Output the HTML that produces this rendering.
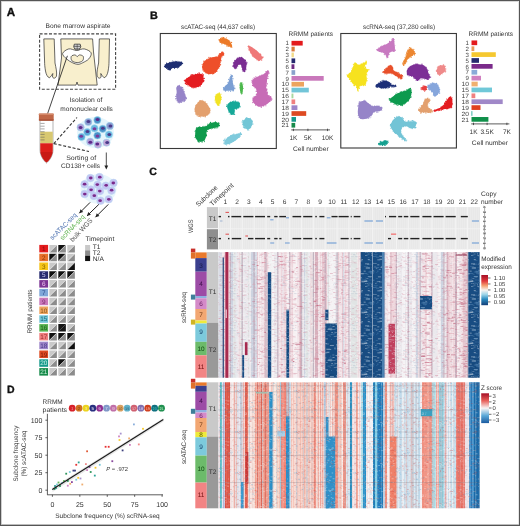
<!DOCTYPE html><html><head><meta charset="utf-8"><title>figure</title><style>html,body{margin:0;padding:0;background:#fff;overflow:hidden}svg{display:block;will-change:transform}text{font-family:"Liberation Sans",sans-serif;text-rendering:geometricPrecision}</style></head><body>
<svg width="520" height="526" viewBox="0 0 520 526">
<rect x="0" y="0" width="520" height="526" fill="#fff" />
<text x="6.7" y="16.3" font-size="11.6" text-anchor="start" fill="#111" font-weight="bold" stroke="#111" stroke-width="0.35" style="">A</text>
<text x="78" y="28.2" font-size="6.6" text-anchor="middle" fill="#333" font-weight="normal" textLength="65" lengthAdjust="spacingAndGlyphs"  style="">Bone marrow aspirate</text>
<path d="M43.8,38.9 L54.2,38.9 L55,63 C56,68 57,72 56.5,76 C55.5,78.5 53.5,78.8 52.5,77 L52.8,73.5 C51.8,75 51,76.5 49.5,77.8 C47.5,77.5 46,74 45.5,71 C44.8,67 44.6,64 44.6,62 Z" fill="#f8efcd" stroke="#2a2a2a" stroke-width="0.7"/>
<path d="M109.5,38.9 L99.3,38.9 L98.6,63 C97.6,68 96.6,72 97.1,76 C98.1,78.5 100.1,78.8 101.1,77 L100.8,73.5 C101.8,75 102.6,76.5 104.1,77.8 C106.1,77.5 107.6,74 108.1,71 C108.8,67 109,64 109,62 Z" fill="#f8efcd" stroke="#2a2a2a" stroke-width="0.7"/>
<path d="M60.8,38.9 L92.6,38.9 L93.5,52 L97.2,85.1 L78,85.1 L77,82 L76,85.1 L58,85.1 L61.5,58 Z" fill="#f8efcd" stroke="#2a2a2a" stroke-width="0.7"/>
<path d="M62.6,53.5C62.98,51.83 66.48,49.42 68.8,48.9C71.12,48.38 73.93,50.4 76.5,50.4C79.07,50.4 81.77,48.5 84.2,48.9C86.63,49.3 90.33,51.13 91.1,52.8C91.87,54.47 90.22,57.23 88.8,58.9C87.38,60.57 84.4,61.9 82.6,62.8C80.8,63.7 79.67,64.3 78,64.3C76.33,64.3 74.52,63.7 72.6,62.8C70.68,61.9 68.17,60.45 66.5,58.9C64.83,57.35 62.22,55.17 62.6,53.5Z" fill="#fff" stroke="#2a2a2a" stroke-width="0.7"/>
<path d="M71.33,56.36C71.85,55.38 74.1,54.88 75.08,54.92C76.05,54.96 76.47,56.6 77.2,56.6C77.93,56.6 78.45,54.96 79.45,54.92C80.45,54.88 82.68,55.38 83.2,56.36C83.72,57.34 83.58,59.76 82.58,60.8C81.58,61.84 78.97,62.6 77.2,62.6C75.43,62.6 72.93,61.84 71.95,60.8C70.97,59.76 70.8,57.34 71.33,56.36Z" fill="#f8efcd" stroke="#2a2a2a" stroke-width="0.7"/>
<path d="M74.3,44.2 L80.2,44.2 L80.8,46.8 L79.2,49.8 L75.3,49.8 L73.7,46.8 Z" fill="#fff" stroke="#2a2a2a" stroke-width="0.8"/>
<line x1="74" y1="46.2" x2="80.5" y2="46.2" stroke="#2a2a2a" stroke-width="0.9" />
<line x1="74.6" y1="48.2" x2="79.9" y2="48.2" stroke="#2a2a2a" stroke-width="0.7" />
<line x1="77.2" y1="44.2" x2="77.2" y2="49.8" stroke="#2a2a2a" stroke-width="0.5" />
<rect x="39.6" y="33.9" width="76" height="55.3" fill="none" stroke="#444" stroke-width="1.1" stroke-dasharray="3,1.7"/>
<line x1="67.4" y1="55.8" x2="47.6" y2="113.6" stroke="#222" stroke-width="0.85" />
<text x="86" y="102.2" font-size="6.6" text-anchor="middle" fill="#333" font-weight="normal" textLength="32.5" lengthAdjust="spacingAndGlyphs"  style="">Isolation of</text>
<text x="86.6" y="110.6" font-size="6.6" text-anchor="middle" fill="#333" font-weight="normal" textLength="52.5" lengthAdjust="spacingAndGlyphs"  style="">mononuclear cells</text>
<path d="M40,120.5 L53,120.5 L53,150 C53,156 49,161 46.5,163 C44,161 40,156 40,150 Z" fill="#fff" stroke="#666" stroke-width="0.5"/>
<rect x="40.25" y="131.7" width="12.5" height="11.5" fill="#d8c870"/>
<path d="M40.25,143.2 L52.75,143.2 L52.75,150 C52.75,156 49,160.6 46.5,162.6 C44,160.6 40.25,156 40.25,150 Z" fill="#dc1f1a"/>
<path d="M40.25,152 C41,157 44,160.6 46.5,162.6 C49,160.6 52,157 52.75,152 Z" fill="#b01510" opacity="0.45"/>
<rect x="38.9" y="113.5" width="14.8" height="7.2" rx="0.8" fill="#c06848"/>
<rect x="38.9" y="113.5" width="14.8" height="1.5" fill="#d89070" opacity="0.8"/>
<rect x="38.9" y="119.2" width="14.8" height="1.5" fill="#a85038" opacity="0.8"/>
<line x1="40.4" y1="123.4" x2="44.6" y2="123.4" stroke="#555" stroke-width="0.5" />
<line x1="40.4" y1="126.2" x2="44.6" y2="126.2" stroke="#555" stroke-width="0.5" />
<line x1="40.4" y1="128.9" x2="44.6" y2="128.9" stroke="#555" stroke-width="0.5" />
<line x1="40.4" y1="131.7" x2="44.6" y2="131.7" stroke="#555" stroke-width="0.5" />
<line x1="40.4" y1="134.4" x2="44.6" y2="134.4" stroke="#555" stroke-width="0.5" />
<line x1="40.4" y1="137.2" x2="44.6" y2="137.2" stroke="#555" stroke-width="0.5" />
<line x1="40.4" y1="139.9" x2="44.6" y2="139.9" stroke="#555" stroke-width="0.5" />
<line x1="53.8" y1="143.6" x2="77" y2="117.5" stroke="#333" stroke-width="1.1" stroke-dasharray="3,1.8"/>
<line x1="53.8" y1="143.6" x2="89" y2="151.5" stroke="#333" stroke-width="1.1" stroke-dasharray="3,1.8"/>
<ellipse cx="95.5" cy="132.5" rx="18.5" ry="15.5" fill="#dff3fb" opacity="0.8"/>
<circle cx="88.3" cy="122" r="3.6" fill="#8a9ad0" stroke="#9ad8f0" stroke-width="0.6"/>
<ellipse cx="88.4" cy="121.5" rx="1.9" ry="1.5" fill="#4a3a8a"/>
<circle cx="97.4" cy="120.1" r="3.6" fill="#4a92c8" stroke="#9ad8f0" stroke-width="0.6"/>
<ellipse cx="97.6" cy="119.5" rx="1.9" ry="1.5" fill="#5a2a8a"/>
<circle cx="80.6" cy="127.3" r="3.6" fill="#b0a0d8" stroke="#9ad8f0" stroke-width="0.6"/>
<ellipse cx="80.6" cy="127.4" rx="1.9" ry="1.5" fill="#5a2a8a"/>
<circle cx="94.5" cy="128.3" r="3.6" fill="#6ab8e0" stroke="#9ad8f0" stroke-width="0.6"/>
<ellipse cx="94.5" cy="128.8" rx="1.9" ry="1.5" fill="#7a3a9a"/>
<circle cx="102.7" cy="128.8" r="3.6" fill="#4a92c8" stroke="#9ad8f0" stroke-width="0.6"/>
<ellipse cx="102.9" cy="128.3" rx="1.9" ry="1.5" fill="#4a3a8a"/>
<circle cx="109.9" cy="125.9" r="3.6" fill="#8a9ad0" stroke="#9ad8f0" stroke-width="0.6"/>
<ellipse cx="110.4" cy="125.9" rx="1.9" ry="1.5" fill="#4a3a8a"/>
<circle cx="87.3" cy="132.1" r="3.6" fill="#5aaad8" stroke="#9ad8f0" stroke-width="0.6"/>
<ellipse cx="87.5" cy="131.5" rx="1.9" ry="1.5" fill="#4a3a8a"/>
<circle cx="81.5" cy="136.9" r="3.6" fill="#5aaad8" stroke="#9ad8f0" stroke-width="0.6"/>
<ellipse cx="81.2" cy="136.2" rx="1.9" ry="1.5" fill="#7a3a9a"/>
<circle cx="97.4" cy="135.5" r="3.6" fill="#4a92c8" stroke="#9ad8f0" stroke-width="0.6"/>
<ellipse cx="97.5" cy="136.1" rx="1.9" ry="1.5" fill="#7a3a9a"/>
<circle cx="108.9" cy="134.5" r="3.6" fill="#6ab8e0" stroke="#9ad8f0" stroke-width="0.6"/>
<ellipse cx="109.3" cy="134.4" rx="1.9" ry="1.5" fill="#4a3a8a"/>
<circle cx="90.2" cy="141.7" r="3.6" fill="#b0a0d8" stroke="#9ad8f0" stroke-width="0.6"/>
<ellipse cx="90.3" cy="142.3" rx="1.9" ry="1.5" fill="#5a2a8a"/>
<circle cx="97.9" cy="144.6" r="3.6" fill="#c4a8d8" stroke="#9ad8f0" stroke-width="0.6"/>
<ellipse cx="97.3" cy="144.1" rx="1.9" ry="1.5" fill="#5a2a8a"/>
<circle cx="106.5" cy="142.7" r="3.6" fill="#c4a8d8" stroke="#9ad8f0" stroke-width="0.6"/>
<ellipse cx="107.2" cy="142.6" rx="1.9" ry="1.5" fill="#4a3a8a"/>
<text x="81.2" y="160.2" font-size="6.6" text-anchor="middle" fill="#333" font-weight="normal" textLength="30" lengthAdjust="spacingAndGlyphs"  style="">Sorting of</text>
<text x="80.6" y="167.8" font-size="6.6" text-anchor="middle" fill="#333" font-weight="normal" textLength="39" lengthAdjust="spacingAndGlyphs"  style="">CD138+ cells</text>
<line x1="106.3" y1="152.5" x2="106.3" y2="167" stroke="#222" stroke-width="0.8" />
<path d="M104.4,165.5 L106.3,169.5 L108.2,165.5 Z" fill="#222"/>
<ellipse cx="98.5" cy="189" rx="18" ry="15" fill="#e4f4fb" opacity="0.8"/>
<circle cx="90.4" cy="178.1" r="3.8" fill="#c4c4f2" stroke="#b8d8f4" stroke-width="0.6"/>
<ellipse cx="90.8" cy="178.0" rx="1.8" ry="1.4" fill="#7a2a8c"/>
<circle cx="99.5" cy="177.1" r="3.8" fill="#c4c4f2" stroke="#b8d8f4" stroke-width="0.6"/>
<ellipse cx="99.8" cy="177.2" rx="1.8" ry="1.4" fill="#7a2a8c"/>
<circle cx="84.6" cy="184.3" r="3.8" fill="#c4c4f2" stroke="#b8d8f4" stroke-width="0.6"/>
<ellipse cx="84.6" cy="184.2" rx="1.8" ry="1.4" fill="#7a2a8c"/>
<circle cx="97.6" cy="184.8" r="3.8" fill="#c4c4f2" stroke="#b8d8f4" stroke-width="0.6"/>
<ellipse cx="97.3" cy="184.6" rx="1.8" ry="1.4" fill="#7a2a8c"/>
<circle cx="105.8" cy="185.8" r="3.8" fill="#c4c4f2" stroke="#b8d8f4" stroke-width="0.6"/>
<ellipse cx="106.2" cy="185.3" rx="1.8" ry="1.4" fill="#7a2a8c"/>
<circle cx="113.5" cy="182.9" r="3.8" fill="#c4c4f2" stroke="#b8d8f4" stroke-width="0.6"/>
<ellipse cx="113.3" cy="183.0" rx="1.8" ry="1.4" fill="#7a2a8c"/>
<circle cx="90.9" cy="189.6" r="3.8" fill="#c4c4f2" stroke="#b8d8f4" stroke-width="0.6"/>
<ellipse cx="91.1" cy="189.8" rx="1.8" ry="1.4" fill="#7a2a8c"/>
<circle cx="100" cy="191.1" r="3.8" fill="#c4c4f2" stroke="#b8d8f4" stroke-width="0.6"/>
<ellipse cx="99.8" cy="191.1" rx="1.8" ry="1.4" fill="#7a2a8c"/>
<circle cx="111.5" cy="190.6" r="3.8" fill="#c4c4f2" stroke="#b8d8f4" stroke-width="0.6"/>
<ellipse cx="111.6" cy="190.2" rx="1.8" ry="1.4" fill="#7a2a8c"/>
<circle cx="84.6" cy="194" r="3.8" fill="#c4c4f2" stroke="#b8d8f4" stroke-width="0.6"/>
<ellipse cx="84.8" cy="194.1" rx="1.8" ry="1.4" fill="#7a2a8c"/>
<circle cx="93.8" cy="195.9" r="3.8" fill="#c4c4f2" stroke="#b8d8f4" stroke-width="0.6"/>
<ellipse cx="94.3" cy="195.7" rx="1.8" ry="1.4" fill="#7a2a8c"/>
<circle cx="100.5" cy="200.7" r="3.8" fill="#c4c4f2" stroke="#b8d8f4" stroke-width="0.6"/>
<ellipse cx="100.1" cy="200.7" rx="1.8" ry="1.4" fill="#7a2a8c"/>
<circle cx="108.7" cy="199.3" r="3.8" fill="#c4c4f2" stroke="#b8d8f4" stroke-width="0.6"/>
<ellipse cx="108.8" cy="199.3" rx="1.8" ry="1.4" fill="#7a2a8c"/>
<line x1="90.1" y1="202.4" x2="79.3" y2="213.2" stroke="#222" stroke-width="1.0" />
<path d="M79.3,213.2 L80.5,209.31 L83.19,212 Z" fill="#222"/>
<line x1="98.8" y1="204.4" x2="87" y2="215.9" stroke="#222" stroke-width="1.0" />
<path d="M87,215.9 L88.25,212.03 L90.9,214.75 Z" fill="#222"/>
<line x1="108.3" y1="204.4" x2="95.5" y2="217.2" stroke="#222" stroke-width="1.0" />
<path d="M95.5,217.2 L96.7,213.31 L99.39,216 Z" fill="#222"/>
<text transform="translate(52.6,240.3) rotate(-45)" font-size="6.8" fill="#4a6fb0" style="font-family:"Liberation Sans", sans-serif" textLength="35" lengthAdjust="spacingAndGlyphs">scATAC-seq</text>
<text transform="translate(62.7,240.5) rotate(-45.8)" font-size="6.8" fill="#5ab04a" style="font-family:"Liberation Sans", sans-serif" textLength="32.5" lengthAdjust="spacingAndGlyphs">scRNA-seq</text>
<text transform="translate(72.8,242.3) rotate(-46.8)" font-size="6.8" fill="#555" style="font-family:"Liberation Sans", sans-serif" textLength="29.5" lengthAdjust="spacingAndGlyphs">bulk WGS</text>
<text x="85.4" y="241" font-size="6.6" text-anchor="start" fill="#333" font-weight="normal" textLength="29" lengthAdjust="spacingAndGlyphs"  style="">Timepoint</text>
<rect x="85.1" y="245" width="5" height="5.35" fill="#c9c9c9" />
<text x="92.8" y="249.2" font-size="6.6" text-anchor="start" fill="#333" font-weight="normal"  style="">T1</text>
<rect x="85.1" y="250.35" width="5" height="5.35" fill="#8c8c8c" />
<text x="92.8" y="254.9" font-size="6.6" text-anchor="start" fill="#333" font-weight="normal"  style="">T2</text>
<rect x="85.1" y="255.7" width="5" height="5.35" fill="#111" />
<text x="92.8" y="260.6" font-size="6.6" text-anchor="start" fill="#333" font-weight="normal"  style="">N/A</text>
<rect x="39.3" y="244.9" width="8.8" height="7.5" fill="#e31a1c" />
<text x="43.7" y="251" font-size="6.4" text-anchor="middle" fill="#8a0a0c" font-weight="normal"  style="">1</text>
<path d="M49.3,244.9 L56.9,244.9 L49.3,252.4 Z" fill="#c9c9c9"/>
<path d="M56.9,244.9 L56.9,252.4 L49.3,252.4 Z" fill="#8c8c8c"/>
<line x1="49.3" y1="252.4" x2="56.9" y2="244.9" stroke="#fff" stroke-width="0.5"/>
<path d="M58.3,244.9 L65.9,244.9 L58.3,252.4 Z" fill="#111"/>
<path d="M65.9,244.9 L65.9,252.4 L58.3,252.4 Z" fill="#8c8c8c"/>
<line x1="58.3" y1="252.4" x2="65.9" y2="244.9" stroke="#fff" stroke-width="0.5"/>
<path d="M67.3,244.9 L74.9,244.9 L67.3,252.4 Z" fill="#c9c9c9"/>
<path d="M74.9,244.9 L74.9,252.4 L67.3,252.4 Z" fill="#8c8c8c"/>
<line x1="67.3" y1="252.4" x2="74.9" y2="244.9" stroke="#fff" stroke-width="0.5"/>
<rect x="39.3" y="253.7" width="8.8" height="7.5" fill="#e8702a" />
<text x="43.7" y="259.8" font-size="6.4" text-anchor="middle" fill="#8a3a0a" font-weight="normal"  style="">2</text>
<path d="M49.3,253.7 L56.9,253.7 L49.3,261.2 Z" fill="#111"/>
<path d="M56.9,253.7 L56.9,261.2 L49.3,261.2 Z" fill="#8c8c8c"/>
<line x1="49.3" y1="261.2" x2="56.9" y2="253.7" stroke="#fff" stroke-width="0.5"/>
<path d="M58.3,253.7 L65.9,253.7 L58.3,261.2 Z" fill="#111"/>
<path d="M65.9,253.7 L65.9,261.2 L58.3,261.2 Z" fill="#8c8c8c"/>
<line x1="58.3" y1="261.2" x2="65.9" y2="253.7" stroke="#fff" stroke-width="0.5"/>
<path d="M67.3,253.7 L74.9,253.7 L67.3,261.2 Z" fill="#c9c9c9"/>
<path d="M74.9,253.7 L74.9,261.2 L67.3,261.2 Z" fill="#8c8c8c"/>
<line x1="67.3" y1="261.2" x2="74.9" y2="253.7" stroke="#fff" stroke-width="0.5"/>
<rect x="39.3" y="262.5" width="8.8" height="7.5" fill="#f6c417" />
<text x="43.7" y="268.6" font-size="6.4" text-anchor="middle" fill="#8a6a00" font-weight="normal"  style="">3</text>
<path d="M49.3,262.5 L56.9,262.5 L49.3,270 Z" fill="#c9c9c9"/>
<path d="M56.9,262.5 L56.9,270 L49.3,270 Z" fill="#8c8c8c"/>
<line x1="49.3" y1="270" x2="56.9" y2="262.5" stroke="#fff" stroke-width="0.5"/>
<path d="M58.3,262.5 L65.9,262.5 L58.3,270 Z" fill="#c9c9c9"/>
<path d="M65.9,262.5 L65.9,270 L58.3,270 Z" fill="#8c8c8c"/>
<line x1="58.3" y1="270" x2="65.9" y2="262.5" stroke="#fff" stroke-width="0.5"/>
<path d="M67.3,262.5 L74.9,262.5 L67.3,270 Z" fill="#c9c9c9"/>
<path d="M74.9,262.5 L74.9,270 L67.3,270 Z" fill="#111"/>
<line x1="67.3" y1="270" x2="74.9" y2="262.5" stroke="#fff" stroke-width="0.5"/>
<rect x="39.3" y="271.3" width="8.8" height="7.5" fill="#262a6e" />
<text x="43.7" y="277.4" font-size="6.4" text-anchor="middle" fill="#c8c8f0" font-weight="normal"  style="">5</text>
<path d="M49.3,271.3 L56.9,271.3 L49.3,278.8 Z" fill="#111"/>
<path d="M56.9,271.3 L56.9,278.8 L49.3,278.8 Z" fill="#8c8c8c"/>
<line x1="49.3" y1="278.8" x2="56.9" y2="271.3" stroke="#fff" stroke-width="0.5"/>
<path d="M58.3,271.3 L65.9,271.3 L58.3,278.8 Z" fill="#111"/>
<path d="M65.9,271.3 L65.9,278.8 L58.3,278.8 Z" fill="#8c8c8c"/>
<line x1="58.3" y1="278.8" x2="65.9" y2="271.3" stroke="#fff" stroke-width="0.5"/>
<path d="M67.3,271.3 L74.9,271.3 L67.3,278.8 Z" fill="#111"/>
<path d="M74.9,271.3 L74.9,278.8 L67.3,278.8 Z" fill="#8c8c8c"/>
<line x1="67.3" y1="278.8" x2="74.9" y2="271.3" stroke="#fff" stroke-width="0.5"/>
<rect x="39.3" y="280.1" width="8.8" height="7.5" fill="#7d3594" />
<text x="43.7" y="286.2" font-size="6.4" text-anchor="middle" fill="#f0c8f0" font-weight="normal"  style="">6</text>
<path d="M49.3,280.1 L56.9,280.1 L49.3,287.6 Z" fill="#c9c9c9"/>
<path d="M56.9,280.1 L56.9,287.6 L49.3,287.6 Z" fill="#8c8c8c"/>
<line x1="49.3" y1="287.6" x2="56.9" y2="280.1" stroke="#fff" stroke-width="0.5"/>
<path d="M58.3,280.1 L65.9,280.1 L58.3,287.6 Z" fill="#c9c9c9"/>
<path d="M65.9,280.1 L65.9,287.6 L58.3,287.6 Z" fill="#8c8c8c"/>
<line x1="58.3" y1="287.6" x2="65.9" y2="280.1" stroke="#fff" stroke-width="0.5"/>
<path d="M67.3,280.1 L74.9,280.1 L67.3,287.6 Z" fill="#c9c9c9"/>
<path d="M74.9,280.1 L74.9,287.6 L67.3,287.6 Z" fill="#8c8c8c"/>
<line x1="67.3" y1="287.6" x2="74.9" y2="280.1" stroke="#fff" stroke-width="0.5"/>
<rect x="39.3" y="288.9" width="8.8" height="7.5" fill="#7ea6d8" />
<text x="43.7" y="295" font-size="6.4" text-anchor="middle" fill="#2a4a8a" font-weight="normal"  style="">7</text>
<path d="M49.3,288.9 L56.9,288.9 L49.3,296.4 Z" fill="#c9c9c9"/>
<path d="M56.9,288.9 L56.9,296.4 L49.3,296.4 Z" fill="#8c8c8c"/>
<line x1="49.3" y1="296.4" x2="56.9" y2="288.9" stroke="#fff" stroke-width="0.5"/>
<path d="M58.3,288.9 L65.9,288.9 L58.3,296.4 Z" fill="#c9c9c9"/>
<path d="M65.9,288.9 L65.9,296.4 L58.3,296.4 Z" fill="#8c8c8c"/>
<line x1="58.3" y1="296.4" x2="65.9" y2="288.9" stroke="#fff" stroke-width="0.5"/>
<path d="M67.3,288.9 L74.9,288.9 L67.3,296.4 Z" fill="#c9c9c9"/>
<path d="M74.9,288.9 L74.9,296.4 L67.3,296.4 Z" fill="#8c8c8c"/>
<line x1="67.3" y1="296.4" x2="74.9" y2="288.9" stroke="#fff" stroke-width="0.5"/>
<rect x="39.3" y="297.7" width="8.8" height="7.5" fill="#c978bb" />
<text x="43.7" y="303.8" font-size="6.4" text-anchor="middle" fill="#7a2a6a" font-weight="normal"  style="">9</text>
<path d="M49.3,297.7 L56.9,297.7 L49.3,305.2 Z" fill="#c9c9c9"/>
<path d="M56.9,297.7 L56.9,305.2 L49.3,305.2 Z" fill="#8c8c8c"/>
<line x1="49.3" y1="305.2" x2="56.9" y2="297.7" stroke="#fff" stroke-width="0.5"/>
<path d="M58.3,297.7 L65.9,297.7 L58.3,305.2 Z" fill="#c9c9c9"/>
<path d="M65.9,297.7 L65.9,305.2 L58.3,305.2 Z" fill="#8c8c8c"/>
<line x1="58.3" y1="305.2" x2="65.9" y2="297.7" stroke="#fff" stroke-width="0.5"/>
<path d="M67.3,297.7 L74.9,297.7 L67.3,305.2 Z" fill="#c9c9c9"/>
<path d="M74.9,297.7 L74.9,305.2 L67.3,305.2 Z" fill="#8c8c8c"/>
<line x1="67.3" y1="305.2" x2="74.9" y2="297.7" stroke="#fff" stroke-width="0.5"/>
<rect x="39.3" y="306.5" width="8.8" height="7.5" fill="#eda45f" />
<text x="43.7" y="312.6" font-size="6.4" text-anchor="middle" fill="#8a5a1a" font-weight="normal"  style="">10</text>
<path d="M49.3,306.5 L56.9,306.5 L49.3,314 Z" fill="#c9c9c9"/>
<path d="M56.9,306.5 L56.9,314 L49.3,314 Z" fill="#8c8c8c"/>
<line x1="49.3" y1="314" x2="56.9" y2="306.5" stroke="#fff" stroke-width="0.5"/>
<path d="M58.3,306.5 L65.9,306.5 L58.3,314 Z" fill="#c9c9c9"/>
<path d="M65.9,306.5 L65.9,314 L58.3,314 Z" fill="#8c8c8c"/>
<line x1="58.3" y1="314" x2="65.9" y2="306.5" stroke="#fff" stroke-width="0.5"/>
<path d="M67.3,306.5 L74.9,306.5 L67.3,314 Z" fill="#c9c9c9"/>
<path d="M74.9,306.5 L74.9,314 L67.3,314 Z" fill="#8c8c8c"/>
<line x1="67.3" y1="314" x2="74.9" y2="306.5" stroke="#fff" stroke-width="0.5"/>
<rect x="39.3" y="315.3" width="8.8" height="7.5" fill="#72c5d8" />
<text x="43.7" y="321.4" font-size="6.4" text-anchor="middle" fill="#1a6a7a" font-weight="normal"  style="">15</text>
<path d="M49.3,315.3 L56.9,315.3 L49.3,322.8 Z" fill="#c9c9c9"/>
<path d="M56.9,315.3 L56.9,322.8 L49.3,322.8 Z" fill="#8c8c8c"/>
<line x1="49.3" y1="322.8" x2="56.9" y2="315.3" stroke="#fff" stroke-width="0.5"/>
<path d="M58.3,315.3 L65.9,315.3 L58.3,322.8 Z" fill="#c9c9c9"/>
<path d="M65.9,315.3 L65.9,322.8 L58.3,322.8 Z" fill="#8c8c8c"/>
<line x1="58.3" y1="322.8" x2="65.9" y2="315.3" stroke="#fff" stroke-width="0.5"/>
<path d="M67.3,315.3 L74.9,315.3 L67.3,322.8 Z" fill="#c9c9c9"/>
<path d="M74.9,315.3 L74.9,322.8 L67.3,322.8 Z" fill="#8c8c8c"/>
<line x1="67.3" y1="322.8" x2="74.9" y2="315.3" stroke="#fff" stroke-width="0.5"/>
<rect x="39.3" y="324.1" width="8.8" height="7.5" fill="#55b24f" />
<text x="43.7" y="330.2" font-size="6.4" text-anchor="middle" fill="#1a5a1a" font-weight="normal"  style="">16</text>
<path d="M49.3,324.1 L56.9,324.1 L49.3,331.6 Z" fill="#c9c9c9"/>
<path d="M56.9,324.1 L56.9,331.6 L49.3,331.6 Z" fill="#8c8c8c"/>
<line x1="49.3" y1="331.6" x2="56.9" y2="324.1" stroke="#fff" stroke-width="0.5"/>
<path d="M58.3,324.1 L65.9,324.1 L58.3,331.6 Z" fill="#161616"/>
<path d="M65.9,324.1 L65.9,331.6 L58.3,331.6 Z" fill="#161616"/>
<path d="M67.3,324.1 L74.9,324.1 L67.3,331.6 Z" fill="#c9c9c9"/>
<path d="M74.9,324.1 L74.9,331.6 L67.3,331.6 Z" fill="#8c8c8c"/>
<line x1="67.3" y1="331.6" x2="74.9" y2="324.1" stroke="#fff" stroke-width="0.5"/>
<rect x="39.3" y="332.9" width="8.8" height="7.5" fill="#ef8080" />
<text x="43.7" y="339" font-size="6.4" text-anchor="middle" fill="#9a2a2a" font-weight="normal"  style="">17</text>
<path d="M49.3,332.9 L56.9,332.9 L49.3,340.4 Z" fill="#111"/>
<path d="M56.9,332.9 L56.9,340.4 L49.3,340.4 Z" fill="#8c8c8c"/>
<line x1="49.3" y1="340.4" x2="56.9" y2="332.9" stroke="#fff" stroke-width="0.5"/>
<path d="M58.3,332.9 L65.9,332.9 L58.3,340.4 Z" fill="#111"/>
<path d="M65.9,332.9 L65.9,340.4 L58.3,340.4 Z" fill="#8c8c8c"/>
<line x1="58.3" y1="340.4" x2="65.9" y2="332.9" stroke="#fff" stroke-width="0.5"/>
<path d="M67.3,332.9 L74.9,332.9 L67.3,340.4 Z" fill="#111"/>
<path d="M74.9,332.9 L74.9,340.4 L67.3,340.4 Z" fill="#8c8c8c"/>
<line x1="67.3" y1="340.4" x2="74.9" y2="332.9" stroke="#fff" stroke-width="0.5"/>
<rect x="39.3" y="341.7" width="8.8" height="7.5" fill="#9d86c9" />
<text x="43.7" y="347.8" font-size="6.4" text-anchor="middle" fill="#4a3a8a" font-weight="normal"  style="">18</text>
<path d="M49.3,341.7 L56.9,341.7 L49.3,349.2 Z" fill="#c9c9c9"/>
<path d="M56.9,341.7 L56.9,349.2 L49.3,349.2 Z" fill="#8c8c8c"/>
<line x1="49.3" y1="349.2" x2="56.9" y2="341.7" stroke="#fff" stroke-width="0.5"/>
<path d="M58.3,341.7 L65.9,341.7 L58.3,349.2 Z" fill="#c9c9c9"/>
<path d="M65.9,341.7 L65.9,349.2 L58.3,349.2 Z" fill="#8c8c8c"/>
<line x1="58.3" y1="349.2" x2="65.9" y2="341.7" stroke="#fff" stroke-width="0.5"/>
<path d="M67.3,341.7 L74.9,341.7 L67.3,349.2 Z" fill="#c9c9c9"/>
<path d="M74.9,341.7 L74.9,349.2 L67.3,349.2 Z" fill="#111"/>
<line x1="67.3" y1="349.2" x2="74.9" y2="341.7" stroke="#fff" stroke-width="0.5"/>
<rect x="39.3" y="350.5" width="8.8" height="7.5" fill="#dd4a22" />
<text x="43.7" y="356.6" font-size="6.4" text-anchor="middle" fill="#7a1a0a" font-weight="normal"  style="">19</text>
<path d="M49.3,350.5 L56.9,350.5 L49.3,358 Z" fill="#c9c9c9"/>
<path d="M56.9,350.5 L56.9,358 L49.3,358 Z" fill="#8c8c8c"/>
<line x1="49.3" y1="358" x2="56.9" y2="350.5" stroke="#fff" stroke-width="0.5"/>
<path d="M58.3,350.5 L65.9,350.5 L58.3,358 Z" fill="#c9c9c9"/>
<path d="M65.9,350.5 L65.9,358 L58.3,358 Z" fill="#8c8c8c"/>
<line x1="58.3" y1="358" x2="65.9" y2="350.5" stroke="#fff" stroke-width="0.5"/>
<path d="M67.3,350.5 L74.9,350.5 L67.3,358 Z" fill="#c9c9c9"/>
<path d="M74.9,350.5 L74.9,358 L67.3,358 Z" fill="#8c8c8c"/>
<line x1="67.3" y1="358" x2="74.9" y2="350.5" stroke="#fff" stroke-width="0.5"/>
<rect x="39.3" y="359.3" width="8.8" height="7.5" fill="#15998a" />
<text x="43.7" y="365.4" font-size="6.4" text-anchor="middle" fill="#c8f0e8" font-weight="normal"  style="">20</text>
<path d="M49.3,359.3 L56.9,359.3 L49.3,366.8 Z" fill="#c9c9c9"/>
<path d="M56.9,359.3 L56.9,366.8 L49.3,366.8 Z" fill="#8c8c8c"/>
<line x1="49.3" y1="366.8" x2="56.9" y2="359.3" stroke="#fff" stroke-width="0.5"/>
<path d="M58.3,359.3 L65.9,359.3 L58.3,366.8 Z" fill="#111"/>
<path d="M65.9,359.3 L65.9,366.8 L58.3,366.8 Z" fill="#8c8c8c"/>
<line x1="58.3" y1="366.8" x2="65.9" y2="359.3" stroke="#fff" stroke-width="0.5"/>
<path d="M67.3,359.3 L74.9,359.3 L67.3,366.8 Z" fill="#c9c9c9"/>
<path d="M74.9,359.3 L74.9,366.8 L67.3,366.8 Z" fill="#8c8c8c"/>
<line x1="67.3" y1="366.8" x2="74.9" y2="359.3" stroke="#fff" stroke-width="0.5"/>
<rect x="39.3" y="368.1" width="8.8" height="7.5" fill="#168a4a" />
<text x="43.7" y="374.2" font-size="6.4" text-anchor="middle" fill="#c8f0d8" font-weight="normal"  style="">21</text>
<path d="M49.3,368.1 L56.9,368.1 L49.3,375.6 Z" fill="#c9c9c9"/>
<path d="M56.9,368.1 L56.9,375.6 L49.3,375.6 Z" fill="#8c8c8c"/>
<line x1="49.3" y1="375.6" x2="56.9" y2="368.1" stroke="#fff" stroke-width="0.5"/>
<path d="M58.3,368.1 L65.9,368.1 L58.3,375.6 Z" fill="#c9c9c9"/>
<path d="M65.9,368.1 L65.9,375.6 L58.3,375.6 Z" fill="#8c8c8c"/>
<line x1="58.3" y1="375.6" x2="65.9" y2="368.1" stroke="#fff" stroke-width="0.5"/>
<path d="M67.3,368.1 L74.9,368.1 L67.3,375.6 Z" fill="#c9c9c9"/>
<path d="M74.9,368.1 L74.9,375.6 L67.3,375.6 Z" fill="#8c8c8c"/>
<line x1="67.3" y1="375.6" x2="74.9" y2="368.1" stroke="#fff" stroke-width="0.5"/>
<text transform="translate(31.8,333.5) rotate(-90)" font-size="6.6" fill="#333" style="font-family:"Liberation Sans", sans-serif" textLength="44" lengthAdjust="spacingAndGlyphs">RRMM patients</text>
<text x="149.9" y="18.5" font-size="10.8" text-anchor="start" fill="#111" font-weight="bold" stroke="#111" stroke-width="0.35" style="">B</text>
<text x="218" y="28.6" font-size="6.6" text-anchor="middle" fill="#333" font-weight="normal" textLength="74" lengthAdjust="spacingAndGlyphs"  style="">scATAC-seq (44,637 cells)</text>
<rect x="160.3" y="33.5" width="116" height="115" fill="#fff" stroke="#383838" stroke-width="1.1"/>
<path d="M219.2,40C219.33,39.15 221.13,38.25 222.3,38C223.47,37.75 224.92,37.92 226.2,38.5C227.48,39.08 229.03,40.35 230,41.5C230.97,42.65 231.75,44.5 232,45.4C232.25,46.3 231.97,46.77 231.5,46.9C231.03,47.03 230.22,46.58 229.2,46.2C228.18,45.82 226.68,45.12 225.4,44.6C224.12,44.08 222.53,43.87 221.5,43.1C220.47,42.33 219.07,40.85 219.2,40Z" fill="#ec7a28" />
<path fill="#ec7a28" d="M218.32 39.65a0.43 0.43 0 1 0 0.86 0a0.43 0.43 0 1 0 -0.86 0zM219.33 39.42a0.5 0.5 0 1 0 1.01 0a0.5 0.5 0 1 0 -1.01 0zM220 38.38a0.52 0.52 0 1 0 1.04 0a0.52 0.52 0 1 0 -1.04 0zM221.09 37.81a0.51 0.51 0 1 0 1.01 0a0.51 0.51 0 1 0 -1.01 0zM222.06 38.31a0.73 0.73 0 1 0 1.46 0a0.73 0.73 0 1 0 -1.46 0zM222.39 37.2a0.51 0.51 0 1 0 1.02 0a0.51 0.51 0 1 0 -1.02 0zM223.01 37.84a0.75 0.75 0 1 0 1.49 0a0.75 0.75 0 1 0 -1.49 0zM225.86 37.83a0.44 0.44 0 1 0 0.87 0a0.44 0.44 0 1 0 -0.87 0zM228.32 40.65a0.36 0.36 0 1 0 0.72 0a0.36 0.36 0 1 0 -0.72 0zM228.08 40.36a0.52 0.52 0 1 0 1.04 0a0.52 0.52 0 1 0 -1.04 0zM229.16 40.65a0.48 0.48 0 1 0 0.96 0a0.48 0.48 0 1 0 -0.96 0zM229.58 41.83a0.43 0.43 0 1 0 0.87 0a0.43 0.43 0 1 0 -0.87 0zM230.95 42.49a0.63 0.63 0 1 0 1.26 0a0.63 0.63 0 1 0 -1.26 0zM231.11 44.94a0.39 0.39 0 1 0 0.78 0a0.39 0.39 0 1 0 -0.78 0zM231.25 45.8a0.41 0.41 0 1 0 0.82 0a0.41 0.41 0 1 0 -0.82 0zM230.81 46.01a0.68 0.68 0 1 0 1.36 0a0.68 0.68 0 1 0 -1.36 0zM230.59 46.34a0.58 0.58 0 1 0 1.17 0a0.58 0.58 0 1 0 -1.17 0zM230.85 46.71a0.68 0.68 0 1 0 1.36 0a0.68 0.68 0 1 0 -1.36 0zM231.64 47.49a0.39 0.39 0 1 0 0.77 0a0.39 0.39 0 1 0 -0.77 0zM230.3 47.12a0.53 0.53 0 1 0 1.06 0a0.53 0.53 0 1 0 -1.06 0zM230.17 46.35a0.7 0.7 0 1 0 1.4 0a0.7 0.7 0 1 0 -1.4 0zM229.46 45.76a0.47 0.47 0 1 0 0.94 0a0.47 0.47 0 1 0 -0.94 0zM228.12 46.2a0.74 0.74 0 1 0 1.47 0a0.74 0.74 0 1 0 -1.47 0zM226.34 45.98a0.72 0.72 0 1 0 1.44 0a0.72 0.72 0 1 0 -1.44 0zM226.44 44.93a0.61 0.61 0 1 0 1.23 0a0.61 0.61 0 1 0 -1.23 0zM224.44 44.04a0.5 0.5 0 1 0 1 0a0.5 0.5 0 1 0 -1 0zM221.29 43.78a0.62 0.62 0 1 0 1.23 0a0.62 0.62 0 1 0 -1.23 0zM219.78 42.27a0.69 0.69 0 1 0 1.39 0a0.69 0.69 0 1 0 -1.39 0zM219.02 41.74a0.56 0.56 0 1 0 1.13 0a0.56 0.56 0 1 0 -1.13 0zM218.62 40.32a0.66 0.66 0 1 0 1.33 0a0.66 0.66 0 1 0 -1.33 0z"/>
<path d="M202.3,66.9C202.18,65.62 202.45,64.25 203.1,63.1C203.75,61.95 204.92,60.9 206.2,60C207.48,59.1 209.27,58.22 210.8,57.7C212.33,57.18 214.12,57.15 215.4,56.9C216.68,56.65 217.73,56.72 218.5,56.2C219.27,55.68 219.37,54.45 220,53.8C220.63,53.15 221.67,52.22 222.3,52.3C222.93,52.38 223.93,53.53 223.8,54.3C223.67,55.07 222,55.82 221.5,56.9C221,57.98 221.18,59.13 220.8,60.8C220.42,62.47 219.97,65.12 219.2,66.9C218.43,68.68 217.35,70.35 216.2,71.5C215.05,72.65 213.72,73.42 212.3,73.8C210.88,74.18 209.12,74.3 207.7,73.8C206.28,73.3 204.7,71.95 203.8,70.8C202.9,69.65 202.42,68.18 202.3,66.9Z" fill="#ee4f2a" />
<path fill="#ee4f2a" d="M201.88 66.6a0.56 0.56 0 1 0 1.12 0a0.56 0.56 0 1 0 -1.12 0zM201.5 64.68a0.36 0.36 0 1 0 0.72 0a0.36 0.36 0 1 0 -0.72 0zM202.46 64.17a0.5 0.5 0 1 0 1 0a0.5 0.5 0 1 0 -1 0zM203.4 63.08a0.65 0.65 0 1 0 1.31 0a0.65 0.65 0 1 0 -1.31 0zM203.2 61.74a0.42 0.42 0 1 0 0.84 0a0.42 0.42 0 1 0 -0.84 0zM203.99 62.13a0.53 0.53 0 1 0 1.06 0a0.53 0.53 0 1 0 -1.06 0zM203.23 61.11a0.73 0.73 0 1 0 1.46 0a0.73 0.73 0 1 0 -1.46 0zM204.79 60.91a0.58 0.58 0 1 0 1.16 0a0.58 0.58 0 1 0 -1.16 0zM206.04 59.97a0.71 0.71 0 1 0 1.41 0a0.71 0.71 0 1 0 -1.41 0zM205.96 59.61a0.38 0.38 0 1 0 0.76 0a0.38 0.38 0 1 0 -0.76 0zM206.75 59.1a0.48 0.48 0 1 0 0.96 0a0.48 0.48 0 1 0 -0.96 0zM208.52 58.3a0.6 0.6 0 1 0 1.21 0a0.6 0.6 0 1 0 -1.21 0zM208.4 57.5a0.59 0.59 0 1 0 1.17 0a0.59 0.59 0 1 0 -1.17 0zM210.13 57.43a0.44 0.44 0 1 0 0.88 0a0.44 0.44 0 1 0 -0.88 0zM210.06 58.13a0.63 0.63 0 1 0 1.26 0a0.63 0.63 0 1 0 -1.26 0zM210.65 57.34a0.42 0.42 0 1 0 0.84 0a0.42 0.42 0 1 0 -0.84 0zM212.3 57.5a0.57 0.57 0 1 0 1.15 0a0.57 0.57 0 1 0 -1.15 0zM213.48 57.58a0.62 0.62 0 1 0 1.24 0a0.62 0.62 0 1 0 -1.24 0zM214.33 57.26a0.38 0.38 0 1 0 0.77 0a0.38 0.38 0 1 0 -0.77 0zM214.5 57.15a0.7 0.7 0 1 0 1.4 0a0.7 0.7 0 1 0 -1.4 0zM215.73 56.93a0.37 0.37 0 1 0 0.74 0a0.37 0.37 0 1 0 -0.74 0zM215.78 56.7a0.42 0.42 0 1 0 0.84 0a0.42 0.42 0 1 0 -0.84 0zM217.63 55.93a0.5 0.5 0 1 0 1 0a0.5 0.5 0 1 0 -1 0zM218.38 56.72a0.53 0.53 0 1 0 1.06 0a0.53 0.53 0 1 0 -1.06 0zM218.61 56.45a0.68 0.68 0 1 0 1.35 0a0.68 0.68 0 1 0 -1.35 0zM218.03 55.24a0.48 0.48 0 1 0 0.95 0a0.48 0.48 0 1 0 -0.95 0zM219.51 55.58a0.41 0.41 0 1 0 0.83 0a0.41 0.41 0 1 0 -0.83 0zM219.11 53.78a0.4 0.4 0 1 0 0.8 0a0.4 0.4 0 1 0 -0.8 0zM218.94 53.84a0.59 0.59 0 1 0 1.19 0a0.59 0.59 0 1 0 -1.19 0zM218.67 54.24a0.68 0.68 0 1 0 1.36 0a0.68 0.68 0 1 0 -1.36 0zM219.24 53.79a0.63 0.63 0 1 0 1.25 0a0.63 0.63 0 1 0 -1.25 0zM220.35 53.58a0.51 0.51 0 1 0 1.02 0a0.51 0.51 0 1 0 -1.02 0zM221.28 52.37a0.56 0.56 0 1 0 1.12 0a0.56 0.56 0 1 0 -1.12 0zM221.09 52.5a0.58 0.58 0 1 0 1.15 0a0.58 0.58 0 1 0 -1.15 0zM222.18 51.87a0.43 0.43 0 1 0 0.86 0a0.43 0.43 0 1 0 -0.86 0zM221.21 52.41a0.75 0.75 0 1 0 1.49 0a0.75 0.75 0 1 0 -1.49 0zM222.4 52.38a0.35 0.35 0 1 0 0.7 0a0.35 0.35 0 1 0 -0.7 0zM222.53 52.53a0.59 0.59 0 1 0 1.17 0a0.59 0.59 0 1 0 -1.17 0zM222.79 53.78a0.55 0.55 0 1 0 1.1 0a0.55 0.55 0 1 0 -1.1 0zM223.02 53.58a0.69 0.69 0 1 0 1.38 0a0.69 0.69 0 1 0 -1.38 0zM222.69 55.06a0.65 0.65 0 1 0 1.29 0a0.65 0.65 0 1 0 -1.29 0zM223.09 54.88a0.61 0.61 0 1 0 1.22 0a0.61 0.61 0 1 0 -1.22 0zM222.38 55.74a0.44 0.44 0 1 0 0.89 0a0.44 0.44 0 1 0 -0.89 0zM221.25 55.45a0.56 0.56 0 1 0 1.12 0a0.56 0.56 0 1 0 -1.12 0zM221.72 55.85a0.43 0.43 0 1 0 0.85 0a0.43 0.43 0 1 0 -0.85 0zM220.69 56.27a0.37 0.37 0 1 0 0.75 0a0.37 0.37 0 1 0 -0.75 0zM221.48 56.97a0.46 0.46 0 1 0 0.91 0a0.46 0.46 0 1 0 -0.91 0zM219.98 57.95a0.64 0.64 0 1 0 1.28 0a0.64 0.64 0 1 0 -1.28 0zM220.3 58.56a0.47 0.47 0 1 0 0.94 0a0.47 0.47 0 1 0 -0.94 0zM220.71 60.11a0.44 0.44 0 1 0 0.89 0a0.44 0.44 0 1 0 -0.89 0zM220.17 60.02a0.49 0.49 0 1 0 0.99 0a0.49 0.49 0 1 0 -0.99 0zM219.47 60.35a0.66 0.66 0 1 0 1.32 0a0.66 0.66 0 1 0 -1.32 0zM220.42 60.87a0.6 0.6 0 1 0 1.2 0a0.6 0.6 0 1 0 -1.2 0zM220.01 62.47a0.4 0.4 0 1 0 0.79 0a0.4 0.4 0 1 0 -0.79 0zM220.15 64.18a0.52 0.52 0 1 0 1.04 0a0.52 0.52 0 1 0 -1.04 0zM219.52 65.11a0.63 0.63 0 1 0 1.27 0a0.63 0.63 0 1 0 -1.27 0zM218.36 65.95a0.72 0.72 0 1 0 1.44 0a0.72 0.72 0 1 0 -1.44 0zM218.67 66.54a0.7 0.7 0 1 0 1.4 0a0.7 0.7 0 1 0 -1.4 0zM217.69 67.9a0.53 0.53 0 1 0 1.06 0a0.53 0.53 0 1 0 -1.06 0zM218.4 67.9a0.5 0.5 0 1 0 1.01 0a0.5 0.5 0 1 0 -1.01 0zM216.07 71.24a0.72 0.72 0 1 0 1.44 0a0.72 0.72 0 1 0 -1.44 0zM214.95 71.2a0.7 0.7 0 1 0 1.4 0a0.7 0.7 0 1 0 -1.4 0zM214.52 72.28a0.72 0.72 0 1 0 1.44 0a0.72 0.72 0 1 0 -1.44 0zM214.08 73.13a0.36 0.36 0 1 0 0.72 0a0.36 0.36 0 1 0 -0.72 0zM212.86 73.55a0.7 0.7 0 1 0 1.41 0a0.7 0.7 0 1 0 -1.41 0zM211.76 73.87a0.67 0.67 0 1 0 1.34 0a0.67 0.67 0 1 0 -1.34 0zM211.85 73.63a0.52 0.52 0 1 0 1.04 0a0.52 0.52 0 1 0 -1.04 0zM207.91 73.8a0.69 0.69 0 1 0 1.37 0a0.69 0.69 0 1 0 -1.37 0zM207.28 73.45a0.46 0.46 0 1 0 0.92 0a0.46 0.46 0 1 0 -0.92 0zM205.63 73.63a0.46 0.46 0 1 0 0.92 0a0.46 0.46 0 1 0 -0.92 0zM205.59 72.68a0.51 0.51 0 1 0 1.01 0a0.51 0.51 0 1 0 -1.01 0zM204.68 71.85a0.75 0.75 0 1 0 1.5 0a0.75 0.75 0 1 0 -1.5 0zM204.23 71.63a0.55 0.55 0 1 0 1.1 0a0.55 0.55 0 1 0 -1.1 0zM203.17 71.24a0.48 0.48 0 1 0 0.96 0a0.48 0.48 0 1 0 -0.96 0zM203.02 69.99a0.57 0.57 0 1 0 1.14 0a0.57 0.57 0 1 0 -1.14 0zM202.16 69.81a0.66 0.66 0 1 0 1.33 0a0.66 0.66 0 1 0 -1.33 0zM202.31 68.32a0.39 0.39 0 1 0 0.77 0a0.39 0.39 0 1 0 -0.77 0zM202.25 68.11a0.72 0.72 0 1 0 1.45 0a0.72 0.72 0 1 0 -1.45 0zM202.11 67.43a0.64 0.64 0 1 0 1.29 0a0.64 0.64 0 1 0 -1.29 0z"/>
<path d="M248.4,46.4C248.63,45.67 249.85,46.1 251.2,46.8C252.55,47.5 254.73,49.03 256.5,50.6C258.27,52.17 260.98,54.7 261.8,56.2C262.62,57.7 262.17,59 261.4,59.6C260.63,60.2 258.57,60.33 257.2,59.8C255.83,59.27 254.43,57.83 253.2,56.4C251.97,54.97 250.6,52.87 249.8,51.2C249,49.53 248.17,47.13 248.4,46.4Z" fill="#ef7878" />
<path fill="#ef7878" d="M247.47 46.65a0.39 0.39 0 1 0 0.79 0a0.39 0.39 0 1 0 -0.79 0zM247.62 46.26a0.48 0.48 0 1 0 0.97 0a0.48 0.48 0 1 0 -0.97 0zM248.25 45.81a0.57 0.57 0 1 0 1.13 0a0.57 0.57 0 1 0 -1.13 0zM249.48 46.68a0.48 0.48 0 1 0 0.96 0a0.48 0.48 0 1 0 -0.96 0zM256.29 50.38a0.36 0.36 0 1 0 0.72 0a0.36 0.36 0 1 0 -0.72 0zM256.88 51.87a0.37 0.37 0 1 0 0.74 0a0.37 0.37 0 1 0 -0.74 0zM259.66 53.69a0.48 0.48 0 1 0 0.96 0a0.48 0.48 0 1 0 -0.96 0zM260.04 54.49a0.62 0.62 0 1 0 1.23 0a0.62 0.62 0 1 0 -1.23 0zM260.42 55.44a0.42 0.42 0 1 0 0.84 0a0.42 0.42 0 1 0 -0.84 0zM261.75 57.34a0.5 0.5 0 1 0 1 0a0.5 0.5 0 1 0 -1 0zM262.15 57.07a0.72 0.72 0 1 0 1.43 0a0.72 0.72 0 1 0 -1.43 0zM262.2 57.59a0.62 0.62 0 1 0 1.24 0a0.62 0.62 0 1 0 -1.24 0zM261.22 58.47a0.44 0.44 0 1 0 0.89 0a0.44 0.44 0 1 0 -0.89 0zM261.23 58.14a0.72 0.72 0 1 0 1.45 0a0.72 0.72 0 1 0 -1.45 0zM260.89 59.97a0.74 0.74 0 1 0 1.48 0a0.74 0.74 0 1 0 -1.48 0zM259.55 59.84a0.56 0.56 0 1 0 1.13 0a0.56 0.56 0 1 0 -1.13 0zM258.84 60.6a0.52 0.52 0 1 0 1.05 0a0.52 0.52 0 1 0 -1.05 0zM257.84 60.34a0.71 0.71 0 1 0 1.42 0a0.71 0.71 0 1 0 -1.42 0zM258.25 60.76a0.47 0.47 0 1 0 0.94 0a0.47 0.47 0 1 0 -0.94 0zM256.46 59.77a0.67 0.67 0 1 0 1.35 0a0.67 0.67 0 1 0 -1.35 0zM255.68 58.26a0.65 0.65 0 1 0 1.29 0a0.65 0.65 0 1 0 -1.29 0zM253.43 56.93a0.61 0.61 0 1 0 1.21 0a0.61 0.61 0 1 0 -1.21 0zM251.97 56.51a0.37 0.37 0 1 0 0.74 0a0.37 0.37 0 1 0 -0.74 0zM252.21 55.8a0.71 0.71 0 1 0 1.41 0a0.71 0.71 0 1 0 -1.41 0zM251.48 54.94a0.47 0.47 0 1 0 0.93 0a0.47 0.47 0 1 0 -0.93 0zM249.88 52.85a0.37 0.37 0 1 0 0.75 0a0.37 0.37 0 1 0 -0.75 0zM250.36 52.88a0.5 0.5 0 1 0 1 0a0.5 0.5 0 1 0 -1 0zM250.18 52.11a0.49 0.49 0 1 0 0.98 0a0.49 0.49 0 1 0 -0.98 0zM249.77 51.25a0.48 0.48 0 1 0 0.96 0a0.48 0.48 0 1 0 -0.96 0zM249.23 50.09a0.52 0.52 0 1 0 1.03 0a0.52 0.52 0 1 0 -1.03 0zM248.37 49.73a0.69 0.69 0 1 0 1.37 0a0.69 0.69 0 1 0 -1.37 0zM247.72 48.47a0.35 0.35 0 1 0 0.7 0a0.35 0.35 0 1 0 -0.7 0zM248.18 47.05a0.71 0.71 0 1 0 1.42 0a0.71 0.71 0 1 0 -1.42 0z"/>
<path d="M233.2,66.5C233.07,65.43 233.48,63.12 234.2,61.8C234.92,60.48 236.33,59.3 237.5,58.6C238.67,57.9 240.02,57.47 241.2,57.6C242.38,57.73 243.73,58.47 244.6,59.4C245.47,60.33 246.13,61.8 246.4,63.2C246.67,64.6 246.43,66.53 246.2,67.8C245.97,69.07 245.53,70.3 245,70.8C244.47,71.3 243.53,71.43 243,70.8C242.47,70.17 242.2,68.03 241.8,67C241.4,65.97 241.13,65.03 240.6,64.6C240.07,64.17 239.2,64.03 238.6,64.4C238,64.77 237.6,66.17 237,66.8C236.4,67.43 235.63,68.25 235,68.2C234.37,68.15 233.33,67.57 233.2,66.5Z" fill="#7a2d92" />
<path fill="#7a2d92" d="M232.25 66.16a0.56 0.56 0 1 0 1.12 0a0.56 0.56 0 1 0 -1.12 0zM233.2 65.87a0.51 0.51 0 1 0 1.02 0a0.51 0.51 0 1 0 -1.02 0zM232.74 65.19a0.41 0.41 0 1 0 0.82 0a0.41 0.41 0 1 0 -0.82 0zM233.41 62.31a0.58 0.58 0 1 0 1.15 0a0.58 0.58 0 1 0 -1.15 0zM232.84 62.98a0.62 0.62 0 1 0 1.23 0a0.62 0.62 0 1 0 -1.23 0zM234.07 62.48a0.4 0.4 0 1 0 0.79 0a0.4 0.4 0 1 0 -0.79 0zM233.97 60.23a0.48 0.48 0 1 0 0.96 0a0.48 0.48 0 1 0 -0.96 0zM234.3 61.08a0.6 0.6 0 1 0 1.2 0a0.6 0.6 0 1 0 -1.2 0zM235.1 60.6a0.45 0.45 0 1 0 0.9 0a0.45 0.45 0 1 0 -0.9 0zM236.02 58.99a0.42 0.42 0 1 0 0.85 0a0.42 0.42 0 1 0 -0.85 0zM236.82 59.12a0.44 0.44 0 1 0 0.87 0a0.44 0.44 0 1 0 -0.87 0zM236.53 59.57a0.73 0.73 0 1 0 1.46 0a0.73 0.73 0 1 0 -1.46 0zM236.71 58.29a0.7 0.7 0 1 0 1.4 0a0.7 0.7 0 1 0 -1.4 0zM238.56 57.43a0.58 0.58 0 1 0 1.15 0a0.58 0.58 0 1 0 -1.15 0zM238.37 58.05a0.53 0.53 0 1 0 1.06 0a0.53 0.53 0 1 0 -1.06 0zM239.28 57.83a0.59 0.59 0 1 0 1.18 0a0.59 0.59 0 1 0 -1.18 0zM240.58 57.51a0.74 0.74 0 1 0 1.47 0a0.74 0.74 0 1 0 -1.47 0zM240.49 58.14a0.55 0.55 0 1 0 1.09 0a0.55 0.55 0 1 0 -1.09 0zM240.85 58.21a0.37 0.37 0 1 0 0.75 0a0.37 0.37 0 1 0 -0.75 0zM241.3 57.86a0.71 0.71 0 1 0 1.43 0a0.71 0.71 0 1 0 -1.43 0zM242.43 59.09a0.59 0.59 0 1 0 1.17 0a0.59 0.59 0 1 0 -1.17 0zM244.43 59.7a0.49 0.49 0 1 0 0.98 0a0.49 0.49 0 1 0 -0.98 0zM244.62 59.36a0.44 0.44 0 1 0 0.88 0a0.44 0.44 0 1 0 -0.88 0zM244.8 60.16a0.35 0.35 0 1 0 0.71 0a0.35 0.35 0 1 0 -0.71 0zM244.66 60.45a0.71 0.71 0 1 0 1.42 0a0.71 0.71 0 1 0 -1.42 0zM246.16 62.08a0.42 0.42 0 1 0 0.83 0a0.42 0.42 0 1 0 -0.83 0zM246.16 62.37a0.7 0.7 0 1 0 1.4 0a0.7 0.7 0 1 0 -1.4 0zM246.3 63.52a0.42 0.42 0 1 0 0.85 0a0.42 0.42 0 1 0 -0.85 0zM246.11 63.65a0.61 0.61 0 1 0 1.22 0a0.61 0.61 0 1 0 -1.22 0zM245.38 64.39a0.56 0.56 0 1 0 1.13 0a0.56 0.56 0 1 0 -1.13 0zM245.3 68.51a0.5 0.5 0 1 0 1 0a0.5 0.5 0 1 0 -1 0zM245.72 69.8a0.48 0.48 0 1 0 0.96 0a0.48 0.48 0 1 0 -0.96 0zM244.58 69.7a0.59 0.59 0 1 0 1.18 0a0.59 0.59 0 1 0 -1.18 0zM244.78 70.98a0.39 0.39 0 1 0 0.77 0a0.39 0.39 0 1 0 -0.77 0zM244.03 70.58a0.51 0.51 0 1 0 1.01 0a0.51 0.51 0 1 0 -1.01 0zM243.93 71.52a0.69 0.69 0 1 0 1.37 0a0.69 0.69 0 1 0 -1.37 0zM242.9 70.96a0.69 0.69 0 1 0 1.37 0a0.69 0.69 0 1 0 -1.37 0zM243.87 70.78a0.46 0.46 0 1 0 0.91 0a0.46 0.46 0 1 0 -0.91 0zM241.97 71.48a0.37 0.37 0 1 0 0.75 0a0.37 0.37 0 1 0 -0.75 0zM242.14 70.29a0.37 0.37 0 1 0 0.75 0a0.37 0.37 0 1 0 -0.75 0zM241.8 69.73a0.48 0.48 0 1 0 0.95 0a0.48 0.48 0 1 0 -0.95 0zM242.23 70.02a0.4 0.4 0 1 0 0.79 0a0.4 0.4 0 1 0 -0.79 0zM242.01 68.79a0.6 0.6 0 1 0 1.21 0a0.6 0.6 0 1 0 -1.21 0zM241.97 69.16a0.41 0.41 0 1 0 0.81 0a0.41 0.41 0 1 0 -0.81 0zM241.44 67.13a0.52 0.52 0 1 0 1.04 0a0.52 0.52 0 1 0 -1.04 0zM241.43 66.28a0.44 0.44 0 1 0 0.88 0a0.44 0.44 0 1 0 -0.88 0zM240.52 64.33a0.57 0.57 0 1 0 1.14 0a0.57 0.57 0 1 0 -1.14 0zM239.02 63.87a0.69 0.69 0 1 0 1.38 0a0.69 0.69 0 1 0 -1.38 0zM239.17 63.74a0.39 0.39 0 1 0 0.77 0a0.39 0.39 0 1 0 -0.77 0zM237.46 63.95a0.5 0.5 0 1 0 1.01 0a0.5 0.5 0 1 0 -1.01 0zM238.44 64.38a0.54 0.54 0 1 0 1.07 0a0.54 0.54 0 1 0 -1.07 0zM237.04 65.08a0.37 0.37 0 1 0 0.73 0a0.37 0.37 0 1 0 -0.73 0zM237.35 66.02a0.48 0.48 0 1 0 0.95 0a0.48 0.48 0 1 0 -0.95 0zM236.61 65.81a0.69 0.69 0 1 0 1.39 0a0.69 0.69 0 1 0 -1.39 0zM236.14 66.88a0.54 0.54 0 1 0 1.08 0a0.54 0.54 0 1 0 -1.08 0zM236.48 66.21a0.42 0.42 0 1 0 0.84 0a0.42 0.42 0 1 0 -0.84 0zM236.29 67.91a0.45 0.45 0 1 0 0.89 0a0.45 0.45 0 1 0 -0.89 0zM235.31 67.91a0.62 0.62 0 1 0 1.24 0a0.62 0.62 0 1 0 -1.24 0zM234.98 68.86a0.4 0.4 0 1 0 0.8 0a0.4 0.4 0 1 0 -0.8 0zM234.38 68.51a0.72 0.72 0 1 0 1.45 0a0.72 0.72 0 1 0 -1.45 0zM234.02 67.93a0.4 0.4 0 1 0 0.81 0a0.4 0.4 0 1 0 -0.81 0zM233.74 66.97a0.44 0.44 0 1 0 0.89 0a0.44 0.44 0 1 0 -0.89 0z"/>
<path d="M164.4,66C164.4,65.1 166.23,63.88 167.5,63.2C168.77,62.52 170.42,62.2 172,61.9C173.58,61.6 175.37,61.38 177,61.4C178.63,61.42 181.05,61.4 181.8,62C182.55,62.6 182.22,64.07 181.5,65C180.78,65.93 179.08,67.07 177.5,67.6C175.92,68.13 173.33,67.9 172,68.2C170.67,68.5 170.25,69.33 169.5,69.4C168.75,69.47 168.35,69.17 167.5,68.6C166.65,68.03 164.4,66.9 164.4,66Z" fill="#1f2f72" />
<path fill="#1f2f72" d="M163.88 66.24a0.36 0.36 0 1 0 0.71 0a0.36 0.36 0 1 0 -0.71 0zM164.63 64.55a0.43 0.43 0 1 0 0.86 0a0.43 0.43 0 1 0 -0.86 0zM165.46 64.31a0.41 0.41 0 1 0 0.82 0a0.41 0.41 0 1 0 -0.82 0zM165.98 63.17a0.62 0.62 0 1 0 1.24 0a0.62 0.62 0 1 0 -1.24 0zM166.39 63.63a0.55 0.55 0 1 0 1.11 0a0.55 0.55 0 1 0 -1.11 0zM167.71 63.37a0.46 0.46 0 1 0 0.92 0a0.46 0.46 0 1 0 -0.92 0zM169.38 62.44a0.6 0.6 0 1 0 1.2 0a0.6 0.6 0 1 0 -1.2 0zM168.84 62.87a0.69 0.69 0 1 0 1.38 0a0.69 0.69 0 1 0 -1.38 0zM171.46 61.92a0.39 0.39 0 1 0 0.77 0a0.39 0.39 0 1 0 -0.77 0zM172.24 61.03a0.5 0.5 0 1 0 1 0a0.5 0.5 0 1 0 -1 0zM173.45 61.51a0.54 0.54 0 1 0 1.09 0a0.54 0.54 0 1 0 -1.09 0zM175.2 61.41a0.58 0.58 0 1 0 1.17 0a0.58 0.58 0 1 0 -1.17 0zM176.11 61.53a0.38 0.38 0 1 0 0.77 0a0.38 0.38 0 1 0 -0.77 0zM175.96 61.65a0.49 0.49 0 1 0 0.98 0a0.49 0.49 0 1 0 -0.98 0zM177.56 61.11a0.41 0.41 0 1 0 0.83 0a0.41 0.41 0 1 0 -0.83 0zM181.18 62.28a0.5 0.5 0 1 0 1.01 0a0.5 0.5 0 1 0 -1.01 0zM181 62.15a0.59 0.59 0 1 0 1.17 0a0.59 0.59 0 1 0 -1.17 0zM181.22 62.87a0.6 0.6 0 1 0 1.2 0a0.6 0.6 0 1 0 -1.2 0zM182.35 63.83a0.39 0.39 0 1 0 0.79 0a0.39 0.39 0 1 0 -0.79 0zM181.87 63.62a0.68 0.68 0 1 0 1.36 0a0.68 0.68 0 1 0 -1.36 0zM180.86 64.71a0.47 0.47 0 1 0 0.93 0a0.47 0.47 0 1 0 -0.93 0zM178.12 66.74a0.65 0.65 0 1 0 1.29 0a0.65 0.65 0 1 0 -1.29 0zM178.02 66.51a0.5 0.5 0 1 0 1 0a0.5 0.5 0 1 0 -1 0zM177.69 67.42a0.44 0.44 0 1 0 0.87 0a0.44 0.44 0 1 0 -0.87 0zM176.84 67.84a0.7 0.7 0 1 0 1.4 0a0.7 0.7 0 1 0 -1.4 0zM175.34 67.2a0.7 0.7 0 1 0 1.39 0a0.7 0.7 0 1 0 -1.39 0zM175.17 67.49a0.45 0.45 0 1 0 0.9 0a0.45 0.45 0 1 0 -0.9 0zM173.87 68.24a0.61 0.61 0 1 0 1.22 0a0.61 0.61 0 1 0 -1.22 0zM170.77 68.2a0.65 0.65 0 1 0 1.3 0a0.65 0.65 0 1 0 -1.3 0zM169.8 68.56a0.48 0.48 0 1 0 0.95 0a0.48 0.48 0 1 0 -0.95 0zM169.67 69.24a0.54 0.54 0 1 0 1.08 0a0.54 0.54 0 1 0 -1.08 0zM169.69 69.83a0.66 0.66 0 1 0 1.33 0a0.66 0.66 0 1 0 -1.33 0zM169.74 69.36a0.68 0.68 0 1 0 1.36 0a0.68 0.68 0 1 0 -1.36 0zM168.53 69.85a0.71 0.71 0 1 0 1.43 0a0.71 0.71 0 1 0 -1.43 0zM168.88 69.37a0.69 0.69 0 1 0 1.38 0a0.69 0.69 0 1 0 -1.38 0zM168.71 69.14a0.47 0.47 0 1 0 0.93 0a0.47 0.47 0 1 0 -0.93 0zM168.28 69.44a0.46 0.46 0 1 0 0.92 0a0.46 0.46 0 1 0 -0.92 0zM167.14 69.16a0.59 0.59 0 1 0 1.18 0a0.59 0.59 0 1 0 -1.18 0zM167.39 68.44a0.64 0.64 0 1 0 1.27 0a0.64 0.64 0 1 0 -1.27 0zM167.57 69.36a0.53 0.53 0 1 0 1.06 0a0.53 0.53 0 1 0 -1.06 0zM165.95 68.52a0.56 0.56 0 1 0 1.12 0a0.56 0.56 0 1 0 -1.12 0zM164.92 67.27a0.72 0.72 0 1 0 1.43 0a0.72 0.72 0 1 0 -1.43 0zM165.57 67.26a0.49 0.49 0 1 0 0.98 0a0.49 0.49 0 1 0 -0.98 0zM164.14 66.66a0.55 0.55 0 1 0 1.1 0a0.55 0.55 0 1 0 -1.1 0z"/>
<path d="M184.8,80.8C184.8,79.55 186.63,78.47 188,77.5C189.37,76.53 191.33,75.62 193,75C194.67,74.38 196.5,73.88 198,73.8C199.5,73.72 201.07,73.8 202,74.5C202.93,75.2 203.52,76.58 203.6,78C203.68,79.42 203.27,81.58 202.5,83C201.73,84.42 200.58,85.72 199,86.5C197.42,87.28 194.83,87.95 193,87.7C191.17,87.45 189.37,86.15 188,85C186.63,83.85 184.8,82.05 184.8,80.8Z" fill="#e41c20" />
<path fill="#e41c20" d="M184.51 80.28a0.5 0.5 0 1 0 1 0a0.5 0.5 0 1 0 -1 0zM183.7 80.36a0.67 0.67 0 1 0 1.34 0a0.67 0.67 0 1 0 -1.34 0zM185.07 80.29a0.52 0.52 0 1 0 1.05 0a0.52 0.52 0 1 0 -1.05 0zM186.42 78.43a0.58 0.58 0 1 0 1.16 0a0.58 0.58 0 1 0 -1.16 0zM188.37 77.4a0.51 0.51 0 1 0 1.02 0a0.51 0.51 0 1 0 -1.02 0zM190.23 75.82a0.38 0.38 0 1 0 0.76 0a0.38 0.38 0 1 0 -0.76 0zM190.36 75.25a0.6 0.6 0 1 0 1.19 0a0.6 0.6 0 1 0 -1.19 0zM190.94 75.03a0.71 0.71 0 1 0 1.42 0a0.71 0.71 0 1 0 -1.42 0zM191.89 75a0.74 0.74 0 1 0 1.47 0a0.74 0.74 0 1 0 -1.47 0zM192.2 74.6a0.7 0.7 0 1 0 1.41 0a0.7 0.7 0 1 0 -1.41 0zM194.69 74.43a0.42 0.42 0 1 0 0.85 0a0.42 0.42 0 1 0 -0.85 0zM194.79 74.38a0.75 0.75 0 1 0 1.5 0a0.75 0.75 0 1 0 -1.5 0zM196.98 73.72a0.37 0.37 0 1 0 0.73 0a0.37 0.37 0 1 0 -0.73 0zM197.11 74.19a0.44 0.44 0 1 0 0.87 0a0.44 0.44 0 1 0 -0.87 0zM197.05 73.95a0.53 0.53 0 1 0 1.06 0a0.53 0.53 0 1 0 -1.06 0zM198.41 73.08a0.67 0.67 0 1 0 1.33 0a0.67 0.67 0 1 0 -1.33 0zM198.86 73.53a0.45 0.45 0 1 0 0.9 0a0.45 0.45 0 1 0 -0.9 0zM199.18 73.61a0.4 0.4 0 1 0 0.8 0a0.4 0.4 0 1 0 -0.8 0zM200.06 74.38a0.69 0.69 0 1 0 1.38 0a0.69 0.69 0 1 0 -1.38 0zM201.73 73.8a0.58 0.58 0 1 0 1.17 0a0.58 0.58 0 1 0 -1.17 0zM201.47 74.61a0.52 0.52 0 1 0 1.04 0a0.52 0.52 0 1 0 -1.04 0zM201.62 75.62a0.66 0.66 0 1 0 1.32 0a0.66 0.66 0 1 0 -1.32 0zM202.82 74.99a0.62 0.62 0 1 0 1.23 0a0.62 0.62 0 1 0 -1.23 0zM203.07 76.6a0.38 0.38 0 1 0 0.77 0a0.38 0.38 0 1 0 -0.77 0zM203.69 78.45a0.57 0.57 0 1 0 1.13 0a0.57 0.57 0 1 0 -1.13 0zM203.16 78.65a0.53 0.53 0 1 0 1.05 0a0.53 0.53 0 1 0 -1.05 0zM202.8 80.21a0.53 0.53 0 1 0 1.06 0a0.53 0.53 0 1 0 -1.06 0zM203.45 80.64a0.55 0.55 0 1 0 1.09 0a0.55 0.55 0 1 0 -1.09 0zM202.84 81.24a0.64 0.64 0 1 0 1.28 0a0.64 0.64 0 1 0 -1.28 0zM203.02 81.71a0.58 0.58 0 1 0 1.16 0a0.58 0.58 0 1 0 -1.16 0zM201.66 82.73a0.56 0.56 0 1 0 1.12 0a0.56 0.56 0 1 0 -1.12 0zM201.21 82.9a0.42 0.42 0 1 0 0.84 0a0.42 0.42 0 1 0 -0.84 0zM201.01 84.46a0.53 0.53 0 1 0 1.06 0a0.53 0.53 0 1 0 -1.06 0zM200.16 85.37a0.39 0.39 0 1 0 0.78 0a0.39 0.39 0 1 0 -0.78 0zM199.65 86.08a0.57 0.57 0 1 0 1.15 0a0.57 0.57 0 1 0 -1.15 0zM198.62 86.12a0.37 0.37 0 1 0 0.75 0a0.37 0.37 0 1 0 -0.75 0zM198.02 86.55a0.62 0.62 0 1 0 1.25 0a0.62 0.62 0 1 0 -1.25 0zM196.03 87.84a0.4 0.4 0 1 0 0.8 0a0.4 0.4 0 1 0 -0.8 0zM194.42 87.74a0.57 0.57 0 1 0 1.14 0a0.57 0.57 0 1 0 -1.14 0zM192.99 88.07a0.47 0.47 0 1 0 0.94 0a0.47 0.47 0 1 0 -0.94 0zM191.29 87.13a0.49 0.49 0 1 0 0.97 0a0.49 0.49 0 1 0 -0.97 0zM191.75 87.88a0.47 0.47 0 1 0 0.94 0a0.47 0.47 0 1 0 -0.94 0zM190.36 86.11a0.5 0.5 0 1 0 1.01 0a0.5 0.5 0 1 0 -1.01 0zM189.48 86.29a0.39 0.39 0 1 0 0.78 0a0.39 0.39 0 1 0 -0.78 0zM187.6 86.05a0.49 0.49 0 1 0 0.98 0a0.49 0.49 0 1 0 -0.98 0zM187.18 84.96a0.38 0.38 0 1 0 0.75 0a0.38 0.38 0 1 0 -0.75 0zM187.48 84.45a0.59 0.59 0 1 0 1.19 0a0.59 0.59 0 1 0 -1.19 0zM185.81 84.18a0.69 0.69 0 1 0 1.39 0a0.69 0.69 0 1 0 -1.39 0zM184.71 83.5a0.72 0.72 0 1 0 1.43 0a0.72 0.72 0 1 0 -1.43 0zM185.19 82.11a0.4 0.4 0 1 0 0.79 0a0.4 0.4 0 1 0 -0.79 0zM184.04 81.72a0.38 0.38 0 1 0 0.75 0a0.38 0.38 0 1 0 -0.75 0z"/>
<path d="M253.1,79.2C254.13,78.18 256.83,76.97 258.5,76.2C260.17,75.43 261.57,75.5 263.1,74.6C264.63,73.7 266.8,71.05 267.7,70.8C268.6,70.55 268.63,71.43 268.5,73.1C268.37,74.77 267.28,78.23 266.9,80.8C266.52,83.37 266.07,86.2 266.2,88.5C266.33,90.8 266.82,93.07 267.7,94.6C268.58,96.13 271.12,96.55 271.5,97.7C271.88,98.85 271.15,100.22 270,101.5C268.85,102.78 266.52,104.62 264.6,105.4C262.68,106.18 260.42,106.72 258.5,106.2C256.58,105.68 254,103.72 253.1,102.3C252.2,100.88 252.47,98.98 253.1,97.7C253.73,96.42 256.38,96.13 256.9,94.6C257.42,93.07 256.83,90.03 256.2,88.5C255.57,86.97 253.75,86.43 253.1,85.4C252.45,84.37 252.3,83.33 252.3,82.3C252.3,81.27 252.07,80.22 253.1,79.2Z" fill="#c76cb6" />
<path fill="#c76cb6" d="M253.46 77.88a0.6 0.6 0 1 0 1.21 0a0.6 0.6 0 1 0 -1.21 0zM254.38 78.41a0.68 0.68 0 1 0 1.37 0a0.68 0.68 0 1 0 -1.37 0zM255.81 76.97a0.45 0.45 0 1 0 0.91 0a0.45 0.45 0 1 0 -0.91 0zM255.21 76.82a0.51 0.51 0 1 0 1.02 0a0.51 0.51 0 1 0 -1.02 0zM259.16 75.36a0.45 0.45 0 1 0 0.9 0a0.45 0.45 0 1 0 -0.9 0zM261.52 75.23a0.59 0.59 0 1 0 1.18 0a0.59 0.59 0 1 0 -1.18 0zM261.45 74.75a0.53 0.53 0 1 0 1.07 0a0.53 0.53 0 1 0 -1.07 0zM265.3 71.63a0.74 0.74 0 1 0 1.49 0a0.74 0.74 0 1 0 -1.49 0zM266.64 71.77a0.45 0.45 0 1 0 0.9 0a0.45 0.45 0 1 0 -0.9 0zM267.24 71.07a0.67 0.67 0 1 0 1.33 0a0.67 0.67 0 1 0 -1.33 0zM266.88 70.94a0.56 0.56 0 1 0 1.12 0a0.56 0.56 0 1 0 -1.12 0zM267.46 70.46a0.37 0.37 0 1 0 0.73 0a0.37 0.37 0 1 0 -0.73 0zM268.2 71.27a0.4 0.4 0 1 0 0.81 0a0.4 0.4 0 1 0 -0.81 0zM268.44 72.01a0.46 0.46 0 1 0 0.92 0a0.46 0.46 0 1 0 -0.92 0zM267.85 72.8a0.57 0.57 0 1 0 1.15 0a0.57 0.57 0 1 0 -1.15 0zM268.51 73.15a0.57 0.57 0 1 0 1.15 0a0.57 0.57 0 1 0 -1.15 0zM267.47 73.71a0.43 0.43 0 1 0 0.85 0a0.43 0.43 0 1 0 -0.85 0zM267.1 74.44a0.58 0.58 0 1 0 1.16 0a0.58 0.58 0 1 0 -1.16 0zM267.83 76.25a0.44 0.44 0 1 0 0.88 0a0.44 0.44 0 1 0 -0.88 0zM267.54 78.24a0.59 0.59 0 1 0 1.19 0a0.59 0.59 0 1 0 -1.19 0zM266.78 78.48a0.55 0.55 0 1 0 1.1 0a0.55 0.55 0 1 0 -1.1 0zM265.64 80.55a0.61 0.61 0 1 0 1.22 0a0.61 0.61 0 1 0 -1.22 0zM265.69 81.64a0.66 0.66 0 1 0 1.31 0a0.66 0.66 0 1 0 -1.31 0zM266.45 82.32a0.37 0.37 0 1 0 0.74 0a0.37 0.37 0 1 0 -0.74 0zM266.34 83.74a0.74 0.74 0 1 0 1.47 0a0.74 0.74 0 1 0 -1.47 0zM265.84 85.16a0.52 0.52 0 1 0 1.05 0a0.52 0.52 0 1 0 -1.05 0zM266.42 86.25a0.41 0.41 0 1 0 0.82 0a0.41 0.41 0 1 0 -0.82 0zM266.06 89.02a0.66 0.66 0 1 0 1.33 0a0.66 0.66 0 1 0 -1.33 0zM265.49 89.56a0.45 0.45 0 1 0 0.89 0a0.45 0.45 0 1 0 -0.89 0zM266.21 89.84a0.68 0.68 0 1 0 1.36 0a0.68 0.68 0 1 0 -1.36 0zM265.77 90.62a0.68 0.68 0 1 0 1.35 0a0.68 0.68 0 1 0 -1.35 0zM266.57 91.89a0.39 0.39 0 1 0 0.79 0a0.39 0.39 0 1 0 -0.79 0zM266.63 92.19a0.72 0.72 0 1 0 1.44 0a0.72 0.72 0 1 0 -1.44 0zM266 92.86a0.53 0.53 0 1 0 1.06 0a0.53 0.53 0 1 0 -1.06 0zM266.66 93.62a0.65 0.65 0 1 0 1.3 0a0.65 0.65 0 1 0 -1.3 0zM267.79 95.62a0.5 0.5 0 1 0 1.01 0a0.5 0.5 0 1 0 -1.01 0zM269.05 95.45a0.38 0.38 0 1 0 0.75 0a0.38 0.38 0 1 0 -0.75 0zM269.93 96.71a0.72 0.72 0 1 0 1.44 0a0.72 0.72 0 1 0 -1.44 0zM270.41 97.67a0.45 0.45 0 1 0 0.89 0a0.45 0.45 0 1 0 -0.89 0zM271.5 99.11a0.52 0.52 0 1 0 1.04 0a0.52 0.52 0 1 0 -1.04 0zM271.09 98.77a0.63 0.63 0 1 0 1.26 0a0.63 0.63 0 1 0 -1.26 0zM270.25 99.47a0.67 0.67 0 1 0 1.35 0a0.67 0.67 0 1 0 -1.35 0zM270.54 100.36a0.64 0.64 0 1 0 1.28 0a0.64 0.64 0 1 0 -1.28 0zM269.1 101.34a0.74 0.74 0 1 0 1.49 0a0.74 0.74 0 1 0 -1.49 0zM268.65 101.36a0.69 0.69 0 1 0 1.38 0a0.69 0.69 0 1 0 -1.38 0zM268.4 101.86a0.43 0.43 0 1 0 0.87 0a0.43 0.43 0 1 0 -0.87 0zM265.26 104.83a0.4 0.4 0 1 0 0.81 0a0.4 0.4 0 1 0 -0.81 0zM265.36 105.74a0.52 0.52 0 1 0 1.05 0a0.52 0.52 0 1 0 -1.05 0zM263.33 105.99a0.49 0.49 0 1 0 0.98 0a0.49 0.49 0 1 0 -0.98 0zM262.74 105.68a0.72 0.72 0 1 0 1.44 0a0.72 0.72 0 1 0 -1.44 0zM260.89 106.08a0.39 0.39 0 1 0 0.79 0a0.39 0.39 0 1 0 -0.79 0zM260.63 107.08a0.69 0.69 0 1 0 1.37 0a0.69 0.69 0 1 0 -1.37 0zM259.33 106.33a0.6 0.6 0 1 0 1.2 0a0.6 0.6 0 1 0 -1.2 0zM257.71 106.22a0.57 0.57 0 1 0 1.13 0a0.57 0.57 0 1 0 -1.13 0zM255.23 104.76a0.49 0.49 0 1 0 0.98 0a0.49 0.49 0 1 0 -0.98 0zM254.99 105.23a0.56 0.56 0 1 0 1.11 0a0.56 0.56 0 1 0 -1.11 0zM254.22 103.18a0.37 0.37 0 1 0 0.74 0a0.37 0.37 0 1 0 -0.74 0zM252.07 102.56a0.63 0.63 0 1 0 1.27 0a0.63 0.63 0 1 0 -1.27 0zM252.48 99.9a0.68 0.68 0 1 0 1.36 0a0.68 0.68 0 1 0 -1.36 0zM252.28 98.47a0.41 0.41 0 1 0 0.82 0a0.41 0.41 0 1 0 -0.82 0zM252.52 97.66a0.36 0.36 0 1 0 0.72 0a0.36 0.36 0 1 0 -0.72 0zM252.94 96.26a0.38 0.38 0 1 0 0.77 0a0.38 0.38 0 1 0 -0.77 0zM254.45 97a0.67 0.67 0 1 0 1.34 0a0.67 0.67 0 1 0 -1.34 0zM254.07 96.79a0.49 0.49 0 1 0 0.98 0a0.49 0.49 0 1 0 -0.98 0zM254.74 96.2a0.44 0.44 0 1 0 0.88 0a0.44 0.44 0 1 0 -0.88 0zM255.77 94.4a0.61 0.61 0 1 0 1.23 0a0.61 0.61 0 1 0 -1.23 0zM256.5 93.76a0.68 0.68 0 1 0 1.36 0a0.68 0.68 0 1 0 -1.36 0zM256.76 91.11a0.52 0.52 0 1 0 1.05 0a0.52 0.52 0 1 0 -1.05 0zM255.53 91.16a0.73 0.73 0 1 0 1.46 0a0.73 0.73 0 1 0 -1.46 0zM256.32 89.7a0.56 0.56 0 1 0 1.12 0a0.56 0.56 0 1 0 -1.12 0zM256.08 88.45a0.58 0.58 0 1 0 1.16 0a0.58 0.58 0 1 0 -1.16 0zM255.72 88.75a0.61 0.61 0 1 0 1.22 0a0.61 0.61 0 1 0 -1.22 0zM255.33 87.41a0.72 0.72 0 1 0 1.45 0a0.72 0.72 0 1 0 -1.45 0zM254.81 87.52a0.7 0.7 0 1 0 1.39 0a0.7 0.7 0 1 0 -1.39 0zM254.23 87.8a0.55 0.55 0 1 0 1.1 0a0.55 0.55 0 1 0 -1.1 0zM253.69 86.36a0.62 0.62 0 1 0 1.24 0a0.62 0.62 0 1 0 -1.24 0zM253.08 86.09a0.59 0.59 0 1 0 1.19 0a0.59 0.59 0 1 0 -1.19 0zM251.97 85.24a0.74 0.74 0 1 0 1.47 0a0.74 0.74 0 1 0 -1.47 0zM252.78 85.41a0.57 0.57 0 1 0 1.14 0a0.57 0.57 0 1 0 -1.14 0zM252.71 85.65a0.71 0.71 0 1 0 1.41 0a0.71 0.71 0 1 0 -1.41 0zM252.38 83.7a0.41 0.41 0 1 0 0.82 0a0.41 0.41 0 1 0 -0.82 0zM251.91 82.95a0.57 0.57 0 1 0 1.14 0a0.57 0.57 0 1 0 -1.14 0zM251.45 82.22a0.4 0.4 0 1 0 0.79 0a0.4 0.4 0 1 0 -0.79 0zM252.06 82.54a0.37 0.37 0 1 0 0.75 0a0.37 0.37 0 1 0 -0.75 0zM251.69 81.44a0.67 0.67 0 1 0 1.33 0a0.67 0.67 0 1 0 -1.33 0zM251.5 80.49a0.58 0.58 0 1 0 1.15 0a0.58 0.58 0 1 0 -1.15 0zM252.1 78.91a0.45 0.45 0 1 0 0.9 0a0.45 0.45 0 1 0 -0.9 0z"/>
<path d="M230.6,76.4C231.27,75.07 231.47,74.55 231.8,75.4C232.13,76.25 232.2,79.27 232.6,81.5C233,83.73 234.3,87.28 234.2,88.8C234.1,90.32 233.6,90.33 232,90.6C230.4,90.87 226,90.77 224.6,90.4C223.2,90.03 223.07,89.57 223.6,88.4C224.13,87.23 226.63,85.4 227.8,83.4C228.97,81.4 229.93,77.73 230.6,76.4Z" fill="#7b9fd4" />
<path fill="#7b9fd4" d="M230.07 76.05a0.41 0.41 0 1 0 0.82 0a0.41 0.41 0 1 0 -0.82 0zM231.49 75.62a0.48 0.48 0 1 0 0.96 0a0.48 0.48 0 1 0 -0.96 0zM230.93 75.4a0.4 0.4 0 1 0 0.8 0a0.4 0.4 0 1 0 -0.8 0zM230.4 74.77a0.46 0.46 0 1 0 0.93 0a0.46 0.46 0 1 0 -0.93 0zM230.53 74.69a0.48 0.48 0 1 0 0.95 0a0.48 0.48 0 1 0 -0.95 0zM231.86 75.4a0.5 0.5 0 1 0 1 0a0.5 0.5 0 1 0 -1 0zM231.33 76.26a0.42 0.42 0 1 0 0.85 0a0.42 0.42 0 1 0 -0.85 0zM231.28 75.91a0.72 0.72 0 1 0 1.45 0a0.72 0.72 0 1 0 -1.45 0zM232.28 76.81a0.46 0.46 0 1 0 0.91 0a0.46 0.46 0 1 0 -0.91 0zM232.23 78.72a0.68 0.68 0 1 0 1.36 0a0.68 0.68 0 1 0 -1.36 0zM232.41 80.73a0.41 0.41 0 1 0 0.82 0a0.41 0.41 0 1 0 -0.82 0zM231.67 81.22a0.55 0.55 0 1 0 1.11 0a0.55 0.55 0 1 0 -1.11 0zM233.5 85.46a0.44 0.44 0 1 0 0.89 0a0.44 0.44 0 1 0 -0.89 0zM233.98 86.06a0.48 0.48 0 1 0 0.96 0a0.48 0.48 0 1 0 -0.96 0zM234.23 87.57a0.39 0.39 0 1 0 0.78 0a0.39 0.39 0 1 0 -0.78 0zM234.14 88.09a0.66 0.66 0 1 0 1.33 0a0.66 0.66 0 1 0 -1.33 0zM234.06 88.65a0.67 0.67 0 1 0 1.34 0a0.67 0.67 0 1 0 -1.34 0zM233.15 89.15a0.39 0.39 0 1 0 0.77 0a0.39 0.39 0 1 0 -0.77 0zM232.66 90.34a0.73 0.73 0 1 0 1.46 0a0.73 0.73 0 1 0 -1.46 0zM232.56 90.97a0.57 0.57 0 1 0 1.15 0a0.57 0.57 0 1 0 -1.15 0zM231.99 90.69a0.42 0.42 0 1 0 0.84 0a0.42 0.42 0 1 0 -0.84 0zM229.93 91.14a0.62 0.62 0 1 0 1.23 0a0.62 0.62 0 1 0 -1.23 0zM227.79 91.34a0.47 0.47 0 1 0 0.94 0a0.47 0.47 0 1 0 -0.94 0zM224.76 90.89a0.73 0.73 0 1 0 1.45 0a0.73 0.73 0 1 0 -1.45 0zM224.61 90.87a0.45 0.45 0 1 0 0.9 0a0.45 0.45 0 1 0 -0.9 0zM223.87 90.02a0.43 0.43 0 1 0 0.86 0a0.43 0.43 0 1 0 -0.86 0zM222.91 90.17a0.39 0.39 0 1 0 0.78 0a0.39 0.39 0 1 0 -0.78 0zM222.84 89.18a0.46 0.46 0 1 0 0.92 0a0.46 0.46 0 1 0 -0.92 0zM223.14 88.73a0.45 0.45 0 1 0 0.9 0a0.45 0.45 0 1 0 -0.9 0zM222.87 87.8a0.71 0.71 0 1 0 1.42 0a0.71 0.71 0 1 0 -1.42 0zM224.43 86.9a0.54 0.54 0 1 0 1.07 0a0.54 0.54 0 1 0 -1.07 0zM224.89 86.48a0.64 0.64 0 1 0 1.27 0a0.64 0.64 0 1 0 -1.27 0zM225.63 85.6a0.74 0.74 0 1 0 1.48 0a0.74 0.74 0 1 0 -1.48 0zM226.78 84.49a0.49 0.49 0 1 0 0.99 0a0.49 0.49 0 1 0 -0.99 0zM227.9 83.85a0.35 0.35 0 1 0 0.71 0a0.35 0.35 0 1 0 -0.71 0zM227.46 82.4a0.59 0.59 0 1 0 1.19 0a0.59 0.59 0 1 0 -1.19 0zM229.25 80.89a0.46 0.46 0 1 0 0.93 0a0.46 0.46 0 1 0 -0.93 0zM228.13 79.51a0.62 0.62 0 1 0 1.23 0a0.62 0.62 0 1 0 -1.23 0zM229.54 79.14a0.38 0.38 0 1 0 0.76 0a0.38 0.38 0 1 0 -0.76 0zM229.27 77.96a0.65 0.65 0 1 0 1.3 0a0.65 0.65 0 1 0 -1.3 0zM230.11 76.45a0.51 0.51 0 1 0 1.02 0a0.51 0.51 0 1 0 -1.02 0z"/>
<path d="M240.8,83.1C241.23,82.45 241.92,83.03 242.3,83.8C242.68,84.57 243.1,86.15 243.1,87.7C243.1,89.25 242.68,92.2 242.3,93.1C241.92,94 241.23,94 240.8,93.1C240.37,92.2 239.7,89.37 239.7,87.7C239.7,86.03 240.37,83.75 240.8,83.1Z" fill="#4cb84c" />
<path fill="#4cb84c" d="M240.6 83.38a0.64 0.64 0 1 0 1.28 0a0.64 0.64 0 1 0 -1.28 0zM240.29 82.62a0.68 0.68 0 1 0 1.36 0a0.68 0.68 0 1 0 -1.36 0zM240.6 82.64a0.55 0.55 0 1 0 1.11 0a0.55 0.55 0 1 0 -1.11 0zM242.22 82.8a0.42 0.42 0 1 0 0.84 0a0.42 0.42 0 1 0 -0.84 0zM242.47 84.03a0.52 0.52 0 1 0 1.05 0a0.52 0.52 0 1 0 -1.05 0zM242.21 86.77a0.48 0.48 0 1 0 0.97 0a0.48 0.48 0 1 0 -0.97 0zM242.65 88.38a0.4 0.4 0 1 0 0.79 0a0.4 0.4 0 1 0 -0.79 0zM243.22 88.43a0.37 0.37 0 1 0 0.73 0a0.37 0.37 0 1 0 -0.73 0zM241.99 89.67a0.35 0.35 0 1 0 0.7 0a0.35 0.35 0 1 0 -0.7 0zM241.57 91.66a0.51 0.51 0 1 0 1.02 0a0.51 0.51 0 1 0 -1.02 0zM241.58 91.4a0.44 0.44 0 1 0 0.88 0a0.44 0.44 0 1 0 -0.88 0zM241.33 93.33a0.61 0.61 0 1 0 1.21 0a0.61 0.61 0 1 0 -1.21 0zM241.73 93.19a0.48 0.48 0 1 0 0.95 0a0.48 0.48 0 1 0 -0.95 0zM241.1 93.96a0.54 0.54 0 1 0 1.08 0a0.54 0.54 0 1 0 -1.08 0zM240.51 93.15a0.37 0.37 0 1 0 0.73 0a0.37 0.37 0 1 0 -0.73 0zM240.44 92.3a0.51 0.51 0 1 0 1.02 0a0.51 0.51 0 1 0 -1.02 0zM240.38 90.32a0.4 0.4 0 1 0 0.8 0a0.4 0.4 0 1 0 -0.8 0zM239.66 87.78a0.61 0.61 0 1 0 1.23 0a0.61 0.61 0 1 0 -1.23 0zM239.65 87.04a0.53 0.53 0 1 0 1.06 0a0.53 0.53 0 1 0 -1.06 0zM238.95 85.21a0.46 0.46 0 1 0 0.92 0a0.46 0.46 0 1 0 -0.92 0zM239.98 83.91a0.66 0.66 0 1 0 1.32 0a0.66 0.66 0 1 0 -1.32 0zM239.64 83.98a0.53 0.53 0 1 0 1.05 0a0.53 0.53 0 1 0 -1.05 0zM239.35 84.09a0.65 0.65 0 1 0 1.3 0a0.65 0.65 0 1 0 -1.3 0z"/>
<path d="M176.3,87.7C176.68,86.58 178.13,85.63 179.2,85.8C180.27,85.97 181.73,87.27 182.7,88.7C183.67,90.13 184.45,92.8 185,94.4C185.55,96 186.32,97.17 186,98.3C185.68,99.43 184.38,100.57 183.1,101.2C181.82,101.83 179.43,102.58 178.3,102.1C177.17,101.62 176.53,99.9 176.3,98.3C176.07,96.7 176.9,94.27 176.9,92.5C176.9,90.73 175.92,88.82 176.3,87.7Z" fill="#9684c8" />
<path fill="#9684c8" d="M176.82 87.13a0.55 0.55 0 1 0 1.1 0a0.55 0.55 0 1 0 -1.1 0zM176.93 86.41a0.54 0.54 0 1 0 1.09 0a0.54 0.54 0 1 0 -1.09 0zM177.44 86.09a0.51 0.51 0 1 0 1.01 0a0.51 0.51 0 1 0 -1.01 0zM178.02 85.6a0.4 0.4 0 1 0 0.8 0a0.4 0.4 0 1 0 -0.8 0zM178.8 85.5a0.57 0.57 0 1 0 1.13 0a0.57 0.57 0 1 0 -1.13 0zM181.09 86.96a0.57 0.57 0 1 0 1.14 0a0.57 0.57 0 1 0 -1.14 0zM180.73 87.75a0.72 0.72 0 1 0 1.45 0a0.72 0.72 0 1 0 -1.45 0zM181.92 87.61a0.69 0.69 0 1 0 1.39 0a0.69 0.69 0 1 0 -1.39 0zM182.71 88.13a0.47 0.47 0 1 0 0.94 0a0.47 0.47 0 1 0 -0.94 0zM183.08 89.75a0.62 0.62 0 1 0 1.24 0a0.62 0.62 0 1 0 -1.24 0zM183.96 91.81a0.53 0.53 0 1 0 1.06 0a0.53 0.53 0 1 0 -1.06 0zM184.03 93.3a0.38 0.38 0 1 0 0.75 0a0.38 0.38 0 1 0 -0.75 0zM184.91 94.18a0.4 0.4 0 1 0 0.8 0a0.4 0.4 0 1 0 -0.8 0zM185.13 95.37a0.36 0.36 0 1 0 0.72 0a0.36 0.36 0 1 0 -0.72 0zM185.14 97.14a0.59 0.59 0 1 0 1.19 0a0.59 0.59 0 1 0 -1.19 0zM185.52 98.06a0.75 0.75 0 1 0 1.5 0a0.75 0.75 0 1 0 -1.5 0zM185.64 98.36a0.51 0.51 0 1 0 1.02 0a0.51 0.51 0 1 0 -1.02 0zM185.56 98.65a0.71 0.71 0 1 0 1.42 0a0.71 0.71 0 1 0 -1.42 0zM184.6 99.95a0.68 0.68 0 1 0 1.37 0a0.68 0.68 0 1 0 -1.37 0zM183.75 100.71a0.72 0.72 0 1 0 1.44 0a0.72 0.72 0 1 0 -1.44 0zM183.31 101.58a0.69 0.69 0 1 0 1.37 0a0.69 0.69 0 1 0 -1.37 0zM182.18 101.36a0.48 0.48 0 1 0 0.96 0a0.48 0.48 0 1 0 -0.96 0zM181.08 102.5a0.56 0.56 0 1 0 1.12 0a0.56 0.56 0 1 0 -1.12 0zM180.93 102.12a0.39 0.39 0 1 0 0.79 0a0.39 0.39 0 1 0 -0.79 0zM179.72 102.45a0.55 0.55 0 1 0 1.1 0a0.55 0.55 0 1 0 -1.1 0zM179.09 101.72a0.37 0.37 0 1 0 0.73 0a0.37 0.37 0 1 0 -0.73 0zM178.58 102.76a0.7 0.7 0 1 0 1.4 0a0.7 0.7 0 1 0 -1.4 0zM177.45 102.15a0.69 0.69 0 1 0 1.38 0a0.69 0.69 0 1 0 -1.38 0zM177.52 101.93a0.45 0.45 0 1 0 0.9 0a0.45 0.45 0 1 0 -0.9 0zM177.45 101.03a0.46 0.46 0 1 0 0.93 0a0.46 0.46 0 1 0 -0.93 0zM175.79 100.69a0.48 0.48 0 1 0 0.97 0a0.48 0.48 0 1 0 -0.97 0zM175.18 98.75a0.59 0.59 0 1 0 1.17 0a0.59 0.59 0 1 0 -1.17 0zM176.36 98.63a0.48 0.48 0 1 0 0.96 0a0.48 0.48 0 1 0 -0.96 0zM175.15 96.43a0.61 0.61 0 1 0 1.23 0a0.61 0.61 0 1 0 -1.23 0zM175.85 96.1a0.66 0.66 0 1 0 1.32 0a0.66 0.66 0 1 0 -1.32 0zM175.94 94.7a0.53 0.53 0 1 0 1.07 0a0.53 0.53 0 1 0 -1.07 0zM176.61 94.5a0.44 0.44 0 1 0 0.89 0a0.44 0.44 0 1 0 -0.89 0zM176.59 93.85a0.75 0.75 0 1 0 1.49 0a0.75 0.75 0 1 0 -1.49 0zM176.49 93.08a0.42 0.42 0 1 0 0.84 0a0.42 0.42 0 1 0 -0.84 0zM176.55 91.93a0.68 0.68 0 1 0 1.37 0a0.68 0.68 0 1 0 -1.37 0z"/>
<path d="M215,97.5C215.32,96.02 216.8,93.95 217.7,93.4C218.6,92.85 219.82,93.23 220.4,94.2C220.98,95.17 221.33,97.57 221.2,99.2C221.07,100.83 220.2,102.93 219.6,104C219,105.07 218.23,105.88 217.6,105.6C216.97,105.32 216.23,103.65 215.8,102.3C215.37,100.95 214.68,98.98 215,97.5Z" fill="#f2e324" />
<path fill="#f2e324" d="M214.71 96.7a0.63 0.63 0 1 0 1.25 0a0.63 0.63 0 1 0 -1.25 0zM215.2 95.12a0.45 0.45 0 1 0 0.89 0a0.45 0.45 0 1 0 -0.89 0zM216.09 94.45a0.62 0.62 0 1 0 1.25 0a0.62 0.62 0 1 0 -1.25 0zM217.27 93.67a0.46 0.46 0 1 0 0.92 0a0.46 0.46 0 1 0 -0.92 0zM218.6 92.79a0.64 0.64 0 1 0 1.28 0a0.64 0.64 0 1 0 -1.28 0zM218.73 93.73a0.66 0.66 0 1 0 1.33 0a0.66 0.66 0 1 0 -1.33 0zM220.35 94.2a0.59 0.59 0 1 0 1.19 0a0.59 0.59 0 1 0 -1.19 0zM220.33 96.68a0.44 0.44 0 1 0 0.89 0a0.44 0.44 0 1 0 -0.89 0zM220.54 97.85a0.54 0.54 0 1 0 1.07 0a0.54 0.54 0 1 0 -1.07 0zM220.3 97.41a0.75 0.75 0 1 0 1.49 0a0.75 0.75 0 1 0 -1.49 0zM220.95 99.47a0.48 0.48 0 1 0 0.97 0a0.48 0.48 0 1 0 -0.97 0zM220.08 99.94a0.42 0.42 0 1 0 0.84 0a0.42 0.42 0 1 0 -0.84 0zM219.58 102.32a0.51 0.51 0 1 0 1.01 0a0.51 0.51 0 1 0 -1.01 0zM219.23 102.82a0.6 0.6 0 1 0 1.19 0a0.6 0.6 0 1 0 -1.19 0zM219.75 103.68a0.46 0.46 0 1 0 0.93 0a0.46 0.46 0 1 0 -0.93 0zM218.41 105a0.61 0.61 0 1 0 1.22 0a0.61 0.61 0 1 0 -1.22 0zM217.6 105a0.73 0.73 0 1 0 1.47 0a0.73 0.73 0 1 0 -1.47 0zM218.19 105.19a0.72 0.72 0 1 0 1.44 0a0.72 0.72 0 1 0 -1.44 0zM217.4 104.98a0.49 0.49 0 1 0 0.97 0a0.49 0.49 0 1 0 -0.97 0zM214.74 102.81a0.48 0.48 0 1 0 0.96 0a0.48 0.48 0 1 0 -0.96 0zM215.4 101.96a0.4 0.4 0 1 0 0.81 0a0.4 0.4 0 1 0 -0.81 0zM214.5 100.73a0.49 0.49 0 1 0 0.97 0a0.49 0.49 0 1 0 -0.97 0zM214.64 99.45a0.39 0.39 0 1 0 0.78 0a0.39 0.39 0 1 0 -0.78 0z"/>
<path d="M197.5,103.1C198.62,101.67 200.02,100.37 201.3,100.2C202.58,100.03 203.92,100.98 205.2,102.1C206.48,103.22 208.2,105.3 209,106.9C209.8,108.5 210.32,110.25 210,111.7C209.68,113.15 208.55,114.8 207.1,115.6C205.65,116.4 203.07,116.67 201.3,116.5C199.53,116.33 197.62,115.88 196.5,114.6C195.38,113.32 194.43,110.72 194.6,108.8C194.77,106.88 196.38,104.53 197.5,103.1Z" fill="#e3a06e" />
<path fill="#e3a06e" d="M197.66 102.42a0.58 0.58 0 1 0 1.16 0a0.58 0.58 0 1 0 -1.16 0zM199.03 100.94a0.61 0.61 0 1 0 1.21 0a0.61 0.61 0 1 0 -1.21 0zM199.82 100.65a0.52 0.52 0 1 0 1.03 0a0.52 0.52 0 1 0 -1.03 0zM199.8 100.64a0.36 0.36 0 1 0 0.72 0a0.36 0.36 0 1 0 -0.72 0zM202.28 100.15a0.49 0.49 0 1 0 0.99 0a0.49 0.49 0 1 0 -0.99 0zM204.59 101.61a0.5 0.5 0 1 0 0.99 0a0.5 0.5 0 1 0 -0.99 0zM204.98 103.71a0.59 0.59 0 1 0 1.18 0a0.59 0.59 0 1 0 -1.18 0zM206.57 103.51a0.47 0.47 0 1 0 0.94 0a0.47 0.47 0 1 0 -0.94 0zM206.48 103.66a0.44 0.44 0 1 0 0.88 0a0.44 0.44 0 1 0 -0.88 0zM208.36 107.97a0.53 0.53 0 1 0 1.05 0a0.53 0.53 0 1 0 -1.05 0zM209.04 108.54a0.45 0.45 0 1 0 0.91 0a0.45 0.45 0 1 0 -0.91 0zM208.88 108.77a0.74 0.74 0 1 0 1.48 0a0.74 0.74 0 1 0 -1.48 0zM209.33 109.75a0.61 0.61 0 1 0 1.23 0a0.61 0.61 0 1 0 -1.23 0zM209.87 110.88a0.43 0.43 0 1 0 0.87 0a0.43 0.43 0 1 0 -0.87 0zM209.32 110.49a0.63 0.63 0 1 0 1.26 0a0.63 0.63 0 1 0 -1.26 0zM209.22 111.32a0.37 0.37 0 1 0 0.73 0a0.37 0.37 0 1 0 -0.73 0zM209.09 112.69a0.65 0.65 0 1 0 1.3 0a0.65 0.65 0 1 0 -1.3 0zM208.48 113.76a0.51 0.51 0 1 0 1.02 0a0.51 0.51 0 1 0 -1.02 0zM207.37 115.7a0.4 0.4 0 1 0 0.81 0a0.4 0.4 0 1 0 -0.81 0zM204.5 115.94a0.71 0.71 0 1 0 1.41 0a0.71 0.71 0 1 0 -1.41 0zM204.47 116.76a0.72 0.72 0 1 0 1.44 0a0.72 0.72 0 1 0 -1.44 0zM203.49 115.86a0.47 0.47 0 1 0 0.94 0a0.47 0.47 0 1 0 -0.94 0zM202.69 116.5a0.5 0.5 0 1 0 0.99 0a0.5 0.5 0 1 0 -0.99 0zM202.6 116.56a0.38 0.38 0 1 0 0.77 0a0.38 0.38 0 1 0 -0.77 0zM199.97 116.78a0.65 0.65 0 1 0 1.3 0a0.65 0.65 0 1 0 -1.3 0zM199.68 115.83a0.43 0.43 0 1 0 0.86 0a0.43 0.43 0 1 0 -0.86 0zM198.76 116.41a0.61 0.61 0 1 0 1.21 0a0.61 0.61 0 1 0 -1.21 0zM198.28 116.29a0.68 0.68 0 1 0 1.37 0a0.68 0.68 0 1 0 -1.37 0zM198.16 116.43a0.58 0.58 0 1 0 1.16 0a0.58 0.58 0 1 0 -1.16 0zM196.93 115.08a0.48 0.48 0 1 0 0.96 0a0.48 0.48 0 1 0 -0.96 0zM196.65 115.8a0.6 0.6 0 1 0 1.21 0a0.6 0.6 0 1 0 -1.21 0zM196 114.65a0.6 0.6 0 1 0 1.2 0a0.6 0.6 0 1 0 -1.2 0zM194.93 113.98a0.55 0.55 0 1 0 1.1 0a0.55 0.55 0 1 0 -1.1 0zM195.18 112.96a0.41 0.41 0 1 0 0.83 0a0.41 0.41 0 1 0 -0.83 0zM194.66 111.45a0.49 0.49 0 1 0 0.99 0a0.49 0.49 0 1 0 -0.99 0zM194.35 111.02a0.39 0.39 0 1 0 0.78 0a0.39 0.39 0 1 0 -0.78 0zM194.52 109.11a0.37 0.37 0 1 0 0.75 0a0.37 0.37 0 1 0 -0.75 0zM195.32 106.11a0.55 0.55 0 1 0 1.09 0a0.55 0.55 0 1 0 -1.09 0zM195.28 105.44a0.55 0.55 0 1 0 1.09 0a0.55 0.55 0 1 0 -1.09 0zM196.23 105.52a0.46 0.46 0 1 0 0.92 0a0.46 0.46 0 1 0 -0.92 0zM196.28 104.59a0.51 0.51 0 1 0 1.02 0a0.51 0.51 0 1 0 -1.02 0z"/>
<path d="M227.3,105C227.78,103.55 229.75,102.68 231.2,102.1C232.65,101.52 234.57,101.18 236,101.5C237.43,101.82 239.38,102.93 239.8,104C240.22,105.07 239.3,107.1 238.5,107.9C237.7,108.7 235.75,107.83 235,108.8C234.25,109.77 234.63,112.8 234,113.7C233.37,114.6 232.15,114.68 231.2,114.2C230.25,113.72 228.95,112.33 228.3,110.8C227.65,109.27 226.82,106.45 227.3,105Z" fill="#16a898" />
<path fill="#16a898" d="M226.35 104.86a0.57 0.57 0 1 0 1.15 0a0.57 0.57 0 1 0 -1.15 0zM227.8 103.34a0.37 0.37 0 1 0 0.75 0a0.37 0.37 0 1 0 -0.75 0zM228.93 103.59a0.69 0.69 0 1 0 1.39 0a0.69 0.69 0 1 0 -1.39 0zM229.31 102.73a0.5 0.5 0 1 0 1 0a0.5 0.5 0 1 0 -1 0zM229.32 103a0.75 0.75 0 1 0 1.5 0a0.75 0.75 0 1 0 -1.5 0zM229.93 102.17a0.65 0.65 0 1 0 1.29 0a0.65 0.65 0 1 0 -1.29 0zM231.67 101.55a0.64 0.64 0 1 0 1.29 0a0.64 0.64 0 1 0 -1.29 0zM232.94 101.23a0.44 0.44 0 1 0 0.87 0a0.44 0.44 0 1 0 -0.87 0zM233.28 101.06a0.58 0.58 0 1 0 1.15 0a0.58 0.58 0 1 0 -1.15 0zM234.72 101.16a0.69 0.69 0 1 0 1.38 0a0.69 0.69 0 1 0 -1.38 0zM235.3 101.39a0.44 0.44 0 1 0 0.88 0a0.44 0.44 0 1 0 -0.88 0zM236.71 101.77a0.38 0.38 0 1 0 0.77 0a0.38 0.38 0 1 0 -0.77 0zM237.15 102.04a0.49 0.49 0 1 0 0.99 0a0.49 0.49 0 1 0 -0.99 0zM237.85 102.04a0.54 0.54 0 1 0 1.08 0a0.54 0.54 0 1 0 -1.08 0zM238.13 102.61a0.68 0.68 0 1 0 1.37 0a0.68 0.68 0 1 0 -1.37 0zM238.89 103.02a0.5 0.5 0 1 0 1.01 0a0.5 0.5 0 1 0 -1.01 0zM238.81 103.77a0.62 0.62 0 1 0 1.24 0a0.62 0.62 0 1 0 -1.24 0zM238.61 105.9a0.62 0.62 0 1 0 1.25 0a0.62 0.62 0 1 0 -1.25 0zM239.01 105.98a0.62 0.62 0 1 0 1.24 0a0.62 0.62 0 1 0 -1.24 0zM239.31 106.78a0.71 0.71 0 1 0 1.42 0a0.71 0.71 0 1 0 -1.42 0zM238.13 107.74a0.63 0.63 0 1 0 1.26 0a0.63 0.63 0 1 0 -1.26 0zM237.51 108a0.56 0.56 0 1 0 1.12 0a0.56 0.56 0 1 0 -1.12 0zM236.84 107.58a0.71 0.71 0 1 0 1.43 0a0.71 0.71 0 1 0 -1.43 0zM236.29 108.69a0.5 0.5 0 1 0 0.99 0a0.5 0.5 0 1 0 -0.99 0zM235.61 108.93a0.71 0.71 0 1 0 1.41 0a0.71 0.71 0 1 0 -1.41 0zM235.6 107.83a0.7 0.7 0 1 0 1.39 0a0.7 0.7 0 1 0 -1.39 0zM235.32 108.71a0.43 0.43 0 1 0 0.86 0a0.43 0.43 0 1 0 -0.86 0zM235.05 108.46a0.61 0.61 0 1 0 1.23 0a0.61 0.61 0 1 0 -1.23 0zM233.35 110.77a0.68 0.68 0 1 0 1.36 0a0.68 0.68 0 1 0 -1.36 0zM233.93 111.04a0.59 0.59 0 1 0 1.19 0a0.59 0.59 0 1 0 -1.19 0zM233.77 112.68a0.46 0.46 0 1 0 0.91 0a0.46 0.46 0 1 0 -0.91 0zM234.19 114.34a0.51 0.51 0 1 0 1.01 0a0.51 0.51 0 1 0 -1.01 0zM233.32 114.16a0.64 0.64 0 1 0 1.29 0a0.64 0.64 0 1 0 -1.29 0zM232.59 113.97a0.62 0.62 0 1 0 1.23 0a0.62 0.62 0 1 0 -1.23 0zM230.93 114.3a0.71 0.71 0 1 0 1.42 0a0.71 0.71 0 1 0 -1.42 0zM231.42 114.29a0.42 0.42 0 1 0 0.84 0a0.42 0.42 0 1 0 -0.84 0zM231.39 113.95a0.73 0.73 0 1 0 1.46 0a0.73 0.73 0 1 0 -1.46 0zM229.65 114.12a0.55 0.55 0 1 0 1.1 0a0.55 0.55 0 1 0 -1.1 0zM228.45 112.12a0.54 0.54 0 1 0 1.07 0a0.54 0.54 0 1 0 -1.07 0zM228.35 111.96a0.71 0.71 0 1 0 1.41 0a0.71 0.71 0 1 0 -1.41 0zM227.69 108.18a0.54 0.54 0 1 0 1.08 0a0.54 0.54 0 1 0 -1.08 0zM227.38 107.37a0.65 0.65 0 1 0 1.31 0a0.65 0.65 0 1 0 -1.31 0zM226.1 106.4a0.52 0.52 0 1 0 1.03 0a0.52 0.52 0 1 0 -1.03 0zM226.39 106a0.6 0.6 0 1 0 1.2 0a0.6 0.6 0 1 0 -1.2 0z"/>
<path d="M195.6,130C196.08,128.23 197.22,127.58 198.5,127.1C199.78,126.62 202.02,127.25 203.3,127.1C204.58,126.95 205.08,126.83 206.2,126.2C207.32,125.57 208.4,124.02 210,123.3C211.6,122.58 214.27,121.75 215.8,121.9C217.33,122.05 218.88,123.33 219.2,124.2C219.52,125.07 218.92,126.38 217.7,127.1C216.48,127.82 213.67,127.95 211.9,128.5C210.13,129.05 208.05,129.18 207.1,130.4C206.15,131.62 206.68,134.1 206.2,135.8C205.72,137.5 205.33,139.65 204.2,140.6C203.07,141.55 200.83,141.98 199.4,141.5C197.97,141.02 196.23,139.62 195.6,137.7C194.97,135.78 195.12,131.77 195.6,130Z" fill="#0f9a4c" />
<path fill="#0f9a4c" d="M195.48 130.23a0.54 0.54 0 1 0 1.09 0a0.54 0.54 0 1 0 -1.09 0zM195.69 128.75a0.56 0.56 0 1 0 1.13 0a0.56 0.56 0 1 0 -1.13 0zM196.24 127.83a0.63 0.63 0 1 0 1.25 0a0.63 0.63 0 1 0 -1.25 0zM198.12 127.38a0.56 0.56 0 1 0 1.11 0a0.56 0.56 0 1 0 -1.11 0zM199.01 127a0.71 0.71 0 1 0 1.43 0a0.71 0.71 0 1 0 -1.43 0zM201.99 126.97a0.72 0.72 0 1 0 1.44 0a0.72 0.72 0 1 0 -1.44 0zM203.14 127.73a0.48 0.48 0 1 0 0.96 0a0.48 0.48 0 1 0 -0.96 0zM203.45 127.32a0.43 0.43 0 1 0 0.86 0a0.43 0.43 0 1 0 -0.86 0zM203.29 127.54a0.55 0.55 0 1 0 1.09 0a0.55 0.55 0 1 0 -1.09 0zM203.35 126.32a0.55 0.55 0 1 0 1.1 0a0.55 0.55 0 1 0 -1.1 0zM204.62 127.25a0.35 0.35 0 1 0 0.7 0a0.35 0.35 0 1 0 -0.7 0zM204.57 127.28a0.45 0.45 0 1 0 0.9 0a0.45 0.45 0 1 0 -0.9 0zM204.56 126.42a0.65 0.65 0 1 0 1.31 0a0.65 0.65 0 1 0 -1.31 0zM205.99 126.79a0.52 0.52 0 1 0 1.04 0a0.52 0.52 0 1 0 -1.04 0zM207.08 125.29a0.47 0.47 0 1 0 0.94 0a0.47 0.47 0 1 0 -0.94 0zM207.37 124.13a0.51 0.51 0 1 0 1.02 0a0.51 0.51 0 1 0 -1.02 0zM209.33 123.36a0.5 0.5 0 1 0 0.99 0a0.5 0.5 0 1 0 -0.99 0zM209.91 122.6a0.7 0.7 0 1 0 1.39 0a0.7 0.7 0 1 0 -1.39 0zM213.78 122.24a0.37 0.37 0 1 0 0.73 0a0.37 0.37 0 1 0 -0.73 0zM215 121.76a0.53 0.53 0 1 0 1.06 0a0.53 0.53 0 1 0 -1.06 0zM217.97 122.9a0.69 0.69 0 1 0 1.37 0a0.69 0.69 0 1 0 -1.37 0zM217.45 123.41a0.36 0.36 0 1 0 0.71 0a0.36 0.36 0 1 0 -0.71 0zM218.46 123.46a0.54 0.54 0 1 0 1.07 0a0.54 0.54 0 1 0 -1.07 0zM218.8 125.47a0.63 0.63 0 1 0 1.25 0a0.63 0.63 0 1 0 -1.25 0zM218.81 126.07a0.4 0.4 0 1 0 0.8 0a0.4 0.4 0 1 0 -0.8 0zM217.51 126.74a0.56 0.56 0 1 0 1.13 0a0.56 0.56 0 1 0 -1.13 0zM217.22 127.68a0.46 0.46 0 1 0 0.91 0a0.46 0.46 0 1 0 -0.91 0zM215.96 128.01a0.41 0.41 0 1 0 0.81 0a0.41 0.41 0 1 0 -0.81 0zM214.27 127.91a0.67 0.67 0 1 0 1.35 0a0.67 0.67 0 1 0 -1.35 0zM213.25 127.33a0.46 0.46 0 1 0 0.92 0a0.46 0.46 0 1 0 -0.92 0zM213.6 128.22a0.36 0.36 0 1 0 0.72 0a0.36 0.36 0 1 0 -0.72 0zM211.77 128.22a0.45 0.45 0 1 0 0.89 0a0.45 0.45 0 1 0 -0.89 0zM211.04 129.11a0.37 0.37 0 1 0 0.74 0a0.37 0.37 0 1 0 -0.74 0zM209.73 128.55a0.44 0.44 0 1 0 0.87 0a0.44 0.44 0 1 0 -0.87 0zM208.29 129.2a0.49 0.49 0 1 0 0.98 0a0.49 0.49 0 1 0 -0.98 0zM208.12 129.04a0.49 0.49 0 1 0 0.98 0a0.49 0.49 0 1 0 -0.98 0zM206.9 131.46a0.47 0.47 0 1 0 0.93 0a0.47 0.47 0 1 0 -0.93 0zM205.82 131.3a0.44 0.44 0 1 0 0.87 0a0.44 0.44 0 1 0 -0.87 0zM205.51 134.41a0.61 0.61 0 1 0 1.23 0a0.61 0.61 0 1 0 -1.23 0zM205.58 135.55a0.62 0.62 0 1 0 1.25 0a0.62 0.62 0 1 0 -1.25 0zM205.62 135.77a0.74 0.74 0 1 0 1.49 0a0.74 0.74 0 1 0 -1.49 0zM204.94 137.34a0.41 0.41 0 1 0 0.81 0a0.41 0.41 0 1 0 -0.81 0zM204.12 140.37a0.46 0.46 0 1 0 0.93 0a0.46 0.46 0 1 0 -0.93 0zM203.85 141.6a0.54 0.54 0 1 0 1.08 0a0.54 0.54 0 1 0 -1.08 0zM202.22 140.76a0.55 0.55 0 1 0 1.11 0a0.55 0.55 0 1 0 -1.11 0zM202.09 142.01a0.44 0.44 0 1 0 0.88 0a0.44 0.44 0 1 0 -0.88 0zM201.22 141.86a0.61 0.61 0 1 0 1.22 0a0.61 0.61 0 1 0 -1.22 0zM200.29 141.35a0.45 0.45 0 1 0 0.9 0a0.45 0.45 0 1 0 -0.9 0zM198.48 142.01a0.64 0.64 0 1 0 1.28 0a0.64 0.64 0 1 0 -1.28 0zM197.49 141.57a0.73 0.73 0 1 0 1.47 0a0.73 0.73 0 1 0 -1.47 0zM198.02 140.17a0.36 0.36 0 1 0 0.73 0a0.36 0.36 0 1 0 -0.73 0zM197.15 139.94a0.59 0.59 0 1 0 1.18 0a0.59 0.59 0 1 0 -1.18 0zM196.92 140.23a0.43 0.43 0 1 0 0.86 0a0.43 0.43 0 1 0 -0.86 0zM195.69 138.71a0.54 0.54 0 1 0 1.08 0a0.54 0.54 0 1 0 -1.08 0zM194.54 137.42a0.6 0.6 0 1 0 1.21 0a0.6 0.6 0 1 0 -1.21 0zM194.94 136.61a0.53 0.53 0 1 0 1.05 0a0.53 0.53 0 1 0 -1.05 0zM194.9 135.4a0.68 0.68 0 1 0 1.35 0a0.68 0.68 0 1 0 -1.35 0zM194.71 131.06a0.53 0.53 0 1 0 1.06 0a0.53 0.53 0 1 0 -1.06 0zM194.56 131.28a0.55 0.55 0 1 0 1.1 0a0.55 0.55 0 1 0 -1.1 0z"/>
<path d="M243.7,120.4C244.5,119.45 246.23,118.27 247.5,118.1C248.77,117.93 250.43,118.53 251.3,119.4C252.17,120.27 252.85,121.85 252.7,123.3C252.55,124.75 251.27,127.05 250.4,128.1C249.53,129.15 248.47,129.77 247.5,129.6C246.53,129.43 245.4,128.07 244.6,127.1C243.8,126.13 242.85,124.92 242.7,123.8C242.55,122.68 242.9,121.35 243.7,120.4Z" fill="#72c6d6" />
<path fill="#72c6d6" d="M243.13 121.09a0.55 0.55 0 1 0 1.09 0a0.55 0.55 0 1 0 -1.09 0zM245.17 118.38a0.73 0.73 0 1 0 1.46 0a0.73 0.73 0 1 0 -1.46 0zM245.87 118.09a0.73 0.73 0 1 0 1.45 0a0.73 0.73 0 1 0 -1.45 0zM246.48 117.65a0.35 0.35 0 1 0 0.7 0a0.35 0.35 0 1 0 -0.7 0zM247.19 118.03a0.43 0.43 0 1 0 0.86 0a0.43 0.43 0 1 0 -0.86 0zM248.42 118.74a0.44 0.44 0 1 0 0.88 0a0.44 0.44 0 1 0 -0.88 0zM248.48 118.53a0.38 0.38 0 1 0 0.76 0a0.38 0.38 0 1 0 -0.76 0zM249 118.72a0.59 0.59 0 1 0 1.18 0a0.59 0.59 0 1 0 -1.18 0zM249.83 118.35a0.51 0.51 0 1 0 1.01 0a0.51 0.51 0 1 0 -1.01 0zM250.4 119.75a0.45 0.45 0 1 0 0.91 0a0.45 0.45 0 1 0 -0.91 0zM250.63 120a0.52 0.52 0 1 0 1.05 0a0.52 0.52 0 1 0 -1.05 0zM251.3 120.93a0.68 0.68 0 1 0 1.37 0a0.68 0.68 0 1 0 -1.37 0zM251.5 121.29a0.7 0.7 0 1 0 1.4 0a0.7 0.7 0 1 0 -1.4 0zM252.83 124.01a0.42 0.42 0 1 0 0.83 0a0.42 0.42 0 1 0 -0.83 0zM251.73 124.16a0.46 0.46 0 1 0 0.91 0a0.46 0.46 0 1 0 -0.91 0zM250.11 127.44a0.48 0.48 0 1 0 0.95 0a0.48 0.48 0 1 0 -0.95 0zM250.35 127.72a0.49 0.49 0 1 0 0.98 0a0.49 0.49 0 1 0 -0.98 0zM249.52 128.01a0.43 0.43 0 1 0 0.86 0a0.43 0.43 0 1 0 -0.86 0zM248.22 129.8a0.46 0.46 0 1 0 0.93 0a0.46 0.46 0 1 0 -0.93 0zM248.34 130.09a0.5 0.5 0 1 0 0.99 0a0.5 0.5 0 1 0 -0.99 0zM247.26 129.53a0.48 0.48 0 1 0 0.96 0a0.48 0.48 0 1 0 -0.96 0zM247.18 130.12a0.5 0.5 0 1 0 1 0a0.5 0.5 0 1 0 -1 0zM244.67 128.12a0.68 0.68 0 1 0 1.37 0a0.68 0.68 0 1 0 -1.37 0zM244.34 127.14a0.39 0.39 0 1 0 0.77 0a0.39 0.39 0 1 0 -0.77 0zM243.68 127.66a0.74 0.74 0 1 0 1.47 0a0.74 0.74 0 1 0 -1.47 0zM242.77 126.98a0.72 0.72 0 1 0 1.44 0a0.72 0.72 0 1 0 -1.44 0zM243.39 125.62a0.73 0.73 0 1 0 1.46 0a0.73 0.73 0 1 0 -1.46 0zM242.16 124.59a0.59 0.59 0 1 0 1.19 0a0.59 0.59 0 1 0 -1.19 0zM242.48 124.74a0.67 0.67 0 1 0 1.34 0a0.67 0.67 0 1 0 -1.34 0zM242.82 124.15a0.64 0.64 0 1 0 1.27 0a0.64 0.64 0 1 0 -1.27 0zM242.42 124.07a0.59 0.59 0 1 0 1.17 0a0.59 0.59 0 1 0 -1.17 0zM241.49 121.92a0.73 0.73 0 1 0 1.47 0a0.73 0.73 0 1 0 -1.47 0zM241.99 122.02a0.5 0.5 0 1 0 1 0a0.5 0.5 0 1 0 -1 0zM242.27 120.58a0.41 0.41 0 1 0 0.83 0a0.41 0.41 0 1 0 -0.83 0zM242.22 120.43a0.67 0.67 0 1 0 1.33 0a0.67 0.67 0 1 0 -1.33 0z"/>
<path d="M224.4,141.5C224.72,140.48 225.85,138.82 227.3,137.7C228.75,136.58 230.85,135.5 233.1,134.8C235.35,134.1 239.85,133.02 240.8,133.5C241.75,133.98 239.93,136.37 238.8,137.7C237.67,139.03 235.6,140.45 234,141.5C232.4,142.55 230.63,143.62 229.2,144C227.77,144.38 226.2,144.22 225.4,143.8C224.6,143.38 224.08,142.52 224.4,141.5Z" fill="#7fcadc" />
<path fill="#7fcadc" d="M223.54 140.96a0.49 0.49 0 1 0 0.97 0a0.49 0.49 0 1 0 -0.97 0zM223.14 140.57a0.74 0.74 0 1 0 1.48 0a0.74 0.74 0 1 0 -1.48 0zM224.43 139.94a0.46 0.46 0 1 0 0.91 0a0.46 0.46 0 1 0 -0.91 0zM224.32 139.16a0.48 0.48 0 1 0 0.95 0a0.48 0.48 0 1 0 -0.95 0zM225.5 138.1a0.37 0.37 0 1 0 0.74 0a0.37 0.37 0 1 0 -0.74 0zM226.95 137.91a0.44 0.44 0 1 0 0.89 0a0.44 0.44 0 1 0 -0.89 0zM227.19 137.73a0.57 0.57 0 1 0 1.15 0a0.57 0.57 0 1 0 -1.15 0zM227.94 137.35a0.61 0.61 0 1 0 1.22 0a0.61 0.61 0 1 0 -1.22 0zM230.01 135.54a0.58 0.58 0 1 0 1.16 0a0.58 0.58 0 1 0 -1.16 0zM230.68 135.81a0.64 0.64 0 1 0 1.27 0a0.64 0.64 0 1 0 -1.27 0zM231.64 134.93a0.7 0.7 0 1 0 1.4 0a0.7 0.7 0 1 0 -1.4 0zM233 134.19a0.68 0.68 0 1 0 1.36 0a0.68 0.68 0 1 0 -1.36 0zM233.61 134.83a0.41 0.41 0 1 0 0.83 0a0.41 0.41 0 1 0 -0.83 0zM234.07 134.05a0.4 0.4 0 1 0 0.8 0a0.4 0.4 0 1 0 -0.8 0zM235.67 134.36a0.64 0.64 0 1 0 1.29 0a0.64 0.64 0 1 0 -1.29 0zM236.68 133.8a0.45 0.45 0 1 0 0.9 0a0.45 0.45 0 1 0 -0.9 0zM238.01 133.85a0.6 0.6 0 1 0 1.21 0a0.6 0.6 0 1 0 -1.21 0zM239.4 133.69a0.73 0.73 0 1 0 1.45 0a0.73 0.73 0 1 0 -1.45 0zM239.67 132.88a0.74 0.74 0 1 0 1.48 0a0.74 0.74 0 1 0 -1.48 0zM239.7 132.88a0.67 0.67 0 1 0 1.34 0a0.67 0.67 0 1 0 -1.34 0zM240.39 134.21a0.57 0.57 0 1 0 1.15 0a0.57 0.57 0 1 0 -1.15 0zM240.83 134.4a0.65 0.65 0 1 0 1.3 0a0.65 0.65 0 1 0 -1.3 0zM240.53 134.07a0.63 0.63 0 1 0 1.25 0a0.63 0.63 0 1 0 -1.25 0zM239.34 136.18a0.68 0.68 0 1 0 1.36 0a0.68 0.68 0 1 0 -1.36 0zM238.52 137.23a0.66 0.66 0 1 0 1.31 0a0.66 0.66 0 1 0 -1.31 0zM237.65 137.54a0.57 0.57 0 1 0 1.14 0a0.57 0.57 0 1 0 -1.14 0zM234.29 140.1a0.67 0.67 0 1 0 1.34 0a0.67 0.67 0 1 0 -1.34 0zM232.77 141.42a0.5 0.5 0 1 0 1.01 0a0.5 0.5 0 1 0 -1.01 0zM228.96 143.98a0.61 0.61 0 1 0 1.23 0a0.61 0.61 0 1 0 -1.23 0zM225.93 144.84a0.69 0.69 0 1 0 1.38 0a0.69 0.69 0 1 0 -1.38 0zM225.46 144.59a0.38 0.38 0 1 0 0.75 0a0.38 0.38 0 1 0 -0.75 0zM224.53 143.86a0.46 0.46 0 1 0 0.92 0a0.46 0.46 0 1 0 -0.92 0zM224.88 144.04a0.71 0.71 0 1 0 1.42 0a0.71 0.71 0 1 0 -1.42 0zM223.58 143.85a0.61 0.61 0 1 0 1.22 0a0.61 0.61 0 1 0 -1.22 0zM223.59 143.74a0.5 0.5 0 1 0 1.01 0a0.5 0.5 0 1 0 -1.01 0zM223.35 143.23a0.72 0.72 0 1 0 1.45 0a0.72 0.72 0 1 0 -1.45 0zM223.7 142.23a0.35 0.35 0 1 0 0.7 0a0.35 0.35 0 1 0 -0.7 0z"/>
<text x="399" y="28.6" font-size="6.6" text-anchor="middle" fill="#333" font-weight="normal" textLength="72" lengthAdjust="spacingAndGlyphs"  style="">scRNA-seq (37,280 cells)</text>
<rect x="340.8" y="33.5" width="115.6" height="114.5" fill="#fff" stroke="#383838" stroke-width="1.1"/>
<path d="M376.9,50.5C376.52,49.47 379.25,47.63 380.8,46.6C382.35,45.57 384.53,45.2 386.2,44.3C387.87,43.4 389.58,42.17 390.8,41.2C392.02,40.23 392.87,37.98 393.5,38.5C394.13,39.02 394.42,42.18 394.6,44.3C394.78,46.42 395.37,49.92 394.6,51.2C393.83,52.48 391.15,50.97 390,52C388.85,53.03 388.33,56.77 387.7,57.4C387.07,58.03 386.97,56.57 386.2,55.8C385.43,55.03 384.65,53.68 383.1,52.8C381.55,51.92 377.28,51.53 376.9,50.5Z" fill="#c779c0" />
<path fill="#c779c0" d="M376.17 49.66a0.67 0.67 0 1 0 1.34 0a0.67 0.67 0 1 0 -1.34 0zM377.53 49.03a0.46 0.46 0 1 0 0.92 0a0.46 0.46 0 1 0 -0.92 0zM378.06 47.85a0.43 0.43 0 1 0 0.86 0a0.43 0.43 0 1 0 -0.86 0zM380.2 46.66a0.52 0.52 0 1 0 1.05 0a0.52 0.52 0 1 0 -1.05 0zM381.29 45.96a0.47 0.47 0 1 0 0.93 0a0.47 0.47 0 1 0 -0.93 0zM383.35 45.85a0.71 0.71 0 1 0 1.42 0a0.71 0.71 0 1 0 -1.42 0zM384.27 45.39a0.36 0.36 0 1 0 0.73 0a0.36 0.36 0 1 0 -0.73 0zM383.82 44.35a0.41 0.41 0 1 0 0.83 0a0.41 0.41 0 1 0 -0.83 0zM388.87 43.05a0.69 0.69 0 1 0 1.38 0a0.69 0.69 0 1 0 -1.38 0zM388.98 41.61a0.71 0.71 0 1 0 1.41 0a0.71 0.71 0 1 0 -1.41 0zM390.65 41.48a0.45 0.45 0 1 0 0.9 0a0.45 0.45 0 1 0 -0.9 0zM391.17 39.52a0.39 0.39 0 1 0 0.77 0a0.39 0.39 0 1 0 -0.77 0zM391.66 38.79a0.46 0.46 0 1 0 0.92 0a0.46 0.46 0 1 0 -0.92 0zM392.49 38.94a0.73 0.73 0 1 0 1.45 0a0.73 0.73 0 1 0 -1.45 0zM392.17 38.93a0.74 0.74 0 1 0 1.49 0a0.74 0.74 0 1 0 -1.49 0zM393.54 39.6a0.58 0.58 0 1 0 1.15 0a0.58 0.58 0 1 0 -1.15 0zM393.81 41.31a0.36 0.36 0 1 0 0.71 0a0.36 0.36 0 1 0 -0.71 0zM394.59 45.64a0.44 0.44 0 1 0 0.88 0a0.44 0.44 0 1 0 -0.88 0zM393.76 47.05a0.46 0.46 0 1 0 0.92 0a0.46 0.46 0 1 0 -0.92 0zM394.44 50.18a0.72 0.72 0 1 0 1.43 0a0.72 0.72 0 1 0 -1.43 0zM394.83 50.4a0.39 0.39 0 1 0 0.78 0a0.39 0.39 0 1 0 -0.78 0zM393.74 51.42a0.39 0.39 0 1 0 0.78 0a0.39 0.39 0 1 0 -0.78 0zM393.94 51.07a0.46 0.46 0 1 0 0.91 0a0.46 0.46 0 1 0 -0.91 0zM393.27 51.44a0.41 0.41 0 1 0 0.81 0a0.41 0.41 0 1 0 -0.81 0zM390.56 50.95a0.64 0.64 0 1 0 1.28 0a0.64 0.64 0 1 0 -1.28 0zM390.35 51.4a0.5 0.5 0 1 0 0.99 0a0.5 0.5 0 1 0 -0.99 0zM389.41 51.7a0.65 0.65 0 1 0 1.29 0a0.65 0.65 0 1 0 -1.29 0zM388.34 54.42a0.65 0.65 0 1 0 1.3 0a0.65 0.65 0 1 0 -1.3 0zM387.77 54.7a0.48 0.48 0 1 0 0.95 0a0.48 0.48 0 1 0 -0.95 0zM387.61 56.1a0.36 0.36 0 1 0 0.72 0a0.36 0.36 0 1 0 -0.72 0zM387.8 57.11a0.45 0.45 0 1 0 0.9 0a0.45 0.45 0 1 0 -0.9 0zM387.09 57.13a0.67 0.67 0 1 0 1.35 0a0.67 0.67 0 1 0 -1.35 0zM386.38 57.72a0.56 0.56 0 1 0 1.11 0a0.56 0.56 0 1 0 -1.11 0zM386.4 57.67a0.45 0.45 0 1 0 0.9 0a0.45 0.45 0 1 0 -0.9 0zM386.07 56.25a0.68 0.68 0 1 0 1.35 0a0.68 0.68 0 1 0 -1.35 0zM385.71 55.73a0.54 0.54 0 1 0 1.08 0a0.54 0.54 0 1 0 -1.08 0zM383.69 54.62a0.65 0.65 0 1 0 1.3 0a0.65 0.65 0 1 0 -1.3 0zM384.75 53.53a0.43 0.43 0 1 0 0.85 0a0.43 0.43 0 1 0 -0.85 0zM382.89 52.12a0.43 0.43 0 1 0 0.86 0a0.43 0.43 0 1 0 -0.86 0zM380.66 52.57a0.49 0.49 0 1 0 0.99 0a0.49 0.49 0 1 0 -0.99 0zM379.07 51.49a0.56 0.56 0 1 0 1.11 0a0.56 0.56 0 1 0 -1.11 0z"/>
<path d="M407.7,51.2C408.28,50.05 409.1,48.45 410,48.2C410.9,47.95 412.33,48.93 413.1,49.7C413.87,50.47 414.73,51.78 414.6,52.8C414.47,53.82 413.2,55.03 412.3,55.8C411.4,56.57 410.1,56.62 409.2,57.4C408.3,58.18 407.67,59.35 406.9,60.5C406.13,61.65 405.18,63.67 404.6,64.3C404.02,64.93 403.45,65.07 403.4,64.3C403.35,63.53 403.78,61.23 404.3,59.7C404.82,58.17 405.93,56.52 406.5,55.1C407.07,53.68 407.12,52.35 407.7,51.2Z" fill="#ec8630" />
<path fill="#ec8630" d="M407.26 51.24a0.53 0.53 0 1 0 1.06 0a0.53 0.53 0 1 0 -1.06 0zM406.99 51.01a0.49 0.49 0 1 0 0.97 0a0.49 0.49 0 1 0 -0.97 0zM407.23 50.28a0.71 0.71 0 1 0 1.42 0a0.71 0.71 0 1 0 -1.42 0zM407.9 49a0.42 0.42 0 1 0 0.85 0a0.42 0.42 0 1 0 -0.85 0zM408.91 47.64a0.53 0.53 0 1 0 1.05 0a0.53 0.53 0 1 0 -1.05 0zM409.82 47.86a0.44 0.44 0 1 0 0.88 0a0.44 0.44 0 1 0 -0.88 0zM410.14 48.42a0.47 0.47 0 1 0 0.93 0a0.47 0.47 0 1 0 -0.93 0zM410.57 47.77a0.4 0.4 0 1 0 0.79 0a0.4 0.4 0 1 0 -0.79 0zM411.45 48.83a0.38 0.38 0 1 0 0.76 0a0.38 0.38 0 1 0 -0.76 0zM411.15 49.28a0.7 0.7 0 1 0 1.41 0a0.7 0.7 0 1 0 -1.41 0zM413.15 49.27a0.64 0.64 0 1 0 1.28 0a0.64 0.64 0 1 0 -1.28 0zM413.11 50.83a0.51 0.51 0 1 0 1.02 0a0.51 0.51 0 1 0 -1.02 0zM413.27 52.18a0.71 0.71 0 1 0 1.43 0a0.71 0.71 0 1 0 -1.43 0zM413.81 51.59a0.48 0.48 0 1 0 0.95 0a0.48 0.48 0 1 0 -0.95 0zM414.05 51.83a0.45 0.45 0 1 0 0.9 0a0.45 0.45 0 1 0 -0.9 0zM414.4 53.41a0.72 0.72 0 1 0 1.44 0a0.72 0.72 0 1 0 -1.44 0zM413.7 53.72a0.69 0.69 0 1 0 1.39 0a0.69 0.69 0 1 0 -1.39 0zM413.32 53.53a0.49 0.49 0 1 0 0.98 0a0.49 0.49 0 1 0 -0.98 0zM413.73 53.52a0.62 0.62 0 1 0 1.23 0a0.62 0.62 0 1 0 -1.23 0zM413.77 54.91a0.61 0.61 0 1 0 1.23 0a0.61 0.61 0 1 0 -1.23 0zM412 54.24a0.72 0.72 0 1 0 1.43 0a0.72 0.72 0 1 0 -1.43 0zM411.82 55.5a0.61 0.61 0 1 0 1.22 0a0.61 0.61 0 1 0 -1.22 0zM410.81 57.13a0.52 0.52 0 1 0 1.03 0a0.52 0.52 0 1 0 -1.03 0zM409.94 56.87a0.6 0.6 0 1 0 1.21 0a0.6 0.6 0 1 0 -1.21 0zM408.22 56.95a0.72 0.72 0 1 0 1.44 0a0.72 0.72 0 1 0 -1.44 0zM409.34 56.85a0.52 0.52 0 1 0 1.05 0a0.52 0.52 0 1 0 -1.05 0zM408.13 57.73a0.48 0.48 0 1 0 0.96 0a0.48 0.48 0 1 0 -0.96 0zM408.28 58.26a0.37 0.37 0 1 0 0.74 0a0.37 0.37 0 1 0 -0.74 0zM408.03 57.99a0.67 0.67 0 1 0 1.34 0a0.67 0.67 0 1 0 -1.34 0zM406.1 61.57a0.59 0.59 0 1 0 1.18 0a0.59 0.59 0 1 0 -1.18 0zM406.13 61.87a0.56 0.56 0 1 0 1.11 0a0.56 0.56 0 1 0 -1.11 0zM404.83 62.32a0.48 0.48 0 1 0 0.97 0a0.48 0.48 0 1 0 -0.97 0zM404.78 63.06a0.68 0.68 0 1 0 1.37 0a0.68 0.68 0 1 0 -1.37 0zM403.94 63.37a0.4 0.4 0 1 0 0.8 0a0.4 0.4 0 1 0 -0.8 0zM404.3 63.85a0.6 0.6 0 1 0 1.21 0a0.6 0.6 0 1 0 -1.21 0zM403.24 65.13a0.62 0.62 0 1 0 1.24 0a0.62 0.62 0 1 0 -1.24 0zM402.88 64.38a0.54 0.54 0 1 0 1.08 0a0.54 0.54 0 1 0 -1.08 0zM402.88 65.24a0.74 0.74 0 1 0 1.49 0a0.74 0.74 0 1 0 -1.49 0zM402.48 64.39a0.74 0.74 0 1 0 1.49 0a0.74 0.74 0 1 0 -1.49 0zM403.54 63.38a0.36 0.36 0 1 0 0.72 0a0.36 0.36 0 1 0 -0.72 0zM402.18 63.17a0.65 0.65 0 1 0 1.3 0a0.65 0.65 0 1 0 -1.3 0zM402.31 63.25a0.63 0.63 0 1 0 1.27 0a0.63 0.63 0 1 0 -1.27 0zM402.91 62.12a0.52 0.52 0 1 0 1.04 0a0.52 0.52 0 1 0 -1.04 0zM403.18 61.24a0.62 0.62 0 1 0 1.23 0a0.62 0.62 0 1 0 -1.23 0zM403.77 60.13a0.53 0.53 0 1 0 1.06 0a0.53 0.53 0 1 0 -1.06 0zM404.45 60.15a0.38 0.38 0 1 0 0.77 0a0.38 0.38 0 1 0 -0.77 0zM404.07 57.35a0.45 0.45 0 1 0 0.9 0a0.45 0.45 0 1 0 -0.9 0zM405.57 56.19a0.42 0.42 0 1 0 0.84 0a0.42 0.42 0 1 0 -0.84 0zM405.42 54.89a0.71 0.71 0 1 0 1.42 0a0.71 0.71 0 1 0 -1.42 0zM406.67 53.53a0.36 0.36 0 1 0 0.71 0a0.36 0.36 0 1 0 -0.71 0zM406.1 53.13a0.52 0.52 0 1 0 1.04 0a0.52 0.52 0 1 0 -1.04 0zM406.16 53.54a0.68 0.68 0 1 0 1.35 0a0.68 0.68 0 1 0 -1.35 0zM406.17 52.07a0.66 0.66 0 1 0 1.32 0a0.66 0.66 0 1 0 -1.32 0z"/>
<path d="M346.9,75.8C347.17,74.77 349.77,73.53 350.8,72C351.83,70.47 352.33,68.13 353.1,66.6C353.87,65.07 354.5,63.05 355.4,62.8C356.3,62.55 357.35,64.98 358.5,65.1C359.65,65.22 360.9,64.02 362.3,63.5C363.7,62.98 366.52,61.35 366.9,62C367.28,62.65 364.33,66.12 364.6,67.4C364.87,68.68 368.23,68.68 368.5,69.7C368.77,70.72 366.47,71.83 366.2,73.5C365.93,75.17 367.17,77.77 366.9,79.7C366.63,81.63 365.75,84.08 364.6,85.1C363.45,86.12 361.15,84.78 360,85.8C358.85,86.82 358.33,91.2 357.7,91.2C357.07,91.2 356.97,86.95 356.2,85.8C355.43,84.65 354.27,85.57 353.1,84.3C351.93,83.03 350.23,79.62 349.2,78.2C348.17,76.78 346.63,76.83 346.9,75.8Z" fill="#f6e21e" />
<path fill="#f6e21e" d="M347.16 75.08a0.37 0.37 0 1 0 0.73 0a0.37 0.37 0 1 0 -0.73 0zM346.49 74.79a0.52 0.52 0 1 0 1.03 0a0.52 0.52 0 1 0 -1.03 0zM348.72 73.56a0.71 0.71 0 1 0 1.41 0a0.71 0.71 0 1 0 -1.41 0zM351.21 71.81a0.38 0.38 0 1 0 0.76 0a0.38 0.38 0 1 0 -0.76 0zM351.1 70.53a0.6 0.6 0 1 0 1.2 0a0.6 0.6 0 1 0 -1.2 0zM351.48 68.73a0.44 0.44 0 1 0 0.88 0a0.44 0.44 0 1 0 -0.88 0zM352.53 67.77a0.44 0.44 0 1 0 0.87 0a0.44 0.44 0 1 0 -0.87 0zM352.78 64.3a0.63 0.63 0 1 0 1.27 0a0.63 0.63 0 1 0 -1.27 0zM353.73 63.85a0.42 0.42 0 1 0 0.85 0a0.42 0.42 0 1 0 -0.85 0zM354.06 63.13a0.67 0.67 0 1 0 1.34 0a0.67 0.67 0 1 0 -1.34 0zM354.54 63.11a0.71 0.71 0 1 0 1.42 0a0.71 0.71 0 1 0 -1.42 0zM356.02 63.79a0.41 0.41 0 1 0 0.82 0a0.41 0.41 0 1 0 -0.82 0zM357.49 64.26a0.37 0.37 0 1 0 0.74 0a0.37 0.37 0 1 0 -0.74 0zM357.35 64.4a0.37 0.37 0 1 0 0.74 0a0.37 0.37 0 1 0 -0.74 0zM358.04 65.04a0.59 0.59 0 1 0 1.18 0a0.59 0.59 0 1 0 -1.18 0zM359.42 64.73a0.47 0.47 0 1 0 0.94 0a0.47 0.47 0 1 0 -0.94 0zM360.46 63.98a0.53 0.53 0 1 0 1.05 0a0.53 0.53 0 1 0 -1.05 0zM361.41 63.48a0.39 0.39 0 1 0 0.78 0a0.39 0.39 0 1 0 -0.78 0zM362.75 62.41a0.36 0.36 0 1 0 0.72 0a0.36 0.36 0 1 0 -0.72 0zM363.51 62.6a0.4 0.4 0 1 0 0.8 0a0.4 0.4 0 1 0 -0.8 0zM365.37 61.22a0.68 0.68 0 1 0 1.36 0a0.68 0.68 0 1 0 -1.36 0zM365.57 62.11a0.7 0.7 0 1 0 1.4 0a0.7 0.7 0 1 0 -1.4 0zM365.66 63.89a0.68 0.68 0 1 0 1.36 0a0.68 0.68 0 1 0 -1.36 0zM363.84 66.72a0.51 0.51 0 1 0 1.02 0a0.51 0.51 0 1 0 -1.02 0zM364.74 67.95a0.54 0.54 0 1 0 1.09 0a0.54 0.54 0 1 0 -1.09 0zM364.79 67.14a0.67 0.67 0 1 0 1.35 0a0.67 0.67 0 1 0 -1.35 0zM365.13 68.09a0.56 0.56 0 1 0 1.12 0a0.56 0.56 0 1 0 -1.12 0zM368.23 69.78a0.66 0.66 0 1 0 1.31 0a0.66 0.66 0 1 0 -1.31 0zM367.41 71.4a0.39 0.39 0 1 0 0.77 0a0.39 0.39 0 1 0 -0.77 0zM366.54 71.58a0.64 0.64 0 1 0 1.27 0a0.64 0.64 0 1 0 -1.27 0zM366.36 72.02a0.5 0.5 0 1 0 1 0a0.5 0.5 0 1 0 -1 0zM365.66 72.12a0.61 0.61 0 1 0 1.21 0a0.61 0.61 0 1 0 -1.21 0zM365.36 73.31a0.58 0.58 0 1 0 1.17 0a0.58 0.58 0 1 0 -1.17 0zM366.37 73.43a0.42 0.42 0 1 0 0.84 0a0.42 0.42 0 1 0 -0.84 0zM365.46 74.6a0.71 0.71 0 1 0 1.43 0a0.71 0.71 0 1 0 -1.43 0zM366.14 74.82a0.65 0.65 0 1 0 1.3 0a0.65 0.65 0 1 0 -1.3 0zM366.38 75.04a0.56 0.56 0 1 0 1.12 0a0.56 0.56 0 1 0 -1.12 0zM366.98 78.41a0.39 0.39 0 1 0 0.79 0a0.39 0.39 0 1 0 -0.79 0zM366.17 80.69a0.73 0.73 0 1 0 1.46 0a0.73 0.73 0 1 0 -1.46 0zM364.94 83.07a0.69 0.69 0 1 0 1.39 0a0.69 0.69 0 1 0 -1.39 0zM364.08 83.8a0.64 0.64 0 1 0 1.28 0a0.64 0.64 0 1 0 -1.28 0zM364.52 84.99a0.75 0.75 0 1 0 1.49 0a0.75 0.75 0 1 0 -1.49 0zM363.55 84.43a0.53 0.53 0 1 0 1.05 0a0.53 0.53 0 1 0 -1.05 0zM362.88 85.61a0.69 0.69 0 1 0 1.38 0a0.69 0.69 0 1 0 -1.38 0zM360.62 85.25a0.68 0.68 0 1 0 1.36 0a0.68 0.68 0 1 0 -1.36 0zM359.51 85.63a0.58 0.58 0 1 0 1.17 0a0.58 0.58 0 1 0 -1.17 0zM358.66 86.7a0.4 0.4 0 1 0 0.81 0a0.4 0.4 0 1 0 -0.81 0zM358.81 87.32a0.48 0.48 0 1 0 0.95 0a0.48 0.48 0 1 0 -0.95 0zM358.98 88.51a0.54 0.54 0 1 0 1.08 0a0.54 0.54 0 1 0 -1.08 0zM357.65 90.96a0.6 0.6 0 1 0 1.2 0a0.6 0.6 0 1 0 -1.2 0zM355.9 87.26a0.73 0.73 0 1 0 1.46 0a0.73 0.73 0 1 0 -1.46 0zM356.55 86.07a0.38 0.38 0 1 0 0.75 0a0.38 0.38 0 1 0 -0.75 0zM355.91 85.21a0.6 0.6 0 1 0 1.19 0a0.6 0.6 0 1 0 -1.19 0zM355.53 85.4a0.39 0.39 0 1 0 0.79 0a0.39 0.39 0 1 0 -0.79 0zM353.33 85.52a0.69 0.69 0 1 0 1.38 0a0.69 0.69 0 1 0 -1.38 0zM353.82 85.51a0.67 0.67 0 1 0 1.34 0a0.67 0.67 0 1 0 -1.34 0zM350.26 81.62a0.69 0.69 0 1 0 1.38 0a0.69 0.69 0 1 0 -1.38 0zM350.96 80.67a0.67 0.67 0 1 0 1.34 0a0.67 0.67 0 1 0 -1.34 0zM348.86 79.24a0.69 0.69 0 1 0 1.37 0a0.69 0.69 0 1 0 -1.37 0zM348.75 78.02a0.46 0.46 0 1 0 0.92 0a0.46 0.46 0 1 0 -0.92 0zM347.86 77.49a0.52 0.52 0 1 0 1.05 0a0.52 0.52 0 1 0 -1.05 0zM347.32 76.07a0.5 0.5 0 1 0 0.99 0a0.5 0.5 0 1 0 -0.99 0zM346.91 76.65a0.5 0.5 0 1 0 1.01 0a0.5 0.5 0 1 0 -1.01 0z"/>
<path d="M383.1,72C383.1,71.23 385.18,69.98 386.2,68.9C387.22,67.82 388.18,65.88 389.2,65.5C390.22,65.12 391.53,65.77 392.3,66.6C393.07,67.43 392.77,69.35 393.8,70.5C394.83,71.65 397.08,72.62 398.5,73.5C399.92,74.38 401.8,75.02 402.3,75.8C402.8,76.58 402.13,77.93 401.5,78.2C400.87,78.47 399.65,77.92 398.5,77.4C397.35,76.88 395.77,75.75 394.6,75.1C393.43,74.45 392.9,73.77 391.5,73.5C390.1,73.23 387.6,73.75 386.2,73.5C384.8,73.25 383.1,72.77 383.1,72Z" fill="#e8502a" />
<path fill="#e8502a" d="M382.15 71.98a0.42 0.42 0 1 0 0.84 0a0.42 0.42 0 1 0 -0.84 0zM382.29 72.33a0.63 0.63 0 1 0 1.27 0a0.63 0.63 0 1 0 -1.27 0zM383.19 71.45a0.47 0.47 0 1 0 0.94 0a0.47 0.47 0 1 0 -0.94 0zM382.89 71.17a0.41 0.41 0 1 0 0.81 0a0.41 0.41 0 1 0 -0.81 0zM384.19 70.19a0.52 0.52 0 1 0 1.03 0a0.52 0.52 0 1 0 -1.03 0zM383.92 69.8a0.59 0.59 0 1 0 1.17 0a0.59 0.59 0 1 0 -1.17 0zM384.59 69.37a0.5 0.5 0 1 0 0.99 0a0.5 0.5 0 1 0 -0.99 0zM385.45 68.97a0.42 0.42 0 1 0 0.83 0a0.42 0.42 0 1 0 -0.83 0zM385.4 68.5a0.7 0.7 0 1 0 1.39 0a0.7 0.7 0 1 0 -1.39 0zM386.12 68.12a0.59 0.59 0 1 0 1.19 0a0.59 0.59 0 1 0 -1.19 0zM387.57 66.34a0.69 0.69 0 1 0 1.39 0a0.69 0.69 0 1 0 -1.39 0zM387.71 66.22a0.5 0.5 0 1 0 0.99 0a0.5 0.5 0 1 0 -0.99 0zM390.05 65.96a0.66 0.66 0 1 0 1.31 0a0.66 0.66 0 1 0 -1.31 0zM389.53 65.28a0.65 0.65 0 1 0 1.31 0a0.65 0.65 0 1 0 -1.31 0zM391.25 66.26a0.58 0.58 0 1 0 1.15 0a0.58 0.58 0 1 0 -1.15 0zM391.15 66.08a0.48 0.48 0 1 0 0.95 0a0.48 0.48 0 1 0 -0.95 0zM391.29 67.06a0.52 0.52 0 1 0 1.05 0a0.52 0.52 0 1 0 -1.05 0zM392.03 68.29a0.69 0.69 0 1 0 1.38 0a0.69 0.69 0 1 0 -1.38 0zM391.87 67.92a0.74 0.74 0 1 0 1.49 0a0.74 0.74 0 1 0 -1.49 0zM391.82 68.32a0.69 0.69 0 1 0 1.39 0a0.69 0.69 0 1 0 -1.39 0zM394.36 71.08a0.41 0.41 0 1 0 0.83 0a0.41 0.41 0 1 0 -0.83 0zM394.44 72.21a0.35 0.35 0 1 0 0.71 0a0.35 0.35 0 1 0 -0.71 0zM395.47 71.71a0.52 0.52 0 1 0 1.05 0a0.52 0.52 0 1 0 -1.05 0zM396 72.71a0.7 0.7 0 1 0 1.4 0a0.7 0.7 0 1 0 -1.4 0zM397.43 72.32a0.54 0.54 0 1 0 1.07 0a0.54 0.54 0 1 0 -1.07 0zM396.53 73.84a0.72 0.72 0 1 0 1.44 0a0.72 0.72 0 1 0 -1.44 0zM398.16 73.15a0.69 0.69 0 1 0 1.38 0a0.69 0.69 0 1 0 -1.38 0zM399.11 73.93a0.41 0.41 0 1 0 0.82 0a0.41 0.41 0 1 0 -0.82 0zM400.58 74.64a0.52 0.52 0 1 0 1.05 0a0.52 0.52 0 1 0 -1.05 0zM401.08 75.17a0.6 0.6 0 1 0 1.19 0a0.6 0.6 0 1 0 -1.19 0zM402.05 75.72a0.46 0.46 0 1 0 0.91 0a0.46 0.46 0 1 0 -0.91 0zM401.86 75.54a0.61 0.61 0 1 0 1.23 0a0.61 0.61 0 1 0 -1.23 0zM401.42 75.87a0.62 0.62 0 1 0 1.24 0a0.62 0.62 0 1 0 -1.24 0zM401.36 75.9a0.6 0.6 0 1 0 1.2 0a0.6 0.6 0 1 0 -1.2 0zM402.55 76.86a0.46 0.46 0 1 0 0.92 0a0.46 0.46 0 1 0 -0.92 0zM402.01 77.89a0.39 0.39 0 1 0 0.78 0a0.39 0.39 0 1 0 -0.78 0zM401.63 77.94a0.46 0.46 0 1 0 0.92 0a0.46 0.46 0 1 0 -0.92 0zM401.11 78.6a0.64 0.64 0 1 0 1.29 0a0.64 0.64 0 1 0 -1.29 0zM400.89 78.57a0.67 0.67 0 1 0 1.33 0a0.67 0.67 0 1 0 -1.33 0zM399.88 77.92a0.46 0.46 0 1 0 0.92 0a0.46 0.46 0 1 0 -0.92 0zM400.12 78.87a0.55 0.55 0 1 0 1.1 0a0.55 0.55 0 1 0 -1.1 0zM399.94 78.07a0.61 0.61 0 1 0 1.22 0a0.61 0.61 0 1 0 -1.22 0zM398.95 78.14a0.46 0.46 0 1 0 0.92 0a0.46 0.46 0 1 0 -0.92 0zM397.64 77.86a0.7 0.7 0 1 0 1.39 0a0.7 0.7 0 1 0 -1.39 0zM396.68 76.49a0.53 0.53 0 1 0 1.06 0a0.53 0.53 0 1 0 -1.06 0zM395.04 75.34a0.74 0.74 0 1 0 1.47 0a0.74 0.74 0 1 0 -1.47 0zM394.18 74.79a0.73 0.73 0 1 0 1.45 0a0.73 0.73 0 1 0 -1.45 0zM394.38 74.77a0.44 0.44 0 1 0 0.88 0a0.44 0.44 0 1 0 -0.88 0zM392.8 74.4a0.4 0.4 0 1 0 0.81 0a0.4 0.4 0 1 0 -0.81 0zM391.27 73.69a0.54 0.54 0 1 0 1.08 0a0.54 0.54 0 1 0 -1.08 0zM388.56 73.14a0.41 0.41 0 1 0 0.81 0a0.41 0.41 0 1 0 -0.81 0zM386.43 73.54a0.58 0.58 0 1 0 1.16 0a0.58 0.58 0 1 0 -1.16 0zM386.24 73.91a0.55 0.55 0 1 0 1.1 0a0.55 0.55 0 1 0 -1.1 0zM384.36 73.72a0.62 0.62 0 1 0 1.24 0a0.62 0.62 0 1 0 -1.24 0zM384.63 73.23a0.52 0.52 0 1 0 1.04 0a0.52 0.52 0 1 0 -1.04 0zM384.33 72.56a0.43 0.43 0 1 0 0.85 0a0.43 0.43 0 1 0 -0.85 0zM383.02 72.75a0.42 0.42 0 1 0 0.84 0a0.42 0.42 0 1 0 -0.84 0z"/>
<path d="M406.9,70.6C407.38,69 409.2,66.87 410.8,65.8C412.4,64.73 414.58,64.37 416.5,64.2C418.42,64.03 420.68,64.22 422.3,64.8C423.92,65.38 425.23,66.42 426.2,67.7C427.17,68.98 427.47,70.9 428.1,72.5C428.73,74.1 430.17,76.18 430,77.3C429.83,78.42 428.55,79.03 427.1,79.2C425.65,79.37 422.73,78.13 421.3,78.3C419.87,78.47 419.45,80.05 418.5,80.2C417.55,80.35 416.57,79.85 415.6,79.2C414.63,78.55 413.98,76.93 412.7,76.3C411.42,75.67 408.87,76.35 407.9,75.4C406.93,74.45 406.42,72.2 406.9,70.6Z" fill="#7c2f96" />
<path fill="#7c2f96" d="M406.71 70.92a0.67 0.67 0 1 0 1.34 0a0.67 0.67 0 1 0 -1.34 0zM407.65 68.85a0.6 0.6 0 1 0 1.19 0a0.6 0.6 0 1 0 -1.19 0zM407.76 68.62a0.7 0.7 0 1 0 1.39 0a0.7 0.7 0 1 0 -1.39 0zM408.69 67a0.46 0.46 0 1 0 0.93 0a0.46 0.46 0 1 0 -0.93 0zM409.96 66.28a0.43 0.43 0 1 0 0.87 0a0.43 0.43 0 1 0 -0.87 0zM412.74 65.25a0.71 0.71 0 1 0 1.42 0a0.71 0.71 0 1 0 -1.42 0zM414.31 64.52a0.48 0.48 0 1 0 0.96 0a0.48 0.48 0 1 0 -0.96 0zM415.05 64.15a0.53 0.53 0 1 0 1.07 0a0.53 0.53 0 1 0 -1.07 0zM415.98 64.28a0.72 0.72 0 1 0 1.45 0a0.72 0.72 0 1 0 -1.45 0zM416.29 64.24a0.45 0.45 0 1 0 0.9 0a0.45 0.45 0 1 0 -0.9 0zM417.21 64.13a0.57 0.57 0 1 0 1.13 0a0.57 0.57 0 1 0 -1.13 0zM421.34 64.25a0.63 0.63 0 1 0 1.26 0a0.63 0.63 0 1 0 -1.26 0zM423.47 65.49a0.43 0.43 0 1 0 0.87 0a0.43 0.43 0 1 0 -0.87 0zM424.74 66.82a0.44 0.44 0 1 0 0.88 0a0.44 0.44 0 1 0 -0.88 0zM425.37 67.36a0.73 0.73 0 1 0 1.46 0a0.73 0.73 0 1 0 -1.46 0zM426.12 68.9a0.56 0.56 0 1 0 1.13 0a0.56 0.56 0 1 0 -1.13 0zM426.43 69.51a0.53 0.53 0 1 0 1.05 0a0.53 0.53 0 1 0 -1.05 0zM427.15 70.47a0.69 0.69 0 1 0 1.38 0a0.69 0.69 0 1 0 -1.38 0zM426.67 71.32a0.68 0.68 0 1 0 1.37 0a0.68 0.68 0 1 0 -1.37 0zM426.86 72a0.62 0.62 0 1 0 1.24 0a0.62 0.62 0 1 0 -1.24 0zM427.65 72.72a0.35 0.35 0 1 0 0.7 0a0.35 0.35 0 1 0 -0.7 0zM427.71 73.22a0.41 0.41 0 1 0 0.81 0a0.41 0.41 0 1 0 -0.81 0zM429.08 74.81a0.55 0.55 0 1 0 1.1 0a0.55 0.55 0 1 0 -1.1 0zM429.08 76.41a0.46 0.46 0 1 0 0.93 0a0.46 0.46 0 1 0 -0.93 0zM428.97 76.33a0.42 0.42 0 1 0 0.85 0a0.42 0.42 0 1 0 -0.85 0zM429.1 77.61a0.48 0.48 0 1 0 0.96 0a0.48 0.48 0 1 0 -0.96 0zM429.84 77.1a0.7 0.7 0 1 0 1.41 0a0.7 0.7 0 1 0 -1.41 0zM428.74 77.92a0.5 0.5 0 1 0 1 0a0.5 0.5 0 1 0 -1 0zM427.6 79.4a0.63 0.63 0 1 0 1.26 0a0.63 0.63 0 1 0 -1.26 0zM426.98 79.34a0.69 0.69 0 1 0 1.37 0a0.69 0.69 0 1 0 -1.37 0zM426.26 79.08a0.38 0.38 0 1 0 0.76 0a0.38 0.38 0 1 0 -0.76 0zM425.44 78.84a0.5 0.5 0 1 0 1 0a0.5 0.5 0 1 0 -1 0zM424.06 79.37a0.38 0.38 0 1 0 0.75 0a0.38 0.38 0 1 0 -0.75 0zM421.44 78.94a0.51 0.51 0 1 0 1.02 0a0.51 0.51 0 1 0 -1.02 0zM419.71 79.17a0.37 0.37 0 1 0 0.74 0a0.37 0.37 0 1 0 -0.74 0zM419.59 80.15a0.39 0.39 0 1 0 0.78 0a0.39 0.39 0 1 0 -0.78 0zM417.33 80.58a0.52 0.52 0 1 0 1.05 0a0.52 0.52 0 1 0 -1.05 0zM417.36 80.07a0.39 0.39 0 1 0 0.79 0a0.39 0.39 0 1 0 -0.79 0zM416.71 80.49a0.62 0.62 0 1 0 1.24 0a0.62 0.62 0 1 0 -1.24 0zM415.98 79.56a0.48 0.48 0 1 0 0.96 0a0.48 0.48 0 1 0 -0.96 0zM415.59 80.27a0.48 0.48 0 1 0 0.95 0a0.48 0.48 0 1 0 -0.95 0zM415.74 79.08a0.48 0.48 0 1 0 0.97 0a0.48 0.48 0 1 0 -0.97 0zM414.8 78.67a0.4 0.4 0 1 0 0.8 0a0.4 0.4 0 1 0 -0.8 0zM413.62 78.09a0.62 0.62 0 1 0 1.24 0a0.62 0.62 0 1 0 -1.24 0zM414.52 78.24a0.36 0.36 0 1 0 0.72 0a0.36 0.36 0 1 0 -0.72 0zM413.57 77.91a0.45 0.45 0 1 0 0.91 0a0.45 0.45 0 1 0 -0.91 0zM412.92 77.68a0.53 0.53 0 1 0 1.06 0a0.53 0.53 0 1 0 -1.06 0zM412.94 76.48a0.56 0.56 0 1 0 1.11 0a0.56 0.56 0 1 0 -1.11 0zM412.86 76.42a0.62 0.62 0 1 0 1.23 0a0.62 0.62 0 1 0 -1.23 0zM410.91 76.12a0.68 0.68 0 1 0 1.36 0a0.68 0.68 0 1 0 -1.36 0zM409.45 75.45a0.57 0.57 0 1 0 1.13 0a0.57 0.57 0 1 0 -1.13 0zM408.62 76.29a0.4 0.4 0 1 0 0.81 0a0.4 0.4 0 1 0 -0.81 0zM406.92 74.65a0.57 0.57 0 1 0 1.15 0a0.57 0.57 0 1 0 -1.15 0zM406.7 74.05a0.7 0.7 0 1 0 1.4 0a0.7 0.7 0 1 0 -1.4 0z"/>
<path d="M436.7,71.5C436.45,70.38 437.05,68.72 437.7,67.7C438.35,66.68 439.48,65.72 440.6,65.4C441.72,65.08 443.6,64.93 444.4,65.8C445.2,66.67 445.72,69.32 445.4,70.6C445.08,71.88 443.53,72.87 442.5,73.5C441.47,74.13 440.17,74.73 439.2,74.4C438.23,74.07 436.95,72.62 436.7,71.5Z" fill="#ef8a8a" />
<path fill="#ef8a8a" d="M435.84 71.13a0.57 0.57 0 1 0 1.13 0a0.57 0.57 0 1 0 -1.13 0zM435.68 70.76a0.43 0.43 0 1 0 0.87 0a0.43 0.43 0 1 0 -0.87 0zM436.19 70.71a0.68 0.68 0 1 0 1.35 0a0.68 0.68 0 1 0 -1.35 0zM436.76 69.54a0.5 0.5 0 1 0 0.99 0a0.5 0.5 0 1 0 -0.99 0zM436.6 69.18a0.43 0.43 0 1 0 0.85 0a0.43 0.43 0 1 0 -0.85 0zM436.91 67.97a0.36 0.36 0 1 0 0.71 0a0.36 0.36 0 1 0 -0.71 0zM436.74 67.44a0.47 0.47 0 1 0 0.95 0a0.47 0.47 0 1 0 -0.95 0zM437.3 66.91a0.65 0.65 0 1 0 1.3 0a0.65 0.65 0 1 0 -1.3 0zM438.3 66.31a0.55 0.55 0 1 0 1.1 0a0.55 0.55 0 1 0 -1.1 0zM438.64 67.07a0.49 0.49 0 1 0 0.97 0a0.49 0.49 0 1 0 -0.97 0zM438.68 66.1a0.53 0.53 0 1 0 1.06 0a0.53 0.53 0 1 0 -1.06 0zM438.47 65.94a0.48 0.48 0 1 0 0.96 0a0.48 0.48 0 1 0 -0.96 0zM439.77 65.71a0.68 0.68 0 1 0 1.37 0a0.68 0.68 0 1 0 -1.37 0zM442.72 65.1a0.75 0.75 0 1 0 1.49 0a0.75 0.75 0 1 0 -1.49 0zM444.09 66.1a0.61 0.61 0 1 0 1.22 0a0.61 0.61 0 1 0 -1.22 0zM443.3 66.72a0.71 0.71 0 1 0 1.43 0a0.71 0.71 0 1 0 -1.43 0zM444.61 66.38a0.59 0.59 0 1 0 1.18 0a0.59 0.59 0 1 0 -1.18 0zM445.1 69.03a0.65 0.65 0 1 0 1.3 0a0.65 0.65 0 1 0 -1.3 0zM444.98 70.53a0.41 0.41 0 1 0 0.81 0a0.41 0.41 0 1 0 -0.81 0zM444.95 71.27a0.54 0.54 0 1 0 1.07 0a0.54 0.54 0 1 0 -1.07 0zM445.18 71.07a0.6 0.6 0 1 0 1.2 0a0.6 0.6 0 1 0 -1.2 0zM445.23 72.21a0.38 0.38 0 1 0 0.75 0a0.38 0.38 0 1 0 -0.75 0zM443.44 72.08a0.47 0.47 0 1 0 0.94 0a0.47 0.47 0 1 0 -0.94 0zM442.29 73.97a0.38 0.38 0 1 0 0.76 0a0.38 0.38 0 1 0 -0.76 0zM439.92 74.14a0.6 0.6 0 1 0 1.2 0a0.6 0.6 0 1 0 -1.2 0zM438.98 75.14a0.64 0.64 0 1 0 1.27 0a0.64 0.64 0 1 0 -1.27 0zM439.24 74.39a0.67 0.67 0 1 0 1.35 0a0.67 0.67 0 1 0 -1.35 0zM438.21 74.82a0.38 0.38 0 1 0 0.76 0a0.38 0.38 0 1 0 -0.76 0zM438.19 73.56a0.6 0.6 0 1 0 1.21 0a0.6 0.6 0 1 0 -1.21 0zM438.1 74.26a0.61 0.61 0 1 0 1.22 0a0.61 0.61 0 1 0 -1.22 0zM436.93 73.82a0.62 0.62 0 1 0 1.24 0a0.62 0.62 0 1 0 -1.24 0zM436.96 72.58a0.53 0.53 0 1 0 1.06 0a0.53 0.53 0 1 0 -1.06 0zM437.19 72.96a0.53 0.53 0 1 0 1.07 0a0.53 0.53 0 1 0 -1.07 0zM436.43 71.34a0.62 0.62 0 1 0 1.24 0a0.62 0.62 0 1 0 -1.24 0z"/>
<path d="M376.2,85.5C376.45,84.78 377.93,83.57 379.2,82.8C380.47,82.03 382.25,81.12 383.8,80.9C385.35,80.68 387.33,80.93 388.5,81.5C389.67,82.07 389.65,83.63 390.8,84.3C391.95,84.97 394.77,85.12 395.4,85.5C396.03,85.88 395.5,86.42 394.6,86.6C393.7,86.78 391.4,86.33 390,86.6C388.6,86.87 387.62,87.93 386.2,88.2C384.78,88.47 382.92,88.38 381.5,88.2C380.08,88.02 378.58,87.55 377.7,87.1C376.82,86.65 375.95,86.22 376.2,85.5Z" fill="#1d2f78" />
<path fill="#1d2f78" d="M375.83 84.94a0.54 0.54 0 1 0 1.07 0a0.54 0.54 0 1 0 -1.07 0zM376.15 85.04a0.69 0.69 0 1 0 1.38 0a0.69 0.69 0 1 0 -1.38 0zM376.92 84.94a0.42 0.42 0 1 0 0.84 0a0.42 0.42 0 1 0 -0.84 0zM377.27 84.22a0.55 0.55 0 1 0 1.1 0a0.55 0.55 0 1 0 -1.1 0zM376.94 84.25a0.48 0.48 0 1 0 0.97 0a0.48 0.48 0 1 0 -0.97 0zM378.15 83.19a0.5 0.5 0 1 0 0.99 0a0.5 0.5 0 1 0 -0.99 0zM379.77 81.59a0.56 0.56 0 1 0 1.13 0a0.56 0.56 0 1 0 -1.13 0zM380.83 80.95a0.47 0.47 0 1 0 0.95 0a0.47 0.47 0 1 0 -0.95 0zM382.62 81.17a0.57 0.57 0 1 0 1.15 0a0.57 0.57 0 1 0 -1.15 0zM382.35 80.44a0.7 0.7 0 1 0 1.4 0a0.7 0.7 0 1 0 -1.4 0zM384.33 80.91a0.67 0.67 0 1 0 1.33 0a0.67 0.67 0 1 0 -1.33 0zM384.55 81.29a0.43 0.43 0 1 0 0.85 0a0.43 0.43 0 1 0 -0.85 0zM386.24 80.54a0.42 0.42 0 1 0 0.84 0a0.42 0.42 0 1 0 -0.84 0zM388.6 82.7a0.66 0.66 0 1 0 1.32 0a0.66 0.66 0 1 0 -1.32 0zM390.1 83.45a0.66 0.66 0 1 0 1.33 0a0.66 0.66 0 1 0 -1.33 0zM389.82 83.89a0.41 0.41 0 1 0 0.82 0a0.41 0.41 0 1 0 -0.82 0zM390.32 84.95a0.39 0.39 0 1 0 0.78 0a0.39 0.39 0 1 0 -0.78 0zM390.03 84.42a0.58 0.58 0 1 0 1.17 0a0.58 0.58 0 1 0 -1.17 0zM392.53 84.97a0.57 0.57 0 1 0 1.15 0a0.57 0.57 0 1 0 -1.15 0zM392.43 85.36a0.73 0.73 0 1 0 1.46 0a0.73 0.73 0 1 0 -1.46 0zM392.72 85.46a0.69 0.69 0 1 0 1.39 0a0.69 0.69 0 1 0 -1.39 0zM394.72 85.21a0.59 0.59 0 1 0 1.18 0a0.59 0.59 0 1 0 -1.18 0zM394.73 86.18a0.53 0.53 0 1 0 1.07 0a0.53 0.53 0 1 0 -1.07 0zM395.25 86.19a0.65 0.65 0 1 0 1.3 0a0.65 0.65 0 1 0 -1.3 0zM394.69 86.36a0.55 0.55 0 1 0 1.1 0a0.55 0.55 0 1 0 -1.1 0zM394.41 86.46a0.64 0.64 0 1 0 1.27 0a0.64 0.64 0 1 0 -1.27 0zM394.75 86.22a0.48 0.48 0 1 0 0.95 0a0.48 0.48 0 1 0 -0.95 0zM394 86.73a0.53 0.53 0 1 0 1.05 0a0.53 0.53 0 1 0 -1.05 0zM392.87 87.32a0.4 0.4 0 1 0 0.79 0a0.4 0.4 0 1 0 -0.79 0zM392.35 86.64a0.54 0.54 0 1 0 1.09 0a0.54 0.54 0 1 0 -1.09 0zM392.14 86.46a0.38 0.38 0 1 0 0.76 0a0.38 0.38 0 1 0 -0.76 0zM391.25 86.93a0.57 0.57 0 1 0 1.14 0a0.57 0.57 0 1 0 -1.14 0zM390.63 85.89a0.4 0.4 0 1 0 0.8 0a0.4 0.4 0 1 0 -0.8 0zM389.37 86.07a0.39 0.39 0 1 0 0.78 0a0.39 0.39 0 1 0 -0.78 0zM388.37 87.21a0.75 0.75 0 1 0 1.49 0a0.75 0.75 0 1 0 -1.49 0zM388.58 87.42a0.45 0.45 0 1 0 0.89 0a0.45 0.45 0 1 0 -0.89 0zM387.65 87.95a0.45 0.45 0 1 0 0.89 0a0.45 0.45 0 1 0 -0.89 0zM386.5 88.19a0.42 0.42 0 1 0 0.85 0a0.42 0.42 0 1 0 -0.85 0zM385.08 88.47a0.38 0.38 0 1 0 0.75 0a0.38 0.38 0 1 0 -0.75 0zM383.11 88.07a0.54 0.54 0 1 0 1.08 0a0.54 0.54 0 1 0 -1.08 0zM381.35 87.65a0.71 0.71 0 1 0 1.41 0a0.71 0.71 0 1 0 -1.41 0zM380.69 88.65a0.38 0.38 0 1 0 0.75 0a0.38 0.38 0 1 0 -0.75 0zM380.61 88.4a0.43 0.43 0 1 0 0.86 0a0.43 0.43 0 1 0 -0.86 0zM377.48 87.21a0.4 0.4 0 1 0 0.79 0a0.4 0.4 0 1 0 -0.79 0zM376.32 86.9a0.74 0.74 0 1 0 1.49 0a0.74 0.74 0 1 0 -1.49 0zM375.98 86.06a0.69 0.69 0 1 0 1.38 0a0.69 0.69 0 1 0 -1.38 0zM375.74 86.91a0.41 0.41 0 1 0 0.81 0a0.41 0.41 0 1 0 -0.81 0zM376.37 86.04a0.61 0.61 0 1 0 1.23 0a0.61 0.61 0 1 0 -1.23 0zM375.26 86.01a0.64 0.64 0 1 0 1.27 0a0.64 0.64 0 1 0 -1.27 0zM375.82 86.32a0.46 0.46 0 1 0 0.93 0a0.46 0.46 0 1 0 -0.93 0z"/>
<path d="M421.3,87.9C421.45,87.17 423.33,86.17 424.2,86C425.07,85.83 426.17,86.27 426.5,86.9C426.83,87.53 426.73,89.22 426.2,89.8C425.67,90.38 424.12,90.72 423.3,90.4C422.48,90.08 421.15,88.63 421.3,87.9Z" fill="#e84040" />
<path fill="#e84040" d="M421.18 87.69a0.35 0.35 0 1 0 0.7 0a0.35 0.35 0 1 0 -0.7 0zM420.45 87.99a0.64 0.64 0 1 0 1.28 0a0.64 0.64 0 1 0 -1.28 0zM421.82 87.45a0.48 0.48 0 1 0 0.95 0a0.48 0.48 0 1 0 -0.95 0zM422.05 86.03a0.41 0.41 0 1 0 0.81 0a0.41 0.41 0 1 0 -0.81 0zM423.09 85.8a0.6 0.6 0 1 0 1.2 0a0.6 0.6 0 1 0 -1.2 0zM423.86 85.76a0.41 0.41 0 1 0 0.82 0a0.41 0.41 0 1 0 -0.82 0zM424.53 86.42a0.72 0.72 0 1 0 1.44 0a0.72 0.72 0 1 0 -1.44 0zM425.59 86.29a0.36 0.36 0 1 0 0.71 0a0.36 0.36 0 1 0 -0.71 0zM425.34 86.86a0.75 0.75 0 1 0 1.49 0a0.75 0.75 0 1 0 -1.49 0zM426.36 87.3a0.68 0.68 0 1 0 1.37 0a0.68 0.68 0 1 0 -1.37 0zM425.51 88.94a0.58 0.58 0 1 0 1.15 0a0.58 0.58 0 1 0 -1.15 0zM426.05 89.49a0.61 0.61 0 1 0 1.22 0a0.61 0.61 0 1 0 -1.22 0zM425.36 89.09a0.38 0.38 0 1 0 0.76 0a0.38 0.38 0 1 0 -0.76 0zM425.89 89.49a0.54 0.54 0 1 0 1.07 0a0.54 0.54 0 1 0 -1.07 0zM425.23 89.34a0.4 0.4 0 1 0 0.8 0a0.4 0.4 0 1 0 -0.8 0zM425.09 89.89a0.57 0.57 0 1 0 1.15 0a0.57 0.57 0 1 0 -1.15 0zM424.07 91.11a0.61 0.61 0 1 0 1.21 0a0.61 0.61 0 1 0 -1.21 0zM424.37 89.81a0.49 0.49 0 1 0 0.99 0a0.49 0.49 0 1 0 -0.99 0zM421.25 89.61a0.57 0.57 0 1 0 1.13 0a0.57 0.57 0 1 0 -1.13 0zM420.35 89.16a0.44 0.44 0 1 0 0.88 0a0.44 0.44 0 1 0 -0.88 0z"/>
<path d="M427.7,86C427.87,85.03 429.98,84.48 431,84C432.02,83.52 432.68,82.93 433.8,83.1C434.92,83.27 436.73,83.88 437.7,85C438.67,86.12 439.6,88.2 439.6,89.8C439.6,91.4 438.5,93.53 437.7,94.6C436.9,95.67 435.6,96.52 434.8,96.2C434,95.88 433.7,93.77 432.9,92.7C432.1,91.63 430.87,90.92 430,89.8C429.13,88.68 427.53,86.97 427.7,86Z" fill="#86a6dc" />
<path fill="#86a6dc" d="M427.5 86.25a0.46 0.46 0 1 0 0.91 0a0.46 0.46 0 1 0 -0.91 0zM427.65 84.82a0.43 0.43 0 1 0 0.85 0a0.43 0.43 0 1 0 -0.85 0zM427.46 85.5a0.74 0.74 0 1 0 1.47 0a0.74 0.74 0 1 0 -1.47 0zM429.51 84.33a0.42 0.42 0 1 0 0.85 0a0.42 0.42 0 1 0 -0.85 0zM429.7 83.84a0.7 0.7 0 1 0 1.41 0a0.7 0.7 0 1 0 -1.41 0zM431.43 83.85a0.42 0.42 0 1 0 0.85 0a0.42 0.42 0 1 0 -0.85 0zM431.59 83.9a0.67 0.67 0 1 0 1.34 0a0.67 0.67 0 1 0 -1.34 0zM431.62 83.05a0.47 0.47 0 1 0 0.93 0a0.47 0.47 0 1 0 -0.93 0zM431.39 83.63a0.49 0.49 0 1 0 0.97 0a0.49 0.49 0 1 0 -0.97 0zM431.94 82.91a0.51 0.51 0 1 0 1.01 0a0.51 0.51 0 1 0 -1.01 0zM433.38 83.36a0.42 0.42 0 1 0 0.84 0a0.42 0.42 0 1 0 -0.84 0zM433.34 83.21a0.54 0.54 0 1 0 1.07 0a0.54 0.54 0 1 0 -1.07 0zM435.22 83.46a0.39 0.39 0 1 0 0.78 0a0.39 0.39 0 1 0 -0.78 0zM435.76 83.65a0.44 0.44 0 1 0 0.88 0a0.44 0.44 0 1 0 -0.88 0zM435.76 83.41a0.71 0.71 0 1 0 1.43 0a0.71 0.71 0 1 0 -1.43 0zM436.7 84.25a0.42 0.42 0 1 0 0.84 0a0.42 0.42 0 1 0 -0.84 0zM436.73 85.12a0.66 0.66 0 1 0 1.31 0a0.66 0.66 0 1 0 -1.31 0zM438.27 84.94a0.35 0.35 0 1 0 0.7 0a0.35 0.35 0 1 0 -0.7 0zM437.48 85.46a0.37 0.37 0 1 0 0.75 0a0.37 0.37 0 1 0 -0.75 0zM437.76 86.05a0.49 0.49 0 1 0 0.98 0a0.49 0.49 0 1 0 -0.98 0zM438.88 87.42a0.39 0.39 0 1 0 0.78 0a0.39 0.39 0 1 0 -0.78 0zM438.39 88.11a0.4 0.4 0 1 0 0.81 0a0.4 0.4 0 1 0 -0.81 0zM438.42 89.04a0.53 0.53 0 1 0 1.06 0a0.53 0.53 0 1 0 -1.06 0zM439.16 89.2a0.44 0.44 0 1 0 0.88 0a0.44 0.44 0 1 0 -0.88 0zM438.98 89.63a0.65 0.65 0 1 0 1.31 0a0.65 0.65 0 1 0 -1.31 0zM438.38 90.13a0.61 0.61 0 1 0 1.22 0a0.61 0.61 0 1 0 -1.22 0zM438.96 91.52a0.57 0.57 0 1 0 1.15 0a0.57 0.57 0 1 0 -1.15 0zM438.74 93.03a0.75 0.75 0 1 0 1.49 0a0.75 0.75 0 1 0 -1.49 0zM437.54 92.68a0.59 0.59 0 1 0 1.17 0a0.59 0.59 0 1 0 -1.17 0zM437.24 93.8a0.36 0.36 0 1 0 0.71 0a0.36 0.36 0 1 0 -0.71 0zM436.62 94.55a0.57 0.57 0 1 0 1.14 0a0.57 0.57 0 1 0 -1.14 0zM435.31 96.21a0.38 0.38 0 1 0 0.75 0a0.38 0.38 0 1 0 -0.75 0zM433.88 95.99a0.57 0.57 0 1 0 1.14 0a0.57 0.57 0 1 0 -1.14 0zM433.78 95.04a0.73 0.73 0 1 0 1.46 0a0.73 0.73 0 1 0 -1.46 0zM432.78 94.95a0.71 0.71 0 1 0 1.43 0a0.71 0.71 0 1 0 -1.43 0zM432.95 94.66a0.61 0.61 0 1 0 1.22 0a0.61 0.61 0 1 0 -1.22 0zM433.46 94.22a0.38 0.38 0 1 0 0.76 0a0.38 0.38 0 1 0 -0.76 0zM433.07 93.64a0.71 0.71 0 1 0 1.43 0a0.71 0.71 0 1 0 -1.43 0zM432.96 92.63a0.62 0.62 0 1 0 1.24 0a0.62 0.62 0 1 0 -1.24 0zM431.18 91.98a0.47 0.47 0 1 0 0.95 0a0.47 0.47 0 1 0 -0.95 0zM431.07 91.4a0.58 0.58 0 1 0 1.17 0a0.58 0.58 0 1 0 -1.17 0zM430.56 90.34a0.46 0.46 0 1 0 0.92 0a0.46 0.46 0 1 0 -0.92 0zM428.85 89.76a0.68 0.68 0 1 0 1.35 0a0.68 0.68 0 1 0 -1.35 0zM428.39 88.76a0.63 0.63 0 1 0 1.26 0a0.63 0.63 0 1 0 -1.26 0zM427.98 88.98a0.73 0.73 0 1 0 1.46 0a0.73 0.73 0 1 0 -1.46 0zM428.17 87.62a0.62 0.62 0 1 0 1.24 0a0.62 0.62 0 1 0 -1.24 0zM426.94 87.49a0.58 0.58 0 1 0 1.16 0a0.58 0.58 0 1 0 -1.16 0z"/>
<path d="M389.2,99.7C389.47,98.8 391.82,97.63 393.1,96.6C394.38,95.57 395.5,94.27 396.9,93.5C398.3,92.73 399.95,92.5 401.5,92C403.05,91.5 404.78,91.02 406.2,90.5C407.62,89.98 409.12,88.52 410,88.9C410.88,89.28 411.5,91.25 411.5,92.8C411.5,94.35 410.88,96.53 410,98.2C409.12,99.87 407.62,101.65 406.2,102.8C404.78,103.95 403.17,104.85 401.5,105.1C399.83,105.35 397.87,104.82 396.2,104.3C394.53,103.78 392.67,102.77 391.5,102C390.33,101.23 388.93,100.6 389.2,99.7Z" fill="#0d9a4e" />
<path fill="#0d9a4e" d="M388.67 98.79a0.71 0.71 0 1 0 1.42 0a0.71 0.71 0 1 0 -1.42 0zM392.45 97.4a0.42 0.42 0 1 0 0.83 0a0.42 0.42 0 1 0 -0.83 0zM392.79 96.67a0.4 0.4 0 1 0 0.81 0a0.4 0.4 0 1 0 -0.81 0zM394.14 95.46a0.45 0.45 0 1 0 0.91 0a0.45 0.45 0 1 0 -0.91 0zM395.19 94.58a0.45 0.45 0 1 0 0.91 0a0.45 0.45 0 1 0 -0.91 0zM394.99 93.96a0.38 0.38 0 1 0 0.75 0a0.38 0.38 0 1 0 -0.75 0zM396.39 92.84a0.45 0.45 0 1 0 0.9 0a0.45 0.45 0 1 0 -0.9 0zM400.32 92.71a0.66 0.66 0 1 0 1.33 0a0.66 0.66 0 1 0 -1.33 0zM399.61 92.02a0.63 0.63 0 1 0 1.26 0a0.63 0.63 0 1 0 -1.26 0zM400.83 91.52a0.5 0.5 0 1 0 1 0a0.5 0.5 0 1 0 -1 0zM402.64 91.49a0.55 0.55 0 1 0 1.09 0a0.55 0.55 0 1 0 -1.09 0zM403.72 91.05a0.67 0.67 0 1 0 1.35 0a0.67 0.67 0 1 0 -1.35 0zM406.17 89.82a0.63 0.63 0 1 0 1.26 0a0.63 0.63 0 1 0 -1.26 0zM407.44 89.67a0.4 0.4 0 1 0 0.8 0a0.4 0.4 0 1 0 -0.8 0zM407.94 89.78a0.54 0.54 0 1 0 1.09 0a0.54 0.54 0 1 0 -1.09 0zM408.83 88.84a0.55 0.55 0 1 0 1.11 0a0.55 0.55 0 1 0 -1.11 0zM408.44 88.8a0.61 0.61 0 1 0 1.22 0a0.61 0.61 0 1 0 -1.22 0zM409.86 88.53a0.63 0.63 0 1 0 1.25 0a0.63 0.63 0 1 0 -1.25 0zM410.2 89.61a0.57 0.57 0 1 0 1.13 0a0.57 0.57 0 1 0 -1.13 0zM411.11 89.95a0.38 0.38 0 1 0 0.76 0a0.38 0.38 0 1 0 -0.76 0zM410.12 90.18a0.75 0.75 0 1 0 1.5 0a0.75 0.75 0 1 0 -1.5 0zM410.82 92.29a0.62 0.62 0 1 0 1.23 0a0.62 0.62 0 1 0 -1.23 0zM410.49 93.93a0.43 0.43 0 1 0 0.86 0a0.43 0.43 0 1 0 -0.86 0zM410.56 96.26a0.49 0.49 0 1 0 0.97 0a0.49 0.49 0 1 0 -0.97 0zM410.33 96.4a0.49 0.49 0 1 0 0.98 0a0.49 0.49 0 1 0 -0.98 0zM410.08 97.39a0.67 0.67 0 1 0 1.34 0a0.67 0.67 0 1 0 -1.34 0zM409.05 98.74a0.6 0.6 0 1 0 1.2 0a0.6 0.6 0 1 0 -1.2 0zM408.5 98.35a0.66 0.66 0 1 0 1.33 0a0.66 0.66 0 1 0 -1.33 0zM407.83 100.73a0.66 0.66 0 1 0 1.32 0a0.66 0.66 0 1 0 -1.32 0zM407.61 101.02a0.59 0.59 0 1 0 1.19 0a0.59 0.59 0 1 0 -1.19 0zM404.42 103.33a0.59 0.59 0 1 0 1.19 0a0.59 0.59 0 1 0 -1.19 0zM403.93 104.36a0.42 0.42 0 1 0 0.83 0a0.42 0.42 0 1 0 -0.83 0zM402.02 104.75a0.65 0.65 0 1 0 1.3 0a0.65 0.65 0 1 0 -1.3 0zM401.45 105.4a0.71 0.71 0 1 0 1.41 0a0.71 0.71 0 1 0 -1.41 0zM400.24 105.5a0.55 0.55 0 1 0 1.09 0a0.55 0.55 0 1 0 -1.09 0zM397.66 105.04a0.54 0.54 0 1 0 1.08 0a0.54 0.54 0 1 0 -1.08 0zM396.69 105.38a0.49 0.49 0 1 0 0.99 0a0.49 0.49 0 1 0 -0.99 0zM395.82 104.75a0.48 0.48 0 1 0 0.96 0a0.48 0.48 0 1 0 -0.96 0zM395.41 103.85a0.71 0.71 0 1 0 1.42 0a0.71 0.71 0 1 0 -1.42 0zM395.62 104.28a0.58 0.58 0 1 0 1.17 0a0.58 0.58 0 1 0 -1.17 0zM394.24 103.94a0.59 0.59 0 1 0 1.19 0a0.59 0.59 0 1 0 -1.19 0zM393.29 104.22a0.36 0.36 0 1 0 0.72 0a0.36 0.36 0 1 0 -0.72 0zM391.45 102.12a0.6 0.6 0 1 0 1.2 0a0.6 0.6 0 1 0 -1.2 0zM390.91 101.39a0.74 0.74 0 1 0 1.47 0a0.74 0.74 0 1 0 -1.47 0zM390.13 101.93a0.7 0.7 0 1 0 1.39 0a0.7 0.7 0 1 0 -1.39 0zM388.64 99.77a0.38 0.38 0 1 0 0.76 0a0.38 0.38 0 1 0 -0.76 0z"/>
<path d="M358.8,104.2C359.43,102.12 360.57,101.78 361.7,101.3C362.83,100.82 364.32,100.82 365.6,101.3C366.88,101.78 368.12,103.38 369.4,104.2C370.68,105.02 371.85,105.93 373.3,106.2C374.75,106.47 376.67,105.48 378.1,105.8C379.53,106.12 381.58,107.23 381.9,108.1C382.22,108.97 381.28,110.37 380,111C378.72,111.63 375.65,111.1 374.2,111.9C372.75,112.7 372.58,114.67 371.3,115.8C370.02,116.93 368.25,118.22 366.5,118.7C364.75,119.18 362.23,119.52 360.8,118.7C359.37,117.88 358.23,116.22 357.9,113.8C357.57,111.38 358.17,106.28 358.8,104.2Z" fill="#9684c8" />
<path fill="#9684c8" d="M358.8 103.98a0.65 0.65 0 1 0 1.29 0a0.65 0.65 0 1 0 -1.29 0zM358.36 103.32a0.7 0.7 0 1 0 1.4 0a0.7 0.7 0 1 0 -1.4 0zM358.74 102.02a0.66 0.66 0 1 0 1.31 0a0.66 0.66 0 1 0 -1.31 0zM360.32 101.42a0.39 0.39 0 1 0 0.78 0a0.39 0.39 0 1 0 -0.78 0zM361.68 101.34a0.36 0.36 0 1 0 0.73 0a0.36 0.36 0 1 0 -0.73 0zM363.16 100.86a0.45 0.45 0 1 0 0.9 0a0.45 0.45 0 1 0 -0.9 0zM363.61 100.44a0.6 0.6 0 1 0 1.2 0a0.6 0.6 0 1 0 -1.2 0zM364.09 101.38a0.61 0.61 0 1 0 1.22 0a0.61 0.61 0 1 0 -1.22 0zM364.81 101.26a0.74 0.74 0 1 0 1.48 0a0.74 0.74 0 1 0 -1.48 0zM367.07 103.57a0.55 0.55 0 1 0 1.1 0a0.55 0.55 0 1 0 -1.1 0zM367.79 103.95a0.72 0.72 0 1 0 1.44 0a0.72 0.72 0 1 0 -1.44 0zM367.87 104.5a0.73 0.73 0 1 0 1.46 0a0.73 0.73 0 1 0 -1.46 0zM369.23 105.06a0.72 0.72 0 1 0 1.44 0a0.72 0.72 0 1 0 -1.44 0zM370.47 105.73a0.35 0.35 0 1 0 0.71 0a0.35 0.35 0 1 0 -0.71 0zM371.98 105.77a0.39 0.39 0 1 0 0.78 0a0.39 0.39 0 1 0 -0.78 0zM373.53 106.52a0.71 0.71 0 1 0 1.42 0a0.71 0.71 0 1 0 -1.42 0zM374.2 106.27a0.62 0.62 0 1 0 1.23 0a0.62 0.62 0 1 0 -1.23 0zM375.96 106.51a0.74 0.74 0 1 0 1.47 0a0.74 0.74 0 1 0 -1.47 0zM375.84 106.43a0.6 0.6 0 1 0 1.2 0a0.6 0.6 0 1 0 -1.2 0zM377.56 106.01a0.4 0.4 0 1 0 0.8 0a0.4 0.4 0 1 0 -0.8 0zM378.72 105.49a0.36 0.36 0 1 0 0.73 0a0.36 0.36 0 1 0 -0.73 0zM380.99 107.35a0.59 0.59 0 1 0 1.17 0a0.59 0.59 0 1 0 -1.17 0zM380.79 107.21a0.54 0.54 0 1 0 1.08 0a0.54 0.54 0 1 0 -1.08 0zM381.35 107.94a0.64 0.64 0 1 0 1.27 0a0.64 0.64 0 1 0 -1.27 0zM380.85 109.13a0.61 0.61 0 1 0 1.22 0a0.61 0.61 0 1 0 -1.22 0zM380.4 109.53a0.74 0.74 0 1 0 1.48 0a0.74 0.74 0 1 0 -1.48 0zM381.49 110.14a0.43 0.43 0 1 0 0.87 0a0.43 0.43 0 1 0 -0.87 0zM380.38 110.22a0.54 0.54 0 1 0 1.08 0a0.54 0.54 0 1 0 -1.08 0zM378.96 110.54a0.6 0.6 0 1 0 1.19 0a0.6 0.6 0 1 0 -1.19 0zM377.33 112.05a0.59 0.59 0 1 0 1.19 0a0.59 0.59 0 1 0 -1.19 0zM376.09 112.07a0.62 0.62 0 1 0 1.24 0a0.62 0.62 0 1 0 -1.24 0zM373.88 111.77a0.66 0.66 0 1 0 1.32 0a0.66 0.66 0 1 0 -1.32 0zM372.42 112.66a0.38 0.38 0 1 0 0.76 0a0.38 0.38 0 1 0 -0.76 0zM371.82 114.19a0.36 0.36 0 1 0 0.73 0a0.36 0.36 0 1 0 -0.73 0zM371.07 114.33a0.62 0.62 0 1 0 1.24 0a0.62 0.62 0 1 0 -1.24 0zM370.88 114.92a0.5 0.5 0 1 0 0.99 0a0.5 0.5 0 1 0 -0.99 0zM370.5 115.22a0.48 0.48 0 1 0 0.97 0a0.48 0.48 0 1 0 -0.97 0zM370.61 116.89a0.45 0.45 0 1 0 0.9 0a0.45 0.45 0 1 0 -0.9 0zM369.41 117.7a0.55 0.55 0 1 0 1.1 0a0.55 0.55 0 1 0 -1.1 0zM368.11 118.19a0.48 0.48 0 1 0 0.95 0a0.48 0.48 0 1 0 -0.95 0zM366.9 117.62a0.43 0.43 0 1 0 0.87 0a0.43 0.43 0 1 0 -0.87 0zM366.55 118.2a0.42 0.42 0 1 0 0.83 0a0.42 0.42 0 1 0 -0.83 0zM362.21 118.6a0.42 0.42 0 1 0 0.84 0a0.42 0.42 0 1 0 -0.84 0zM361.27 118.34a0.59 0.59 0 1 0 1.18 0a0.59 0.59 0 1 0 -1.18 0zM359.76 118.28a0.75 0.75 0 1 0 1.5 0a0.75 0.75 0 1 0 -1.5 0zM358.66 117.62a0.46 0.46 0 1 0 0.93 0a0.46 0.46 0 1 0 -0.93 0zM358.41 117.2a0.4 0.4 0 1 0 0.8 0a0.4 0.4 0 1 0 -0.8 0zM358.75 117.47a0.57 0.57 0 1 0 1.14 0a0.57 0.57 0 1 0 -1.14 0zM357.71 115.5a0.6 0.6 0 1 0 1.2 0a0.6 0.6 0 1 0 -1.2 0zM357.36 106.07a0.66 0.66 0 1 0 1.31 0a0.66 0.66 0 1 0 -1.31 0zM358.04 105.07a0.48 0.48 0 1 0 0.96 0a0.48 0.48 0 1 0 -0.96 0z"/>
<path d="M418.5,110C418.65,109.13 420.5,108.22 421.3,107.1C422.1,105.98 422.65,104.58 423.3,103.3C423.95,102.02 424.4,100.2 425.2,99.4C426,98.6 427.3,98.18 428.1,98.5C428.9,98.82 430.17,100.35 430,101.3C429.83,102.25 427.27,103.07 427.1,104.2C426.93,105.33 428.2,106.98 429,108.1C429.8,109.22 431.9,110.1 431.9,110.9C431.9,111.7 430.28,112.67 429,112.9C427.72,113.13 425.63,112.4 424.2,112.3C422.77,112.2 421.35,112.68 420.4,112.3C419.45,111.92 418.35,110.87 418.5,110Z" fill="#e3a06e" />
<path fill="#e3a06e" d="M418.14 109a0.46 0.46 0 1 0 0.91 0a0.46 0.46 0 1 0 -0.91 0zM418.27 109.31a0.58 0.58 0 1 0 1.17 0a0.58 0.58 0 1 0 -1.17 0zM419.39 107.34a0.61 0.61 0 1 0 1.22 0a0.61 0.61 0 1 0 -1.22 0zM420.97 106.9a0.58 0.58 0 1 0 1.15 0a0.58 0.58 0 1 0 -1.15 0zM421.54 106.29a0.59 0.59 0 1 0 1.19 0a0.59 0.59 0 1 0 -1.19 0zM420.76 105.65a0.61 0.61 0 1 0 1.21 0a0.61 0.61 0 1 0 -1.21 0zM421.88 105.62a0.56 0.56 0 1 0 1.12 0a0.56 0.56 0 1 0 -1.12 0zM421.93 105.48a0.51 0.51 0 1 0 1.02 0a0.51 0.51 0 1 0 -1.02 0zM423.16 103.76a0.36 0.36 0 1 0 0.71 0a0.36 0.36 0 1 0 -0.71 0zM423.22 102.7a0.44 0.44 0 1 0 0.89 0a0.44 0.44 0 1 0 -0.89 0zM423.21 101.98a0.41 0.41 0 1 0 0.83 0a0.41 0.41 0 1 0 -0.83 0zM423.54 102.4a0.65 0.65 0 1 0 1.3 0a0.65 0.65 0 1 0 -1.3 0zM424.58 100.36a0.52 0.52 0 1 0 1.05 0a0.52 0.52 0 1 0 -1.05 0zM424.18 100.29a0.73 0.73 0 1 0 1.46 0a0.73 0.73 0 1 0 -1.46 0zM425.02 99.15a0.68 0.68 0 1 0 1.36 0a0.68 0.68 0 1 0 -1.36 0zM424.52 99.03a0.4 0.4 0 1 0 0.79 0a0.4 0.4 0 1 0 -0.79 0zM425.66 98.89a0.39 0.39 0 1 0 0.78 0a0.39 0.39 0 1 0 -0.78 0zM426.86 98.52a0.67 0.67 0 1 0 1.35 0a0.67 0.67 0 1 0 -1.35 0zM426.84 98.35a0.58 0.58 0 1 0 1.17 0a0.58 0.58 0 1 0 -1.17 0zM427.23 98.24a0.65 0.65 0 1 0 1.3 0a0.65 0.65 0 1 0 -1.3 0zM429.06 99.03a0.57 0.57 0 1 0 1.15 0a0.57 0.57 0 1 0 -1.15 0zM428.71 100.11a0.4 0.4 0 1 0 0.79 0a0.4 0.4 0 1 0 -0.79 0zM429.11 100.24a0.73 0.73 0 1 0 1.46 0a0.73 0.73 0 1 0 -1.46 0zM428.2 101.76a0.44 0.44 0 1 0 0.89 0a0.44 0.44 0 1 0 -0.89 0zM428.56 103.24a0.45 0.45 0 1 0 0.89 0a0.45 0.45 0 1 0 -0.89 0zM426.63 103.48a0.65 0.65 0 1 0 1.29 0a0.65 0.65 0 1 0 -1.29 0zM427.01 104.87a0.61 0.61 0 1 0 1.22 0a0.61 0.61 0 1 0 -1.22 0zM426.43 105.05a0.75 0.75 0 1 0 1.5 0a0.75 0.75 0 1 0 -1.5 0zM425.96 105.71a0.7 0.7 0 1 0 1.4 0a0.7 0.7 0 1 0 -1.4 0zM427.68 106.12a0.39 0.39 0 1 0 0.79 0a0.39 0.39 0 1 0 -0.79 0zM427.55 106.52a0.42 0.42 0 1 0 0.85 0a0.42 0.42 0 1 0 -0.85 0zM429.06 108.56a0.6 0.6 0 1 0 1.2 0a0.6 0.6 0 1 0 -1.2 0zM429.71 109.3a0.36 0.36 0 1 0 0.72 0a0.36 0.36 0 1 0 -0.72 0zM429.18 109.16a0.69 0.69 0 1 0 1.38 0a0.69 0.69 0 1 0 -1.38 0zM430.74 109.53a0.6 0.6 0 1 0 1.21 0a0.6 0.6 0 1 0 -1.21 0zM430.78 110.33a0.57 0.57 0 1 0 1.14 0a0.57 0.57 0 1 0 -1.14 0zM431.47 110.96a0.71 0.71 0 1 0 1.42 0a0.71 0.71 0 1 0 -1.42 0zM431.43 111.86a0.73 0.73 0 1 0 1.47 0a0.73 0.73 0 1 0 -1.47 0zM431.2 111.67a0.59 0.59 0 1 0 1.19 0a0.59 0.59 0 1 0 -1.19 0zM429.97 112.15a0.6 0.6 0 1 0 1.2 0a0.6 0.6 0 1 0 -1.2 0zM430.36 112.72a0.54 0.54 0 1 0 1.08 0a0.54 0.54 0 1 0 -1.08 0zM425.44 113.13a0.48 0.48 0 1 0 0.95 0a0.48 0.48 0 1 0 -0.95 0zM424.72 111.74a0.71 0.71 0 1 0 1.41 0a0.71 0.71 0 1 0 -1.41 0zM423.01 112.23a0.62 0.62 0 1 0 1.23 0a0.62 0.62 0 1 0 -1.23 0zM423.83 111.85a0.47 0.47 0 1 0 0.94 0a0.47 0.47 0 1 0 -0.94 0zM420.99 111.85a0.71 0.71 0 1 0 1.41 0a0.71 0.71 0 1 0 -1.41 0zM420.22 113.14a0.64 0.64 0 1 0 1.27 0a0.64 0.64 0 1 0 -1.27 0zM420.03 111.78a0.71 0.71 0 1 0 1.41 0a0.71 0.71 0 1 0 -1.41 0zM418.07 110.2a0.68 0.68 0 1 0 1.36 0a0.68 0.68 0 1 0 -1.36 0z"/>
<path d="M433.8,110.4C434.43,109.83 437.98,108.8 439.6,108.1C441.22,107.4 442.53,107.17 443.5,106.2C444.47,105.23 444.45,103.75 445.4,102.3C446.35,100.85 448.08,98.13 449.2,97.5C450.32,96.87 451.62,97.05 452.1,98.5C452.58,99.95 452.58,104.53 452.1,106.2C451.62,107.87 450.32,108.03 449.2,108.5C448.08,108.97 446.83,108.82 445.4,109C443.97,109.18 442.2,109.18 440.6,109.6C439,110.02 436.93,111.37 435.8,111.5C434.67,111.63 433.17,110.97 433.8,110.4Z" fill="#e41c20" />
<path fill="#e41c20" d="M433.97 111.02a0.42 0.42 0 1 0 0.83 0a0.42 0.42 0 1 0 -0.83 0zM434.31 109.75a0.39 0.39 0 1 0 0.77 0a0.39 0.39 0 1 0 -0.77 0zM437.56 109.1a0.41 0.41 0 1 0 0.82 0a0.41 0.41 0 1 0 -0.82 0zM440.39 107.39a0.69 0.69 0 1 0 1.37 0a0.69 0.69 0 1 0 -1.37 0zM441.45 107.77a0.5 0.5 0 1 0 0.99 0a0.5 0.5 0 1 0 -0.99 0zM441.03 107.04a0.45 0.45 0 1 0 0.89 0a0.45 0.45 0 1 0 -0.89 0zM441.58 106.77a0.73 0.73 0 1 0 1.46 0a0.73 0.73 0 1 0 -1.46 0zM442.19 106.16a0.63 0.63 0 1 0 1.26 0a0.63 0.63 0 1 0 -1.26 0zM442.09 106.41a0.48 0.48 0 1 0 0.97 0a0.48 0.48 0 1 0 -0.97 0zM442.23 106.47a0.74 0.74 0 1 0 1.48 0a0.74 0.74 0 1 0 -1.48 0zM442.91 105.85a0.72 0.72 0 1 0 1.43 0a0.72 0.72 0 1 0 -1.43 0zM443.71 104.48a0.5 0.5 0 1 0 1.01 0a0.5 0.5 0 1 0 -1.01 0zM444.43 103.76a0.61 0.61 0 1 0 1.23 0a0.61 0.61 0 1 0 -1.23 0zM443.94 103.39a0.69 0.69 0 1 0 1.38 0a0.69 0.69 0 1 0 -1.38 0zM444.17 102.75a0.55 0.55 0 1 0 1.1 0a0.55 0.55 0 1 0 -1.1 0zM445.31 101.74a0.41 0.41 0 1 0 0.83 0a0.41 0.41 0 1 0 -0.83 0zM445.07 101.47a0.64 0.64 0 1 0 1.29 0a0.64 0.64 0 1 0 -1.29 0zM446.07 99.01a0.6 0.6 0 1 0 1.2 0a0.6 0.6 0 1 0 -1.2 0zM448.31 98.05a0.62 0.62 0 1 0 1.24 0a0.62 0.62 0 1 0 -1.24 0zM448.76 97.56a0.7 0.7 0 1 0 1.39 0a0.7 0.7 0 1 0 -1.39 0zM449.53 97.76a0.7 0.7 0 1 0 1.4 0a0.7 0.7 0 1 0 -1.4 0zM449.92 96.99a0.71 0.71 0 1 0 1.42 0a0.71 0.71 0 1 0 -1.42 0zM451.52 97.74a0.51 0.51 0 1 0 1.01 0a0.51 0.51 0 1 0 -1.01 0zM451.61 99.66a0.41 0.41 0 1 0 0.82 0a0.41 0.41 0 1 0 -0.82 0zM452.01 103.91a0.54 0.54 0 1 0 1.09 0a0.54 0.54 0 1 0 -1.09 0zM450.95 107.32a0.67 0.67 0 1 0 1.33 0a0.67 0.67 0 1 0 -1.33 0zM450.63 108.56a0.39 0.39 0 1 0 0.79 0a0.39 0.39 0 1 0 -0.79 0zM447.35 108.88a0.43 0.43 0 1 0 0.86 0a0.43 0.43 0 1 0 -0.86 0zM446.9 108.57a0.64 0.64 0 1 0 1.27 0a0.64 0.64 0 1 0 -1.27 0zM446.34 109.18a0.41 0.41 0 1 0 0.83 0a0.41 0.41 0 1 0 -0.83 0zM446.19 108.4a0.4 0.4 0 1 0 0.8 0a0.4 0.4 0 1 0 -0.8 0zM444.72 108.45a0.48 0.48 0 1 0 0.96 0a0.48 0.48 0 1 0 -0.96 0zM443.23 109.79a0.4 0.4 0 1 0 0.8 0a0.4 0.4 0 1 0 -0.8 0zM441.63 109.28a0.7 0.7 0 1 0 1.4 0a0.7 0.7 0 1 0 -1.4 0zM440.62 110.05a0.68 0.68 0 1 0 1.36 0a0.68 0.68 0 1 0 -1.36 0zM441.35 110.06a0.36 0.36 0 1 0 0.72 0a0.36 0.36 0 1 0 -0.72 0zM439.08 110.26a0.66 0.66 0 1 0 1.32 0a0.66 0.66 0 1 0 -1.32 0zM438.77 110.48a0.35 0.35 0 1 0 0.7 0a0.35 0.35 0 1 0 -0.7 0zM437.82 110.61a0.47 0.47 0 1 0 0.93 0a0.47 0.47 0 1 0 -0.93 0zM434.1 110.97a0.71 0.71 0 1 0 1.42 0a0.71 0.71 0 1 0 -1.42 0zM433.36 110.78a0.51 0.51 0 1 0 1.03 0a0.51 0.51 0 1 0 -1.03 0z"/>
<path d="M390.6,125.4C390.77,123.63 392.38,121.05 393.5,119.6C394.62,118.15 395.87,117.02 397.3,116.7C398.73,116.38 400.82,116.9 402.1,117.7C403.38,118.5 403.55,120.92 405,121.5C406.45,122.08 408.93,121.13 410.8,121.2C412.67,121.27 415.5,120.88 416.2,121.9C416.9,122.92 415.9,126.23 415,127.3C414.1,128.37 412.3,128.47 410.8,128.3C409.3,128.13 407.45,126.47 406,126.3C404.55,126.13 402.9,126.17 402.1,127.3C401.3,128.43 400.72,131.18 401.2,133.1C401.68,135.02 404.2,137.52 405,138.8C405.8,140.08 406.48,140.8 406,140.8C405.52,140.8 403.72,139.93 402.1,138.8C400.48,137.67 397.9,135.43 396.3,134C394.7,132.57 393.45,131.63 392.5,130.2C391.55,128.77 390.43,127.17 390.6,125.4Z" fill="#72c4d6" />
<path fill="#72c4d6" d="M389.78 125.65a0.67 0.67 0 1 0 1.33 0a0.67 0.67 0 1 0 -1.33 0zM390.26 124.83a0.7 0.7 0 1 0 1.39 0a0.7 0.7 0 1 0 -1.39 0zM389.91 124.5a0.63 0.63 0 1 0 1.26 0a0.63 0.63 0 1 0 -1.26 0zM391.36 123.38a0.38 0.38 0 1 0 0.77 0a0.38 0.38 0 1 0 -0.77 0zM392.13 121.55a0.62 0.62 0 1 0 1.25 0a0.62 0.62 0 1 0 -1.25 0zM392.56 120.13a0.42 0.42 0 1 0 0.85 0a0.42 0.42 0 1 0 -0.85 0zM393.95 117.56a0.63 0.63 0 1 0 1.26 0a0.63 0.63 0 1 0 -1.26 0zM396.31 117.07a0.55 0.55 0 1 0 1.1 0a0.55 0.55 0 1 0 -1.1 0zM396.77 117.25a0.58 0.58 0 1 0 1.17 0a0.58 0.58 0 1 0 -1.17 0zM396.35 116.23a0.37 0.37 0 1 0 0.74 0a0.37 0.37 0 1 0 -0.74 0zM398.56 116.1a0.39 0.39 0 1 0 0.78 0a0.39 0.39 0 1 0 -0.78 0zM398.33 116.69a0.73 0.73 0 1 0 1.47 0a0.73 0.73 0 1 0 -1.47 0zM401.55 117.44a0.61 0.61 0 1 0 1.22 0a0.61 0.61 0 1 0 -1.22 0zM402.91 118.83a0.41 0.41 0 1 0 0.83 0a0.41 0.41 0 1 0 -0.83 0zM402.73 118.52a0.58 0.58 0 1 0 1.16 0a0.58 0.58 0 1 0 -1.16 0zM403.03 120.13a0.38 0.38 0 1 0 0.76 0a0.38 0.38 0 1 0 -0.76 0zM403.23 121.15a0.47 0.47 0 1 0 0.93 0a0.47 0.47 0 1 0 -0.93 0zM404.59 121.59a0.46 0.46 0 1 0 0.92 0a0.46 0.46 0 1 0 -0.92 0zM404.95 120.86a0.37 0.37 0 1 0 0.74 0a0.37 0.37 0 1 0 -0.74 0zM406.15 122.27a0.42 0.42 0 1 0 0.83 0a0.42 0.42 0 1 0 -0.83 0zM407.61 121.24a0.64 0.64 0 1 0 1.27 0a0.64 0.64 0 1 0 -1.27 0zM407.54 121.12a0.5 0.5 0 1 0 0.99 0a0.5 0.5 0 1 0 -0.99 0zM408.11 120.81a0.67 0.67 0 1 0 1.35 0a0.67 0.67 0 1 0 -1.35 0zM409.8 120.91a0.39 0.39 0 1 0 0.78 0a0.39 0.39 0 1 0 -0.78 0zM411.38 120.57a0.49 0.49 0 1 0 0.98 0a0.49 0.49 0 1 0 -0.98 0zM411.91 120.6a0.7 0.7 0 1 0 1.4 0a0.7 0.7 0 1 0 -1.4 0zM413.17 121.25a0.64 0.64 0 1 0 1.28 0a0.64 0.64 0 1 0 -1.28 0zM416.23 122.81a0.47 0.47 0 1 0 0.94 0a0.47 0.47 0 1 0 -0.94 0zM415.27 123.15a0.68 0.68 0 1 0 1.36 0a0.68 0.68 0 1 0 -1.36 0zM415.29 123.48a0.58 0.58 0 1 0 1.16 0a0.58 0.58 0 1 0 -1.16 0zM415.11 127.39a0.68 0.68 0 1 0 1.36 0a0.68 0.68 0 1 0 -1.36 0zM414.53 127.89a0.63 0.63 0 1 0 1.26 0a0.63 0.63 0 1 0 -1.26 0zM414.03 127.47a0.43 0.43 0 1 0 0.87 0a0.43 0.43 0 1 0 -0.87 0zM413.35 127.43a0.74 0.74 0 1 0 1.48 0a0.74 0.74 0 1 0 -1.48 0zM412.23 127.64a0.56 0.56 0 1 0 1.13 0a0.56 0.56 0 1 0 -1.13 0zM411.51 128.53a0.61 0.61 0 1 0 1.23 0a0.61 0.61 0 1 0 -1.23 0zM410.72 127.92a0.38 0.38 0 1 0 0.76 0a0.38 0.38 0 1 0 -0.76 0zM410.09 127.82a0.43 0.43 0 1 0 0.86 0a0.43 0.43 0 1 0 -0.86 0zM408.63 127.89a0.43 0.43 0 1 0 0.86 0a0.43 0.43 0 1 0 -0.86 0zM404.81 125.87a0.75 0.75 0 1 0 1.5 0a0.75 0.75 0 1 0 -1.5 0zM404.93 125.67a0.59 0.59 0 1 0 1.18 0a0.59 0.59 0 1 0 -1.18 0zM402.86 126.57a0.75 0.75 0 1 0 1.5 0a0.75 0.75 0 1 0 -1.5 0zM402.88 126.51a0.65 0.65 0 1 0 1.31 0a0.65 0.65 0 1 0 -1.31 0zM401.31 126.68a0.72 0.72 0 1 0 1.43 0a0.72 0.72 0 1 0 -1.43 0zM400.96 128.62a0.51 0.51 0 1 0 1.01 0a0.51 0.51 0 1 0 -1.01 0zM400.77 129.78a0.35 0.35 0 1 0 0.7 0a0.35 0.35 0 1 0 -0.7 0zM399.84 130.28a0.6 0.6 0 1 0 1.2 0a0.6 0.6 0 1 0 -1.2 0zM401.01 131.85a0.39 0.39 0 1 0 0.78 0a0.39 0.39 0 1 0 -0.78 0zM401.06 134.16a0.64 0.64 0 1 0 1.28 0a0.64 0.64 0 1 0 -1.28 0zM402.21 135.99a0.71 0.71 0 1 0 1.43 0a0.71 0.71 0 1 0 -1.43 0zM402.4 135.97a0.58 0.58 0 1 0 1.16 0a0.58 0.58 0 1 0 -1.16 0zM403.23 137.7a0.73 0.73 0 1 0 1.47 0a0.73 0.73 0 1 0 -1.47 0zM404.62 138.82a0.68 0.68 0 1 0 1.35 0a0.68 0.68 0 1 0 -1.35 0zM405.44 140.32a0.4 0.4 0 1 0 0.79 0a0.4 0.4 0 1 0 -0.79 0zM405.9 140.58a0.39 0.39 0 1 0 0.78 0a0.39 0.39 0 1 0 -0.78 0zM406.18 140.05a0.56 0.56 0 1 0 1.12 0a0.56 0.56 0 1 0 -1.12 0zM405.39 140.58a0.38 0.38 0 1 0 0.76 0a0.38 0.38 0 1 0 -0.76 0zM405.51 140.89a0.57 0.57 0 1 0 1.14 0a0.57 0.57 0 1 0 -1.14 0zM404.06 140.63a0.52 0.52 0 1 0 1.04 0a0.52 0.52 0 1 0 -1.04 0zM403.88 139.64a0.68 0.68 0 1 0 1.35 0a0.68 0.68 0 1 0 -1.35 0zM401.5 139.5a0.62 0.62 0 1 0 1.25 0a0.62 0.62 0 1 0 -1.25 0zM398.87 136.92a0.74 0.74 0 1 0 1.47 0a0.74 0.74 0 1 0 -1.47 0zM397.81 136.12a0.53 0.53 0 1 0 1.06 0a0.53 0.53 0 1 0 -1.06 0zM394.68 133.2a0.71 0.71 0 1 0 1.42 0a0.71 0.71 0 1 0 -1.42 0zM393.84 132.35a0.61 0.61 0 1 0 1.21 0a0.61 0.61 0 1 0 -1.21 0zM394.3 132.29a0.43 0.43 0 1 0 0.86 0a0.43 0.43 0 1 0 -0.86 0zM392.66 131.34a0.55 0.55 0 1 0 1.09 0a0.55 0.55 0 1 0 -1.09 0zM390.24 128.28a0.5 0.5 0 1 0 1 0a0.5 0.5 0 1 0 -1 0zM390.37 125.53a0.48 0.48 0 1 0 0.97 0a0.48 0.48 0 1 0 -0.97 0z"/>
<path d="M378.1,143.7C378.1,143.15 380.62,142.25 381.9,141.7C383.18,141.15 384.83,140.23 385.8,140.4C386.77,140.57 387.55,142 387.7,142.7C387.85,143.4 387.67,144.22 386.7,144.6C385.73,144.98 383.33,145.15 381.9,145C380.47,144.85 378.1,144.25 378.1,143.7Z" fill="#14a090" />
<path fill="#14a090" d="M378.11 143.42a0.44 0.44 0 1 0 0.87 0a0.44 0.44 0 1 0 -0.87 0zM378.24 143.76a0.36 0.36 0 1 0 0.72 0a0.36 0.36 0 1 0 -0.72 0zM378.39 143.16a0.45 0.45 0 1 0 0.89 0a0.45 0.45 0 1 0 -0.89 0zM379.61 142.93a0.42 0.42 0 1 0 0.84 0a0.42 0.42 0 1 0 -0.84 0zM379.14 141.78a0.38 0.38 0 1 0 0.76 0a0.38 0.38 0 1 0 -0.76 0zM379.95 142.42a0.43 0.43 0 1 0 0.86 0a0.43 0.43 0 1 0 -0.86 0zM380.06 141.44a0.68 0.68 0 1 0 1.36 0a0.68 0.68 0 1 0 -1.36 0zM380.48 142.13a0.74 0.74 0 1 0 1.48 0a0.74 0.74 0 1 0 -1.48 0zM382.42 142.12a0.45 0.45 0 1 0 0.91 0a0.45 0.45 0 1 0 -0.91 0zM383.45 140.36a0.38 0.38 0 1 0 0.76 0a0.38 0.38 0 1 0 -0.76 0zM384.21 140.49a0.54 0.54 0 1 0 1.08 0a0.54 0.54 0 1 0 -1.08 0zM385.2 140.66a0.45 0.45 0 1 0 0.9 0a0.45 0.45 0 1 0 -0.9 0zM386.02 141.05a0.65 0.65 0 1 0 1.3 0a0.65 0.65 0 1 0 -1.3 0zM387.05 141.95a0.55 0.55 0 1 0 1.09 0a0.55 0.55 0 1 0 -1.09 0zM387.32 141.11a0.62 0.62 0 1 0 1.24 0a0.62 0.62 0 1 0 -1.24 0zM386.69 143.22a0.46 0.46 0 1 0 0.92 0a0.46 0.46 0 1 0 -0.92 0zM387.84 142.54a0.48 0.48 0 1 0 0.96 0a0.48 0.48 0 1 0 -0.96 0zM385.69 144.18a0.49 0.49 0 1 0 0.98 0a0.49 0.49 0 1 0 -0.98 0zM385.18 145.25a0.49 0.49 0 1 0 0.98 0a0.49 0.49 0 1 0 -0.98 0zM383.92 145.16a0.68 0.68 0 1 0 1.37 0a0.68 0.68 0 1 0 -1.37 0zM383.81 144.78a0.54 0.54 0 1 0 1.08 0a0.54 0.54 0 1 0 -1.08 0zM382.41 144.68a0.68 0.68 0 1 0 1.37 0a0.68 0.68 0 1 0 -1.37 0zM381.69 145.45a0.66 0.66 0 1 0 1.32 0a0.66 0.66 0 1 0 -1.32 0zM379.86 144.76a0.66 0.66 0 1 0 1.31 0a0.66 0.66 0 1 0 -1.31 0zM378.58 144.77a0.7 0.7 0 1 0 1.41 0a0.7 0.7 0 1 0 -1.41 0zM377.91 144.34a0.48 0.48 0 1 0 0.96 0a0.48 0.48 0 1 0 -0.96 0z"/>
<text x="288.5" y="36.2" font-size="6.4" text-anchor="start" fill="#333" font-weight="normal" textLength="44.5" lengthAdjust="spacingAndGlyphs"  style="">RRMM patients</text>
<rect x="291.5" y="40.85" width="11.2" height="4.7" fill="#e31a1c" />
<text x="288.9" y="45.4" font-size="6.1" text-anchor="end" fill="#444" font-weight="normal"  style="">1</text>
<rect x="291.5" y="46.71" width="3.2" height="4.7" fill="#d9793a" />
<text x="288.9" y="51.26" font-size="6.1" text-anchor="end" fill="#444" font-weight="normal"  style="">2</text>
<rect x="291.5" y="52.57" width="2.4" height="4.7" fill="#f3dc8a" />
<text x="288.9" y="57.12" font-size="6.1" text-anchor="end" fill="#444" font-weight="normal"  style="">3</text>
<rect x="291.5" y="58.43" width="3.7" height="4.7" fill="#262a6e" />
<text x="288.9" y="62.98" font-size="6.1" text-anchor="end" fill="#444" font-weight="normal"  style="">5</text>
<rect x="291.5" y="64.29" width="2.9" height="4.7" fill="#6e2c82" />
<text x="288.9" y="68.84" font-size="6.1" text-anchor="end" fill="#444" font-weight="normal"  style="">6</text>
<rect x="291.5" y="70.15" width="3.7" height="4.7" fill="#8aa2cc" />
<text x="288.9" y="74.7" font-size="6.1" text-anchor="end" fill="#444" font-weight="normal"  style="">7</text>
<rect x="291.5" y="76.01" width="32.2" height="4.7" fill="#c978bb" />
<text x="288.9" y="80.56" font-size="6.1" text-anchor="end" fill="#444" font-weight="normal"  style="">9</text>
<rect x="291.5" y="81.87" width="12.5" height="4.7" fill="#eda45f" />
<text x="288.9" y="86.42" font-size="6.1" text-anchor="end" fill="#444" font-weight="normal" textLength="7.4" lengthAdjust="spacingAndGlyphs"  style="">10</text>
<rect x="291.5" y="87.73" width="17.3" height="4.7" fill="#72c5d8" />
<text x="288.9" y="92.28" font-size="6.1" text-anchor="end" fill="#444" font-weight="normal" textLength="7.4" lengthAdjust="spacingAndGlyphs"  style="">15</text>
<rect x="291.5" y="93.59" width="1.9" height="4.7" fill="#a8d8a0" />
<text x="288.9" y="98.14" font-size="6.1" text-anchor="end" fill="#444" font-weight="normal" textLength="7.4" lengthAdjust="spacingAndGlyphs"  style="">16</text>
<rect x="291.5" y="99.45" width="3.7" height="4.7" fill="#ef8080" />
<text x="288.9" y="104" font-size="6.1" text-anchor="end" fill="#444" font-weight="normal" textLength="7.4" lengthAdjust="spacingAndGlyphs"  style="">17</text>
<rect x="291.5" y="105.31" width="5.9" height="4.7" fill="#9d86c9" />
<text x="288.9" y="109.86" font-size="6.1" text-anchor="end" fill="#444" font-weight="normal" textLength="7.4" lengthAdjust="spacingAndGlyphs"  style="">18</text>
<rect x="291.5" y="111.17" width="14.7" height="4.7" fill="#dd4a22" />
<text x="288.9" y="115.72" font-size="6.1" text-anchor="end" fill="#444" font-weight="normal" textLength="7.4" lengthAdjust="spacingAndGlyphs"  style="">19</text>
<rect x="291.5" y="117.03" width="4.5" height="4.7" fill="#15998a" />
<text x="288.9" y="121.58" font-size="6.1" text-anchor="end" fill="#444" font-weight="normal" textLength="7.4" lengthAdjust="spacingAndGlyphs"  style="">20</text>
<rect x="291.5" y="122.89" width="3.7" height="4.7" fill="#168a4a" />
<text x="288.9" y="127.44" font-size="6.1" text-anchor="end" fill="#444" font-weight="normal" textLength="7.4" lengthAdjust="spacingAndGlyphs"  style="">21</text>
<line x1="291.2" y1="129.9" x2="330" y2="129.9" stroke="#333" stroke-width="0.8" />
<line x1="293.4" y1="128.7" x2="293.4" y2="131.1" stroke="#333" stroke-width="0.8" />
<text x="293.4" y="139.9" font-size="6.5" text-anchor="middle" fill="#333" font-weight="normal"  style="">1K</text>
<line x1="307.9" y1="128.7" x2="307.9" y2="131.1" stroke="#333" stroke-width="0.8" />
<text x="307.9" y="139.9" font-size="6.5" text-anchor="middle" fill="#333" font-weight="normal"  style="">5K</text>
<line x1="327.5" y1="128.7" x2="327.5" y2="131.1" stroke="#333" stroke-width="0.8" />
<text x="327.5" y="139.9" font-size="6.5" text-anchor="middle" fill="#333" font-weight="normal"  style="">10K</text>
<text x="293" y="150.9" font-size="6.6" text-anchor="start" fill="#333" font-weight="normal" textLength="35.6" lengthAdjust="spacingAndGlyphs"  style="">Cell number</text>
<text x="468.6" y="36.2" font-size="6.4" text-anchor="start" fill="#333" font-weight="normal" textLength="44.4" lengthAdjust="spacingAndGlyphs"  style="">RRMM patients</text>
<rect x="471.5" y="40.45" width="5.7" height="4.7" fill="#e31a1c" />
<text x="468.9" y="45" font-size="6.1" text-anchor="end" fill="#444" font-weight="normal"  style="">1</text>
<rect x="471.5" y="46.34" width="2.8" height="4.7" fill="#e89a5a" />
<text x="468.9" y="50.89" font-size="6.1" text-anchor="end" fill="#444" font-weight="normal"  style="">2</text>
<rect x="471.5" y="52.23" width="24.3" height="4.7" fill="#f5c830" />
<text x="468.9" y="56.78" font-size="6.1" text-anchor="end" fill="#444" font-weight="normal"  style="">3</text>
<rect x="471.5" y="58.12" width="7.5" height="4.7" fill="#262a6e" />
<text x="468.9" y="62.67" font-size="6.1" text-anchor="end" fill="#444" font-weight="normal"  style="">5</text>
<rect x="471.5" y="64.01" width="21.1" height="4.7" fill="#7a2a8a" />
<text x="468.9" y="68.56" font-size="6.1" text-anchor="end" fill="#444" font-weight="normal"  style="">6</text>
<rect x="471.5" y="69.9" width="5.7" height="4.7" fill="#8aaad8" />
<text x="468.9" y="74.45" font-size="6.1" text-anchor="end" fill="#444" font-weight="normal"  style="">7</text>
<rect x="471.5" y="75.79" width="9.5" height="4.7" fill="#d080c0" />
<text x="468.9" y="80.34" font-size="6.1" text-anchor="end" fill="#444" font-weight="normal"  style="">9</text>
<rect x="471.5" y="81.68" width="6.2" height="4.7" fill="#f0b070" />
<text x="468.9" y="86.23" font-size="6.1" text-anchor="end" fill="#444" font-weight="normal" textLength="7.4" lengthAdjust="spacingAndGlyphs"  style="">10</text>
<rect x="471.5" y="87.57" width="20.5" height="4.7" fill="#70c8d8" />
<text x="468.9" y="92.12" font-size="6.1" text-anchor="end" fill="#444" font-weight="normal" textLength="7.4" lengthAdjust="spacingAndGlyphs"  style="">15</text>
<rect x="471.5" y="93.46" width="3.8" height="4.7" fill="#ef8080" />
<text x="468.9" y="98.01" font-size="6.1" text-anchor="end" fill="#444" font-weight="normal" textLength="7.4" lengthAdjust="spacingAndGlyphs"  style="">17</text>
<rect x="471.5" y="99.35" width="31.2" height="4.7" fill="#a088c8" />
<text x="468.9" y="103.9" font-size="6.1" text-anchor="end" fill="#444" font-weight="normal" textLength="7.4" lengthAdjust="spacingAndGlyphs"  style="">18</text>
<rect x="471.5" y="105.24" width="9" height="4.7" fill="#e04020" />
<text x="468.9" y="109.79" font-size="6.1" text-anchor="end" fill="#444" font-weight="normal" textLength="7.4" lengthAdjust="spacingAndGlyphs"  style="">19</text>
<rect x="471.5" y="111.13" width="0.8" height="4.7" fill="#10a090" />
<text x="468.9" y="115.68" font-size="6.1" text-anchor="end" fill="#444" font-weight="normal" textLength="7.4" lengthAdjust="spacingAndGlyphs"  style="">20</text>
<rect x="471.5" y="117.02" width="16.9" height="4.7" fill="#10904a" />
<text x="468.9" y="121.57" font-size="6.1" text-anchor="end" fill="#444" font-weight="normal" textLength="7.4" lengthAdjust="spacingAndGlyphs"  style="">21</text>
<line x1="471.2" y1="123.9" x2="509.4" y2="123.9" stroke="#333" stroke-width="0.8" />
<line x1="473.5" y1="122.7" x2="473.5" y2="125.1" stroke="#333" stroke-width="0.8" />
<text x="473.5" y="133.9" font-size="6.5" text-anchor="middle" fill="#333" font-weight="normal"  style="">1K</text>
<line x1="487.1" y1="122.7" x2="487.1" y2="125.1" stroke="#333" stroke-width="0.8" />
<text x="487.1" y="133.9" font-size="6.5" text-anchor="middle" fill="#333" font-weight="normal"  style="">3.5K</text>
<line x1="506.9" y1="122.7" x2="506.9" y2="125.1" stroke="#333" stroke-width="0.8" />
<text x="506.9" y="133.9" font-size="6.5" text-anchor="middle" fill="#333" font-weight="normal"  style="">7K</text>
<text x="471.8" y="144.9" font-size="6.6" text-anchor="start" fill="#333" font-weight="normal" textLength="36.2" lengthAdjust="spacingAndGlyphs"  style="">Cell number</text>
<text x="149.2" y="174.6" font-size="10.5" text-anchor="start" fill="#111" font-weight="bold" stroke="#111" stroke-width="0.35" style="">C</text>
<text transform="translate(198.6,207) rotate(-44)" font-size="6.8" fill="#333" style="font-family:"Liberation Sans", sans-serif" textLength="27" lengthAdjust="spacingAndGlyphs">Subclone</text>
<text transform="translate(212.3,206.4) rotate(-43)" font-size="6.8" fill="#333" style="font-family:"Liberation Sans", sans-serif" textLength="30" lengthAdjust="spacingAndGlyphs">Timepoint</text>
<text x="225.23" y="204.3" font-size="6.6" text-anchor="middle" fill="#333" font-weight="normal"  style="">1</text>
<text x="237.09" y="204.3" font-size="6.6" text-anchor="middle" fill="#333" font-weight="normal"  style="">2</text>
<text x="248.95" y="204.3" font-size="6.6" text-anchor="middle" fill="#333" font-weight="normal"  style="">3</text>
<text x="260.81" y="204.3" font-size="6.6" text-anchor="middle" fill="#333" font-weight="normal"  style="">4</text>
<text x="272.67" y="204.3" font-size="6.6" text-anchor="middle" fill="#333" font-weight="normal"  style="">5</text>
<text x="284.53" y="204.3" font-size="6.6" text-anchor="middle" fill="#333" font-weight="normal"  style="">6</text>
<text x="296.39" y="204.3" font-size="6.6" text-anchor="middle" fill="#333" font-weight="normal"  style="">7</text>
<text x="308.25" y="204.3" font-size="6.6" text-anchor="middle" fill="#333" font-weight="normal"  style="">8</text>
<text x="320.11" y="204.3" font-size="6.6" text-anchor="middle" fill="#333" font-weight="normal"  style="">9</text>
<text x="331.97" y="204.3" font-size="6.6" text-anchor="middle" fill="#333" font-weight="normal"  style="">10</text>
<text x="343.83" y="204.3" font-size="6.6" text-anchor="middle" fill="#333" font-weight="normal"  style="">11</text>
<text x="355.69" y="204.3" font-size="6.6" text-anchor="middle" fill="#333" font-weight="normal"  style="">12</text>
<text x="367.55" y="204.3" font-size="6.6" text-anchor="middle" fill="#333" font-weight="normal"  style="">13</text>
<text x="379.41" y="204.3" font-size="6.6" text-anchor="middle" fill="#333" font-weight="normal"  style="">14</text>
<text x="391.27" y="204.3" font-size="6.6" text-anchor="middle" fill="#333" font-weight="normal"  style="">15</text>
<text x="403.13" y="204.3" font-size="6.6" text-anchor="middle" fill="#333" font-weight="normal"  style="">16</text>
<text x="414.99" y="204.3" font-size="6.6" text-anchor="middle" fill="#333" font-weight="normal"  style="">17</text>
<text x="426.85" y="204.3" font-size="6.6" text-anchor="middle" fill="#333" font-weight="normal"  style="">18</text>
<text x="438.71" y="204.3" font-size="6.6" text-anchor="middle" fill="#333" font-weight="normal"  style="">19</text>
<text x="450.57" y="204.3" font-size="6.6" text-anchor="middle" fill="#333" font-weight="normal"  style="">20</text>
<text x="462.43" y="204.3" font-size="6.6" text-anchor="middle" fill="#333" font-weight="normal"  style="">21</text>
<text x="474.29" y="204.3" font-size="6.6" text-anchor="middle" fill="#333" font-weight="normal"  style="">22</text>
<text x="481" y="196.3" font-size="6.6" text-anchor="start" fill="#333" font-weight="normal" textLength="15.5" lengthAdjust="spacingAndGlyphs"  style="">Copy</text>
<text x="481" y="204" font-size="6.6" text-anchor="start" fill="#333" font-weight="normal" textLength="22" lengthAdjust="spacingAndGlyphs"  style="">number</text>
<text transform="translate(193,233) rotate(-90)" font-size="6.6" fill="#333" style="font-family:"Liberation Sans", sans-serif" textLength="13.5" lengthAdjust="spacingAndGlyphs">WGS</text>
<rect x="206.9" y="207.1" width="11.4" height="21.2" fill="#c9c9c9" />
<rect x="206.9" y="229.2" width="11.4" height="20.2" fill="#8e8e8e" />
<text x="212.6" y="220.6" font-size="6.6" text-anchor="middle" fill="#333" font-weight="normal"  style="">T1</text>
<text x="212.6" y="241.8" font-size="6.6" text-anchor="middle" fill="#333" font-weight="normal"  style="">T2</text>
<rect x="218.5" y="207.1" width="261.5" height="42.3" fill="#e8e8e8" />
<line x1="218.5" y1="207.1" x2="218.5" y2="249.4" stroke="#efefef" stroke-width="0.5" />
<line x1="220.5" y1="207.1" x2="220.5" y2="249.4" stroke="#efefef" stroke-width="0.5" />
<line x1="222.5" y1="207.1" x2="222.5" y2="249.4" stroke="#efefef" stroke-width="0.5" />
<line x1="224.5" y1="207.1" x2="224.5" y2="249.4" stroke="#efefef" stroke-width="0.5" />
<line x1="226.5" y1="207.1" x2="226.5" y2="249.4" stroke="#efefef" stroke-width="0.5" />
<line x1="228.5" y1="207.1" x2="228.5" y2="249.4" stroke="#efefef" stroke-width="0.5" />
<line x1="230.5" y1="207.1" x2="230.5" y2="249.4" stroke="#efefef" stroke-width="0.5" />
<line x1="232.5" y1="207.1" x2="232.5" y2="249.4" stroke="#efefef" stroke-width="0.5" />
<line x1="234.5" y1="207.1" x2="234.5" y2="249.4" stroke="#efefef" stroke-width="0.5" />
<line x1="236.5" y1="207.1" x2="236.5" y2="249.4" stroke="#efefef" stroke-width="0.5" />
<line x1="238.5" y1="207.1" x2="238.5" y2="249.4" stroke="#efefef" stroke-width="0.5" />
<line x1="240.5" y1="207.1" x2="240.5" y2="249.4" stroke="#efefef" stroke-width="0.5" />
<line x1="242.5" y1="207.1" x2="242.5" y2="249.4" stroke="#efefef" stroke-width="0.5" />
<line x1="244.5" y1="207.1" x2="244.5" y2="249.4" stroke="#efefef" stroke-width="0.5" />
<line x1="246.5" y1="207.1" x2="246.5" y2="249.4" stroke="#efefef" stroke-width="0.5" />
<line x1="248.5" y1="207.1" x2="248.5" y2="249.4" stroke="#efefef" stroke-width="0.5" />
<line x1="250.5" y1="207.1" x2="250.5" y2="249.4" stroke="#efefef" stroke-width="0.5" />
<line x1="252.5" y1="207.1" x2="252.5" y2="249.4" stroke="#efefef" stroke-width="0.5" />
<line x1="254.5" y1="207.1" x2="254.5" y2="249.4" stroke="#efefef" stroke-width="0.5" />
<line x1="256.5" y1="207.1" x2="256.5" y2="249.4" stroke="#efefef" stroke-width="0.5" />
<line x1="258.5" y1="207.1" x2="258.5" y2="249.4" stroke="#efefef" stroke-width="0.5" />
<line x1="260.5" y1="207.1" x2="260.5" y2="249.4" stroke="#efefef" stroke-width="0.5" />
<line x1="262.5" y1="207.1" x2="262.5" y2="249.4" stroke="#efefef" stroke-width="0.5" />
<line x1="264.5" y1="207.1" x2="264.5" y2="249.4" stroke="#efefef" stroke-width="0.5" />
<line x1="266.5" y1="207.1" x2="266.5" y2="249.4" stroke="#efefef" stroke-width="0.5" />
<line x1="268.5" y1="207.1" x2="268.5" y2="249.4" stroke="#efefef" stroke-width="0.5" />
<line x1="270.5" y1="207.1" x2="270.5" y2="249.4" stroke="#efefef" stroke-width="0.5" />
<line x1="272.5" y1="207.1" x2="272.5" y2="249.4" stroke="#efefef" stroke-width="0.5" />
<line x1="274.5" y1="207.1" x2="274.5" y2="249.4" stroke="#efefef" stroke-width="0.5" />
<line x1="276.5" y1="207.1" x2="276.5" y2="249.4" stroke="#efefef" stroke-width="0.5" />
<line x1="278.5" y1="207.1" x2="278.5" y2="249.4" stroke="#efefef" stroke-width="0.5" />
<line x1="280.5" y1="207.1" x2="280.5" y2="249.4" stroke="#efefef" stroke-width="0.5" />
<line x1="282.5" y1="207.1" x2="282.5" y2="249.4" stroke="#efefef" stroke-width="0.5" />
<line x1="284.5" y1="207.1" x2="284.5" y2="249.4" stroke="#efefef" stroke-width="0.5" />
<line x1="286.5" y1="207.1" x2="286.5" y2="249.4" stroke="#efefef" stroke-width="0.5" />
<line x1="288.5" y1="207.1" x2="288.5" y2="249.4" stroke="#efefef" stroke-width="0.5" />
<line x1="290.5" y1="207.1" x2="290.5" y2="249.4" stroke="#efefef" stroke-width="0.5" />
<line x1="292.5" y1="207.1" x2="292.5" y2="249.4" stroke="#efefef" stroke-width="0.5" />
<line x1="294.5" y1="207.1" x2="294.5" y2="249.4" stroke="#efefef" stroke-width="0.5" />
<line x1="296.5" y1="207.1" x2="296.5" y2="249.4" stroke="#efefef" stroke-width="0.5" />
<line x1="298.5" y1="207.1" x2="298.5" y2="249.4" stroke="#efefef" stroke-width="0.5" />
<line x1="300.5" y1="207.1" x2="300.5" y2="249.4" stroke="#efefef" stroke-width="0.5" />
<line x1="302.5" y1="207.1" x2="302.5" y2="249.4" stroke="#efefef" stroke-width="0.5" />
<line x1="304.5" y1="207.1" x2="304.5" y2="249.4" stroke="#efefef" stroke-width="0.5" />
<line x1="306.5" y1="207.1" x2="306.5" y2="249.4" stroke="#efefef" stroke-width="0.5" />
<line x1="308.5" y1="207.1" x2="308.5" y2="249.4" stroke="#efefef" stroke-width="0.5" />
<line x1="310.5" y1="207.1" x2="310.5" y2="249.4" stroke="#efefef" stroke-width="0.5" />
<line x1="312.5" y1="207.1" x2="312.5" y2="249.4" stroke="#efefef" stroke-width="0.5" />
<line x1="314.5" y1="207.1" x2="314.5" y2="249.4" stroke="#efefef" stroke-width="0.5" />
<line x1="316.5" y1="207.1" x2="316.5" y2="249.4" stroke="#efefef" stroke-width="0.5" />
<line x1="318.5" y1="207.1" x2="318.5" y2="249.4" stroke="#efefef" stroke-width="0.5" />
<line x1="320.5" y1="207.1" x2="320.5" y2="249.4" stroke="#efefef" stroke-width="0.5" />
<line x1="322.5" y1="207.1" x2="322.5" y2="249.4" stroke="#efefef" stroke-width="0.5" />
<line x1="324.5" y1="207.1" x2="324.5" y2="249.4" stroke="#efefef" stroke-width="0.5" />
<line x1="326.5" y1="207.1" x2="326.5" y2="249.4" stroke="#efefef" stroke-width="0.5" />
<line x1="328.5" y1="207.1" x2="328.5" y2="249.4" stroke="#efefef" stroke-width="0.5" />
<line x1="330.5" y1="207.1" x2="330.5" y2="249.4" stroke="#efefef" stroke-width="0.5" />
<line x1="332.5" y1="207.1" x2="332.5" y2="249.4" stroke="#efefef" stroke-width="0.5" />
<line x1="334.5" y1="207.1" x2="334.5" y2="249.4" stroke="#efefef" stroke-width="0.5" />
<line x1="336.5" y1="207.1" x2="336.5" y2="249.4" stroke="#efefef" stroke-width="0.5" />
<line x1="338.5" y1="207.1" x2="338.5" y2="249.4" stroke="#efefef" stroke-width="0.5" />
<line x1="340.5" y1="207.1" x2="340.5" y2="249.4" stroke="#efefef" stroke-width="0.5" />
<line x1="342.5" y1="207.1" x2="342.5" y2="249.4" stroke="#efefef" stroke-width="0.5" />
<line x1="344.5" y1="207.1" x2="344.5" y2="249.4" stroke="#efefef" stroke-width="0.5" />
<line x1="346.5" y1="207.1" x2="346.5" y2="249.4" stroke="#efefef" stroke-width="0.5" />
<line x1="348.5" y1="207.1" x2="348.5" y2="249.4" stroke="#efefef" stroke-width="0.5" />
<line x1="350.5" y1="207.1" x2="350.5" y2="249.4" stroke="#efefef" stroke-width="0.5" />
<line x1="352.5" y1="207.1" x2="352.5" y2="249.4" stroke="#efefef" stroke-width="0.5" />
<line x1="354.5" y1="207.1" x2="354.5" y2="249.4" stroke="#efefef" stroke-width="0.5" />
<line x1="356.5" y1="207.1" x2="356.5" y2="249.4" stroke="#efefef" stroke-width="0.5" />
<line x1="358.5" y1="207.1" x2="358.5" y2="249.4" stroke="#efefef" stroke-width="0.5" />
<line x1="360.5" y1="207.1" x2="360.5" y2="249.4" stroke="#efefef" stroke-width="0.5" />
<line x1="362.5" y1="207.1" x2="362.5" y2="249.4" stroke="#efefef" stroke-width="0.5" />
<line x1="364.5" y1="207.1" x2="364.5" y2="249.4" stroke="#efefef" stroke-width="0.5" />
<line x1="366.5" y1="207.1" x2="366.5" y2="249.4" stroke="#efefef" stroke-width="0.5" />
<line x1="368.5" y1="207.1" x2="368.5" y2="249.4" stroke="#efefef" stroke-width="0.5" />
<line x1="370.5" y1="207.1" x2="370.5" y2="249.4" stroke="#efefef" stroke-width="0.5" />
<line x1="372.5" y1="207.1" x2="372.5" y2="249.4" stroke="#efefef" stroke-width="0.5" />
<line x1="374.5" y1="207.1" x2="374.5" y2="249.4" stroke="#efefef" stroke-width="0.5" />
<line x1="376.5" y1="207.1" x2="376.5" y2="249.4" stroke="#efefef" stroke-width="0.5" />
<line x1="378.5" y1="207.1" x2="378.5" y2="249.4" stroke="#efefef" stroke-width="0.5" />
<line x1="380.5" y1="207.1" x2="380.5" y2="249.4" stroke="#efefef" stroke-width="0.5" />
<line x1="382.5" y1="207.1" x2="382.5" y2="249.4" stroke="#efefef" stroke-width="0.5" />
<line x1="384.5" y1="207.1" x2="384.5" y2="249.4" stroke="#efefef" stroke-width="0.5" />
<line x1="386.5" y1="207.1" x2="386.5" y2="249.4" stroke="#efefef" stroke-width="0.5" />
<line x1="388.5" y1="207.1" x2="388.5" y2="249.4" stroke="#efefef" stroke-width="0.5" />
<line x1="390.5" y1="207.1" x2="390.5" y2="249.4" stroke="#efefef" stroke-width="0.5" />
<line x1="392.5" y1="207.1" x2="392.5" y2="249.4" stroke="#efefef" stroke-width="0.5" />
<line x1="394.5" y1="207.1" x2="394.5" y2="249.4" stroke="#efefef" stroke-width="0.5" />
<line x1="396.5" y1="207.1" x2="396.5" y2="249.4" stroke="#efefef" stroke-width="0.5" />
<line x1="398.5" y1="207.1" x2="398.5" y2="249.4" stroke="#efefef" stroke-width="0.5" />
<line x1="400.5" y1="207.1" x2="400.5" y2="249.4" stroke="#efefef" stroke-width="0.5" />
<line x1="402.5" y1="207.1" x2="402.5" y2="249.4" stroke="#efefef" stroke-width="0.5" />
<line x1="404.5" y1="207.1" x2="404.5" y2="249.4" stroke="#efefef" stroke-width="0.5" />
<line x1="406.5" y1="207.1" x2="406.5" y2="249.4" stroke="#efefef" stroke-width="0.5" />
<line x1="408.5" y1="207.1" x2="408.5" y2="249.4" stroke="#efefef" stroke-width="0.5" />
<line x1="410.5" y1="207.1" x2="410.5" y2="249.4" stroke="#efefef" stroke-width="0.5" />
<line x1="412.5" y1="207.1" x2="412.5" y2="249.4" stroke="#efefef" stroke-width="0.5" />
<line x1="414.5" y1="207.1" x2="414.5" y2="249.4" stroke="#efefef" stroke-width="0.5" />
<line x1="416.5" y1="207.1" x2="416.5" y2="249.4" stroke="#efefef" stroke-width="0.5" />
<line x1="418.5" y1="207.1" x2="418.5" y2="249.4" stroke="#efefef" stroke-width="0.5" />
<line x1="420.5" y1="207.1" x2="420.5" y2="249.4" stroke="#efefef" stroke-width="0.5" />
<line x1="422.5" y1="207.1" x2="422.5" y2="249.4" stroke="#efefef" stroke-width="0.5" />
<line x1="424.5" y1="207.1" x2="424.5" y2="249.4" stroke="#efefef" stroke-width="0.5" />
<line x1="426.5" y1="207.1" x2="426.5" y2="249.4" stroke="#efefef" stroke-width="0.5" />
<line x1="428.5" y1="207.1" x2="428.5" y2="249.4" stroke="#efefef" stroke-width="0.5" />
<line x1="430.5" y1="207.1" x2="430.5" y2="249.4" stroke="#efefef" stroke-width="0.5" />
<line x1="432.5" y1="207.1" x2="432.5" y2="249.4" stroke="#efefef" stroke-width="0.5" />
<line x1="434.5" y1="207.1" x2="434.5" y2="249.4" stroke="#efefef" stroke-width="0.5" />
<line x1="436.5" y1="207.1" x2="436.5" y2="249.4" stroke="#efefef" stroke-width="0.5" />
<line x1="438.5" y1="207.1" x2="438.5" y2="249.4" stroke="#efefef" stroke-width="0.5" />
<line x1="440.5" y1="207.1" x2="440.5" y2="249.4" stroke="#efefef" stroke-width="0.5" />
<line x1="442.5" y1="207.1" x2="442.5" y2="249.4" stroke="#efefef" stroke-width="0.5" />
<line x1="444.5" y1="207.1" x2="444.5" y2="249.4" stroke="#efefef" stroke-width="0.5" />
<line x1="446.5" y1="207.1" x2="446.5" y2="249.4" stroke="#efefef" stroke-width="0.5" />
<line x1="448.5" y1="207.1" x2="448.5" y2="249.4" stroke="#efefef" stroke-width="0.5" />
<line x1="450.5" y1="207.1" x2="450.5" y2="249.4" stroke="#efefef" stroke-width="0.5" />
<line x1="452.5" y1="207.1" x2="452.5" y2="249.4" stroke="#efefef" stroke-width="0.5" />
<line x1="454.5" y1="207.1" x2="454.5" y2="249.4" stroke="#efefef" stroke-width="0.5" />
<line x1="456.5" y1="207.1" x2="456.5" y2="249.4" stroke="#efefef" stroke-width="0.5" />
<line x1="458.5" y1="207.1" x2="458.5" y2="249.4" stroke="#efefef" stroke-width="0.5" />
<line x1="460.5" y1="207.1" x2="460.5" y2="249.4" stroke="#efefef" stroke-width="0.5" />
<line x1="462.5" y1="207.1" x2="462.5" y2="249.4" stroke="#efefef" stroke-width="0.5" />
<line x1="464.5" y1="207.1" x2="464.5" y2="249.4" stroke="#efefef" stroke-width="0.5" />
<line x1="466.5" y1="207.1" x2="466.5" y2="249.4" stroke="#efefef" stroke-width="0.5" />
<line x1="468.5" y1="207.1" x2="468.5" y2="249.4" stroke="#efefef" stroke-width="0.5" />
<line x1="470.5" y1="207.1" x2="470.5" y2="249.4" stroke="#efefef" stroke-width="0.5" />
<line x1="472.5" y1="207.1" x2="472.5" y2="249.4" stroke="#efefef" stroke-width="0.5" />
<line x1="474.5" y1="207.1" x2="474.5" y2="249.4" stroke="#efefef" stroke-width="0.5" />
<line x1="476.5" y1="207.1" x2="476.5" y2="249.4" stroke="#efefef" stroke-width="0.5" />
<line x1="478.5" y1="207.1" x2="478.5" y2="249.4" stroke="#efefef" stroke-width="0.5" />
<line x1="218.5" y1="207.1" x2="218.5" y2="249.4" stroke="#f6f6f6" stroke-width="0.8" />
<line x1="230.36" y1="207.1" x2="230.36" y2="249.4" stroke="#f6f6f6" stroke-width="0.8" />
<line x1="242.22" y1="207.1" x2="242.22" y2="249.4" stroke="#f6f6f6" stroke-width="0.8" />
<line x1="254.08" y1="207.1" x2="254.08" y2="249.4" stroke="#f6f6f6" stroke-width="0.8" />
<line x1="265.94" y1="207.1" x2="265.94" y2="249.4" stroke="#f6f6f6" stroke-width="0.8" />
<line x1="277.8" y1="207.1" x2="277.8" y2="249.4" stroke="#f6f6f6" stroke-width="0.8" />
<line x1="289.66" y1="207.1" x2="289.66" y2="249.4" stroke="#f6f6f6" stroke-width="0.8" />
<line x1="301.52" y1="207.1" x2="301.52" y2="249.4" stroke="#f6f6f6" stroke-width="0.8" />
<line x1="313.38" y1="207.1" x2="313.38" y2="249.4" stroke="#f6f6f6" stroke-width="0.8" />
<line x1="325.24" y1="207.1" x2="325.24" y2="249.4" stroke="#f6f6f6" stroke-width="0.8" />
<line x1="337.1" y1="207.1" x2="337.1" y2="249.4" stroke="#f6f6f6" stroke-width="0.8" />
<line x1="348.96" y1="207.1" x2="348.96" y2="249.4" stroke="#f6f6f6" stroke-width="0.8" />
<line x1="360.82" y1="207.1" x2="360.82" y2="249.4" stroke="#f6f6f6" stroke-width="0.8" />
<line x1="372.68" y1="207.1" x2="372.68" y2="249.4" stroke="#f6f6f6" stroke-width="0.8" />
<line x1="384.54" y1="207.1" x2="384.54" y2="249.4" stroke="#f6f6f6" stroke-width="0.8" />
<line x1="396.4" y1="207.1" x2="396.4" y2="249.4" stroke="#f6f6f6" stroke-width="0.8" />
<line x1="408.26" y1="207.1" x2="408.26" y2="249.4" stroke="#f6f6f6" stroke-width="0.8" />
<line x1="420.12" y1="207.1" x2="420.12" y2="249.4" stroke="#f6f6f6" stroke-width="0.8" />
<line x1="431.98" y1="207.1" x2="431.98" y2="249.4" stroke="#f6f6f6" stroke-width="0.8" />
<line x1="443.84" y1="207.1" x2="443.84" y2="249.4" stroke="#f6f6f6" stroke-width="0.8" />
<line x1="455.7" y1="207.1" x2="455.7" y2="249.4" stroke="#f6f6f6" stroke-width="0.8" />
<line x1="467.56" y1="207.1" x2="467.56" y2="249.4" stroke="#f6f6f6" stroke-width="0.8" />
<line x1="218.5" y1="228.75" x2="480" y2="228.75" stroke="#f4f4f4" stroke-width="0.8" />
<rect x="218.6" y="215.9" width="2.4" height="1.4" fill="#222" />
<rect x="228" y="215.9" width="1.5" height="1.4" fill="#222" />
<rect x="231.4" y="215.9" width="9.8" height="1.4" fill="#222" />
<rect x="243.3" y="215.9" width="10.1" height="1.4" fill="#222" />
<rect x="255.1" y="215.9" width="9.9" height="1.4" fill="#222" />
<rect x="267.2" y="215.9" width="3" height="1.4" fill="#222" />
<rect x="274.2" y="215.9" width="3.4" height="1.4" fill="#222" />
<rect x="279.3" y="215.9" width="6.7" height="1.4" fill="#222" />
<rect x="292.5" y="215.9" width="8.7" height="1.4" fill="#222" />
<rect x="303.2" y="215.9" width="9.1" height="1.4" fill="#222" />
<rect x="315.3" y="215.9" width="1.5" height="1.4" fill="#222" />
<rect x="319.4" y="215.9" width="5" height="1.4" fill="#222" />
<rect x="331.5" y="215.9" width="6.1" height="1.4" fill="#222" />
<rect x="338.6" y="215.9" width="10.1" height="1.4" fill="#222" />
<rect x="350.7" y="215.9" width="1" height="1.4" fill="#222" />
<rect x="353.7" y="215.9" width="6.7" height="1.4" fill="#222" />
<rect x="385" y="215.9" width="1" height="1.4" fill="#222" />
<rect x="389" y="215.9" width="7.2" height="1.4" fill="#222" />
<rect x="398.2" y="215.9" width="4" height="1.4" fill="#222" />
<rect x="403.8" y="215.9" width="4.5" height="1.4" fill="#222" />
<rect x="410.3" y="215.9" width="9.1" height="1.4" fill="#222" />
<rect x="422.4" y="215.9" width="9.1" height="1.4" fill="#222" />
<rect x="433.5" y="215.9" width="10.1" height="1.4" fill="#222" />
<rect x="445.6" y="215.9" width="10.1" height="1.4" fill="#222" />
<rect x="460.8" y="215.9" width="7" height="1.4" fill="#222" />
<rect x="225.5" y="211.85" width="3.5" height="1.1" fill="#e05a5a" />
<rect x="220" y="220.55" width="2.5" height="0.9" fill="#9ab0d0" />
<rect x="270.2" y="219.25" width="3.3" height="1.1" fill="#78a2d6" />
<rect x="286" y="217.25" width="3" height="1.1" fill="#78a2d6" />
<rect x="326.8" y="217.25" width="3.7" height="1.1" fill="#78a2d6" />
<rect x="364.4" y="220.4" width="8.5" height="1.2" fill="#78a2d6" />
<rect x="375.9" y="220.4" width="7.1" height="1.2" fill="#78a2d6" />
<rect x="471.9" y="220.4" width="7.1" height="1.2" fill="#78a2d6" />
<rect x="218.6" y="237.9" width="2.4" height="1.4" fill="#222" />
<rect x="228" y="237.9" width="1.5" height="1.4" fill="#222" />
<rect x="231.8" y="237.9" width="9.4" height="1.4" fill="#222" />
<rect x="248" y="237.9" width="5.4" height="1.4" fill="#222" />
<rect x="255.1" y="237.9" width="9.9" height="1.4" fill="#222" />
<rect x="267.2" y="237.9" width="3" height="1.4" fill="#222" />
<rect x="274.2" y="237.9" width="3.4" height="1.4" fill="#222" />
<rect x="279.3" y="237.9" width="2.2" height="1.4" fill="#222" />
<rect x="292.5" y="237.9" width="8.7" height="1.4" fill="#222" />
<rect x="303.2" y="237.9" width="9.1" height="1.4" fill="#222" />
<rect x="315.3" y="237.9" width="1.5" height="1.4" fill="#222" />
<rect x="319.4" y="237.9" width="5" height="1.4" fill="#222" />
<rect x="340.6" y="237.9" width="8.1" height="1.4" fill="#222" />
<rect x="350.7" y="237.9" width="1" height="1.4" fill="#222" />
<rect x="353.7" y="237.9" width="6.7" height="1.4" fill="#222" />
<rect x="388" y="237.9" width="3" height="1.4" fill="#222" />
<rect x="398.2" y="237.9" width="4" height="1.4" fill="#222" />
<rect x="403.8" y="237.9" width="4.5" height="1.4" fill="#222" />
<rect x="410.3" y="237.9" width="9.1" height="1.4" fill="#222" />
<rect x="422.4" y="237.9" width="9.1" height="1.4" fill="#222" />
<rect x="433.5" y="237.9" width="10.1" height="1.4" fill="#222" />
<rect x="445.6" y="237.9" width="10.1" height="1.4" fill="#222" />
<rect x="460.8" y="237.9" width="7" height="1.4" fill="#222" />
<rect x="225.5" y="233.65" width="3.5" height="1.1" fill="#e05a5a" />
<rect x="245.3" y="235.45" width="2.7" height="1.1" fill="#e05a5a" />
<rect x="270.2" y="242.45" width="4" height="1.1" fill="#78a2d6" />
<rect x="285" y="242.45" width="4.7" height="1.1" fill="#78a2d6" />
<rect x="326.8" y="242.4" width="9.7" height="1.2" fill="#78a2d6" />
<rect x="364.4" y="242.4" width="8.5" height="1.2" fill="#78a2d6" />
<rect x="375.9" y="242.4" width="7.1" height="1.2" fill="#78a2d6" />
<rect x="471.9" y="242.4" width="7.1" height="1.2" fill="#78a2d6" />
<rect x="391" y="233.4" width="5.2" height="1.6" fill="#f08a8a" />
<line x1="484.6" y1="206" x2="484.6" y2="249" stroke="#555" stroke-width="0.5" />
<text transform="translate(483.2,207) rotate(90)" font-size="4.3" fill="#444" text-anchor="middle" style="font-family:"Liberation Sans", sans-serif">4</text>
<text transform="translate(483.2,211.9) rotate(90)" font-size="4.3" fill="#444" text-anchor="middle" style="font-family:"Liberation Sans", sans-serif">3</text>
<text transform="translate(483.2,217) rotate(90)" font-size="4.3" fill="#444" text-anchor="middle" style="font-family:"Liberation Sans", sans-serif">2</text>
<text transform="translate(483.2,221.3) rotate(90)" font-size="4.3" fill="#444" text-anchor="middle" style="font-family:"Liberation Sans", sans-serif">1</text>
<text transform="translate(483.2,226.2) rotate(90)" font-size="4.3" fill="#444" text-anchor="middle" style="font-family:"Liberation Sans", sans-serif">0</text>
<text transform="translate(483.2,229.4) rotate(90)" font-size="4.3" fill="#444" text-anchor="middle" style="font-family:"Liberation Sans", sans-serif">4</text>
<text transform="translate(483.2,233.2) rotate(90)" font-size="4.3" fill="#444" text-anchor="middle" style="font-family:"Liberation Sans", sans-serif">3</text>
<text transform="translate(483.2,238.3) rotate(90)" font-size="4.3" fill="#444" text-anchor="middle" style="font-family:"Liberation Sans", sans-serif">2</text>
<text transform="translate(483.2,243.3) rotate(90)" font-size="4.3" fill="#444" text-anchor="middle" style="font-family:"Liberation Sans", sans-serif">1</text>
<text transform="translate(483.2,248.3) rotate(90)" font-size="4.3" fill="#444" text-anchor="middle" style="font-family:"Liberation Sans", sans-serif">0</text>
<rect x="195.3" y="252.4" width="11.5" height="5.7" fill="#ea7a2c" />
<rect x="195.3" y="258.1" width="11.5" height="13.6" fill="#3b3f8e" />
<rect x="195.3" y="271.7" width="11.5" height="24.3" fill="#9c4ca6" />
<rect x="195.3" y="296" width="11.5" height="2.3" fill="#8fb0e0" />
<rect x="195.3" y="298.3" width="11.5" height="10.7" fill="#d48ac8" />
<rect x="195.3" y="309" width="11.5" height="11.5" fill="#f2a772" />
<rect x="195.3" y="320.5" width="11.5" height="3" fill="#eeea3a" />
<rect x="195.3" y="323.5" width="11.5" height="18.3" fill="#7ccadc" />
<rect x="195.3" y="341.8" width="11.5" height="13.5" fill="#6cbb6a" />
<rect x="195.3" y="355.3" width="11.5" height="22.4" fill="#f28484" />
<rect x="190.9" y="248.6" width="4.4" height="3.8" fill="#c8302a" />
<rect x="190.9" y="252.4" width="4.4" height="6.2" fill="#e0702a" />
<rect x="190.9" y="294.6" width="4.4" height="5" fill="#3f7f9a" />
<rect x="190.9" y="319.6" width="4.4" height="5" fill="#d0b424" />
<text x="201.05" y="267.8" font-size="6.4" text-anchor="middle" fill="#1a1c4a" font-weight="normal"  style="">3</text>
<text x="201.05" y="286.3" font-size="6.4" text-anchor="middle" fill="#3e0e4a" font-weight="normal"  style="">4</text>
<text x="201.05" y="306.3" font-size="6.4" text-anchor="middle" fill="#6a2060" font-weight="normal"  style="">6</text>
<text x="201.05" y="316.8" font-size="6.4" text-anchor="middle" fill="#6a3410" font-weight="normal"  style="">7</text>
<text x="201.05" y="334.3" font-size="6.4" text-anchor="middle" fill="#103a66" font-weight="normal"  style="">9</text>
<text x="201.05" y="351.3" font-size="6.4" text-anchor="middle" fill="#104a10" font-weight="normal"  style="">10</text>
<text x="201.05" y="368.8" font-size="6.4" text-anchor="middle" fill="#701010" font-weight="normal"  style="">11</text>
<rect x="206.8" y="252.1" width="11.7" height="70.6" fill="#c9c9c9" />
<rect x="206.8" y="322.7" width="11.7" height="55" fill="#999999" />
<text x="212.6" y="294.3" font-size="6.6" text-anchor="middle" fill="#333" font-weight="normal"  style="">T1</text>
<text x="212.6" y="351.8" font-size="6.6" text-anchor="middle" fill="#333" font-weight="normal"  style="">T2</text>
<rect x="195.3" y="382.4" width="11.5" height="3.4" fill="#ea7a2c" />
<rect x="195.3" y="385.8" width="11.5" height="6" fill="#3b3f8e" />
<rect x="195.3" y="391.8" width="11.5" height="18.2" fill="#9c4ca6" />
<rect x="195.3" y="410" width="11.5" height="2.5" fill="#8fb0e0" />
<rect x="195.3" y="412.5" width="11.5" height="5.5" fill="#d48ac8" />
<rect x="195.3" y="418" width="11.5" height="14" fill="#f2a772" />
<rect x="195.3" y="432" width="11.5" height="5.3" fill="#eeea3a" />
<rect x="195.3" y="437.3" width="11.5" height="18.3" fill="#7ccadc" />
<rect x="195.3" y="455.6" width="11.5" height="27" fill="#6cbb6a" />
<rect x="195.3" y="482.6" width="11.5" height="25.7" fill="#f28484" />
<rect x="190.9" y="378.8" width="4.4" height="3.8" fill="#c8302a" />
<rect x="190.9" y="382.6" width="4.4" height="6" fill="#e0702a" />
<rect x="190.9" y="408.8" width="4.4" height="5" fill="#3f7f9a" />
<text x="201.05" y="403.3" font-size="6.4" text-anchor="middle" fill="#3e0e4a" font-weight="normal"  style="">4</text>
<text x="201.05" y="417.6" font-size="6.4" text-anchor="middle" fill="#6a2060" font-weight="normal"  style="">6</text>
<text x="201.05" y="427.3" font-size="6.4" text-anchor="middle" fill="#6a3410" font-weight="normal"  style="">7</text>
<text x="201.05" y="437.3" font-size="6.4" text-anchor="middle" fill="#5a5a00" font-weight="normal"  style="">8</text>
<text x="201.05" y="448.8" font-size="6.4" text-anchor="middle" fill="#103a66" font-weight="normal"  style="">9</text>
<text x="201.05" y="471.3" font-size="6.4" text-anchor="middle" fill="#104a10" font-weight="normal"  style="">10</text>
<text x="201.05" y="497.3" font-size="6.4" text-anchor="middle" fill="#701010" font-weight="normal"  style="">11</text>
<rect x="206.8" y="382.3" width="11.7" height="54.2" fill="#c9c9c9" />
<rect x="206.8" y="436.5" width="11.7" height="71.8" fill="#999999" />
<text x="212.6" y="410.8" font-size="6.6" text-anchor="middle" fill="#333" font-weight="normal"  style="">T1</text>
<text x="212.6" y="474.3" font-size="6.6" text-anchor="middle" fill="#333" font-weight="normal"  style="">T2</text>
<path fill="#d8dce6"  d="M218.5 252.1h1.52v125.6h-1.52zM220 252.1h2.02v125.6h-2.02zM255 252.1h2.02v125.6h-2.02zM282.5 252.1h1.02v125.6h-1.02zM343 252.1h1.52v125.6h-1.52zM385.5 252.1h1.02v125.6h-1.02z"/>
<path fill="#f2e6ea"  d="M222 252.1h3.02v125.6h-3.02zM259 252.1h1.02v125.6h-1.02zM261 252.1h1.02v125.6h-1.02zM262 252.1h2.02v125.6h-2.02zM278 252.1h3.02v125.6h-3.02zM286.5 252.1h1.02v125.6h-1.02zM289 252.1h1.52v125.6h-1.52zM296.5 252.1h1.02v125.6h-1.02zM297.5 252.1h1.02v125.6h-1.02zM314 252.1h1.02v125.6h-1.02zM318 252.1h2.02v125.6h-2.02zM321 252.1h1.02v125.6h-1.02zM339 252.1h1.02v125.6h-1.02zM340 252.1h2.02v125.6h-2.02zM346.5 252.1h3.02v125.6h-3.02zM386.5 252.1h1.52v125.6h-1.52zM396 252.1h1.02v125.6h-1.02zM422 252.1h3.02v125.6h-3.02zM429 252.1h1.52v125.6h-1.52zM451.5 252.1h1.02v125.6h-1.02zM459 252.1h1.52v125.6h-1.52zM460.5 252.1h1.02v125.6h-1.02zM467.5 252.1h1.52v125.6h-1.52z"/>
<path fill="#e6c8d0"  d="M225 252.1h1.52v125.6h-1.52zM226.5 252.1h3.02v125.6h-3.02zM257 252.1h1.02v125.6h-1.02zM264 252.1h1.52v125.6h-1.52zM290.5 252.1h1.02v125.6h-1.02zM322 252.1h3.02v125.6h-3.02zM325 252.1h2.02v125.6h-2.02zM338 252.1h1.02v125.6h-1.02zM342 252.1h1.02v125.6h-1.02zM390 252.1h2.02v125.6h-2.02zM450.5 252.1h1.02v125.6h-1.02zM462.5 252.1h2.02v125.6h-2.02zM464.5 252.1h1.02v125.6h-1.02z"/>
<path fill="#eed6dc"  d="M229.5 252.1h1.02v125.6h-1.02zM265.5 252.1h3.02v125.6h-3.02zM281 252.1h1.52v125.6h-1.52zM283.5 252.1h2.02v125.6h-2.02zM285.5 252.1h1.02v125.6h-1.02zM291.5 252.1h2.02v125.6h-2.02zM298.5 252.1h1.02v125.6h-1.02zM301 252.1h1.02v125.6h-1.02zM320 252.1h1.02v125.6h-1.02zM344.5 252.1h2.02v125.6h-2.02zM392 252.1h2.02v125.6h-2.02zM394 252.1h2.02v125.6h-2.02zM425 252.1h2.02v125.6h-2.02zM430.5 252.1h2.02v125.6h-2.02zM448.5 252.1h2.02v125.6h-2.02zM452.5 252.1h1.02v125.6h-1.02zM453.5 252.1h2.02v125.6h-2.02zM461.5 252.1h1.02v125.6h-1.02z"/>
<path fill="#cdd3e0"  d="M230.5 252.1h3.02v125.6h-3.02zM235.5 252.1h1.02v125.6h-1.02zM251 252.1h3.02v125.6h-3.02zM254 252.1h1.02v125.6h-1.02zM304 252.1h1.52v125.6h-1.52zM366.5 252.1h3.02v125.6h-3.02zM378 252.1h1.52v125.6h-1.52zM416 252.1h2.02v125.6h-2.02zM440.5 252.1h1.52v125.6h-1.52zM442 252.1h1.52v125.6h-1.52zM478.5 252.1h1.02v125.6h-1.02z"/>
<path fill="#e0e4e4"  d="M233.5 252.1h2.02v125.6h-2.02zM240.5 252.1h1.52v125.6h-1.52zM248 252.1h1.02v125.6h-1.02zM270.5 252.1h1.02v125.6h-1.02zM305.5 252.1h1.02v125.6h-1.02zM306.5 252.1h1.52v125.6h-1.52zM312.5 252.1h1.52v125.6h-1.52zM328 252.1h1.02v125.6h-1.02zM337 252.1h1.02v125.6h-1.02zM350.5 252.1h1.02v125.6h-1.02zM351.5 252.1h3.02v125.6h-3.02zM354.5 252.1h2.02v125.6h-2.02zM356.5 252.1h1.02v125.6h-1.02zM369.5 252.1h1.02v125.6h-1.02zM372.5 252.1h1.02v125.6h-1.02zM375 252.1h1.02v125.6h-1.02zM380.5 252.1h1.02v125.6h-1.02zM472.5 252.1h3.02v125.6h-3.02z"/>
<path fill="#ebe9ed"  d="M236.5 252.1h1.02v125.6h-1.02zM237.5 252.1h1.02v125.6h-1.02zM242 252.1h2.02v125.6h-2.02zM244 252.1h3.02v125.6h-3.02zM247 252.1h1.02v125.6h-1.02zM249 252.1h2.02v125.6h-2.02zM273.5 252.1h1.02v125.6h-1.02zM274.5 252.1h2.02v125.6h-2.02zM276.5 252.1h1.52v125.6h-1.52zM302 252.1h1.02v125.6h-1.02zM303 252.1h1.02v125.6h-1.02zM308 252.1h2.02v125.6h-2.02zM327 252.1h1.02v125.6h-1.02zM334.5 252.1h1.52v125.6h-1.52zM336 252.1h1.02v125.6h-1.02zM349.5 252.1h1.02v125.6h-1.02zM359.5 252.1h1.52v125.6h-1.52zM361 252.1h1.52v125.6h-1.52zM362.5 252.1h1.02v125.6h-1.02zM370.5 252.1h2.02v125.6h-2.02zM373.5 252.1h1.52v125.6h-1.52zM376 252.1h1.02v125.6h-1.02zM379.5 252.1h1.02v125.6h-1.02zM382.5 252.1h2.02v125.6h-2.02zM398 252.1h1.02v125.6h-1.02zM399 252.1h2.02v125.6h-2.02zM401 252.1h1.52v125.6h-1.52zM404.5 252.1h1.02v125.6h-1.02zM405.5 252.1h1.02v125.6h-1.02zM408 252.1h2.02v125.6h-2.02zM410 252.1h2.02v125.6h-2.02zM415 252.1h1.02v125.6h-1.02zM419 252.1h3.02v125.6h-3.02zM432.5 252.1h2.02v125.6h-2.02zM434.5 252.1h1.02v125.6h-1.02zM435.5 252.1h2.02v125.6h-2.02zM443.5 252.1h3.02v125.6h-3.02zM477.5 252.1h1.02v125.6h-1.02zM479.5 252.1h0.12v125.6h-0.12z"/>
<path fill="#ecdce0"  d="M238.5 252.1h2.02v125.6h-2.02zM310 252.1h1.52v125.6h-1.52zM311.5 252.1h1.02v125.6h-1.02zM357.5 252.1h2.02v125.6h-2.02zM364.5 252.1h1.02v125.6h-1.02zM365.5 252.1h1.02v125.6h-1.02zM418 252.1h1.02v125.6h-1.02zM437.5 252.1h1.02v125.6h-1.02zM471.5 252.1h1.02v125.6h-1.02zM475.5 252.1h1.02v125.6h-1.02z"/>
<path fill="#f6f0f2"  d="M258 252.1h1.02v125.6h-1.02zM260 252.1h1.02v125.6h-1.02zM287.5 252.1h1.52v125.6h-1.52zM293.5 252.1h3.02v125.6h-3.02zM388 252.1h2.02v125.6h-2.02zM427 252.1h2.02v125.6h-2.02zM457 252.1h2.02v125.6h-2.02zM466.5 252.1h1.02v125.6h-1.02z"/>
<path fill="#f4f2f4"  d="M268.5 252.1h2.02v125.6h-2.02zM271.5 252.1h2.02v125.6h-2.02zM329 252.1h1.52v125.6h-1.52zM330.5 252.1h1.02v125.6h-1.02zM331.5 252.1h3.02v125.6h-3.02zM363.5 252.1h1.02v125.6h-1.02zM377 252.1h1.02v125.6h-1.02zM381.5 252.1h1.02v125.6h-1.02zM384.5 252.1h1.02v125.6h-1.02zM397 252.1h1.02v125.6h-1.02zM402.5 252.1h2.02v125.6h-2.02zM406.5 252.1h1.52v125.6h-1.52zM412 252.1h3.02v125.6h-3.02zM438.5 252.1h2.02v125.6h-2.02zM469 252.1h1.02v125.6h-1.02zM470 252.1h1.52v125.6h-1.52zM476.5 252.1h1.02v125.6h-1.02z"/>
<path fill="#d8b0bc"  d="M299.5 252.1h1.52v125.6h-1.52zM315 252.1h3.02v125.6h-3.02zM446.5 252.1h2.02v125.6h-2.02zM455.5 252.1h1.52v125.6h-1.52zM465.5 252.1h1.02v125.6h-1.02z"/>
<line x1="230.36" y1="252.1" x2="230.36" y2="377.7" stroke="#b8a4b4" stroke-width="1.3" opacity="0.75"/>
<line x1="242.22" y1="252.1" x2="242.22" y2="377.7" stroke="#b8a4b4" stroke-width="1.3" opacity="0.75"/>
<line x1="254.08" y1="252.1" x2="254.08" y2="377.7" stroke="#b8a4b4" stroke-width="1.3" opacity="0.75"/>
<line x1="265.94" y1="252.1" x2="265.94" y2="377.7" stroke="#b8a4b4" stroke-width="1.3" opacity="0.75"/>
<line x1="277.8" y1="252.1" x2="277.8" y2="377.7" stroke="#b8a4b4" stroke-width="1.3" opacity="0.75"/>
<line x1="289.66" y1="252.1" x2="289.66" y2="377.7" stroke="#b8a4b4" stroke-width="1.3" opacity="0.75"/>
<line x1="301.52" y1="252.1" x2="301.52" y2="377.7" stroke="#b8a4b4" stroke-width="1.3" opacity="0.75"/>
<line x1="313.38" y1="252.1" x2="313.38" y2="377.7" stroke="#b8a4b4" stroke-width="1.3" opacity="0.75"/>
<line x1="325.24" y1="252.1" x2="325.24" y2="377.7" stroke="#b8a4b4" stroke-width="1.3" opacity="0.75"/>
<line x1="337.1" y1="252.1" x2="337.1" y2="377.7" stroke="#b8a4b4" stroke-width="1.3" opacity="0.75"/>
<line x1="348.96" y1="252.1" x2="348.96" y2="377.7" stroke="#b8a4b4" stroke-width="1.3" opacity="0.75"/>
<line x1="360.82" y1="252.1" x2="360.82" y2="377.7" stroke="#b8a4b4" stroke-width="1.3" opacity="0.75"/>
<line x1="372.68" y1="252.1" x2="372.68" y2="377.7" stroke="#b8a4b4" stroke-width="1.3" opacity="0.75"/>
<line x1="384.54" y1="252.1" x2="384.54" y2="377.7" stroke="#b8a4b4" stroke-width="1.3" opacity="0.75"/>
<line x1="396.4" y1="252.1" x2="396.4" y2="377.7" stroke="#b8a4b4" stroke-width="1.3" opacity="0.75"/>
<line x1="408.26" y1="252.1" x2="408.26" y2="377.7" stroke="#b8a4b4" stroke-width="1.3" opacity="0.75"/>
<line x1="420.12" y1="252.1" x2="420.12" y2="377.7" stroke="#b8a4b4" stroke-width="1.3" opacity="0.75"/>
<line x1="431.98" y1="252.1" x2="431.98" y2="377.7" stroke="#b8a4b4" stroke-width="1.3" opacity="0.75"/>
<line x1="443.84" y1="252.1" x2="443.84" y2="377.7" stroke="#b8a4b4" stroke-width="1.3" opacity="0.75"/>
<line x1="455.7" y1="252.1" x2="455.7" y2="377.7" stroke="#b8a4b4" stroke-width="1.3" opacity="0.75"/>
<line x1="467.56" y1="252.1" x2="467.56" y2="377.7" stroke="#b8a4b4" stroke-width="1.3" opacity="0.75"/>
<path fill="#c8768c" opacity="0.75" d="M427.49 370.85h3v0.5h-3zM422.09 348.25h3v0.5h-3zM428.38 375.1h1.5v0.6h-1.5zM420.23 311.12h1.5v0.5h-1.5zM426.87 277.71h1.5v0.5h-1.5zM425.17 255.65h1.5v0.6h-1.5zM421.91 293.98h2v0.6h-2zM424.68 362.09h5v0.8h-5zM425.28 303.49h1.5v0.8h-1.5zM425.76 375.78h1.5v0.6h-1.5zM429.66 352.15h2.32v0.6h-2.32zM421.46 349.51h1.5v0.5h-1.5zM422.24 331.01h2v0.8h-2zM423.38 367.45h2v0.5h-2zM421.43 302.45h1.5v0.5h-1.5zM425.36 346.87h5v0.8h-5zM426.47 365.24h4v0.5h-4zM421.11 259.84h4v0.5h-4zM422.3 298.74h1.5v0.5h-1.5zM424.35 297.05h3v0.6h-3zM426.39 263.95h1.5v0.6h-1.5zM429.56 345.15h2v0.6h-2zM429.41 362.08h2.57v0.6h-2.57zM420.63 286.22h3v0.6h-3zM425.45 314.3h2v0.8h-2zM420.64 276.53h4v0.5h-4zM427.87 255.46h2v0.8h-2zM427.87 258.37h3v0.5h-3zM421.14 353.37h4v0.5h-4zM421.34 359.74h3v0.8h-3zM425.62 376.8h3v0.8h-3zM461.55 326.06h3v0.5h-3zM465.56 314.87h2v0.8h-2zM462.21 253.28h3v0.6h-3zM462.16 264.91h5v0.6h-5zM463.53 366.21h2v0.8h-2zM462.24 298.75h4v0.6h-4zM459.2 313.9h2v0.5h-2zM463.44 300.87h2v0.6h-2zM458.8 349.04h1.5v0.6h-1.5zM465.73 343.32h1.83v0.5h-1.83zM461.3 356.65h5v0.5h-5zM456.63 308.9h3v0.5h-3zM461.04 320.12h5v0.6h-5zM459.79 294.33h3v0.8h-3zM464.34 363.18h3.22v0.8h-3.22zM463.27 290.04h2v0.5h-2zM456.83 275.17h2v0.8h-2zM463.69 263.65h2v0.6h-2zM463.72 350.56h1.5v0.8h-1.5zM464.94 361.36h2.62v0.6h-2.62zM463.09 327.86h2v0.6h-2zM463.38 329.54h4.18v0.8h-4.18zM457.26 348.4h1.5v0.5h-1.5zM461.78 359.27h3v0.5h-3zM460.02 366.69h1.5v0.6h-1.5zM462.61 260.48h1.5v0.8h-1.5zM456.8 301.38h4v0.8h-4zM460.62 288.78h1.5v0.6h-1.5zM464.57 357.66h2v0.8h-2zM465.58 346.47h1.98v0.8h-1.98zM462.23 274.51h2v0.6h-2zM464.37 326.19h1.5v0.5h-1.5zM456.04 375.53h4v0.6h-4zM457.34 347.91h3v0.8h-3zM457.75 368.79h2v0.8h-2zM462.2 276.84h1.5v0.5h-1.5zM460.65 304.29h3v0.6h-3zM465.98 354.29h1.58v0.5h-1.58zM459.46 272.83h5v0.8h-5zM463.86 302.5h3.7v0.8h-3.7zM459.6 292.34h3v0.8h-3zM465.78 311.56h1.5v0.8h-1.5zM464.04 279.82h3.52v0.8h-3.52zM447.2 270h4v0.5h-4zM452.52 296.37h3.18v0.5h-3.18zM450.39 276.04h1.5v0.8h-1.5zM452.95 293.97h2.75v0.6h-2.75zM449.18 374.24h2v0.8h-2zM446.71 332.09h1.5v0.6h-1.5zM448.4 318.14h5v0.5h-5zM444.74 287.74h2v0.5h-2zM446.73 320.61h2v0.5h-2zM450.28 366.65h5v0.6h-5zM451.92 272.75h3.78v0.6h-3.78zM449.01 256.52h5v0.8h-5zM449.77 361.21h2v0.6h-2zM451.33 359.18h1.5v0.5h-1.5zM446.31 270.38h3v0.6h-3zM446.48 272.08h5v0.6h-5zM447.11 310.46h2v0.8h-2zM445.17 346.53h5v0.5h-5zM451.55 317.31h1.5v0.5h-1.5zM315.64 272.15h5v0.8h-5zM321.47 279.02h3v0.5h-3zM318.46 330.43h2v0.6h-2zM317.14 286.41h1.5v0.8h-1.5zM323.08 297.07h2v0.8h-2zM313.59 292.36h4v0.6h-4zM313.95 301.35h2v0.6h-2zM315.32 316.34h2v0.5h-2zM316.62 305.11h5v0.8h-5zM315.72 288.61h3v0.8h-3zM314.83 358.13h4v0.8h-4zM321.34 295.94h2v0.8h-2zM316.04 358.72h3v0.8h-3zM320.83 362.86h1.5v0.5h-1.5zM263.19 299.83h2.75v0.5h-2.75zM264.2 270.83h1.74v0.6h-1.74zM256.23 301.63h2v0.5h-2zM257.91 287.81h5v0.6h-5zM254.5 329.8h4v0.6h-4zM264.32 258.19h1.5v0.5h-1.5zM219.31 274.91h4v0.5h-4zM224.89 355.49h3v0.6h-3zM218.99 359.26h2v0.8h-2zM227.2 303.17h3.16v0.5h-3.16zM224.66 285.18h2v0.8h-2zM219.04 263.94h5v0.5h-5zM228.75 270.62h1.61v0.8h-1.61zM223.7 299.03h5v0.8h-5zM223.36 376.21h5v0.6h-5zM226.13 375.78h4v0.5h-4zM226.3 364.27h1.5v0.5h-1.5zM227.2 333.25h2v0.5h-2zM223.8 376.31h1.5v0.5h-1.5zM225.87 283.44h3v0.6h-3zM286.66 348.45h3v0.5h-3zM284.12 296.79h2v0.5h-2zM281.07 335.96h5v0.5h-5zM287.92 376.18h1.74v0.6h-1.74zM342.01 362.6h4v0.6h-4zM347.45 322.6h1.5v0.8h-1.5zM338.18 269.31h1.5v0.8h-1.5zM343.44 360.08h1.5v0.6h-1.5zM344.48 271.67h4.48v0.8h-4.48zM341.3 313.78h5v0.8h-5zM338.26 366.95h3v0.6h-3zM341.09 333.19h3v0.6h-3zM341.06 292.44h2v0.8h-2zM344.49 256.15h3v0.6h-3zM343.25 265.22h5v0.6h-5zM340.89 326.86h3v0.6h-3zM385.76 346.91h3v0.5h-3zM391.02 366.29h1.5v0.5h-1.5zM389.43 256.02h4v0.6h-4zM392.23 272.91h4.17v0.6h-4.17zM386.96 284.76h4v0.8h-4zM292.32 260.12h3v0.6h-3zM295.55 321.04h3v0.6h-3zM294.29 373.45h3v0.6h-3zM295.98 267.2h2v0.8h-2zM298.98 367.59h2.54v0.6h-2.54zM299.83 265.9h1.69v0.5h-1.69zM295.47 284.93h1.5v0.6h-1.5zM291.32 359.55h2v0.8h-2zM299.18 349h2.34v0.6h-2.34zM290.8 369.66h1.5v0.6h-1.5z"/>
<path fill="#d890a2" opacity="0.75" d="M424.79 286.5h2v0.6h-2zM420.55 340.68h5v0.6h-5zM426.85 322.6h2v0.6h-2zM430.45 272h1.53v0.5h-1.53zM429.78 342.4h2v0.6h-2zM426.01 362.02h3v0.6h-3zM429.44 374.66h2.54v0.8h-2.54zM420.98 307.21h5v0.6h-5zM425.94 272.64h5v0.8h-5zM423.35 299.75h5v0.5h-5zM426.39 255.57h1.5v0.8h-1.5zM427.28 260.34h4.7v0.6h-4.7zM423.41 276.03h5v0.5h-5zM422.17 318.39h4v0.5h-4zM421.51 282.02h1.5v0.6h-1.5zM423.51 310.47h5v0.6h-5zM422.1 325.18h3v0.6h-3zM424.32 342.43h1.5v0.6h-1.5zM426.96 323.3h5v0.5h-5zM427.99 257.74h2v0.6h-2zM424.25 291.15h5v0.6h-5zM426.68 303.2h4v0.5h-4zM426.37 266.49h5v0.6h-5zM460.33 354.86h2v0.6h-2zM456.56 322.63h4v0.8h-4zM463.62 293.09h2v0.5h-2zM464.02 290.2h3v0.5h-3zM459.45 297.8h3v0.8h-3zM461.76 351.62h5v0.6h-5zM458.86 320.28h3v0.5h-3zM457.98 347.77h5v0.6h-5zM465.18 303.43h2.38v0.5h-2.38zM461.13 340.86h1.5v0.6h-1.5zM465.19 282.82h2v0.8h-2zM458.73 373.32h1.5v0.6h-1.5zM463.5 254.25h4v0.5h-4zM461.92 311.09h5v0.5h-5zM461.38 354.24h4v0.6h-4zM456.09 303.74h4v0.5h-4zM458.97 302.78h5v0.6h-5zM458.71 299.1h5v0.8h-5zM458.36 277.09h1.5v0.6h-1.5zM465.49 322.45h2.07v0.6h-2.07zM457.83 270.6h4v0.6h-4zM461.19 284.69h2v0.6h-2zM465.33 297.25h2.23v0.5h-2.23zM464.03 254.14h2v0.6h-2zM456.04 318.08h1.5v0.8h-1.5zM459.12 317.18h4v0.5h-4zM458.23 357.65h2v0.8h-2zM446.94 292.7h1.5v0.6h-1.5zM446.23 290.38h4v0.6h-4zM446.9 367.43h1.5v0.5h-1.5zM451.89 365.81h3v0.8h-3zM450.14 328.17h4v0.8h-4zM449 333.36h5v0.5h-5zM323.7 347.51h1.54v0.5h-1.54zM316 321.09h2v0.6h-2zM321.02 323.03h4.22v0.5h-4.22zM322.29 369.03h2v0.6h-2zM321.6 352.62h3.64v0.5h-3.64zM315.6 310.56h3v0.6h-3zM318.98 304.5h1.5v0.8h-1.5zM318.74 320.62h3v0.8h-3zM320.76 302.76h4v0.8h-4zM314.07 358.72h5v0.8h-5zM316.07 352.04h1.5v0.6h-1.5zM314 300.02h3v0.6h-3zM320.67 279.8h4v0.5h-4zM322.73 267.14h1.5v0.6h-1.5zM313.95 314.04h5v0.6h-5zM316.98 363.57h5v0.6h-5zM258.34 304.05h3v0.5h-3zM261.16 286.21h4v0.6h-4zM262.01 261.98h3.93v0.8h-3.93zM255.73 329.8h4v0.8h-4zM257.29 358.22h5v0.8h-5zM260.66 298.06h3v0.5h-3zM262.69 352.25h2v0.5h-2zM260.52 288.59h2v0.5h-2zM257.04 343.5h1.5v0.6h-1.5zM263.45 356.2h2.49v0.5h-2.49zM254.78 306.95h3v0.5h-3zM261.56 303.12h2v0.8h-2zM261.07 279.17h3v0.5h-3zM255.89 265.49h3v0.6h-3zM259.97 286.32h4v0.6h-4zM256.44 312.37h3v0.8h-3zM228.77 303.17h1.5v0.6h-1.5zM225.49 285.98h1.5v0.8h-1.5zM219.15 310.33h2v0.5h-2zM218.61 318.01h2v0.8h-2zM222.64 352.48h1.5v0.6h-1.5zM224.48 280.5h4v0.8h-4zM223.16 291.12h1.5v0.8h-1.5zM220.63 295.53h2v0.5h-2zM228.73 305.86h1.63v0.6h-1.63zM225.65 308.75h4v0.6h-4zM223.84 256.13h4v0.6h-4zM224.06 360.29h2v0.6h-2zM228.46 281.92h1.5v0.8h-1.5zM226.65 313.44h2v0.5h-2zM286.21 274.42h3v0.5h-3zM287.7 279.55h1.96v0.5h-1.96zM279.68 300.68h5v0.6h-5zM288.1 299.38h1.56v0.8h-1.56zM282.63 268.24h1.5v0.6h-1.5zM284.97 344.13h3v0.6h-3zM279.87 261.03h3v0.6h-3zM279.08 263.98h5v0.8h-5zM280.24 324.51h3v0.5h-3zM287.66 261.87h2v0.5h-2zM281.82 345.01h5v0.5h-5zM277.93 328.43h1.5v0.6h-1.5zM279.17 364.02h3v0.6h-3zM284.61 308.74h2v0.5h-2zM284.53 339.73h1.5v0.5h-1.5zM339.27 298.34h2v0.8h-2zM337.26 359.56h1.5v0.5h-1.5zM341.38 322.24h1.5v0.5h-1.5zM338.44 263.15h5v0.6h-5zM340.75 282.84h5v0.6h-5zM343.31 279.61h1.5v0.6h-1.5zM342.49 317.96h1.5v0.6h-1.5zM343.41 325.78h3v0.5h-3zM386.75 325.78h4v0.8h-4zM388.71 287.82h1.5v0.5h-1.5zM394.74 356.04h1.66v0.5h-1.66zM386.09 271.59h3v0.8h-3zM394.42 322.13h1.98v0.5h-1.98zM387.9 269.6h1.5v0.5h-1.5zM393.27 296.88h3.13v0.5h-3.13zM391.83 301.64h1.5v0.8h-1.5zM291.52 303.82h5v0.6h-5zM292.84 358.03h1.5v0.8h-1.5zM295.23 283.8h3v0.6h-3zM292.61 286.8h5v0.5h-5zM294.08 349.59h5v0.5h-5zM290.72 322.78h1.5v0.5h-1.5z"/>
<path fill="#b85a74" opacity="0.75" d="M426.6 313.83h3v0.8h-3zM424.81 261.43h1.5v0.6h-1.5zM426.65 333.98h3v0.5h-3zM422.17 355.08h3v0.5h-3zM422.94 295.32h5v0.8h-5zM422.16 363.02h1.5v0.6h-1.5zM422.83 341.88h1.5v0.6h-1.5zM430.48 364.67h1.5v0.8h-1.5zM427.97 307.03h4.01v0.6h-4.01zM428.93 373.16h3.05v0.6h-3.05zM425.02 267.97h4v0.6h-4zM421.73 253.58h3v0.6h-3zM423.8 329.57h1.5v0.6h-1.5zM426.15 358.59h5v0.6h-5zM426.68 355.25h5v0.5h-5zM428.94 328.56h2v0.5h-2zM426.62 295.55h2v0.6h-2zM421.13 356.12h4v0.8h-4zM426.02 296.8h3v0.5h-3zM428.44 312.36h1.5v0.5h-1.5zM422.03 277.59h2v0.6h-2zM428.43 340.18h3.55v0.8h-3.55zM424.98 253.42h3v0.8h-3zM428.01 374.61h1.5v0.5h-1.5zM421.24 281.73h4v0.6h-4zM422.8 286.56h3v0.8h-3zM425.38 372.99h5v0.5h-5zM424.72 332.68h5v0.8h-5zM430.17 359.06h1.81v0.8h-1.81zM420.73 370.26h4v0.6h-4zM426.91 322.18h3v0.8h-3zM424.57 311.8h2v0.5h-2zM421.41 307.46h4v0.6h-4zM422.84 324.88h4v0.6h-4zM422.59 266.33h3v0.8h-3zM428.89 286.44h3.09v0.8h-3.09zM462.47 375.75h3v0.6h-3zM463.56 355.37h2v0.6h-2zM459.53 264.23h3v0.5h-3zM465.13 327.56h2.43v0.6h-2.43zM462.51 292.98h1.5v0.6h-1.5zM460.27 326.45h3v0.6h-3zM462.45 352.64h1.5v0.8h-1.5zM463.34 364.48h1.5v0.5h-1.5zM462.47 264.28h4v0.5h-4zM460.81 319.27h1.5v0.8h-1.5zM462.79 292.21h4v0.6h-4zM457.62 287.23h2v0.6h-2zM464.89 366.38h2.67v0.8h-2.67zM457.95 268.89h4v0.8h-4zM463.7 270.19h3.86v0.5h-3.86zM464.22 262.4h3v0.8h-3zM461.17 363.31h4v0.5h-4zM462.47 253.64h4v0.8h-4zM456.66 269.7h1.5v0.5h-1.5zM459.24 355.01h5v0.5h-5zM465.24 329.98h2.32v0.8h-2.32zM458.99 350.69h2v0.8h-2zM462.44 265.38h4v0.5h-4zM459.15 288.78h1.5v0.8h-1.5zM459.35 314.65h2v0.8h-2zM465.79 269.05h1.77v0.8h-1.77zM461.51 322.14h3v0.5h-3zM465.38 252.57h2.18v0.5h-2.18zM460.41 302.52h2v0.6h-2zM464.48 365.41h3.08v0.8h-3.08zM457.5 317.07h3v0.5h-3zM465.35 258.78h1.5v0.8h-1.5zM460.57 303.53h5v0.8h-5zM463.55 346.06h4v0.6h-4zM459.94 306.34h5v0.5h-5zM465.1 289.11h2.46v0.6h-2.46zM461.35 334.21h2v0.5h-2zM465.71 335.31h1.85v0.6h-1.85zM465.06 264.42h2v0.5h-2zM461.67 308.75h3v0.5h-3zM452.29 301.76h3v0.8h-3zM450.42 339.34h5v0.5h-5zM447.01 354.31h3v0.6h-3zM445.59 359.79h1.5v0.8h-1.5zM445.88 274.73h2v0.8h-2zM446.9 286.26h5v0.5h-5zM450.05 287.67h3v0.6h-3zM453.47 314.59h2v0.5h-2zM451.95 316.69h3.75v0.8h-3.75zM454.03 345.15h1.67v0.5h-1.67zM450.77 320.58h3v0.8h-3zM446.28 313.24h2v0.8h-2zM453.24 323.21h2.46v0.8h-2.46zM451.05 354.56h4.65v0.6h-4.65zM448.09 317.8h1.5v0.6h-1.5zM316.47 305.15h1.5v0.5h-1.5zM314.27 280.5h3v0.6h-3zM321.06 316.12h4.18v0.8h-4.18zM315.63 265.03h1.5v0.5h-1.5zM322.23 299.77h3v0.8h-3zM320.28 270.5h2v0.6h-2zM321.76 374.05h3v0.8h-3zM320.29 371.49h3v0.5h-3zM321.08 365.54h2v0.6h-2zM321.83 362.98h3.41v0.6h-3.41zM257.62 364.31h1.5v0.8h-1.5zM263.84 348.53h1.5v0.8h-1.5zM256.75 279.61h5v0.5h-5zM264.23 252.54h1.71v0.6h-1.71zM256.82 265.09h1.5v0.6h-1.5zM260.78 297.38h2v0.8h-2zM255.39 260h1.5v0.5h-1.5zM257.65 301.77h4v0.6h-4zM262.95 277.71h2.99v0.5h-2.99zM264.27 332.26h1.67v0.8h-1.67zM260.15 369.73h2v0.6h-2zM256.89 283.6h4v0.6h-4zM255.33 292.56h1.5v0.6h-1.5zM224.29 271.05h1.5v0.6h-1.5zM226.86 301.59h1.5v0.5h-1.5zM228.23 360.17h2.13v0.8h-2.13zM223.74 286.7h3v0.8h-3zM220.69 345h5v0.6h-5zM222.13 305.94h1.5v0.6h-1.5zM227.62 292.21h2.74v0.5h-2.74zM226.59 363.07h3v0.5h-3zM222.54 367.21h2v0.6h-2zM220.7 329.13h4v0.8h-4zM222.89 373.27h1.5v0.5h-1.5zM224.65 326.42h3v0.5h-3zM278.54 375.58h2v0.8h-2zM281.08 371.73h2v0.8h-2zM286.55 370.34h3.11v0.5h-3.11zM279.97 347.9h2v0.8h-2zM286.3 303.22h3.36v0.5h-3.36zM284.43 297.98h3v0.6h-3zM282.37 371.41h3v0.8h-3zM280.68 264.86h5v0.5h-5zM277.97 255.88h5v0.8h-5zM281.36 364.34h1.5v0.8h-1.5zM279.41 261.17h2v0.6h-2zM343.9 350.88h2v0.8h-2zM338.09 351.43h1.5v0.5h-1.5zM344.31 350.39h3v0.8h-3zM337.66 279.3h4v0.5h-4zM338.59 322.64h2v0.6h-2zM339.47 351.74h1.5v0.8h-1.5zM341.14 289.54h2v0.6h-2zM343.88 362.94h2v0.8h-2zM346.7 264.25h2.26v0.6h-2.26zM337.61 356.56h1.5v0.5h-1.5zM385.13 347.55h1.5v0.6h-1.5zM385.41 269.41h3v0.8h-3zM384.77 368.89h2v0.8h-2zM384.6 344.21h4v0.6h-4zM389.1 346.04h4v0.6h-4zM389.07 266.85h3v0.8h-3zM385.28 266.58h3v0.8h-3zM391.92 339.97h4v0.6h-4zM391.53 368.12h4v0.6h-4zM392.81 316.04h3.59v0.5h-3.59zM384.69 355.01h3v0.6h-3zM392.86 337.57h3.54v0.8h-3.54zM297.08 306.19h4.44v0.5h-4.44zM294.7 281.02h5v0.5h-5zM292.22 271.62h2v0.8h-2zM299.51 341.92h2.01v0.8h-2.01zM295.29 343.84h5v0.8h-5zM294.35 298.41h2v0.8h-2zM292.46 342.93h2v0.5h-2zM292.86 361.11h1.5v0.8h-1.5zM290.36 255.81h5v0.5h-5z"/>
<rect x="456.2" y="254" width="10.86" height="2" fill="#a0506a" opacity="0.7"/>
<defs><pattern id="rnaT" patternUnits="userSpaceOnUse" x="0" y="0" width="61" height="37"><path fill="#c4607c" opacity="1.0" d="M59.43 36.06h2.5v0.8h-2.5zM-1.57 36.06h2.5v0.8h-2.5zM10.34 28.46h1v0.5h-1zM18.17 11.13h0.8v0.6h-0.8zM13.38 14.5h1v0.6h-1zM34.98 0.83h1.5v0.5h-1.5zM31.09 27.36h1v0.8h-1zM25.92 5.86h0.8v0.5h-0.8zM30.06 8.37h1.5v0.6h-1.5zM4.37 6.84h1.5v0.8h-1.5zM20.72 23.64h3v0.8h-3zM39.3 2.39h3v0.5h-3zM17.04 19.33h2v0.5h-2zM35.66 34.59h1.5v0.8h-1.5zM15.41 33.47h2.5v0.5h-2.5zM37.56 1.72h3v0.8h-3zM3.34 17.53h0.8v0.6h-0.8zM41.35 18.67h2v0.8h-2zM17.64 29.82h2v0.8h-2zM16.13 18.1h3v0.8h-3zM19.43 31.6h2v0.6h-2zM30.07 24.75h3v0.8h-3zM51.31 20.1h2.5v0.5h-2.5zM37.49 20.49h0.8v0.8h-0.8zM13.82 21.47h3v0.5h-3zM54.65 21.89h2.5v0.8h-2.5zM11.48 29.47h1v0.5h-1zM54.98 27.45h1.5v0.8h-1.5zM14.47 10.73h3v0.8h-3zM39.24 22.49h1v0.8h-1zM29.55 1.59h2.5v0.5h-2.5zM39.48 5.36h3v0.5h-3zM20.87 36.58h0.8v0.8h-0.8zM25 13.99h3v0.8h-3zM53.77 34.21h0.8v0.8h-0.8zM39.22 23.24h1.5v0.6h-1.5zM33.96 12.56h0.8v0.5h-0.8zM12.38 22.81h1v0.8h-1zM41.15 35.82h0.8v0.6h-0.8zM8.07 5.03h3v0.8h-3zM3.11 34.61h1.5v0.8h-1.5zM5.12 9.42h2v0.5h-2zM34.75 28.82h2v0.5h-2zM56.27 32.12h2.5v0.5h-2.5zM49.28 3.34h2.5v0.8h-2.5zM28.85 28.78h3v0.5h-3zM43.92 28.72h2v0.6h-2zM53.43 35.95h3v0.5h-3zM32.07 20.82h0.8v0.8h-0.8zM25.97 34.86h1.5v0.5h-1.5zM51.18 14.12h1v0.5h-1zM5.34 15.38h2.5v0.5h-2.5zM44.61 12.6h1v0.6h-1zM3.16 10.97h1.5v0.5h-1.5zM21.98 16.42h2.5v0.5h-2.5zM57.85 6.09h2.5v0.6h-2.5zM44.62 2.24h3v0.8h-3zM40.04 10.9h3v0.5h-3zM14.78 29.1h1.5v0.8h-1.5zM36.76 25.92h3v0.8h-3zM28.2 33.2h2v0.8h-2zM46.94 27.15h2v0.6h-2zM0.09 35.65h2.5v0.6h-2.5zM13.75 13.29h1.5v0.5h-1.5zM12.73 0.16h1v0.6h-1zM49.02 22.43h2v0.6h-2zM56.34 10.05h2.5v0.8h-2.5zM41.28 35.24h2.5v0.8h-2.5zM50.22 25.15h3v0.5h-3zM31.03 24.2h0.8v0.5h-0.8zM5.85 27.73h1v0.8h-1zM33.55 6.24h2.5v0.8h-2.5zM31.62 16.8h1v0.8h-1zM16.39 31.83h2.5v0.8h-2.5zM45.33 36.67h0.8v0.5h-0.8zM47.11 12.07h2v0.6h-2zM51.08 31.28h1v0.6h-1zM0.77 27.16h3v0.5h-3zM36.82 19.43h1v0.5h-1zM36.56 35.35h3v0.6h-3zM28.44 13.02h2.5v0.6h-2.5zM0.6 26.82h0.8v0.8h-0.8zM57.03 11.82h3v0.8h-3zM52 12.3h1.5v0.5h-1.5zM29.57 19.72h3v0.6h-3zM39.16 16.4h3v0.8h-3zM17.29 3.17h3v0.8h-3z"/><path fill="#d8a0b0" opacity="1.0" d="M32.15 6.83h2.5v0.8h-2.5zM30.44 7.31h3v0.5h-3zM59.32 20.77h1v0.6h-1zM36.03 25.37h2.5v0.8h-2.5zM13.19 14.63h1v0.6h-1zM22.55 26.75h2.5v0.8h-2.5zM39.75 34.45h2v0.5h-2zM12.9 16.7h1v0.6h-1zM15.12 3.43h3v0.8h-3zM4.26 2.71h2v0.5h-2zM8.31 29.73h1.5v0.5h-1.5zM8.28 25.09h3v0.8h-3zM38.93 3.88h2v0.8h-2zM36.79 31.3h2v0.5h-2zM24.43 1.92h1v0.5h-1zM44.92 7.83h0.8v0.5h-0.8zM48.75 18.47h3v0.5h-3zM11.14 0.56h1.5v0.5h-1.5zM51.72 20.79h3v0.6h-3zM25.43 19.98h2v0.6h-2zM55.74 8.63h2.5v0.8h-2.5zM51.66 21.04h0.8v0.5h-0.8zM38.99 2.28h1v0.5h-1zM59.91 32.24h1.5v0.6h-1.5zM-1.09 32.24h1.5v0.6h-1.5zM38.99 18.2h2v0.8h-2zM47.29 25.69h2.5v0.6h-2.5zM57.48 12.23h0.8v0.5h-0.8zM58.07 22.92h2v0.5h-2zM17.59 34.51h1.5v0.5h-1.5zM57.88 23.67h2v0.5h-2zM14.36 17.53h0.8v0.5h-0.8zM3.54 2.25h0.8v0.6h-0.8zM11.69 1.25h0.8v0.8h-0.8zM12.63 24.52h1v0.6h-1zM40.8 16.1h3v0.6h-3zM23.87 31.08h1.5v0.6h-1.5zM50.53 14.07h1.5v0.5h-1.5zM9.06 11.51h2.5v0.5h-2.5zM21.71 13.32h1v0.6h-1zM0.91 13.48h2v0.8h-2zM11.59 20.17h2.5v0.8h-2.5zM28.58 19.57h2.5v0.5h-2.5zM17.42 7.08h2.5v0.8h-2.5zM56.4 22.35h1v0.6h-1zM58.43 20.67h0.8v0.8h-0.8zM0.41 25.31h2.5v0.6h-2.5zM50.24 9.33h3v0.8h-3zM30.2 35.83h1v0.8h-1zM55.97 24.96h0.8v0.6h-0.8zM7.44 9.38h0.8v0.5h-0.8zM40.15 23.84h3v0.5h-3zM23.4 8.34h2v0.8h-2zM9.01 6.01h0.8v0.5h-0.8zM17.49 7.07h0.8v0.6h-0.8zM0.34 11.37h2.5v0.5h-2.5zM20.48 0.34h2.5v0.6h-2.5zM51.19 24.27h2.5v0.5h-2.5zM30.3 3.33h3v0.5h-3zM35.31 7.71h2.5v0.6h-2.5zM27.3 31.72h0.8v0.6h-0.8zM30.87 22.41h2.5v0.6h-2.5zM10.85 17.13h2v0.8h-2zM2.18 17h1.5v0.8h-1.5zM1.56 8.49h0.8v0.8h-0.8zM52.65 25.06h1.5v0.6h-1.5zM17.45 15.69h1v0.5h-1zM60.42 29.33h1.5v0.5h-1.5zM-0.58 29.33h1.5v0.5h-1.5zM27.09 21.05h0.8v0.8h-0.8zM9.04 24.04h1.5v0.6h-1.5zM47.59 4.04h0.8v0.8h-0.8zM10.89 18.31h1.5v0.6h-1.5zM19.54 26.79h0.8v0.8h-0.8zM51.5 19.05h2.5v0.6h-2.5zM13.66 2.32h2.5v0.5h-2.5zM14.85 15.58h3v0.6h-3zM22.51 6.51h2.5v0.8h-2.5zM50.63 29.35h2v0.6h-2zM51.46 14.28h3v0.5h-3zM49.17 11.3h2v0.5h-2zM14.77 17.29h2v0.6h-2zM31.49 16.22h1.5v0.5h-1.5zM45.48 31.88h1.5v0.5h-1.5zM23.07 33.48h1v0.5h-1zM39.53 24.69h3v0.5h-3zM31.75 7.52h2v0.5h-2zM41.21 3.95h1v0.8h-1zM23.17 5.88h3v0.6h-3zM22.3 15.82h0.8v0.5h-0.8zM48.24 3.09h1v0.6h-1zM46.9 27.26h1.5v0.5h-1.5zM20.07 34.4h1v0.5h-1zM55.13 2.79h2.5v0.8h-2.5zM36.3 30.33h0.8v0.6h-0.8zM3.1 15.26h2.5v0.6h-2.5zM20.48 18.18h2v0.5h-2zM55.4 1.83h2v0.5h-2zM45.99 18.1h3v0.8h-3zM53.88 0.26h1v0.8h-1zM23.27 17.11h2v0.5h-2zM41.01 4.06h1.5v0.6h-1.5zM56.88 36.64h0.8v0.8h-0.8zM58.98 35.94h3v0.8h-3zM-2.02 35.94h3v0.8h-3zM45.84 1.76h2.5v0.8h-2.5zM41.21 24.61h3v0.6h-3zM24.71 34.9h1v0.6h-1zM40.88 26.13h1v0.8h-1zM10.68 3.08h3v0.5h-3zM36.68 22.27h1v0.8h-1zM19.87 13h2.5v0.6h-2.5zM45.39 3.39h2.5v0.6h-2.5zM18.35 12h2.5v0.6h-2.5zM41.98 12.54h2.5v0.8h-2.5zM6.62 16.22h2v0.5h-2zM19.06 35.69h0.8v0.6h-0.8zM4.27 24.76h1.5v0.5h-1.5zM34.29 7.74h3v0.8h-3zM20.09 28.55h2.5v0.5h-2.5zM21.32 28.53h1.5v0.5h-1.5zM58.29 10.95h1v0.5h-1zM8.98 1.06h2v0.8h-2zM53.33 1.86h3v0.5h-3zM41.92 30.82h3v0.5h-3zM3.13 13.65h1v0.5h-1zM6.06 27.36h2v0.5h-2zM3.14 23.35h2v0.8h-2zM11.41 18.24h3v0.5h-3zM12.29 16.47h2v0.6h-2zM29.28 7.71h0.8v0.6h-0.8zM34.83 20.16h0.8v0.5h-0.8zM31.24 17.37h1v0.5h-1zM21.41 12.72h1v0.8h-1zM16.03 7.3h3v0.8h-3zM35.52 9.17h0.8v0.5h-0.8zM40.99 33.14h2v0.6h-2zM19.75 14.03h2.5v0.6h-2.5zM14.81 4.34h1v0.8h-1zM54.33 30.36h0.8v0.8h-0.8zM13.91 10.31h1v0.5h-1zM18.03 17.17h3v0.8h-3zM44.73 21.66h1.5v0.8h-1.5zM30.06 32.98h2.5v0.5h-2.5zM29.28 26.9h3v0.5h-3zM37.83 11.03h0.8v0.5h-0.8zM19.73 35.32h2.5v0.8h-2.5zM33.39 32.09h0.8v0.8h-0.8zM21.01 18.27h2v0.5h-2zM41.57 26.17h1.5v0.6h-1.5zM16.13 32.19h2v0.6h-2zM19.94 25.33h2v0.6h-2zM55.53 24.91h1v0.6h-1zM29.26 4.07h2v0.6h-2zM9.66 27.85h2v0.6h-2zM3.54 22.7h0.8v0.5h-0.8zM16.05 32.59h0.8v0.6h-0.8zM29.42 7.26h3v0.5h-3zM33.09 7.25h1.5v0.8h-1.5zM8.98 25.14h2.5v0.8h-2.5zM43.76 7.35h2v0.8h-2zM26.43 30.18h3v0.6h-3zM0.6 36.37h1.5v0.5h-1.5zM33.62 3.89h2v0.8h-2zM9.52 23.29h0.8v0.6h-0.8zM7.77 0.92h2.5v0.6h-2.5zM11.46 19.4h2.5v0.6h-2.5zM38.8 20.87h3v0.6h-3zM47.1 25.53h2.5v0.8h-2.5zM33.51 22.47h2v0.5h-2zM55.03 0.25h1v0.6h-1zM27.37 16.53h3v0.6h-3zM50.59 15.46h2.5v0.8h-2.5zM47.94 2.78h0.8v0.8h-0.8zM1.17 32.58h0.8v0.6h-0.8zM55.11 27.96h1v0.6h-1zM45.1 24.56h1v0.6h-1zM52.13 20.4h1.5v0.8h-1.5zM44.99 14.9h1v0.8h-1zM14.89 35.22h3v0.6h-3zM44.63 5.75h2v0.6h-2zM20.42 13.39h1v0.5h-1zM16.47 14.2h2v0.6h-2zM27.98 1.03h2.5v0.6h-2.5zM37.95 23.21h2v0.6h-2zM26.63 19.06h3v0.8h-3zM17.21 25.49h0.8v0.6h-0.8zM44.7 22.25h2v0.5h-2zM17.93 4.17h2v0.6h-2zM14.64 11.67h1.5v0.6h-1.5zM53.56 21.39h2.5v0.8h-2.5zM39.82 12.7h3v0.8h-3zM45.21 23.07h2v0.8h-2zM31.35 18.93h3v0.6h-3zM46.05 16.66h3v0.6h-3zM37.54 18.14h2.5v0.5h-2.5zM28.89 4.02h2.5v0.5h-2.5zM10.12 9.87h1v0.5h-1zM59.69 31.13h3v0.5h-3zM-1.31 31.13h3v0.5h-3zM13.61 16.21h1v0.5h-1zM48.08 21.74h1v0.6h-1z"/><path fill="#ffffff" opacity="1.0" d="M29.64 2.91h2v0.5h-2zM56.45 31.77h0.8v0.8h-0.8zM50.61 25.47h2.5v0.8h-2.5zM41.36 22.58h2.5v0.8h-2.5zM13.29 15.33h1v0.6h-1zM18.72 6.77h0.8v0.6h-0.8zM57.59 36.18h0.8v0.6h-0.8zM45.31 6.16h1v0.8h-1zM19.12 20.53h2v0.5h-2zM29.25 4.15h3v0.8h-3zM41.82 24.52h2v0.6h-2zM27.01 3.13h0.8v0.5h-0.8zM24.31 1.54h1v0.8h-1zM26 20.54h0.8v0.6h-0.8zM9.24 11.69h3v0.8h-3zM56.51 23.92h3v0.6h-3zM59.7 33.93h3v0.5h-3zM-1.3 33.93h3v0.5h-3zM43.41 29.96h1v0.5h-1zM18.5 9.03h0.8v0.8h-0.8zM42.35 28.05h3v0.8h-3zM45.69 24.76h2v0.6h-2zM1.4 5.96h1v0.5h-1zM16.65 6.93h3v0.6h-3zM52.61 19.81h2v0.8h-2zM24.3 12.57h1.5v0.6h-1.5zM29.04 15.39h3v0.8h-3zM56.41 18.5h1.5v0.8h-1.5zM60.84 19.53h1v0.5h-1zM-0.16 19.53h1v0.5h-1zM3.47 5.56h2.5v0.6h-2.5zM28.35 22.75h1v0.6h-1zM47.87 9.06h3v0.5h-3zM38.92 12.42h0.8v0.5h-0.8zM43.98 21.35h3v0.6h-3zM12.88 0.86h1.5v0.8h-1.5zM27.76 17.52h2.5v0.6h-2.5zM13.83 8.46h2.5v0.8h-2.5zM46.99 19.95h3v0.6h-3zM11.99 33.77h0.8v0.6h-0.8zM50.1 30.98h2v0.5h-2zM43.44 28.18h3v0.6h-3zM15.35 26.09h2.5v0.6h-2.5zM60.21 5.05h2.5v0.6h-2.5zM-0.79 5.05h2.5v0.6h-2.5zM31.05 0.8h2.5v0.6h-2.5zM30.21 6.18h3v0.6h-3zM34.74 35.28h1.5v0.6h-1.5zM4.6 11.11h3v0.5h-3zM32.78 0.89h1.5v0.6h-1.5zM1.55 33.69h3v0.5h-3zM49.95 31.8h1v0.8h-1zM42.66 12.47h1v0.6h-1zM1.69 33.94h2.5v0.6h-2.5zM60.21 8.27h1v0.8h-1zM-0.79 8.27h1v0.8h-1zM10.71 6.75h2.5v0.8h-2.5zM28.86 22.37h1.5v0.5h-1.5zM2.7 13.06h2v0.8h-2zM41.4 1.99h1.5v0.5h-1.5zM10.56 6.01h0.8v0.6h-0.8zM43.8 9.03h2v0.6h-2zM18.07 14.49h3v0.5h-3zM22.65 34.93h0.8v0.6h-0.8zM15.06 35.93h2.5v0.6h-2.5zM4.61 36.75h0.8v0.5h-0.8zM43.28 2.54h3v0.5h-3zM56.22 22.74h0.8v0.5h-0.8zM2.09 29.52h1v0.5h-1zM45.15 32.8h3v0.6h-3zM19.52 0.26h2v0.6h-2zM9.96 13.47h0.8v0.6h-0.8zM39.06 6.22h1v0.8h-1zM17.44 24.59h1v0.6h-1zM17.35 10.83h0.8v0.8h-0.8zM59.76 27.4h3v0.6h-3zM-1.24 27.4h3v0.6h-3zM38.9 2.41h3v0.5h-3zM19.38 14.71h1.5v0.8h-1.5zM25.25 6.78h3v0.5h-3zM27.79 30.95h0.8v0.5h-0.8zM3.9 19.67h1v0.5h-1zM50.27 12.74h0.8v0.6h-0.8zM44.44 32.71h2.5v0.8h-2.5zM51.98 17.84h2.5v0.5h-2.5zM3.58 4.87h2.5v0.6h-2.5zM30.85 29.75h2v0.8h-2zM55.62 26.95h0.8v0.5h-0.8zM41.18 7.91h2v0.5h-2zM39.24 2.72h1v0.6h-1zM33.67 11.75h1v0.8h-1zM59.75 33.71h1.5v0.5h-1.5zM-1.25 33.71h1.5v0.5h-1.5zM21.5 13.02h1.5v0.8h-1.5zM19.24 3.72h1v0.6h-1zM25.58 3.06h3v0.8h-3zM35.26 33.19h0.8v0.6h-0.8zM32.33 15.3h2.5v0.8h-2.5zM42.03 21.08h2v0.5h-2zM28.39 20.88h1.5v0.8h-1.5zM20.23 31.29h2v0.5h-2zM32.51 21.52h0.8v0.5h-0.8zM46.12 30.27h2.5v0.5h-2.5zM7.78 13.04h1v0.6h-1zM13.65 4.22h1v0.5h-1zM0.92 28.32h1v0.5h-1zM36.66 35.49h0.8v0.5h-0.8zM34.47 10.76h0.8v0.6h-0.8zM1.8 17.78h0.8v0.8h-0.8zM6.19 29.06h2.5v0.8h-2.5zM20.97 27.8h2.5v0.6h-2.5zM50.98 33.07h3v0.5h-3zM28.16 19.74h2.5v0.8h-2.5zM60.31 34.1h2.5v0.8h-2.5zM-0.69 34.1h2.5v0.8h-2.5zM42.26 28.74h0.8v0.6h-0.8zM26.97 9.2h1v0.5h-1zM56.82 33.57h2.5v0.5h-2.5zM12.08 33.79h2v0.8h-2zM15.7 35.19h1v0.5h-1zM7.06 1.38h3v0.6h-3zM45.39 2.18h2v0.5h-2zM39.01 2.51h2v0.8h-2zM50.03 21.86h1v0.8h-1zM60.33 31.43h2.5v0.5h-2.5zM-0.67 31.43h2.5v0.5h-2.5zM36.98 29.9h2v0.6h-2zM3.8 23.86h1.5v0.8h-1.5zM3.94 32.4h2.5v0.6h-2.5zM2.79 23h3v0.5h-3zM47.33 29.71h2.5v0.5h-2.5zM45.2 2.04h1v0.5h-1zM51.23 36.6h2.5v0.5h-2.5zM50.26 3.32h2.5v0.5h-2.5zM31.27 25.47h1v0.8h-1zM35.67 30.53h1v0.5h-1zM41.36 4.31h3v0.5h-3zM9.96 1.82h2.5v0.6h-2.5zM22.45 35.19h1.5v0.6h-1.5zM32.48 3.8h0.8v0.6h-0.8zM9.52 35.78h0.8v0.5h-0.8zM41.64 0.09h1.5v0.5h-1.5zM2.83 35.08h1v0.8h-1zM23.99 29.32h0.8v0.8h-0.8zM32.73 26.45h1v0.8h-1zM59.69 4.62h1.5v0.5h-1.5zM-1.31 4.62h1.5v0.5h-1.5zM5.47 25.67h2v0.5h-2zM39.19 5.07h1v0.5h-1zM39.25 29.63h2.5v0.5h-2.5zM27.54 14.79h2.5v0.5h-2.5zM34.72 2.42h2v0.5h-2zM26.91 2.04h0.8v0.8h-0.8zM4.71 2.72h2v0.8h-2zM9.68 8.05h1.5v0.6h-1.5zM5.66 30.64h2v0.5h-2zM59.65 19.56h3v0.8h-3zM-1.35 19.56h3v0.8h-3zM48.61 1.38h3v0.5h-3zM36.82 34.6h2.5v0.5h-2.5zM39.16 31.97h3v0.5h-3zM47.98 22.06h1.5v0.5h-1.5zM19.05 3.94h1.5v0.5h-1.5zM4.87 19.37h1v0.8h-1zM36.61 23.11h2v0.6h-2zM46.01 7.72h1.5v0.6h-1.5zM8.93 18.65h2.5v0.6h-2.5zM23.46 3.22h0.8v0.6h-0.8zM43.83 22.79h2v0.8h-2zM51.11 24.86h1.5v0.8h-1.5zM52.17 13.67h1.5v0.5h-1.5zM59.96 30.25h0.8v0.8h-0.8zM14.08 12.95h1.5v0.6h-1.5zM28.88 29.44h1v0.5h-1zM60.21 18.38h1.5v0.8h-1.5zM-0.79 18.38h1.5v0.8h-1.5zM35.23 19.35h2.5v0.6h-2.5zM0.95 1.95h1.5v0.5h-1.5zM50.09 22.83h3v0.5h-3zM47.58 3.84h1v0.5h-1zM29.38 18.94h1v0.6h-1zM15.47 14.92h1v0.6h-1zM26.28 25.3h2v0.8h-2zM18.17 35.08h2v0.5h-2zM46.76 2.5h1v0.5h-1zM46.8 8.66h2.5v0.5h-2.5zM51.36 19.67h1v0.5h-1zM6.25 24.46h1v0.8h-1zM17.15 29.97h3v0.6h-3zM3.57 21.49h2.5v0.8h-2.5zM25.6 34.66h3v0.5h-3zM53.28 6.65h1.5v0.8h-1.5zM57.6 17.29h1v0.8h-1zM15.44 4.38h0.8v0.8h-0.8zM19.93 25.19h1.5v0.8h-1.5zM5.7 29.44h1.5v0.6h-1.5zM26.1 36.06h0.8v0.8h-0.8zM21.93 35.86h2v0.5h-2zM35.19 27.61h1v0.6h-1zM45.23 24.33h0.8v0.6h-0.8zM47.59 30.43h3v0.8h-3zM25.57 25.73h1.5v0.5h-1.5zM58.72 24.22h2.5v0.8h-2.5zM-2.28 24.22h2.5v0.8h-2.5zM43.4 16.85h1.5v0.6h-1.5zM53.58 20.14h0.8v0.8h-0.8zM29.86 15.84h2.5v0.5h-2.5zM54.88 25.93h1v0.5h-1zM55.13 2.21h1v0.6h-1zM40.73 34.32h1v0.5h-1zM11.2 11h0.8v0.8h-0.8zM38.83 2.78h1.5v0.8h-1.5zM6.78 1.43h2v0.5h-2zM38.41 8.51h0.8v0.6h-0.8zM4.84 9.53h0.8v0.8h-0.8zM35.08 27.73h2.5v0.6h-2.5zM59.58 17.09h2v0.5h-2zM-1.42 17.09h2v0.5h-2zM30.21 32.22h0.8v0.6h-0.8zM37.8 35.51h2.5v0.8h-2.5z"/><path fill="#a8b8cc" opacity="1.0" d="M13.38 10.08h1v0.8h-1zM40.92 3.07h1.5v0.5h-1.5zM40.9 8.6h1v0.6h-1zM34.3 34.93h0.8v0.6h-0.8zM55.62 1.93h0.8v0.6h-0.8zM22.71 4.45h1.5v0.5h-1.5zM32.96 21.01h2.5v0.6h-2.5zM4.97 8.25h0.8v0.6h-0.8zM56.98 25.05h1v0.5h-1zM31.04 36.43h1.5v0.5h-1.5zM28.73 23.83h3v0.6h-3zM47.91 32.32h2.5v0.6h-2.5zM23.85 17.34h0.8v0.5h-0.8zM51.98 18.01h2.5v0.6h-2.5zM37.43 8.17h2v0.6h-2zM36.96 17.03h2.5v0.8h-2.5zM9.16 35.68h1.5v0.6h-1.5zM23.58 29.34h2v0.5h-2zM18.9 31.89h2.5v0.6h-2.5zM43.61 27.78h2v0.8h-2zM13.22 16.54h2.5v0.6h-2.5zM38.65 24.09h3v0.6h-3zM37.15 20.63h2v0.5h-2zM41.28 21.35h2.5v0.6h-2.5zM0.12 12.14h1.5v0.6h-1.5zM28.24 25.36h1v0.8h-1zM24.28 17.75h1.5v0.5h-1.5zM2.83 14.79h0.8v0.8h-0.8zM24.5 34.06h1v0.5h-1zM46.32 12.46h2v0.8h-2zM5.48 18.71h2.5v0.8h-2.5zM38.81 25.89h3v0.8h-3zM4.11 25.88h1v0.6h-1zM5.65 15.19h1v0.6h-1zM47.4 29.37h2.5v0.8h-2.5zM21.66 17.45h1.5v0.5h-1.5zM17.43 10.82h2v0.6h-2zM28.84 16.1h2.5v0.6h-2.5zM45.56 28.39h2.5v0.6h-2.5zM50.09 20.97h0.8v0.8h-0.8zM50.14 26.49h1v0.5h-1zM56.07 30.91h1v0.5h-1zM29.57 7.32h0.8v0.8h-0.8zM32.63 2.42h1.5v0.6h-1.5zM18.45 22.46h1.5v0.8h-1.5zM42.7 1.45h2.5v0.5h-2.5zM32.07 10.2h1.5v0.8h-1.5zM60.05 6.29h3v0.6h-3zM-0.95 6.29h3v0.6h-3zM9.73 32.88h3v0.6h-3zM8.27 10.13h1.5v0.5h-1.5zM50.12 33.91h2.5v0.8h-2.5zM53.99 0.04h3v0.8h-3zM43.45 6.29h2.5v0.5h-2.5zM5.41 31.78h0.8v0.8h-0.8zM55.42 16.59h3v0.6h-3zM57.95 27.48h0.8v0.6h-0.8zM56.52 3.9h2v0.5h-2zM24.26 3.77h0.8v0.8h-0.8zM11.26 20.77h1.5v0.5h-1.5zM30.89 2.47h2.5v0.8h-2.5zM1.3 20.48h3v0.8h-3zM39.15 19.36h2.5v0.5h-2.5zM46.05 33.98h3v0.5h-3zM0.11 2.24h0.8v0.6h-0.8zM42.19 2.93h3v0.5h-3zM10.92 7.3h2v0.8h-2zM51.47 26.28h2v0.8h-2zM28.42 27.64h3v0.6h-3zM12.62 27.78h0.8v0.5h-0.8z"/></pattern></defs>
<defs><pattern id="bluT" patternUnits="userSpaceOnUse" x="0" y="0" width="53" height="31"><path fill="#0e3e6c" opacity="0.5" d="M11.63 30.72h3v0.5h-3zM25.61 11.37h4v0.8h-4zM10.21 13.48h2v0.8h-2zM4.19 2.43h1v0.6h-1zM16.51 21.78h1v0.6h-1zM9.63 18.95h3v0.5h-3zM29.75 15.69h2v0.8h-2zM24.8 6.2h3v0.6h-3zM26.85 30.67h3v0.6h-3zM47.15 22.4h4v0.8h-4zM39.91 9.11h2v0.6h-2zM19.34 26.26h4v0.8h-4zM52.61 29.71h1v0.8h-1zM-0.39 29.71h1v0.8h-1zM18.51 14.95h3v0.8h-3zM39.03 11.01h4v0.8h-4zM0.81 2.82h1.5v0.8h-1.5zM48.68 25.89h3v0.8h-3zM50.95 19.29h4v0.6h-4zM-2.05 19.29h4v0.6h-4zM28.12 24.66h2v0.8h-2zM30.04 12.01h2v0.6h-2zM16.51 4.78h1v0.6h-1zM37.04 18.11h4v0.5h-4zM39.64 20.07h3v0.8h-3zM48.12 25.72h4v0.8h-4zM52.16 3.12h4v0.8h-4zM-0.84 3.12h4v0.8h-4zM51.61 29.22h2v0.8h-2zM-1.39 29.22h2v0.8h-2zM10.91 3.09h2v0.5h-2zM46.25 7.36h2v0.8h-2zM28.47 11.58h2v0.6h-2zM21.51 23.76h1v0.5h-1zM22.24 27.47h1v0.6h-1zM36.55 24.68h3v0.8h-3zM50.64 14.83h1.5v0.6h-1.5zM47.69 17.27h3v0.6h-3zM36.61 12.47h4v0.6h-4zM19.55 23.1h4v0.8h-4zM17.91 22.12h4v0.6h-4zM29.19 19.47h2v0.8h-2zM11.96 2.32h4v0.8h-4zM29.51 7.82h3v0.8h-3zM42.28 4.57h3v0.8h-3zM22.68 20.19h1.5v0.5h-1.5zM48.81 27.3h1v0.8h-1zM3.88 1.59h1v0.5h-1zM32.73 17h3v0.8h-3zM3.48 16.48h2v0.5h-2zM34.26 29.18h3v0.6h-3zM48.28 5.39h4v0.6h-4zM51.31 18.34h3v0.5h-3zM-1.69 18.34h3v0.5h-3zM37.55 16.01h1v0.6h-1zM44.75 27.66h1.5v0.5h-1.5zM2.04 15.49h2v0.8h-2zM22.65 18.56h2v0.5h-2zM25.58 25.68h2v0.6h-2zM28.95 16.91h3v0.8h-3zM43.01 5.71h1.5v0.6h-1.5zM42.7 10.07h3v0.5h-3z"/><path fill="#ffffff" opacity="0.5" d="M51.47 28.38h2v0.8h-2zM-1.53 28.38h2v0.8h-2zM27.71 9.44h1.5v0.8h-1.5zM48.34 30.57h2v0.6h-2zM49.93 28.4h4v0.6h-4zM-3.07 28.4h4v0.6h-4zM6.16 2.23h3v0.6h-3zM31.53 18.13h3v0.5h-3zM43.4 2.35h3v0.8h-3zM0.77 15.94h1v0.6h-1zM23.79 5.36h2v0.8h-2zM13.47 19.53h4v0.5h-4zM10.18 18.54h4v0.8h-4zM21.19 15.05h2v0.5h-2zM24.77 20.05h1.5v0.6h-1.5zM18.04 3.51h1.5v0.8h-1.5zM42.77 25.22h3v0.5h-3zM6.34 11.52h3v0.8h-3zM16.52 22.14h3v0.5h-3zM18.36 28.87h3v0.6h-3zM35.38 24.96h1v0.5h-1zM41.94 30.27h1v0.8h-1zM14.58 16.05h2v0.6h-2zM9.18 8.03h4v0.8h-4zM7.88 2.69h3v0.5h-3zM42.19 29.06h1.5v0.8h-1.5zM8.23 21.02h1.5v0.6h-1.5zM34.26 13h4v0.5h-4zM12.7 24.41h1v0.5h-1zM13.36 22.35h1.5v0.6h-1.5zM47.05 4.12h1.5v0.5h-1.5zM26.95 25.85h1v0.5h-1zM49.6 5.68h2v0.5h-2zM3.15 18.84h2v0.5h-2zM27.98 12.53h1v0.6h-1zM9.47 19.51h4v0.5h-4zM42.17 22.96h1v0.8h-1zM9.28 10.83h2v0.8h-2zM21.25 0.07h3v0.6h-3zM41.48 29.31h1v0.8h-1zM37.79 10.31h3v0.5h-3zM23.13 11.78h2v0.8h-2zM25.93 3.26h1.5v0.6h-1.5zM47.15 1.44h1.5v0.6h-1.5zM4.07 3.95h1.5v0.6h-1.5zM21.76 28.1h1v0.8h-1zM49.79 11.16h2v0.8h-2zM24.79 24.78h1.5v0.6h-1.5zM14.76 30.98h4v0.8h-4zM47.03 15.41h4v0.8h-4zM42.68 25.72h3v0.5h-3zM38.81 2.41h4v0.5h-4zM0.39 7h1.5v0.8h-1.5zM22.41 17.76h3v0.8h-3zM22.89 26.29h1v0.5h-1zM16.1 6.74h1.5v0.8h-1.5zM42.41 25.51h1v0.6h-1zM1.59 21.92h1.5v0.5h-1.5zM43.36 10.9h1.5v0.8h-1.5zM4.84 19.98h1.5v0.5h-1.5zM48.29 1.07h1v0.5h-1zM18.1 14.32h1v0.5h-1zM8.5 10.69h3v0.6h-3zM36.08 5.99h1.5v0.5h-1.5zM26.58 19.73h1.5v0.8h-1.5zM28.68 18.08h1.5v0.6h-1.5zM29.84 29.84h2v0.6h-2zM47.13 7.29h1.5v0.8h-1.5zM24.12 14.16h3v0.6h-3zM40.87 12.43h2v0.8h-2zM49.12 15.63h2v0.8h-2zM6.94 28.55h3v0.6h-3zM11.87 4.03h4v0.6h-4zM8.15 7.8h4v0.6h-4zM20.61 6.81h2v0.6h-2zM38.9 26.16h1.5v0.6h-1.5zM46.57 1.55h2v0.8h-2zM48.93 4.47h1v0.6h-1zM3.15 30.99h1v0.6h-1zM46.08 2.08h3v0.8h-3zM17.52 14.34h2v0.6h-2zM6.27 16.54h2v0.6h-2zM24.2 4.12h3v0.5h-3zM39.19 10.97h2v0.5h-2zM45.67 22.78h2v0.8h-2zM47.79 19.59h4v0.8h-4zM29.86 29.23h1v0.8h-1zM14.32 13.79h2v0.5h-2zM15.79 26.51h4v0.6h-4zM1.72 14.9h4v0.5h-4zM52.99 5.61h1v0.6h-1zM-0.01 5.61h1v0.6h-1zM42.98 12.48h1.5v0.8h-1.5zM38.78 20.25h1v0.8h-1z"/><path fill="#6a9ac4" opacity="0.5" d="M50.2 28.73h1.5v0.5h-1.5zM50.71 0.74h3v0.5h-3zM-2.29 0.74h3v0.5h-3zM19.04 13.52h1.5v0.5h-1.5zM32.51 16.75h1v0.6h-1zM49.8 15.68h3v0.8h-3zM18.66 4.28h1.5v0.5h-1.5zM50.42 23.59h4v0.8h-4zM-2.58 23.59h4v0.8h-4zM19.84 30.7h1.5v0.5h-1.5zM17.13 17.87h3v0.6h-3zM41.06 14.05h1v0.6h-1zM34.31 0.76h2v0.5h-2zM41.19 15.72h1.5v0.8h-1.5zM45.91 18.51h4v0.5h-4zM21.17 22.36h4v0.5h-4zM7.45 21.57h2v0.5h-2zM49.4 19.25h1.5v0.6h-1.5zM26.94 16.68h1.5v0.6h-1.5zM34.13 13.36h3v0.5h-3zM15.98 21.74h1.5v0.6h-1.5zM51.2 19.34h1v0.6h-1zM19.14 9.58h1v0.5h-1zM0.26 18.9h2v0.5h-2zM1.65 14.81h1v0.8h-1zM25.19 26.64h4v0.6h-4zM49.89 9.3h1.5v0.5h-1.5zM9.38 24.78h3v0.8h-3zM32.65 19.02h4v0.5h-4zM19.99 18.35h1.5v0.8h-1.5zM4.82 29.94h2v0.5h-2zM27.22 30.39h2v0.5h-2zM42.97 0.73h4v0.8h-4zM18.18 15.24h4v0.5h-4zM24.38 24.46h4v0.6h-4zM2.75 6.18h4v0.6h-4zM4.84 2.81h2v0.5h-2zM17.67 5.28h1v0.5h-1zM50.54 19.66h1.5v0.8h-1.5zM12.1 14.67h1v0.8h-1zM6.22 19.24h1.5v0.5h-1.5zM4.95 8.74h3v0.8h-3zM34.66 28.74h2v0.6h-2zM24.99 18.03h2v0.6h-2zM1.45 0.87h2v0.8h-2zM11.56 26.52h1.5v0.5h-1.5zM32.44 0.44h4v0.5h-4zM16.75 23.27h1v0.5h-1zM40.9 16.72h3v0.5h-3zM51.6 23.72h2v0.5h-2zM-1.4 23.72h2v0.5h-2zM17.89 24.79h3v0.6h-3zM18.86 18.19h1.5v0.5h-1.5zM35.42 28.17h3v0.6h-3zM26.38 4.32h1v0.6h-1zM51.7 22.74h1v0.8h-1zM36.47 18.97h3v0.5h-3zM42.08 9.77h2v0.5h-2zM15.69 23.54h1v0.6h-1zM37.86 10.65h1.5v0.6h-1.5zM27.88 7.15h1.5v0.8h-1.5zM40.89 18.28h2v0.8h-2zM47.12 29.74h1v0.5h-1zM0.98 21.72h1v0.8h-1zM48.58 26.44h2v0.5h-2zM46.58 0.48h1.5v0.6h-1.5zM51.11 28.69h2v0.5h-2zM-1.89 28.69h2v0.5h-2zM49.64 27.89h4v0.8h-4zM-3.36 27.89h4v0.8h-4zM11.88 20.19h2v0.6h-2zM39.12 30.72h4v0.8h-4zM50.12 3.74h4v0.8h-4zM-2.88 3.74h4v0.8h-4zM35.94 1.93h3v0.8h-3zM32.9 3.66h1.5v0.5h-1.5zM30.52 12.65h3v0.8h-3zM5.06 19.37h3v0.6h-3zM50.42 12h3v0.6h-3zM-2.58 12h3v0.6h-3zM10.82 16.69h4v0.5h-4zM40.33 29.9h4v0.6h-4zM6 22.64h1.5v0.8h-1.5zM30.95 8.21h4v0.8h-4zM30.44 8.76h3v0.6h-3zM45.3 25.31h4v0.8h-4zM48.32 2.35h2v0.6h-2zM52.02 24.8h4v0.6h-4zM-0.98 24.8h4v0.6h-4zM22.14 28.12h1.5v0.8h-1.5zM28.32 12.43h2v0.6h-2zM20.52 22.16h1v0.5h-1zM38.48 12.94h1v0.5h-1zM19.73 1.2h4v0.5h-4zM9.5 18.85h4v0.6h-4zM27.11 19.12h3v0.8h-3zM26.68 9.35h2v0.5h-2zM24.84 25.48h3v0.6h-3zM13 29.01h1v0.8h-1zM23.26 26.01h1v0.5h-1zM1.53 8.34h4v0.6h-4zM1.66 23.69h2v0.5h-2zM22.46 3.17h1.5v0.8h-1.5zM27.47 0.21h4v0.5h-4zM0.91 3.31h1.5v0.6h-1.5zM16.33 7.9h1.5v0.5h-1.5zM0.6 25.7h1.5v0.5h-1.5zM48.19 6.72h2v0.8h-2zM13.39 23.77h3v0.8h-3zM39.49 26.24h2v0.8h-2zM5.31 24.04h1v0.5h-1zM29.82 16.57h2v0.6h-2zM35.8 24.72h3v0.5h-3zM41.15 15.9h1v0.6h-1zM17.38 6.79h1v0.6h-1zM4.53 7.01h1v0.6h-1zM49.21 16.34h1v0.6h-1zM28.43 24.9h4v0.8h-4zM40.59 2.21h1v0.6h-1zM52.3 23.04h4v0.5h-4zM-0.7 23.04h4v0.5h-4z"/></pattern></defs>
<rect x="218.5" y="252.1" width="261.1" height="125.6" fill="url(#rnaT)" opacity="0.42"/>
<rect x="222.6" y="257.4" width="1.3" height="120.3" fill="#2a4a7a" />
<rect x="224.8" y="252.1" width="4" height="125.6" fill="#d88aa0" />
<rect x="225.6" y="252.1" width="2.4" height="125.6" fill="#a62a4e" />
<rect x="225.6" y="309.5" width="1.2" height="8.5" fill="#f0d0da" />
<rect x="242.3" y="355.1" width="1.8" height="22.6" fill="#184c82" />
<rect x="244.9" y="342.2" width="2.6" height="12.9" fill="#a62a4e" />
<rect x="267.8" y="272.2" width="3.4" height="105.5" fill="#184c82" />
<rect x="286.4" y="309.7" width="2.6" height="68" fill="#184c82" />
<rect x="325.3" y="309.7" width="3.1" height="10.4" fill="#184c82" />
<rect x="325.3" y="323.5" width="11.7" height="54.2" fill="#184c82" />
<rect x="360.8" y="252.1" width="11.3" height="125.6" fill="#184c82" />
<rect x="372.1" y="252.1" width="0.7" height="125.6" fill="#9ab4cc" />
<rect x="372.8" y="252.1" width="9.2" height="125.6" fill="#184c82" />
<rect x="382" y="252.1" width="2.5" height="125.6" fill="#4a80b0" />
<rect x="388.5" y="323.8" width="6.5" height="50" fill="#c0405e" />
<rect x="420" y="296" width="12" height="13.3" fill="#184c82" />
<rect x="468.3" y="252.1" width="11.3" height="125.6" fill="#184c82" />
<rect x="242.3" y="355.1" width="1.8" height="22.6" fill="url(#bluT)" />
<rect x="267.8" y="272.2" width="3.4" height="105.5" fill="url(#bluT)" />
<rect x="286.4" y="309.7" width="2.6" height="68" fill="url(#bluT)" />
<rect x="325.3" y="309.7" width="3.1" height="10.4" fill="url(#bluT)" />
<rect x="325.3" y="323.5" width="11.7" height="54.2" fill="url(#bluT)" />
<rect x="360.8" y="252.1" width="11.3" height="125.6" fill="url(#bluT)" />
<rect x="372.8" y="252.1" width="9.2" height="125.6" fill="url(#bluT)" />
<rect x="420" y="296" width="12" height="13.3" fill="url(#bluT)" />
<rect x="468.3" y="252.1" width="11.3" height="125.6" fill="url(#bluT)" />
<rect x="388.5" y="323.8" width="6.5" height="50" fill="url(#rnaT)" opacity="0.6"/>
<path fill="#eee8ee"  d="M218.5 382.3h0.52v126h-0.52z"/>
<path fill="#e9dbe0"  d="M219 382.3h1.02v126h-1.02z"/>
<path fill="#5bbcc4"  d="M220 382.3h1.02v126h-1.02z"/>
<path fill="#6bc3cb"  d="M221 382.3h1.02v126h-1.02z"/>
<path fill="#e5e5ed"  d="M222 382.3h1.02v126h-1.02z"/>
<path fill="#b8b3d3"  d="M223 382.3h1.02v126h-1.02z"/>
<path fill="#c7c7e3"  d="M224 382.3h1.02v126h-1.02z"/>
<path fill="#dc5242"  d="M225 382.3h1.02v126h-1.02z"/>
<path fill="#e06556"  d="M226 382.3h1.02v126h-1.02z"/>
<path fill="#de5747"  d="M227 382.3h1.02v126h-1.02z"/>
<path fill="#df5d4e"  d="M228 382.3h1.02v126h-1.02z"/>
<path fill="#da5546"  d="M229 382.3h1.02v126h-1.02z"/>
<path fill="#f4dfdf"  d="M230 382.3h1.02v126h-1.02z"/>
<path fill="#f2e3e2"  d="M231 382.3h1.02v126h-1.02z"/>
<path fill="#f4eaea"  d="M232 382.3h1.02v126h-1.02z"/>
<path fill="#f3d9d4"  d="M233 382.3h1.02v126h-1.02z"/>
<path fill="#ebb1aa"  d="M234 382.3h1.02v126h-1.02z"/>
<path fill="#e9dcde"  d="M235 382.3h1.02v126h-1.02z"/>
<path fill="#edc1bc"  d="M236 382.3h1.02v126h-1.02z"/>
<path fill="#e1e1e6"  d="M237 382.3h1.02v126h-1.02z"/>
<path fill="#e2e2ec"  d="M238 382.3h1.02v126h-1.02z"/>
<path fill="#e9e6ed"  d="M239 382.3h1.02v126h-1.02z"/>
<path fill="#c2cedc"  d="M240 382.3h1.02v126h-1.02z"/>
<path fill="#ccc9d1"  d="M241 382.3h1.02v126h-1.02z"/>
<path fill="#e1d6dc"  d="M242 382.3h1.02v126h-1.02z"/>
<path fill="#eeb1ab"  d="M243 382.3h1.02v126h-1.02z"/>
<path fill="#f4d1ce"  d="M244 382.3h1.02v126h-1.02z"/>
<path fill="#e06151"  d="M245 382.3h1.02v126h-1.02z"/>
<path fill="#e06050"  d="M246 382.3h1.02v126h-1.02z"/>
<path fill="#e47365"  d="M247 382.3h1.02v126h-1.02z"/>
<path fill="#f3d8d0"  d="M248 382.3h1.02v126h-1.02z"/>
<path fill="#d2d4db"  d="M249 382.3h1.02v126h-1.02z"/>
<path fill="#f8e7e3"  d="M250 382.3h1.02v126h-1.02z"/>
<path fill="#f8e6e1"  d="M251 382.3h1.02v126h-1.02z"/>
<path fill="#f1d8d1"  d="M252 382.3h1.02v126h-1.02z"/>
<path fill="#f6ded8"  d="M253 382.3h1.02v126h-1.02z"/>
<path fill="#f5dbd3"  d="M254 382.3h1.02v126h-1.02z"/>
<path fill="#f3a494"  d="M255 382.3h1.02v126h-1.02z"/>
<path fill="#f5b4a6"  d="M256 382.3h1.02v126h-1.02z"/>
<path fill="#df7264"  d="M257 382.3h1.02v126h-1.02z"/>
<path fill="#eda89d"  d="M258 382.3h1.02v126h-1.02z"/>
<path fill="#f19b8b"  d="M259 382.3h1.02v126h-1.02z"/>
<path fill="#eda396"  d="M260 382.3h1.02v126h-1.02z"/>
<path fill="#dc6556"  d="M261 382.3h1.02v126h-1.02z"/>
<path fill="#dbbbb8"  d="M262 382.3h1.02v126h-1.02z"/>
<path fill="#f2aa9a"  d="M263 382.3h1.02v126h-1.02z"/>
<path fill="#ed9383"  d="M264 382.3h1.02v126h-1.02z"/>
<path fill="#dd7062"  d="M265 382.3h1.02v126h-1.02z"/>
<path fill="#f09b8b"  d="M266 382.3h1.02v126h-1.02z"/>
<path fill="#e6a096"  d="M267 382.3h1.02v126h-1.02z"/>
<path fill="#eca094"  d="M268 382.3h1.02v126h-1.02z"/>
<path fill="#f9e5e1"  d="M269 382.3h1.02v126h-1.02z"/>
<path fill="#f9e4e0"  d="M270 382.3h1.02v126h-1.02z"/>
<path fill="#f4c7bc"  d="M271 382.3h1.02v126h-1.02z"/>
<path fill="#f0cfc9"  d="M272 382.3h1.02v126h-1.02z"/>
<path fill="#dcd8d8"  d="M273 382.3h1.02v126h-1.02z"/>
<path fill="#f9e8e1"  d="M274 382.3h1.02v126h-1.02z"/>
<path fill="#faeae2"  d="M275 382.3h1.02v126h-1.02z"/>
<path fill="#ded8d8"  d="M276 382.3h1.02v126h-1.02z"/>
<path fill="#f5cfc2"  d="M277 382.3h1.02v126h-1.02z"/>
<path fill="#f6dbcf"  d="M278 382.3h1.02v126h-1.02z"/>
<path fill="#f2c3b6"  d="M279 382.3h1.02v126h-1.02z"/>
<path fill="#a8c8d8"  d="M280 382.3h1.02v126h-1.02z"/>
<path fill="#e58c82"  d="M281 382.3h1.02v126h-1.02z"/>
<path fill="#f3978a"  d="M282 382.3h1.02v126h-1.02z"/>
<path fill="#f39588"  d="M283 382.3h1.02v126h-1.02z"/>
<path fill="#f18879"  d="M284 382.3h1.02v126h-1.02z"/>
<path fill="#f08474"  d="M285 382.3h1.02v126h-1.02z"/>
<path fill="#c3b0b7"  d="M286 382.3h1.02v126h-1.02z"/>
<path fill="#c7c3cb"  d="M287 382.3h1.02v126h-1.02z"/>
<path fill="#c5aab0"  d="M288 382.3h1.02v126h-1.02z"/>
<path fill="#b8d0e3"  d="M289 382.3h1.02v126h-1.02z"/>
<path fill="#d4dfea"  d="M290 382.3h1.02v126h-1.02z"/>
<path fill="#f3c4b9"  d="M291 382.3h1.02v126h-1.02z"/>
<path fill="#f9dcd5"  d="M292 382.3h1.02v126h-1.02z"/>
<path fill="#f5c9be"  d="M293 382.3h1.02v126h-1.02zM305 382.3h1.02v126h-1.02z"/>
<path fill="#f8dad3"  d="M294 382.3h1.02v126h-1.02z"/>
<path fill="#f8dad2"  d="M295 382.3h1.02v126h-1.02zM310 382.3h1.02v126h-1.02z"/>
<path fill="#d5c9cc"  d="M296 382.3h1.02v126h-1.02z"/>
<path fill="#ecc5bf"  d="M297 382.3h1.02v126h-1.02z"/>
<path fill="#f6d1c8"  d="M298 382.3h1.02v126h-1.02z"/>
<path fill="#f6d1c7"  d="M299 382.3h1.02v126h-1.02z"/>
<path fill="#f4bfb2"  d="M300 382.3h1.02v126h-1.02z"/>
<path fill="#f7d3cb"  d="M301 382.3h1.02v126h-1.02z"/>
<path fill="#f4c5b9"  d="M302 382.3h1.02v126h-1.02z"/>
<path fill="#d8c8ca"  d="M303 382.3h1.02v126h-1.02z"/>
<path fill="#f1b5a8"  d="M304 382.3h1.02v126h-1.02z"/>
<path fill="#d6c9cb"  d="M306 382.3h1.02v126h-1.02z"/>
<path fill="#d9c8c9"  d="M307 382.3h1.02v126h-1.02z"/>
<path fill="#f4c3b7"  d="M308 382.3h1.02v126h-1.02z"/>
<path fill="#ebc5bf"  d="M309 382.3h1.02v126h-1.02z"/>
<path fill="#eec5bc"  d="M311 382.3h1.02v126h-1.02z"/>
<path fill="#eac5c0"  d="M312 382.3h1.02v126h-1.02z"/>
<path fill="#f4c4b8"  d="M313 382.3h1.02v126h-1.02z"/>
<path fill="#e9897c"  d="M314 382.3h1.02v126h-1.02z"/>
<path fill="#ef9789"  d="M315 382.3h1.02v126h-1.02z"/>
<path fill="#f6dbd4"  d="M316 382.3h1.02v126h-1.02z"/>
<path fill="#f2d0c9"  d="M317 382.3h1.02v126h-1.02z"/>
<path fill="#eeaea3"  d="M318 382.3h1.02v126h-1.02z"/>
<path fill="#f8e0db"  d="M319 382.3h1.02v126h-1.02z"/>
<path fill="#eca59a"  d="M320 382.3h1.02v126h-1.02z"/>
<path fill="#f5d5ce"  d="M321 382.3h1.02v126h-1.02z"/>
<path fill="#efb4a9"  d="M322 382.3h1.02v126h-1.02z"/>
<path fill="#f1cfc9"  d="M323 382.3h1.02v126h-1.02z"/>
<path fill="#b0c8e0"  d="M324 382.3h1.02v126h-1.02z"/>
<path fill="#c2c3d0"  d="M325 382.3h1.02v126h-1.02z"/>
<path fill="#eebcb5"  d="M326 382.3h1.02v126h-1.02z"/>
<path fill="#f0e1df"  d="M327 382.3h1.02v126h-1.02z"/>
<path fill="#ebd9d9"  d="M328 382.3h1.02v126h-1.02z"/>
<path fill="#dfdde1"  d="M329 382.3h1.02v126h-1.02z"/>
<path fill="#f1cec8"  d="M330 382.3h1.02v126h-1.02z"/>
<path fill="#f7eae7"  d="M331 382.3h1.02v126h-1.02z"/>
<path fill="#eebbb3"  d="M332 382.3h1.02v126h-1.02z"/>
<path fill="#f4d3cc"  d="M333 382.3h1.02v126h-1.02z"/>
<path fill="#f0c6bf"  d="M334 382.3h1.02v126h-1.02z"/>
<path fill="#e99385"  d="M335 382.3h1.02v126h-1.02z"/>
<path fill="#ed907e"  d="M336 382.3h1.02v126h-1.02z"/>
<path fill="#ee9585"  d="M337 382.3h1.02v126h-1.02z"/>
<path fill="#e3d0ce"  d="M338 382.3h1.02v126h-1.02z"/>
<path fill="#f2ccc3"  d="M339 382.3h1.02v126h-1.02z"/>
<path fill="#f3c4b8"  d="M340 382.3h1.02v126h-1.02z"/>
<path fill="#f4d5ce"  d="M341 382.3h1.02v126h-1.02z"/>
<path fill="#f8ebe8"  d="M342 382.3h1.02v126h-1.02z"/>
<path fill="#ee9686"  d="M343 382.3h1.02v126h-1.02z"/>
<path fill="#e0968c"  d="M344 382.3h1.02v126h-1.02z"/>
<path fill="#e89689"  d="M345 382.3h1.02v126h-1.02z"/>
<path fill="#dde9f1"  d="M346 382.3h1.02v126h-1.02z"/>
<path fill="#ddd7dc"  d="M347 382.3h1.02v126h-1.02z"/>
<path fill="#dae7f0"  d="M348 382.3h1.02v126h-1.02z"/>
<path fill="#d6e5ef"  d="M349 382.3h1.02v126h-1.02z"/>
<path fill="#278cbd"  d="M350 382.3h1.02v126h-1.02z"/>
<path fill="#2e93c2"  d="M351 382.3h1.02v126h-1.02z"/>
<path fill="#ecdcdf"  d="M352 382.3h1.02v126h-1.02z"/>
<path fill="#f5e8e9"  d="M353 382.3h1.02v126h-1.02z"/>
<path fill="#eedee1"  d="M354 382.3h1.02v126h-1.02z"/>
<path fill="#f0e2e4"  d="M355 382.3h1.02v126h-1.02z"/>
<path fill="#efa293"  d="M356 382.3h1.02v126h-1.02z"/>
<path fill="#f2ac9e"  d="M357 382.3h1.02v126h-1.02z"/>
<path fill="#f4ecef"  d="M358 382.3h1.02v126h-1.02z"/>
<path fill="#f2d3cf"  d="M359 382.3h1.02v126h-1.02z"/>
<path fill="#f2eaed"  d="M360 382.3h1.02v126h-1.02z"/>
<path fill="#b7e1eb"  d="M361 382.3h1.02v126h-1.02z"/>
<path fill="#b2dee9"  d="M362 382.3h1.02v126h-1.02z"/>
<path fill="#2e93ca"  d="M363 382.3h1.02v126h-1.02z"/>
<path fill="#3a99cd"  d="M364 382.3h1.02v126h-1.02z"/>
<path fill="#288ec6"  d="M365 382.3h1.02v126h-1.02z"/>
<path fill="#ede8eb"  d="M366 382.3h1.02v126h-1.02z"/>
<path fill="#efe6e7"  d="M367 382.3h1.02v126h-1.02z"/>
<path fill="#f5f6f8"  d="M368 382.3h1.02v126h-1.02z"/>
<path fill="#efeaec"  d="M369 382.3h1.02v126h-1.02z"/>
<path fill="#eff0f4"  d="M370 382.3h1.02v126h-1.02z"/>
<path fill="#eff1f5"  d="M371 382.3h1.02v126h-1.02z"/>
<path fill="#f0f2f6"  d="M372 382.3h1.02v126h-1.02z"/>
<path fill="#2885bb"  d="M373 382.3h1.02v126h-1.02z"/>
<path fill="#207db6"  d="M374 382.3h1.02v126h-1.02z"/>
<path fill="#81d0e8"  d="M375 382.3h1.02v126h-1.02z"/>
<path fill="#85d2e9"  d="M376 382.3h1.02v126h-1.02z"/>
<path fill="#4193c9"  d="M377 382.3h1.02v126h-1.02z"/>
<path fill="#207ebe"  d="M378 382.3h1.02v126h-1.02z"/>
<path fill="#1f7cbc"  d="M379 382.3h1.02v126h-1.02z"/>
<path fill="#1f79b9"  d="M380 382.3h1.02v126h-1.02z"/>
<path fill="#4092c9"  d="M381 382.3h1.02v126h-1.02z"/>
<path fill="#1f79b8"  d="M382 382.3h1.02v126h-1.02z"/>
<path fill="#bacddf"  d="M383 382.3h1.02v126h-1.02z"/>
<path fill="#bdcdde"  d="M384 382.3h1.02v126h-1.02z"/>
<path fill="#ed8d7d"  d="M385 382.3h1.02v126h-1.02z"/>
<path fill="#ed9081"  d="M386 382.3h1.02v126h-1.02z"/>
<path fill="#f5ebeb"  d="M387 382.3h1.02v126h-1.02z"/>
<path fill="#f7f0f0"  d="M388 382.3h1.02v126h-1.02z"/>
<path fill="#f1dfde"  d="M389 382.3h1.02v126h-1.02z"/>
<path fill="#edb3ac"  d="M390 382.3h1.02v126h-1.02z"/>
<path fill="#f0cfcc"  d="M391 382.3h1.02v126h-1.02z"/>
<path fill="#eeb6af"  d="M392 382.3h1.02v126h-1.02z"/>
<path fill="#efbeb8"  d="M393 382.3h1.02v126h-1.02z"/>
<path fill="#d9dbe0"  d="M394 382.3h1.02v126h-1.02z"/>
<path fill="#c6dceb"  d="M395 382.3h1.02v126h-1.02z"/>
<path fill="#d8e5ee"  d="M396 382.3h1.02v126h-1.02z"/>
<path fill="#d5d9e1"  d="M397 382.3h1.02v126h-1.02z"/>
<path fill="#e1ebf2"  d="M398 382.3h1.02v126h-1.02z"/>
<path fill="#d1e1ec"  d="M399 382.3h1.02v126h-1.02z"/>
<path fill="#c1daea"  d="M400 382.3h1.02v126h-1.02z"/>
<path fill="#c8ddeb"  d="M401 382.3h1.02v126h-1.02zM407 382.3h1.02v126h-1.02z"/>
<path fill="#e6eef4"  d="M402 382.3h1.02v126h-1.02z"/>
<path fill="#e7eff4"  d="M403 382.3h1.02v126h-1.02z"/>
<path fill="#cadeeb"  d="M404 382.3h1.02v126h-1.02z"/>
<path fill="#d4e1eb"  d="M405 382.3h1.02v126h-1.02z"/>
<path fill="#d7cbd0"  d="M406 382.3h1.02v126h-1.02z"/>
<path fill="#d4e2ec"  d="M408 382.3h1.02v126h-1.02z"/>
<path fill="#d7e4ed"  d="M409 382.3h1.02v126h-1.02z"/>
<path fill="#d6d8e1"  d="M410 382.3h1.02v126h-1.02z"/>
<path fill="#d8c2c5"  d="M411 382.3h1.02v126h-1.02z"/>
<path fill="#c9c8d1"  d="M412 382.3h1.02v126h-1.02z"/>
<path fill="#d0d2d8"  d="M413 382.3h1.02v126h-1.02z"/>
<path fill="#dceaf2"  d="M414 382.3h1.02v126h-1.02z"/>
<path fill="#cad6e3"  d="M415 382.3h1.02v126h-1.02z"/>
<path fill="#c7cfd9"  d="M416 382.3h1.02v126h-1.02z"/>
<path fill="#dbe9f2"  d="M417 382.3h1.02v126h-1.02z"/>
<path fill="#c5d8e5"  d="M418 382.3h1.02v126h-1.02z"/>
<path fill="#bdd9ea"  d="M419 382.3h1.02v126h-1.02z"/>
<path fill="#f2edf1"  d="M420 382.3h1.02v126h-1.02z"/>
<path fill="#f4f0f3"  d="M421 382.3h1.02v126h-1.02z"/>
<path fill="#f09181"  d="M422 382.3h1.02v126h-1.02z"/>
<path fill="#f09080"  d="M423 382.3h1.02v126h-1.02z"/>
<path fill="#f19686"  d="M424 382.3h1.02v126h-1.02zM426 382.3h1.02v126h-1.02z"/>
<path fill="#f19485"  d="M425 382.3h1.02v126h-1.02z"/>
<path fill="#f2a193"  d="M427 382.3h1.02v126h-1.02z"/>
<path fill="#f3a496"  d="M428 382.3h1.02v126h-1.02z"/>
<path fill="#e7988d"  d="M429 382.3h1.02v126h-1.02z"/>
<path fill="#f09182"  d="M430 382.3h1.02v126h-1.02z"/>
<path fill="#e49b91"  d="M431 382.3h1.02v126h-1.02z"/>
<path fill="#afcbd0"  d="M432 382.3h1.02v126h-1.02z"/>
<path fill="#bad2da"  d="M433 382.3h1.02v126h-1.02z"/>
<path fill="#abd9e1"  d="M434 382.3h1.02v126h-1.02z"/>
<path fill="#c0e3e9"  d="M435 382.3h1.02v126h-1.02z"/>
<path fill="#efa9a1"  d="M436 382.3h1.02v126h-1.02z"/>
<path fill="#f5cdc8"  d="M437 382.3h1.02v126h-1.02z"/>
<path fill="#f0b2aa"  d="M438 382.3h1.02v126h-1.02z"/>
<path fill="#93cddc"  d="M439 382.3h1.02v126h-1.02z"/>
<path fill="#9bc8d6"  d="M440 382.3h1.02v126h-1.02z"/>
<path fill="#a9c8d5"  d="M441 382.3h1.02v126h-1.02z"/>
<path fill="#8dc7d6"  d="M442 382.3h1.02v126h-1.02z"/>
<path fill="#a6d6e2"  d="M443 382.3h1.02v126h-1.02z"/>
<path fill="#d2d8e4"  d="M444 382.3h1.02v126h-1.02z"/>
<path fill="#e3b3b1"  d="M445 382.3h1.02v126h-1.02z"/>
<path fill="#e0d5dc"  d="M446 382.3h1.02v126h-1.02z"/>
<path fill="#f0ecef"  d="M447 382.3h1.02v126h-1.02z"/>
<path fill="#cbe1ee"  d="M448 382.3h1.02v126h-1.02z"/>
<path fill="#e8f1f6"  d="M449 382.3h1.02v126h-1.02z"/>
<path fill="#d8dde5"  d="M450 382.3h1.02v126h-1.02z"/>
<path fill="#c2ddec"  d="M451 382.3h1.02v126h-1.02z"/>
<path fill="#e3eff4"  d="M452 382.3h1.02v126h-1.02z"/>
<path fill="#d8dce4"  d="M453 382.3h1.02v126h-1.02z"/>
<path fill="#c7e0ed"  d="M454 382.3h1.02v126h-1.02z"/>
<path fill="#cae1ee"  d="M455 382.3h1.02v126h-1.02z"/>
<path fill="#eb867c"  d="M456 382.3h1.02v126h-1.02z"/>
<path fill="#e9786c"  d="M457 382.3h1.02v126h-1.02z"/>
<path fill="#e87467"  d="M458 382.3h1.02v126h-1.02z"/>
<path fill="#e87468"  d="M459 382.3h1.02v126h-1.02z"/>
<path fill="#e5827a"  d="M460 382.3h1.02v126h-1.02z"/>
<path fill="#e77266"  d="M461 382.3h1.02v126h-1.02z"/>
<path fill="#e77367"  d="M462 382.3h1.02v126h-1.02z"/>
<path fill="#ed8f86"  d="M463 382.3h1.02v126h-1.02z"/>
<path fill="#e67c72"  d="M464 382.3h1.02v126h-1.02z"/>
<path fill="#efe2e7"  d="M465 382.3h1.02v126h-1.02z"/>
<path fill="#eae2e8"  d="M466 382.3h1.02v126h-1.02z"/>
<path fill="#e9e2e8"  d="M467 382.3h1.02v126h-1.02z"/>
<path fill="#f1e5e9"  d="M468 382.3h1.02v126h-1.02z"/>
<path fill="#5398cc"  d="M469 382.3h1.02v126h-1.02z"/>
<path fill="#4b94ca"  d="M470 382.3h1.02v126h-1.02z"/>
<path fill="#2779b9"  d="M471 382.3h1.02v126h-1.02z"/>
<path fill="#5399cc"  d="M472 382.3h1.02v126h-1.02z"/>
<path fill="#4691c8"  d="M473 382.3h1.02v126h-1.02z"/>
<path fill="#1a68a6"  d="M474 382.3h1.02v126h-1.02zM477 382.3h1.02v126h-1.02z"/>
<path fill="#4788b9"  d="M475 382.3h1.02v126h-1.02z"/>
<path fill="#2672ad"  d="M476 382.3h1.02v126h-1.02z"/>
<path fill="#1f6daa"  d="M478 382.3h1.02v126h-1.02z"/>
<path fill="#1a69a7"  d="M479 382.3h0.62v126h-0.62z"/>
<rect x="269.2" y="392" width="3.4" height="116.3" fill="#2a90c8" />
<rect x="286" y="416.3" width="3.4" height="92" fill="#2a8ec8" />
<rect x="325.8" y="417" width="2.7" height="91.3" fill="#3090c8" />
<rect x="325.8" y="436.5" width="9.4" height="71.8" fill="#3090c8" />
<rect x="389.8" y="436.5" width="6.7" height="71.8" fill="#ef8068" />
<rect x="420.7" y="409" width="11.5" height="7.3" fill="#3aa0c0" />
<rect x="256" y="392" width="12.5" height="1.6" fill="#a8c0b0" />
<rect x="241" y="482" width="2.6" height="26.3" fill="#3a9ad0" />
<rect x="277.3" y="431" width="7.7" height="5.5" fill="#a8d0e8" />
<rect x="245.5" y="452" width="2.8" height="32" fill="#c83a3a" />
<defs><pattern id="atT" patternUnits="userSpaceOnUse" x="0" y="0" width="59" height="41"><path fill="#c83a3a" opacity="1.0" d="M35 38.05h1v0.6h-1zM5.42 38.7h1v0.8h-1zM19.02 40.88h2v0.8h-2zM4.09 34.28h0.8v0.6h-0.8zM19.06 40.8h2v1h-2zM50.82 13.6h1v0.8h-1zM58.08 40.43h0.8v0.8h-0.8zM9.68 18.95h0.8v0.8h-0.8zM44.72 35.63h1v1h-1zM36.46 9.29h2v0.8h-2zM41.7 26.61h2v0.8h-2zM26.55 34.79h2v1h-2zM36.94 13.54h1v0.6h-1zM48.12 14.98h1.5v0.8h-1.5zM12.42 8.52h0.8v0.8h-0.8zM27.08 19.27h1v1h-1zM9.5 30.32h0.8v0.8h-0.8zM41.55 23.38h0.8v0.8h-0.8zM47.73 8.13h0.8v0.8h-0.8zM47.44 10.78h1.5v0.8h-1.5zM18.2 21.12h0.8v0.8h-0.8zM52.71 18.24h1.5v1h-1.5zM22.4 2.53h0.8v0.6h-0.8zM49.36 28.59h0.8v0.8h-0.8zM47.25 20.75h0.8v0.6h-0.8zM31.81 9.02h1v0.8h-1zM14.51 9.57h1v0.8h-1zM7.55 32.67h1.5v1h-1.5zM58.96 12.57h2v0.8h-2zM-0.04 12.57h2v0.8h-2zM19.8 29.7h1v1h-1zM14.42 0.01h0.8v0.6h-0.8zM51.53 14.75h2v0.8h-2zM56.34 4.71h1.5v0.6h-1.5zM3.06 21.33h2v1h-2zM30.23 20.09h1v0.8h-1zM32.32 11.16h1.5v0.8h-1.5zM17.17 6.89h2v0.6h-2zM0.56 11.73h2v1h-2zM52.85 38.06h2v0.8h-2zM51.55 40.68h1v1h-1zM1.22 27.96h1v0.6h-1zM16.06 25.52h0.8v0.6h-0.8zM6.5 20.64h2v0.6h-2zM50.26 12.72h0.8v0.8h-0.8zM15.54 33.82h1v0.8h-1zM42.81 16.5h1v0.6h-1zM23.86 33.52h2v0.6h-2zM50.8 5.47h1.5v0.8h-1.5zM16.56 0.23h1v0.8h-1zM38.5 39.92h1.5v1h-1.5zM35.92 12.75h1v0.6h-1zM27.23 20.33h0.8v1h-0.8zM5.05 33.99h1v0.6h-1zM8.82 20.04h0.8v0.6h-0.8zM57.92 5.48h1v0.8h-1zM31.6 11.16h2v0.8h-2zM1.1 22.1h2v0.6h-2zM36.98 12.49h2v0.8h-2zM31.31 5.52h1.5v0.8h-1.5zM14.01 10.5h1.5v0.6h-1.5zM48.58 16.85h1.5v0.6h-1.5zM40.63 30.44h1v0.8h-1zM29.57 31.66h1v1h-1zM16.28 5.88h2v1h-2zM49.63 5.89h0.8v1h-0.8zM2.22 11.55h1v0.8h-1zM47.48 40.59h1v0.6h-1zM57.92 33.9h2v0.8h-2zM-1.08 33.9h2v0.8h-2zM11.44 40.42h1v0.8h-1zM49.69 13.28h1v0.8h-1zM44.75 5.87h1v0.6h-1zM18.45 9.92h1v0.8h-1zM30.33 23.71h1v1h-1zM18.06 31.32h1.5v0.8h-1.5zM22.01 6.04h0.8v1h-0.8zM20.37 15.72h0.8v0.6h-0.8zM25.27 6.16h2v0.6h-2zM41.58 5.03h1v1h-1zM31.74 21.14h1v0.8h-1zM3.28 8.35h1.5v1h-1.5zM43.6 5.01h2v0.6h-2zM13.49 11.09h2v1h-2zM51.85 4.56h1v0.6h-1zM45.76 29.19h2v0.6h-2zM39.33 40.89h1v0.6h-1zM25.72 32.94h1v1h-1zM38.83 37.97h0.8v0.8h-0.8zM1.22 7.32h1.5v0.6h-1.5zM0.27 4.39h0.8v0.8h-0.8zM31.32 10.41h0.8v0.6h-0.8zM47.86 13.94h2v0.6h-2zM16.74 31.03h1v0.8h-1zM23.9 35.23h1.5v0.6h-1.5zM40.09 4.47h2v0.8h-2zM46.34 34.74h1v0.8h-1zM34.61 14.25h1.5v0.6h-1.5zM36.63 39.63h2v1h-2zM55.04 4.34h2v1h-2zM29.27 25.98h2v0.6h-2zM22.95 33.01h1.5v0.8h-1.5zM4.53 14.57h2v0.6h-2zM18.39 31.22h1.5v0.6h-1.5zM44.35 17.47h2v0.6h-2zM49.58 2.1h1.5v1h-1.5zM18.45 39.08h2v0.8h-2zM7.63 6.49h0.8v1h-0.8zM45.63 36.85h1v1h-1zM50.38 32.41h1.5v1h-1.5zM13.34 32.03h1.5v0.6h-1.5zM42.44 20.53h2v0.8h-2zM50.03 2.57h2v1h-2zM55.81 35.24h1v1h-1zM14.57 6.11h0.8v1h-0.8zM52.82 24.24h1v0.6h-1zM12.54 15.69h2v1h-2zM49.47 4.87h1.5v0.6h-1.5zM30.21 10.73h1v0.6h-1zM54.73 9.21h0.8v0.6h-0.8zM31.59 5.99h0.8v0.8h-0.8zM42.43 35.84h1v0.6h-1zM5.04 11.21h1.5v1h-1.5zM38.28 0.9h0.8v0.8h-0.8zM27.37 31.04h0.8v0.6h-0.8zM29.13 17.04h1.5v0.8h-1.5zM48.84 32.65h1.5v0.6h-1.5zM1.7 14.05h0.8v0.8h-0.8zM42.62 40.97h1.5v0.8h-1.5zM35.16 6.9h1v0.6h-1zM50.81 21.43h2v1h-2zM39.3 10.55h2v1h-2zM20.96 39.98h1v0.6h-1zM37.91 37.67h0.8v0.6h-0.8zM16.03 39.43h1.5v1h-1.5zM56.94 18.29h1.5v0.6h-1.5zM22.11 16.65h0.8v1h-0.8zM31.43 2.56h2v0.8h-2zM39.99 21.52h1v0.6h-1zM3.23 23.07h1v1h-1zM48.61 40.58h1.5v0.6h-1.5zM7.67 26.71h1.5v0.8h-1.5zM50.39 4.5h0.8v0.6h-0.8zM9.59 6.88h0.8v1h-0.8zM10.95 13.93h2v1h-2zM10.47 13.88h1v1h-1zM18.27 33.79h2v0.6h-2zM10.44 3.49h0.8v0.6h-0.8zM24.32 1.72h1.5v0.6h-1.5zM20.51 33.05h0.8v0.6h-0.8zM46.64 3.84h2v0.6h-2zM26.48 11.58h2v1h-2zM28.63 17.06h2v1h-2zM51.34 32.6h0.8v0.8h-0.8zM51.8 0.89h2v0.6h-2zM24.3 39.25h0.8v0.8h-0.8zM57.92 40.7h2v0.8h-2zM-1.08 40.7h2v0.8h-2zM49.58 35.61h2v1h-2zM57.1 31.66h2v0.6h-2zM-1.9 31.66h2v0.6h-2zM40.08 10.66h2v0.8h-2zM4.55 16.2h1v1h-1zM48.15 4.98h0.8v0.6h-0.8zM15.26 22.35h1v0.6h-1z"/><path fill="#ffffff" opacity="1.0" d="M54.15 20.75h0.8v0.8h-0.8zM8.44 17.15h2v0.8h-2zM17.6 11.1h0.8v1h-0.8zM35.81 1.65h1v0.8h-1zM19.77 0.29h1.5v1h-1.5zM0.51 22.92h2v0.8h-2zM10.99 11.51h1.5v0.8h-1.5zM2.56 11.82h2v0.8h-2zM3.59 2.25h2v1h-2zM11.66 25.04h2v0.8h-2zM28.9 10.88h1.5v0.6h-1.5zM55.57 5.13h1.5v0.6h-1.5zM25.35 36.96h2v0.6h-2zM21.93 31.75h2v1h-2zM18.58 13.04h1.5v0.8h-1.5zM18.22 23.08h1.5v0.6h-1.5zM41.64 31.1h1.5v0.8h-1.5zM21.21 7.36h1.5v1h-1.5zM7.95 12.18h1v0.8h-1zM24.46 2.49h0.8v0.6h-0.8zM43.68 1.02h0.8v0.8h-0.8zM29.58 22.54h0.8v1h-0.8zM49.51 13.41h1.5v0.8h-1.5zM41.53 11.43h2v0.8h-2zM45.23 19.7h0.8v1h-0.8zM54.06 16h0.8v0.6h-0.8zM11.25 14.38h1v1h-1zM58.32 8.9h2v0.6h-2zM-0.68 8.9h2v0.6h-2zM55.52 21.35h1.5v1h-1.5zM40.87 6.67h0.8v0.8h-0.8zM55.78 1.43h1.5v0.6h-1.5zM11.33 18.77h1v0.8h-1zM15.73 37.18h2v0.6h-2zM7.72 23.69h0.8v0.6h-0.8zM38.26 9.51h2v0.8h-2zM19.53 7.14h1v1h-1zM26.23 4.98h1v1h-1zM14.02 23.28h1v0.6h-1zM30.7 35.81h0.8v0.6h-0.8zM47.36 0.56h0.8v0.8h-0.8zM20.2 37.23h1v1h-1zM51.25 2.5h2v0.8h-2zM29.58 38.84h2v1h-2zM46.85 4.94h2v0.8h-2zM5.48 6.95h1v1h-1zM46.55 34.04h2v0.8h-2zM41.06 40.82h0.8v0.8h-0.8zM33.21 38.86h1.5v0.8h-1.5zM36.05 38.52h2v1h-2zM16.38 10.34h1v1h-1zM42.09 0.32h1v0.6h-1zM31.4 34.32h0.8v1h-0.8zM4.24 30.96h0.8v0.6h-0.8zM45.56 40.39h1.5v1h-1.5zM36.73 37.37h2v1h-2zM54.93 15.81h1.5v0.6h-1.5zM39.63 34.49h1v1h-1zM37.58 27.28h2v1h-2zM19.02 2.64h0.8v1h-0.8zM10.94 40.66h0.8v0.6h-0.8zM6.69 32.34h2v0.6h-2zM38.93 10.47h1v0.6h-1zM44.34 30.01h2v0.6h-2zM15.04 38.87h1v0.6h-1zM34.14 29.13h1.5v0.8h-1.5zM33.38 31.08h1v0.6h-1zM27.92 12.8h1v1h-1zM3.12 24.31h1v1h-1zM48.83 9.69h1.5v0.8h-1.5zM11.36 35.25h2v0.6h-2zM32.21 28.01h0.8v0.8h-0.8zM52.34 17.42h1.5v0.6h-1.5zM8.73 3.74h2v0.6h-2zM29.41 6.74h1v0.8h-1zM34.85 39.11h1.5v0.8h-1.5zM23.12 9.07h1v1h-1zM7.07 10.32h1.5v0.6h-1.5zM36.66 21.61h1.5v0.8h-1.5zM11.96 3.83h0.8v1h-0.8zM32.63 21.93h1v0.8h-1zM48.35 5.33h1.5v0.8h-1.5zM28.85 14.4h0.8v0.8h-0.8zM7.31 11.06h1v0.8h-1zM24.9 26.53h1v0.6h-1zM30.87 22.84h2v1h-2zM29.72 37.24h1.5v0.8h-1.5zM35.84 4.94h1v1h-1zM44.57 7.41h2v0.6h-2zM9.31 2.36h1v0.8h-1zM32.35 8.72h2v1h-2zM50.43 18.45h1v0.6h-1zM55.95 40.75h0.8v0.6h-0.8zM53.04 12.74h1.5v0.6h-1.5zM20.44 37.58h1v1h-1zM28.66 29.11h1.5v1h-1.5zM29.8 5.3h2v1h-2zM44.26 7.08h1.5v0.6h-1.5zM46.57 38.2h2v1h-2zM2.77 16.46h2v1h-2zM6.09 27.54h1v1h-1zM54.85 24.3h1.5v0.8h-1.5zM49.13 39.69h1.5v0.8h-1.5zM36.93 5.75h0.8v1h-0.8zM7.06 19.34h1v0.6h-1zM40.63 25.42h2v1h-2zM12.41 2.53h1v0.8h-1zM8.46 36.25h1.5v0.6h-1.5zM55.1 32.59h1.5v0.8h-1.5zM12.19 25.91h2v0.8h-2zM34.93 29.07h0.8v1h-0.8zM23.32 23.59h1v0.6h-1zM12.93 12.31h2v1h-2zM6.24 12.04h2v0.8h-2zM2.18 34.77h1v1h-1zM33.97 39.73h2v1h-2zM47.98 10.75h1v0.6h-1zM34.5 14.88h1.5v1h-1.5zM47.49 21.24h1v1h-1zM44.42 18.62h0.8v1h-0.8zM53.26 0.25h0.8v0.8h-0.8zM33.69 31.56h1v0.6h-1zM6.87 7.09h1.5v0.8h-1.5zM47.04 19.84h1v0.6h-1zM42.74 19.15h1.5v1h-1.5zM31.44 11.28h1.5v1h-1.5zM34.8 14.76h1.5v0.8h-1.5zM33.82 7.57h1v0.8h-1zM22.91 20.35h1v0.6h-1zM27.32 40.33h2v1h-2zM20.56 38.47h0.8v0.8h-0.8zM21.45 30.49h2v1h-2zM35.9 9.75h0.8v1h-0.8zM21.32 14.58h2v1h-2zM27.03 14.39h1v1h-1zM17.36 10.74h1v0.8h-1zM37.75 14.61h0.8v1h-0.8zM29.29 13.65h1.5v1h-1.5zM4.6 10.75h1v0.8h-1zM38.62 14.28h2v0.6h-2zM18.24 17.06h2v1h-2zM48.17 8.02h1v1h-1zM24.76 19.26h1.5v1h-1.5zM30.17 38.85h0.8v0.8h-0.8zM23.58 4.69h0.8v1h-0.8zM32.74 3.01h1.5v0.8h-1.5zM40 1.48h2v1h-2zM20.48 26.13h2v0.6h-2zM54.69 16.8h2v1h-2zM26.02 12.27h2v0.8h-2zM42.41 7.58h1.5v0.8h-1.5zM12.46 11.56h0.8v1h-0.8zM8.69 4.35h2v0.6h-2zM29.57 31.8h1v0.6h-1zM48.24 31.14h2v0.6h-2zM11.21 30.7h0.8v0.6h-0.8zM54.47 28.15h2v0.8h-2zM51.2 27.5h0.8v1h-0.8zM21.14 34.52h1v0.8h-1zM47.11 8.93h0.8v0.8h-0.8zM16.43 11.03h1.5v0.6h-1.5zM34.68 25.33h2v1h-2zM11.24 37.12h1.5v0.8h-1.5zM50.28 31.48h2v1h-2zM51.91 1.11h0.8v1h-0.8zM14.62 30.33h1.5v0.6h-1.5zM23.42 8.57h0.8v0.8h-0.8zM44.47 14.83h1v1h-1zM11.21 29.82h1v0.6h-1zM53.7 21.02h1.5v1h-1.5zM51.86 9.59h2v0.8h-2zM30.33 24.56h1.5v0.6h-1.5zM23.54 29.13h1.5v0.8h-1.5zM16.72 35.74h2v0.8h-2zM50.04 34.82h2v1h-2zM10.2 2.74h0.8v1h-0.8zM2.7 8.94h1v0.6h-1zM7.26 25.7h1v0.6h-1zM1.43 40.09h1v0.8h-1zM33.52 28.67h1.5v0.6h-1.5zM21.2 20.2h1v1h-1zM9.87 31.52h1.5v0.8h-1.5zM31.48 35.88h0.8v1h-0.8zM6.13 35.33h0.8v0.6h-0.8zM14.5 22.32h1.5v0.6h-1.5zM50.89 13.56h0.8v0.6h-0.8zM31.57 39.39h0.8v0.8h-0.8zM57.39 37.73h1v1h-1zM38.77 12.19h2v0.8h-2zM38.35 31.31h1.5v0.6h-1.5zM53.85 29.48h0.8v1h-0.8zM42.57 1.63h1.5v0.8h-1.5zM24.11 13.97h2v1h-2zM26.96 40.4h0.8v0.6h-0.8zM19.97 24.71h0.8v0.8h-0.8zM27.24 15.85h1v0.6h-1zM47.04 10.16h0.8v1h-0.8zM37.7 5.71h1v1h-1zM2.98 9.64h2v0.8h-2zM38.4 37.99h0.8v0.8h-0.8z"/><path fill="#4a9ac8" opacity="1.0" d="M27.97 17.57h0.8v0.6h-0.8zM12.52 7.4h1.5v0.8h-1.5zM1.17 0.84h1v1h-1zM56.6 4.73h1.5v0.6h-1.5zM38.25 24.92h0.8v1h-0.8zM42.46 0.38h1v1h-1zM41.54 19.1h0.8v0.6h-0.8zM4.63 33.45h1v1h-1zM1.04 21.1h1v0.8h-1zM3.71 28.42h1.5v0.8h-1.5zM9.72 26.17h1.5v0.8h-1.5zM49.83 7.44h2v0.6h-2zM44.1 40.97h1v0.6h-1zM6.75 17.75h0.8v0.8h-0.8zM14.28 37.83h2v0.6h-2zM0.9 35.53h2v0.6h-2zM0.68 38.52h0.8v0.6h-0.8zM17.94 19.35h2v0.8h-2zM19.28 0h1.5v0.8h-1.5zM34.89 15.96h2v0.6h-2zM20.28 27.21h0.8v1h-0.8zM28.7 35.12h0.8v0.8h-0.8zM53.53 1.63h1v0.8h-1zM41.92 17.03h1.5v1h-1.5zM32.71 32.47h0.8v0.6h-0.8zM31.53 27.65h0.8v0.8h-0.8zM2.91 27.69h2v1h-2zM45.02 26.52h1v0.6h-1zM0.62 35.66h2v0.8h-2zM16.38 7.13h1.5v1h-1.5zM30.51 37.63h1.5v0.6h-1.5zM21.88 37.41h0.8v0.8h-0.8zM16.77 36.86h1.5v1h-1.5zM1.56 23.54h2v0.6h-2zM16.1 0.67h0.8v0.8h-0.8zM50.52 1.65h2v1h-2zM37.31 13.95h2v0.8h-2zM15.49 17.3h1.5v0.8h-1.5zM8.96 36.15h0.8v1h-0.8zM0.58 12.42h0.8v0.6h-0.8zM52.9 0.87h2v0.6h-2zM53.6 2.66h1.5v0.6h-1.5zM22.61 3.26h1v1h-1zM12.71 38.76h1.5v0.8h-1.5zM17.08 1.46h1v0.8h-1zM44.99 21.51h1.5v1h-1.5zM26.11 30.2h1.5v1h-1.5zM41.86 27.73h1.5v1h-1.5zM48.05 2.92h1v0.8h-1zM57.75 21.53h2v1h-2zM-1.25 21.53h2v1h-2zM32.98 33.9h1v0.6h-1zM52.46 39.93h2v0.6h-2zM40.27 39.92h2v0.6h-2zM55.01 0.79h0.8v1h-0.8zM45.45 34.19h2v0.8h-2zM18.46 3.03h0.8v1h-0.8zM43.36 1.58h1v0.6h-1zM41.39 20.11h1.5v0.6h-1.5zM46.35 22.99h0.8v0.8h-0.8zM8.04 23.23h0.8v0.6h-0.8zM36.32 37.23h0.8v0.8h-0.8zM22.39 31.81h2v1h-2zM21.64 7.23h1v1h-1zM19.25 22.48h2v0.8h-2zM36.59 30.63h2v1h-2zM31.67 25.28h2v0.6h-2zM16.78 25.49h0.8v1h-0.8zM12.5 20.14h1v0.6h-1zM33.57 6.63h0.8v1h-0.8zM12.21 9.59h0.8v0.6h-0.8zM31.09 11.07h1v0.8h-1zM5.79 25.68h0.8v0.6h-0.8zM40.28 38.86h1v1h-1zM6.55 21.62h0.8v0.8h-0.8zM43.96 18.69h2v0.8h-2zM51.76 20.4h2v0.8h-2zM16.31 36.24h1v0.6h-1zM54.57 15.47h0.8v0.8h-0.8zM14.03 37.57h1v0.8h-1zM32.28 10.35h2v1h-2zM24.69 21.69h1v1h-1zM3.45 2.98h2v0.6h-2zM30.92 14.13h2v1h-2zM39.71 17.73h1v0.6h-1zM39.05 6.78h2v0.6h-2zM6.71 37.91h1.5v1h-1.5zM14.33 9.15h1v0.8h-1zM19.98 40.4h1.5v0.8h-1.5zM40.05 25.42h1v1h-1zM6.59 22.02h1.5v0.6h-1.5zM48.18 18.66h2v0.8h-2zM21.62 36.35h1v1h-1zM28.34 17.51h1.5v1h-1.5zM45.04 15.24h1.5v0.6h-1.5zM52.03 24.16h0.8v0.6h-0.8zM15.07 33.15h2v1h-2zM33.74 37.35h0.8v0.6h-0.8zM47.75 0h1.5v0.6h-1.5zM15.78 1.9h2v0.6h-2zM14.36 8.66h1v0.6h-1zM20.83 15.17h0.8v0.8h-0.8zM41.84 30.74h1v1h-1zM9.66 26.98h1v1h-1zM51.39 22.19h1.5v0.6h-1.5z"/><path fill="#f0a090" opacity="1.0" d="M31.02 13.27h1v0.6h-1zM18.93 19.07h2v0.6h-2zM49.63 34.34h1v0.8h-1zM6.51 15.14h0.8v1h-0.8zM18.72 27.24h2v1h-2zM22.97 2.57h1.5v1h-1.5zM0.11 27.26h1.5v1h-1.5zM23.9 35.65h1v1h-1zM31.88 30.03h2v1h-2zM14.59 40.25h0.8v0.6h-0.8zM45.72 16.39h0.8v0.8h-0.8zM51.01 8.39h1v1h-1zM38.87 15h1.5v0.6h-1.5zM51.39 6.86h2v1h-2zM48.2 34.56h1v0.8h-1zM48.54 8.2h1v0.6h-1zM25.13 9.75h1v1h-1zM36.88 15.92h1.5v0.8h-1.5zM30.26 25.86h2v1h-2zM22.83 38.32h2v1h-2zM26.4 26.06h2v1h-2zM20.58 0.98h1v1h-1zM57.23 14.12h1.5v1h-1.5zM22.35 5.87h1.5v0.8h-1.5zM8.72 10.17h2v0.6h-2zM46.87 18.63h1.5v0.6h-1.5zM49.56 6.56h2v0.8h-2zM48.1 7.91h0.8v0.6h-0.8zM15.48 35.8h2v1h-2zM44.28 7.65h0.8v1h-0.8zM41.68 30.41h1v1h-1zM23.32 38.55h1.5v0.8h-1.5zM22.63 19.02h0.8v1h-0.8zM2.47 14.5h1.5v0.8h-1.5zM43.39 30.21h0.8v1h-0.8zM10.77 15.41h1v0.6h-1zM34.86 25.5h1.5v0.8h-1.5zM46.31 34.93h1.5v0.6h-1.5zM15.8 21h1v0.8h-1zM49.83 15.65h1.5v0.6h-1.5zM9.29 23.1h1.5v1h-1.5zM12.9 39.45h2v1h-2zM24.77 40.27h1.5v0.8h-1.5zM54.74 31.67h1v0.6h-1zM56.65 38.55h0.8v0.8h-0.8zM54.98 39.42h1.5v1h-1.5zM2.21 39.96h1.5v0.8h-1.5zM58.92 23.19h1.5v0.6h-1.5zM-0.08 23.19h1.5v0.6h-1.5zM22.97 31.04h1.5v0.6h-1.5zM35.91 12.31h1.5v0.6h-1.5zM26 8.58h1v0.8h-1zM52.19 31.55h0.8v0.6h-0.8zM49.07 18.28h1.5v0.6h-1.5zM46.5 13.75h1v0.8h-1zM36.23 7.19h1v0.6h-1zM15.95 17.3h1v1h-1zM16.47 38.51h2v0.8h-2zM35.69 0.33h1v0.6h-1zM45.01 24.55h0.8v1h-0.8zM24.27 24.13h0.8v1h-0.8zM40.01 5.92h1v0.6h-1zM20.25 5.29h2v0.8h-2zM29.35 15.45h1v1h-1zM32.69 27.77h1.5v0.6h-1.5zM20.33 30.23h2v0.8h-2zM2.12 19.85h0.8v0.8h-0.8zM5.37 27.73h1v0.6h-1zM22.99 31.16h0.8v0.8h-0.8zM23.72 6.35h1.5v1h-1.5zM3.26 20.02h1v0.6h-1zM20.78 34.29h2v1h-2zM51.21 12.43h2v0.8h-2zM30.63 30.27h1.5v0.6h-1.5zM15.41 18.53h1v0.8h-1zM56.16 3.58h2v1h-2zM11.11 32.84h0.8v1h-0.8zM21.49 31.59h0.8v0.8h-0.8zM31.79 24h1.5v1h-1.5zM45.47 16.23h2v0.8h-2zM19.4 7.36h2v1h-2zM38.04 33.57h0.8v0.6h-0.8zM28.71 0.57h1v0.8h-1zM56.84 0.66h2v1h-2zM19.54 34.61h1v0.8h-1zM49.52 31.06h1v0.6h-1zM14.37 34.09h1.5v0.8h-1.5zM36.51 35.16h1v0.6h-1zM56.87 7.36h0.8v1h-0.8zM18.19 32.64h1.5v0.6h-1.5zM6.97 27.65h1.5v0.8h-1.5zM35.31 11.1h1.5v0.6h-1.5zM55.98 28.9h0.8v1h-0.8zM30.12 25.06h2v0.8h-2zM41.25 32.54h2v0.6h-2zM54.96 29.65h1.5v1h-1.5zM26.22 32.7h2v0.6h-2z"/></pattern></defs>
<rect x="218.5" y="382.3" width="261.1" height="126" fill="url(#atT)" opacity="0.32"/>
<line x1="218.5" y1="385.8" x2="479.6" y2="385.8" stroke="#6a6470" stroke-width="0.5" opacity="0.45"/>
<line x1="218.5" y1="391.8" x2="479.6" y2="391.8" stroke="#6a6470" stroke-width="0.5" opacity="0.45"/>
<line x1="218.5" y1="410" x2="479.6" y2="410" stroke="#6a6470" stroke-width="0.5" opacity="0.45"/>
<line x1="218.5" y1="418" x2="479.6" y2="418" stroke="#6a6470" stroke-width="0.5" opacity="0.45"/>
<line x1="218.5" y1="432" x2="479.6" y2="432" stroke="#6a6470" stroke-width="0.5" opacity="0.45"/>
<line x1="218.5" y1="437.3" x2="479.6" y2="437.3" stroke="#6a6470" stroke-width="0.5" opacity="0.45"/>
<line x1="218.5" y1="455.6" x2="479.6" y2="455.6" stroke="#6a6470" stroke-width="0.5" opacity="0.45"/>
<line x1="218.5" y1="482.6" x2="479.6" y2="482.6" stroke="#6a6470" stroke-width="0.5" opacity="0.45"/>
<text x="481.2" y="261.3" font-size="6.6" text-anchor="start" fill="#333" font-weight="normal" textLength="24" lengthAdjust="spacingAndGlyphs"  style="">Modified</text>
<text x="481.2" y="269.2" font-size="6.6" text-anchor="start" fill="#333" font-weight="normal" textLength="30.5" lengthAdjust="spacingAndGlyphs"  style="">expression</text>
<defs><linearGradient id="g1" x1="0" y1="0" x2="0" y2="1"><stop offset="0" stop-color="#a50f26"/><stop offset="0.2" stop-color="#e0383c"/><stop offset="0.35" stop-color="#f4a070"/><stop offset="0.5" stop-color="#f8f4f0"/><stop offset="0.65" stop-color="#9ad4e8"/><stop offset="0.8" stop-color="#2a8cc0"/><stop offset="1" stop-color="#143e78"/></linearGradient><linearGradient id="g2" x1="0" y1="0" x2="0" y2="1"><stop offset="0" stop-color="#a50f26"/><stop offset="0.25" stop-color="#e8605a"/><stop offset="0.5" stop-color="#f8f4f4"/><stop offset="0.75" stop-color="#5aa8d8"/><stop offset="1" stop-color="#1a5aa0"/></linearGradient></defs>
<rect x="481.3" y="275" width="6.7" height="30.2" fill="url(#g1)" />
<line x1="488" y1="278" x2="490.5" y2="278" stroke="#333" stroke-width="0.7" />
<text x="493.8" y="280.1" font-size="5.9" text-anchor="start" fill="#333" font-weight="normal"  style="">1.10</text>
<line x1="488" y1="283.98" x2="490.5" y2="283.98" stroke="#333" stroke-width="0.7" />
<text x="493.8" y="286.08" font-size="5.9" text-anchor="start" fill="#333" font-weight="normal"  style="">1.05</text>
<line x1="488" y1="289.96" x2="490.5" y2="289.96" stroke="#333" stroke-width="0.7" />
<text x="493.8" y="292.06" font-size="5.9" text-anchor="start" fill="#333" font-weight="normal"  style="">1.00</text>
<line x1="488" y1="295.94" x2="490.5" y2="295.94" stroke="#333" stroke-width="0.7" />
<text x="493.8" y="298.04" font-size="5.9" text-anchor="start" fill="#333" font-weight="normal"  style="">0.95</text>
<line x1="488" y1="301.92" x2="490.5" y2="301.92" stroke="#333" stroke-width="0.7" />
<text x="493.8" y="304.02" font-size="5.9" text-anchor="start" fill="#333" font-weight="normal"  style="">0.90</text>
<text x="481" y="389.6" font-size="6.6" text-anchor="start" fill="#333" font-weight="normal" textLength="21" lengthAdjust="spacingAndGlyphs"  style="">Z score</text>
<rect x="481.2" y="393.3" width="7.8" height="29.8" fill="url(#g2)" />
<line x1="489" y1="396.2" x2="491.5" y2="396.2" stroke="#333" stroke-width="0.7" />
<text x="492.6" y="398.3" font-size="5.9" text-anchor="start" fill="#333" font-weight="normal"  style="">3</text>
<line x1="489" y1="401.9" x2="491.5" y2="401.9" stroke="#333" stroke-width="0.7" />
<text x="492.6" y="404" font-size="5.9" text-anchor="start" fill="#333" font-weight="normal"  style="">2</text>
<line x1="489" y1="408" x2="491.5" y2="408" stroke="#333" stroke-width="0.7" />
<text x="492.6" y="410.1" font-size="5.9" text-anchor="start" fill="#333" font-weight="normal"  style="">0</text>
<line x1="489" y1="414.3" x2="491.5" y2="414.3" stroke="#333" stroke-width="0.7" />
<text x="492.6" y="416.4" font-size="5.9" text-anchor="start" fill="#333" font-weight="normal"  style="">−2</text>
<line x1="489" y1="420" x2="491.5" y2="420" stroke="#333" stroke-width="0.7" />
<text x="492.6" y="422.1" font-size="5.9" text-anchor="start" fill="#333" font-weight="normal"  style="">−3</text>
<text transform="translate(186.3,323) rotate(-90)" font-size="6.6" fill="#333" style="font-family:"Liberation Sans", sans-serif" textLength="31" lengthAdjust="spacingAndGlyphs">scRNA-seq</text>
<text transform="translate(186.3,464) rotate(-90)" font-size="6.6" fill="#333" style="font-family:"Liberation Sans", sans-serif" textLength="34" lengthAdjust="spacingAndGlyphs">scATAC-seq</text>
<text x="7" y="392.6" font-size="10.5" text-anchor="start" fill="#111" font-weight="bold" stroke="#111" stroke-width="0.35" style="">D</text>
<text x="42.6" y="404.4" font-size="6.6" text-anchor="start" fill="#333" font-weight="normal" textLength="20" lengthAdjust="spacingAndGlyphs"  style="">RRMM</text>
<text x="42.6" y="412" font-size="6.6" text-anchor="start" fill="#333" font-weight="normal" textLength="24.5" lengthAdjust="spacingAndGlyphs"  style="">patients</text>
<circle cx="72.2" cy="408.2" r="3.4" fill="#d8202a"/>
<text x="72.2" y="409.9" font-size="4.4" text-anchor="middle" fill="#f0a0a0" style="font-family:"Liberation Sans", sans-serif">1</text>
<circle cx="79.07" cy="408.2" r="3.4" fill="#d07020"/>
<text x="79.07" y="409.9" font-size="4.4" text-anchor="middle" fill="#804010" style="font-family:"Liberation Sans", sans-serif">2</text>
<circle cx="85.94" cy="408.2" r="3.4" fill="#ecd420"/>
<text x="85.94" y="409.9" font-size="4.4" text-anchor="middle" fill="#f8f0a0" style="font-family:"Liberation Sans", sans-serif">3</text>
<circle cx="92.81" cy="408.2" r="3.4" fill="#283080"/>
<text x="92.81" y="409.9" font-size="4.4" text-anchor="middle" fill="#ffffff" style="font-family:"Liberation Sans", sans-serif">5</text>
<circle cx="99.68" cy="408.2" r="3.4" fill="#903090"/>
<text x="99.68" y="409.9" font-size="4.4" text-anchor="middle" fill="#f0d0f0" style="font-family:"Liberation Sans", sans-serif">6</text>
<circle cx="106.55" cy="408.2" r="3.4" fill="#8098c8"/>
<text x="106.55" y="409.9" font-size="4.4" text-anchor="middle" fill="#d8e0f8" style="font-family:"Liberation Sans", sans-serif">7</text>
<circle cx="113.42" cy="408.2" r="3.4" fill="#c070a8"/>
<text x="113.42" y="409.9" font-size="4.4" text-anchor="middle" fill="#f0d0e8" style="font-family:"Liberation Sans", sans-serif">9</text>
<circle cx="120.29" cy="408.2" r="3.4" fill="#d8a060"/>
<text x="120.29" y="409.9" font-size="3.8" text-anchor="middle" fill="#805020" style="font-family:"Liberation Sans", sans-serif">10</text>
<circle cx="127.16" cy="408.2" r="3.4" fill="#60b0c8"/>
<text x="127.16" y="409.9" font-size="3.8" text-anchor="middle" fill="#205870" style="font-family:"Liberation Sans", sans-serif">15</text>
<circle cx="134.03" cy="408.2" r="3.4" fill="#d06070"/>
<text x="134.03" y="409.9" font-size="3.8" text-anchor="middle" fill="#f8c0c8" style="font-family:"Liberation Sans", sans-serif">17</text>
<circle cx="140.9" cy="408.2" r="3.4" fill="#8070b0"/>
<text x="140.9" y="409.9" font-size="3.8" text-anchor="middle" fill="#e0d8f8" style="font-family:"Liberation Sans", sans-serif">18</text>
<circle cx="147.77" cy="408.2" r="3.4" fill="#d04020"/>
<text x="147.77" y="409.9" font-size="3.8" text-anchor="middle" fill="#f8c0b0" style="font-family:"Liberation Sans", sans-serif">19</text>
<circle cx="154.64" cy="408.2" r="3.4" fill="#107080"/>
<text x="154.64" y="409.9" font-size="3.8" text-anchor="middle" fill="#40c0b0" style="font-family:"Liberation Sans", sans-serif">20</text>
<circle cx="161.51" cy="408.2" r="3.4" fill="#209050"/>
<text x="161.51" y="409.9" font-size="3.8" text-anchor="middle" fill="#c0f0c8" style="font-family:"Liberation Sans", sans-serif">21</text>
<line x1="47.4" y1="413.8" x2="47.4" y2="494.8" stroke="#333" stroke-width="0.8" />
<line x1="47.2" y1="494.8" x2="163" y2="494.8" stroke="#333" stroke-width="0.8" />
<line x1="45.4" y1="490.2" x2="47.4" y2="490.2" stroke="#333" stroke-width="0.8" />
<text x="42.4" y="492.7" font-size="7" text-anchor="end" fill="#333" font-weight="normal"  style="">0</text>
<line x1="52.4" y1="494.8" x2="52.4" y2="496.8" stroke="#333" stroke-width="0.8" />
<text x="52.4" y="506.8" font-size="7" text-anchor="middle" fill="#333" font-weight="normal"  style="">0</text>
<line x1="45.4" y1="472.7" x2="47.4" y2="472.7" stroke="#333" stroke-width="0.8" />
<text x="42.4" y="475.2" font-size="7" text-anchor="end" fill="#333" font-weight="normal"  style="">25</text>
<line x1="79.83" y1="494.8" x2="79.83" y2="496.8" stroke="#333" stroke-width="0.8" />
<text x="79.83" y="506.8" font-size="7" text-anchor="middle" fill="#333" font-weight="normal"  style="">25</text>
<line x1="45.4" y1="455.2" x2="47.4" y2="455.2" stroke="#333" stroke-width="0.8" />
<text x="42.4" y="457.7" font-size="7" text-anchor="end" fill="#333" font-weight="normal"  style="">50</text>
<line x1="107.25" y1="494.8" x2="107.25" y2="496.8" stroke="#333" stroke-width="0.8" />
<text x="107.25" y="506.8" font-size="7" text-anchor="middle" fill="#333" font-weight="normal"  style="">50</text>
<line x1="45.4" y1="437.7" x2="47.4" y2="437.7" stroke="#333" stroke-width="0.8" />
<text x="42.4" y="440.2" font-size="7" text-anchor="end" fill="#333" font-weight="normal"  style="">75</text>
<line x1="134.67" y1="494.8" x2="134.67" y2="496.8" stroke="#333" stroke-width="0.8" />
<text x="134.67" y="506.8" font-size="7" text-anchor="middle" fill="#333" font-weight="normal"  style="">75</text>
<line x1="45.4" y1="420.2" x2="47.4" y2="420.2" stroke="#333" stroke-width="0.8" />
<text x="42.4" y="422.7" font-size="7" text-anchor="end" fill="#333" font-weight="normal"  style="">100</text>
<line x1="162.1" y1="494.8" x2="162.1" y2="496.8" stroke="#333" stroke-width="0.8" />
<text x="162.1" y="506.8" font-size="7" text-anchor="middle" fill="#333" font-weight="normal"  style="">100</text>
<text x="107.5" y="517.8" font-size="6.6" text-anchor="middle" fill="#333" font-weight="normal" textLength="104.5" lengthAdjust="spacingAndGlyphs"  style="">Subclone frequency (%) scRNA-seq</text>
<text transform="translate(17.8,453.5) rotate(-90)" font-size="6.6" text-anchor="middle" fill="#333" style="font-family:"Liberation Sans", sans-serif" textLength="56" lengthAdjust="spacingAndGlyphs">Subclone frequency</text>
<text transform="translate(26,453.5) rotate(-90)" font-size="6.6" text-anchor="middle" fill="#333" style="font-family:"Liberation Sans", sans-serif" textLength="46" lengthAdjust="spacingAndGlyphs">(%) scATAC-seq</text>
<path d="M52.5,492 L163.5,421.5 L163.5,418 L52.5,487.5 Z" fill="#dcdcdc" opacity="0.7"/>
<rect x="133" y="423.5" width="1.8" height="1.8" fill="#7ea6d8" opacity="0.9"/>
<rect x="142.1" y="427.9" width="1.8" height="1.8" fill="#f6c417" opacity="0.9"/>
<rect x="119.8" y="432.7" width="1.8" height="1.8" fill="#9d86c9" opacity="0.9"/>
<rect x="118.1" y="435.5" width="1.8" height="1.8" fill="#c978bb" opacity="0.9"/>
<rect x="118.6" y="439.1" width="1.8" height="1.8" fill="#f6c417" opacity="0.9"/>
<rect x="128.2" y="437.5" width="1.8" height="1.8" fill="#eda45f" opacity="0.9"/>
<rect x="129" y="444" width="1.8" height="1.8" fill="#c978bb" opacity="0.9"/>
<rect x="137.9" y="443.5" width="1.8" height="1.8" fill="#ef8080" opacity="0.9"/>
<rect x="104.7" y="445.9" width="1.8" height="1.8" fill="#e31a1c" opacity="0.9"/>
<rect x="107.8" y="445.9" width="1.8" height="1.8" fill="#e31a1c" opacity="0.9"/>
<rect x="86.2" y="450.4" width="1.8" height="1.8" fill="#dd4a22" opacity="0.9"/>
<rect x="121.7" y="449.5" width="1.8" height="1.8" fill="#262a6e" opacity="0.9"/>
<rect x="111.4" y="460.3" width="1.8" height="1.8" fill="#7d3594" opacity="0.9"/>
<rect x="77.8" y="461.5" width="1.8" height="1.8" fill="#15998a" opacity="0.9"/>
<rect x="75.35" y="463.9" width="1.8" height="1.8" fill="#e31a1c" opacity="0.9"/>
<rect x="85" y="463.2" width="1.8" height="1.8" fill="#ef8080" opacity="0.9"/>
<rect x="88.6" y="466.1" width="1.8" height="1.8" fill="#7d3594" opacity="0.9"/>
<rect x="86.2" y="469.2" width="1.8" height="1.8" fill="#c978bb" opacity="0.9"/>
<rect x="94.6" y="466.8" width="1.8" height="1.8" fill="#f6c417" opacity="0.9"/>
<rect x="98.9" y="463.9" width="1.8" height="1.8" fill="#72c5d8" opacity="0.9"/>
<rect x="65.3" y="472.8" width="1.8" height="1.8" fill="#168a4a" opacity="0.9"/>
<rect x="68.9" y="471.1" width="1.8" height="1.8" fill="#72c5d8" opacity="0.9"/>
<rect x="72.5" y="469.7" width="1.8" height="1.8" fill="#262a6e" opacity="0.9"/>
<rect x="74.1" y="469.7" width="1.8" height="1.8" fill="#262a6e" opacity="0.9"/>
<rect x="89.8" y="471.1" width="1.8" height="1.8" fill="#168a4a" opacity="0.9"/>
<rect x="93.9" y="474.7" width="1.8" height="1.8" fill="#15998a" opacity="0.9"/>
<rect x="66.9" y="480" width="1.8" height="1.8" fill="#168a4a" opacity="0.9"/>
<rect x="75.35" y="478.8" width="1.8" height="1.8" fill="#72c5d8" opacity="0.9"/>
<rect x="77.3" y="476.9" width="1.8" height="1.8" fill="#f6c417" opacity="0.9"/>
<rect x="71" y="481.2" width="1.8" height="1.8" fill="#7d3594" opacity="0.9"/>
<rect x="66.9" y="484.8" width="1.8" height="1.8" fill="#c978bb" opacity="0.9"/>
<rect x="69.3" y="482.9" width="1.8" height="1.8" fill="#eda45f" opacity="0.9"/>
<rect x="81.4" y="483.6" width="1.8" height="1.8" fill="#eda45f" opacity="0.9"/>
<rect x="54.1" y="485.1" width="1.8" height="1.8" fill="#15998a" opacity="0.9"/>
<rect x="56.1" y="483.6" width="1.8" height="1.8" fill="#72c5d8" opacity="0.9"/>
<rect x="57.6" y="481.6" width="1.8" height="1.8" fill="#55b24f" opacity="0.9"/>
<rect x="59.1" y="485.1" width="1.8" height="1.8" fill="#168a4a" opacity="0.9"/>
<rect x="55.1" y="487.1" width="1.8" height="1.8" fill="#15998a" opacity="0.9"/>
<rect x="61.1" y="482.1" width="1.8" height="1.8" fill="#72c5d8" opacity="0.9"/>
<rect x="53.6" y="488.1" width="1.8" height="1.8" fill="#168a4a" opacity="0.9"/>
<rect x="63.1" y="480.1" width="1.8" height="1.8" fill="#55b24f" opacity="0.9"/>
<rect x="79.6" y="477.6" width="1.8" height="1.8" fill="#9d86c9" opacity="0.9"/>
<line x1="52.2" y1="489.6" x2="163.3" y2="419.6" stroke="#1a1a1a" stroke-width="1.15" />
<text x="106.3" y="470.8" font-size="5.8" fill="#333" style="font-family:"Liberation Sans", sans-serif"><tspan font-style="italic">P</tspan> = .972</text>
<rect x="0" y="1" width="520" height="1" fill="#d8d8d8" />
<rect x="1" y="0" width="1" height="526" fill="#cfcfcf" />
<rect x="518" y="0" width="1" height="526" fill="#e6e6e6" />
<rect x="0" y="524" width="520" height="1" fill="#bcbcbc" />
<rect x="0" y="0" width="520" height="1" fill="#555" />
<rect x="0" y="0" width="1" height="526" fill="#555" />
<rect x="519" y="0" width="1" height="526" fill="#555" />
<rect x="0" y="525" width="520" height="1" fill="#555" />
</svg></body></html>
